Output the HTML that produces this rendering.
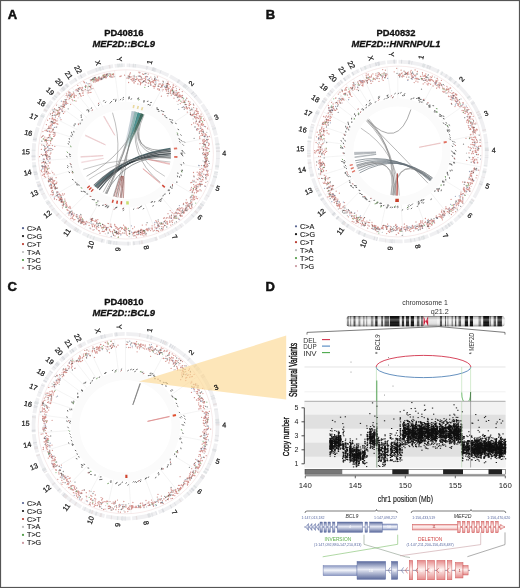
<!DOCTYPE html><html><head><meta charset="utf-8"><style>html,body{margin:0;padding:0;background:#fff;}svg{display:block;will-change:transform;}</style></head><body>
<svg width="520" height="588" viewBox="0 0 520 588" font-family='"Liberation Sans", sans-serif'>
<rect x="0" y="0" width="520" height="588" fill="#fff"/>
<defs><filter id="soft" x="0" y="0" width="1" height="1" color-interpolation-filters="sRGB"><feGaussianBlur stdDeviation="0.55"/></filter></defs>
<g filter="url(#soft)">
<text x="7.8" y="18.8" font-size="13" font-weight="bold" fill="#111" stroke="#111" stroke-width="0.5">A</text>
<text x="265.8" y="18.8" font-size="13" font-weight="bold" fill="#111" stroke="#111" stroke-width="0.5">B</text>
<text x="7.6" y="291" font-size="13" font-weight="bold" fill="#111" stroke="#111" stroke-width="0.5">C</text>
<text x="265.6" y="290.8" font-size="13" font-weight="bold" fill="#111" stroke="#111" stroke-width="0.5">D</text>
<text x="123.8" y="36.1" font-size="9.4" font-weight="bold" text-anchor="middle" fill="#111" stroke="#111" stroke-width="0.3">PD40816</text>
<text x="123.8" y="47.2" font-size="9.4" font-weight="bold" font-style="italic" text-anchor="middle" fill="#111" stroke="#111" stroke-width="0.3">MEF2D::BCL9</text>
<text x="396" y="36.2" font-size="9.4" font-weight="bold" text-anchor="middle" fill="#111" stroke="#111" stroke-width="0.3">PD40832</text>
<text x="396" y="47.3" font-size="9.4" font-weight="bold" font-style="italic" text-anchor="middle" fill="#111" stroke="#111" stroke-width="0.3">MEF2D::HNRNPUL1</text>
<text x="123.8" y="304.5" font-size="9.4" font-weight="bold" text-anchor="middle" fill="#111" stroke="#111" stroke-width="0.3">PD40810</text>
<text x="123.8" y="315.6" font-size="9.4" font-weight="bold" font-style="italic" text-anchor="middle" fill="#111" stroke="#111" stroke-width="0.3">MEF2D::BCL9</text>
<g><path d="M125.8 101.7A54.6 52.8 0 1 1 125.8 207.2A54.6 52.8 0 1 1 125.8 101.7Z M125.8 109.9A46.1 44.6 0 1 0 125.8 199A46.1 44.6 0 1 0 125.8 109.9Z" fill="#fbfbfb" fill-rule="evenodd"/>
<line x1="125.8" y1="101.7" x2="125.8" y2="69.8" stroke="#ededed" stroke-width="0.6"/>
<line x1="151.4" y1="107.9" x2="166.9" y2="79.8" stroke="#ededed" stroke-width="0.6"/>
<line x1="170.7" y1="124.5" x2="197.9" y2="106.5" stroke="#ededed" stroke-width="0.6"/>
<line x1="179.2" y1="143.7" x2="211.5" y2="137.2" stroke="#ededed" stroke-width="0.6"/>
<line x1="179.5" y1="163.9" x2="211.9" y2="169.7" stroke="#ededed" stroke-width="0.6"/>
<line x1="172.4" y1="181.9" x2="200.5" y2="198.5" stroke="#ededed" stroke-width="0.6"/>
<line x1="160.1" y1="195.5" x2="180.8" y2="220.2" stroke="#ededed" stroke-width="0.6"/>
<line x1="145" y1="203.9" x2="156.6" y2="233.7" stroke="#ededed" stroke-width="0.6"/>
<line x1="129.2" y1="207.1" x2="131.3" y2="238.9" stroke="#ededed" stroke-width="0.6"/>
<line x1="113.8" y1="205.9" x2="106.6" y2="237" stroke="#ededed" stroke-width="0.6"/>
<line x1="99.8" y1="200.9" x2="84.2" y2="228.9" stroke="#ededed" stroke-width="0.6"/>
<line x1="87.8" y1="192.4" x2="64.9" y2="215.3" stroke="#ededed" stroke-width="0.6"/>
<line x1="78.7" y1="181.2" x2="50.3" y2="197.4" stroke="#ededed" stroke-width="0.6"/>
<line x1="73.5" y1="169.9" x2="42" y2="179.2" stroke="#ededed" stroke-width="0.6"/>
<line x1="71.3" y1="158.5" x2="38.4" y2="160.9" stroke="#ededed" stroke-width="0.6"/>
<line x1="71.6" y1="147.5" x2="39" y2="143.2" stroke="#ededed" stroke-width="0.6"/>
<line x1="73.9" y1="138" x2="42.6" y2="128" stroke="#ededed" stroke-width="0.6"/>
<line x1="77.5" y1="129.8" x2="48.3" y2="114.9" stroke="#ededed" stroke-width="0.6"/>
<line x1="82.2" y1="122.6" x2="56" y2="103.3" stroke="#ededed" stroke-width="0.6"/>
<line x1="86.8" y1="117.5" x2="63.3" y2="95.2" stroke="#ededed" stroke-width="0.6"/>
<line x1="92.3" y1="112.7" x2="72.1" y2="87.6" stroke="#ededed" stroke-width="0.6"/>
<line x1="97.1" y1="109.5" x2="79.8" y2="82.4" stroke="#ededed" stroke-width="0.6"/>
<line x1="102.6" y1="106.7" x2="88.6" y2="77.8" stroke="#ededed" stroke-width="0.6"/>
<line x1="118.7" y1="102.1" x2="114.5" y2="70.5" stroke="#ededed" stroke-width="0.6"/>
<ellipse cx="125.8" cy="154.4" rx="87.6" ry="84.6" fill="none" stroke="#f2dede" stroke-width="0.6"/>
<path d="M126.6 63.5A94.2 91 0 0 1 169.3 73.8L167.6 77A90.4 87.4 0 0 0 126.5 67.1Z" fill="#f0f0f2"/>
<path d="M146.5 65.7A94.2 91 0 0 1 147.9 66L147 69.5A90.4 87.4 0 0 0 145.7 69.2Z" fill="#e6e0e1"/>
<path d="M146.5 65.7A94.2 91 0 0 1 148.3 66.1L147.4 69.6A90.4 87.4 0 0 0 145.7 69.2Z" fill="#e4e5e8"/>
<path d="M134.8 63.9A94.2 91 0 0 1 136.1 64L135.7 67.6A90.4 87.4 0 0 0 134.4 67.5Z" fill="#dfe3e4"/>
<path d="M160.9 70A94.2 91 0 0 1 161.5 70.3L160.1 73.7A90.4 87.4 0 0 0 159.5 73.4Z" fill="#dadce0"/>
<path d="M132.9 63.7A94.2 91 0 0 1 134.2 63.8L133.9 67.4A90.4 87.4 0 0 0 132.6 67.3Z" fill="#dfe0e3"/>
<path d="M152.7 67.2A94.2 91 0 0 1 153.8 67.6L152.6 71A90.4 87.4 0 0 0 151.6 70.7Z" fill="#e6e0e1"/>
<path d="M155.1 68A94.2 91 0 0 1 156.6 68.5L155.3 71.9A90.4 87.4 0 0 0 154 71.5Z" fill="#e4e5e8"/>
<path d="M153.8 67.6A94.2 91 0 0 1 155.6 68.1L154.4 71.6A90.4 87.4 0 0 0 152.7 71.1Z" fill="#dfe0e3"/>
<path d="M129.2 63.5A94.2 91 0 0 1 130 63.5L129.9 67.2A90.4 87.4 0 0 0 129.1 67.1Z" fill="#e4e5e8"/>
<path d="M152.8 67.3A94.2 91 0 0 1 154.5 67.8L153.4 71.3A90.4 87.4 0 0 0 151.8 70.8Z" fill="#dadce0"/>
<path d="M170.8 74.5A94.2 91 0 0 1 202.8 102.2L199.7 104.3A90.4 87.4 0 0 0 169 77.7Z" fill="#f0f0f2"/>
<path d="M186.5 84.9A94.2 91 0 0 1 187.9 86.1L185.4 88.8A90.4 87.4 0 0 0 184.1 87.7Z" fill="#dfe3e4"/>
<path d="M179.4 79.7A94.2 91 0 0 1 180.2 80.2L178 83.2A90.4 87.4 0 0 0 177.2 82.6Z" fill="#dfe0e3"/>
<path d="M193.5 91.3A94.2 91 0 0 1 194.4 92.2L191.6 94.6A90.4 87.4 0 0 0 190.8 93.8Z" fill="#dadce0"/>
<path d="M185.4 84A94.2 91 0 0 1 186.4 84.9L184 87.7A90.4 87.4 0 0 0 183 86.8Z" fill="#dfe0e3"/>
<path d="M194.9 92.7A94.2 91 0 0 1 195.6 93.4L192.8 95.8A90.4 87.4 0 0 0 192.1 95.1Z" fill="#e4e5e8"/>
<path d="M188.9 86.9A94.2 91 0 0 1 189.3 87.3L186.7 90A90.4 87.4 0 0 0 186.3 89.6Z" fill="#dfe3e4"/>
<path d="M196.6 94.5A94.2 91 0 0 1 197.3 95.3L194.5 97.7A90.4 87.4 0 0 0 193.7 96.9Z" fill="#dadce0"/>
<path d="M184.7 83.5A94.2 91 0 0 1 186.3 84.8L183.9 87.5A90.4 87.4 0 0 0 182.3 86.3Z" fill="#dfe0e3"/>
<path d="M178.7 79.2A94.2 91 0 0 1 180.3 80.3L178.1 83.3A90.4 87.4 0 0 0 176.5 82.2Z" fill="#dfe0e3"/>
<path d="M203.8 103.5A94.2 91 0 0 1 217.8 135.1L214.1 135.9A90.4 87.4 0 0 0 200.6 105.5Z" fill="#f0f0f2"/>
<path d="M211.9 117.7A94.2 91 0 0 1 212.7 119.6L209.2 121A90.4 87.4 0 0 0 208.4 119.2Z" fill="#e6e0e1"/>
<path d="M211.1 116.1A94.2 91 0 0 1 211.7 117.4L208.3 118.9A90.4 87.4 0 0 0 207.7 117.7Z" fill="#e4e5e8"/>
<path d="M215.7 127.7A94.2 91 0 0 1 216 128.6L212.4 129.6A90.4 87.4 0 0 0 212.1 128.8Z" fill="#dfe0e3"/>
<path d="M209.4 112.8A94.2 91 0 0 1 209.7 113.2L206.3 114.9A90.4 87.4 0 0 0 206.1 114.4Z" fill="#e6e0e1"/>
<path d="M215.5 127A94.2 91 0 0 1 215.7 127.7L212.1 128.7A90.4 87.4 0 0 0 211.9 128.1Z" fill="#e4e5e8"/>
<path d="M215 125.4A94.2 91 0 0 1 215.1 125.8L211.5 127A90.4 87.4 0 0 0 211.4 126.5Z" fill="#e6e0e1"/>
<path d="M215.9 128.3A94.2 91 0 0 1 216.2 129L212.5 130.1A90.4 87.4 0 0 0 212.3 129.4Z" fill="#dfe3e4"/>
<path d="M207.3 109A94.2 91 0 0 1 208 110.1L204.7 111.9A90.4 87.4 0 0 0 204.1 110.8Z" fill="#e4e5e8"/>
<path d="M218.1 136.7A94.2 91 0 0 1 218.5 170L214.8 169.4A90.4 87.4 0 0 0 214.4 137.4Z" fill="#f0f0f2"/>
<path d="M219.8 150.6A94.2 91 0 0 1 219.9 151.7L216.1 151.8A90.4 87.4 0 0 0 216.1 150.8Z" fill="#e6e0e1"/>
<path d="M219.8 150.7A94.2 91 0 0 1 219.9 151.5L216.1 151.6A90.4 87.4 0 0 0 216.1 150.8Z" fill="#dadce0"/>
<path d="M219.2 165.5A94.2 91 0 0 1 218.9 167.5L215.2 167A90.4 87.4 0 0 0 215.5 165.1Z" fill="#dfe3e4"/>
<path d="M219.6 146.8A94.2 91 0 0 1 219.7 148.7L216 148.9A90.4 87.4 0 0 0 215.8 147.1Z" fill="#e4e5e8"/>
<path d="M219.1 142.9A94.2 91 0 0 1 219.4 144.9L215.6 145.3A90.4 87.4 0 0 0 215.4 143.4Z" fill="#dfe3e4"/>
<path d="M219.8 158.1A94.2 91 0 0 1 219.8 158.7L216 158.5A90.4 87.4 0 0 0 216.1 157.9Z" fill="#e4e5e8"/>
<path d="M219.2 143.8A94.2 91 0 0 1 219.4 144.6L215.6 145A90.4 87.4 0 0 0 215.5 144.2Z" fill="#dfe3e4"/>
<path d="M219.6 147.6A94.2 91 0 0 1 219.7 148.6L215.9 148.8A90.4 87.4 0 0 0 215.9 147.9Z" fill="#dfe0e3"/>
<path d="M218.2 171.6A94.2 91 0 0 1 206.6 201.1L203.4 199.2A90.4 87.4 0 0 0 214.5 170.9Z" fill="#f0f0f2"/>
<path d="M217.7 173.9A94.2 91 0 0 1 217.5 174.7L213.9 173.9A90.4 87.4 0 0 0 214 173.1Z" fill="#e4e5e8"/>
<path d="M218.1 172.1A94.2 91 0 0 1 217.9 173.1L214.2 172.4A90.4 87.4 0 0 0 214.4 171.4Z" fill="#dfe3e4"/>
<path d="M214.3 185.4A94.2 91 0 0 1 213.5 187.3L210 186A90.4 87.4 0 0 0 210.7 184.2Z" fill="#e6e0e1"/>
<path d="M209.3 196.4A94.2 91 0 0 1 208.9 197.1L205.6 195.3A90.4 87.4 0 0 0 205.9 194.8Z" fill="#e6e0e1"/>
<path d="M216.9 177.3A94.2 91 0 0 1 216.7 177.9L213.1 177A90.4 87.4 0 0 0 213.3 176.3Z" fill="#e4e5e8"/>
<path d="M209.5 196A94.2 91 0 0 1 209.1 196.8L205.7 195.1A90.4 87.4 0 0 0 206.1 194.4Z" fill="#e4e5e8"/>
<path d="M217.1 176.5A94.2 91 0 0 1 216.7 177.9L213.1 177A90.4 87.4 0 0 0 213.4 175.6Z" fill="#dfe3e4"/>
<path d="M205.7 202.4A94.2 91 0 0 1 185.6 224.7L183.2 221.9A90.4 87.4 0 0 0 202.5 200.5Z" fill="#f0f0f2"/>
<path d="M202.4 207.3A94.2 91 0 0 1 201.2 208.9L198.2 206.7A90.4 87.4 0 0 0 199.3 205.2Z" fill="#e6e0e1"/>
<path d="M194.5 216.6A94.2 91 0 0 1 193.7 217.5L191 214.9A90.4 87.4 0 0 0 191.7 214.1Z" fill="#dfe0e3"/>
<path d="M203.9 205.2A94.2 91 0 0 1 203.2 206.2L200.1 204.2A90.4 87.4 0 0 0 200.8 203.1Z" fill="#dadce0"/>
<path d="M201.6 208.3A94.2 91 0 0 1 200.7 209.6L197.7 207.4A90.4 87.4 0 0 0 198.6 206.2Z" fill="#dadce0"/>
<path d="M198.2 212.6A94.2 91 0 0 1 196.9 214L194.1 211.6A90.4 87.4 0 0 0 195.3 210.2Z" fill="#e6e0e1"/>
<path d="M200.6 209.6A94.2 91 0 0 1 200.2 210.2L197.2 208A90.4 87.4 0 0 0 197.6 207.4Z" fill="#dfe0e3"/>
<path d="M203.6 205.6A94.2 91 0 0 1 202.9 206.6L199.8 204.5A90.4 87.4 0 0 0 200.5 203.5Z" fill="#dfe3e4"/>
<path d="M184.3 225.7A94.2 91 0 0 1 159.7 239.3L158.3 235.9A90.4 87.4 0 0 0 182 222.8Z" fill="#f0f0f2"/>
<path d="M169.7 234.9A94.2 91 0 0 1 168.8 235.4L167.1 232.1A90.4 87.4 0 0 0 167.9 231.7Z" fill="#e4e5e8"/>
<path d="M166.2 236.6A94.2 91 0 0 1 165.7 236.9L164.1 233.6A90.4 87.4 0 0 0 164.6 233.3Z" fill="#e6e0e1"/>
<path d="M173.9 232.7A94.2 91 0 0 1 173.4 233L171.5 229.8A90.4 87.4 0 0 0 171.9 229.5Z" fill="#e4e5e8"/>
<path d="M177.8 230.3A94.2 91 0 0 1 176.7 231L174.6 227.9A90.4 87.4 0 0 0 175.7 227.2Z" fill="#e4e5e8"/>
<path d="M182.2 227.2A94.2 91 0 0 1 181.7 227.7L179.4 224.7A90.4 87.4 0 0 0 180 224.3Z" fill="#e6e0e1"/>
<path d="M158.1 239.9A94.2 91 0 0 1 132.6 245.2L132.3 241.6A90.4 87.4 0 0 0 156.8 236.5Z" fill="#f0f0f2"/>
<path d="M140.6 244.3A94.2 91 0 0 1 139.2 244.5L138.6 240.9A90.4 87.4 0 0 0 140 240.7Z" fill="#e4e5e8"/>
<path d="M143.2 243.9A94.2 91 0 0 1 141.2 244.2L140.6 240.6A90.4 87.4 0 0 0 142.5 240.3Z" fill="#e6e0e1"/>
<path d="M134.9 245A94.2 91 0 0 1 133.3 245.2L133 241.5A90.4 87.4 0 0 0 134.5 241.4Z" fill="#dfe0e3"/>
<path d="M157.6 240.1A94.2 91 0 0 1 156.1 240.6L154.9 237.1A90.4 87.4 0 0 0 156.3 236.7Z" fill="#e6e0e1"/>
<path d="M156.4 240.5A94.2 91 0 0 1 155.5 240.8L154.3 237.3A90.4 87.4 0 0 0 155.2 237Z" fill="#e4e5e8"/>
<path d="M130.9 245.3A94.2 91 0 0 1 105.9 243.4L106.7 239.8A90.4 87.4 0 0 0 130.7 241.7Z" fill="#f0f0f2"/>
<path d="M117.2 245.1A94.2 91 0 0 1 115.5 244.9L115.9 241.3A90.4 87.4 0 0 0 117.5 241.4Z" fill="#e4e5e8"/>
<path d="M111 244.3A94.2 91 0 0 1 109.1 244L109.7 240.4A90.4 87.4 0 0 0 111.6 240.7Z" fill="#dadce0"/>
<path d="M128.8 245.4A94.2 91 0 0 1 127.5 245.4L127.4 241.8A90.4 87.4 0 0 0 128.7 241.8Z" fill="#dfe0e3"/>
<path d="M109.1 244A94.2 91 0 0 1 107.9 243.8L108.6 240.2A90.4 87.4 0 0 0 109.8 240.4Z" fill="#dfe0e3"/>
<path d="M109.3 244A94.2 91 0 0 1 107.9 243.8L108.6 240.2A90.4 87.4 0 0 0 109.9 240.5Z" fill="#dfe3e4"/>
<path d="M114.3 244.8A94.2 91 0 0 1 113.2 244.6L113.7 241A90.4 87.4 0 0 0 114.7 241.2Z" fill="#dfe0e3"/>
<path d="M104.3 243.1A94.2 91 0 0 1 81.8 234.9L83.5 231.7A90.4 87.4 0 0 0 105.2 239.5Z" fill="#f0f0f2"/>
<path d="M90.3 238.8A94.2 91 0 0 1 89.7 238.5L91.2 235.2A90.4 87.4 0 0 0 91.7 235.4Z" fill="#dfe0e3"/>
<path d="M87.7 237.7A94.2 91 0 0 1 86.6 237.2L88.2 233.9A90.4 87.4 0 0 0 89.2 234.3Z" fill="#dfe3e4"/>
<path d="M93.7 240A94.2 91 0 0 1 92.5 239.6L93.9 236.2A90.4 87.4 0 0 0 95 236.6Z" fill="#dfe3e4"/>
<path d="M102.3 242.6A94.2 91 0 0 1 100.7 242.2L101.7 238.7A90.4 87.4 0 0 0 103.3 239.1Z" fill="#dfe0e3"/>
<path d="M80.3 234.2A94.2 91 0 0 1 60.9 220.5L63.5 217.8A90.4 87.4 0 0 0 82.1 231Z" fill="#f0f0f2"/>
<path d="M73.9 230.4A94.2 91 0 0 1 73.4 230.1L75.5 227.1A90.4 87.4 0 0 0 76 227.4Z" fill="#dfe0e3"/>
<path d="M75.5 231.4A94.2 91 0 0 1 74.2 230.6L76.2 227.5A90.4 87.4 0 0 0 77.6 228.4Z" fill="#e6e0e1"/>
<path d="M64.9 223.9A94.2 91 0 0 1 63.7 222.9L66.2 220.1A90.4 87.4 0 0 0 67.3 221.1Z" fill="#e6e0e1"/>
<path d="M75 231.1A94.2 91 0 0 1 74.6 230.8L76.6 227.8A90.4 87.4 0 0 0 77.1 228Z" fill="#dadce0"/>
<path d="M77.3 232.5A94.2 91 0 0 1 76 231.7L78 228.6A90.4 87.4 0 0 0 79.3 229.4Z" fill="#dfe3e4"/>
<path d="M59.8 219.4A94.2 91 0 0 1 45 201.3L48.3 199.4A90.4 87.4 0 0 0 62.4 216.8Z" fill="#f0f0f2"/>
<path d="M56.9 216.6A94.2 91 0 0 1 55.6 215.2L58.4 212.7A90.4 87.4 0 0 0 59.7 214.1Z" fill="#e6e0e1"/>
<path d="M51.8 210.8A94.2 91 0 0 1 51.3 210.1L54.3 207.9A90.4 87.4 0 0 0 54.8 208.6Z" fill="#e6e0e1"/>
<path d="M49.4 207.7A94.2 91 0 0 1 49 207.1L52 205A90.4 87.4 0 0 0 52.5 205.6Z" fill="#e6e0e1"/>
<path d="M47.6 205.1A94.2 91 0 0 1 46.6 203.7L49.8 201.8A90.4 87.4 0 0 0 50.7 203.1Z" fill="#e4e5e8"/>
<path d="M46.5 203.7A94.2 91 0 0 1 45.9 202.7L49.1 200.8A90.4 87.4 0 0 0 49.7 201.7Z" fill="#dfe3e4"/>
<path d="M44.2 199.9A94.2 91 0 0 1 36 181.8L39.6 180.7A90.4 87.4 0 0 0 47.5 198.1Z" fill="#f0f0f2"/>
<path d="M36.5 183.3A94.2 91 0 0 1 36.2 182.5L39.8 181.4A90.4 87.4 0 0 0 40 182.2Z" fill="#e4e5e8"/>
<path d="M39.6 191.2A94.2 91 0 0 1 38.9 189.5L42.3 188.1A90.4 87.4 0 0 0 43 189.7Z" fill="#dfe0e3"/>
<path d="M37.9 187.2A94.2 91 0 0 1 37.2 185.4L40.7 184.1A90.4 87.4 0 0 0 41.4 185.9Z" fill="#dadce0"/>
<path d="M37.1 185.2A94.2 91 0 0 1 36.9 184.6L40.5 183.3A90.4 87.4 0 0 0 40.7 183.9Z" fill="#e6e0e1"/>
<path d="M41.5 195.1A94.2 91 0 0 1 41.2 194.4L44.5 192.8A90.4 87.4 0 0 0 44.9 193.5Z" fill="#e6e0e1"/>
<path d="M35.5 180.3A94.2 91 0 0 1 31.9 162.2L35.7 161.9A90.4 87.4 0 0 0 39.1 179.3Z" fill="#f0f0f2"/>
<path d="M33.7 173.4A94.2 91 0 0 1 33.4 172.2L37.1 171.5A90.4 87.4 0 0 0 37.4 172.7Z" fill="#dadce0"/>
<path d="M32.6 167.4A94.2 91 0 0 1 32.3 165.6L36 165.1A90.4 87.4 0 0 0 36.3 166.9Z" fill="#dfe3e4"/>
<path d="M33.4 172.2A94.2 91 0 0 1 33.3 171.6L37 170.9A90.4 87.4 0 0 0 37.1 171.5Z" fill="#dfe0e3"/>
<path d="M34.1 175.3A94.2 91 0 0 1 33.8 173.9L37.5 173.1A90.4 87.4 0 0 0 37.8 174.5Z" fill="#dadce0"/>
<path d="M31.8 160.6A94.2 91 0 0 1 32.3 143.1L36.1 143.6A90.4 87.4 0 0 0 35.6 160.3Z" fill="#f0f0f2"/>
<path d="M31.7 150.6A94.2 91 0 0 1 31.7 149.7L35.5 149.8A90.4 87.4 0 0 0 35.4 150.8Z" fill="#dfe3e4"/>
<path d="M31.8 160.3A94.2 91 0 0 1 31.7 159.6L35.5 159.4A90.4 87.4 0 0 0 35.5 160Z" fill="#e6e0e1"/>
<path d="M31.6 157.3A94.2 91 0 0 1 31.6 155.6L35.4 155.5A90.4 87.4 0 0 0 35.4 157.2Z" fill="#dadce0"/>
<path d="M31.6 156.4A94.2 91 0 0 1 31.6 155.7L35.4 155.7A90.4 87.4 0 0 0 35.4 156.4Z" fill="#dfe0e3"/>
<path d="M32.5 141.6A94.2 91 0 0 1 36.1 126.7L39.7 127.9A90.4 87.4 0 0 0 36.3 142.1Z" fill="#f0f0f2"/>
<path d="M32.8 140A94.2 91 0 0 1 33 138.7L36.7 139.3A90.4 87.4 0 0 0 36.5 140.5Z" fill="#dadce0"/>
<path d="M33 138.6A94.2 91 0 0 1 33.3 137.4L37 138.1A90.4 87.4 0 0 0 36.7 139.2Z" fill="#e4e5e8"/>
<path d="M36.6 125.3A94.2 91 0 0 1 42.1 112.7L45.5 114.3A90.4 87.4 0 0 0 40.1 126.4Z" fill="#f0f0f2"/>
<path d="M40.3 116.2A94.2 91 0 0 1 41.1 114.7L44.5 116.3A90.4 87.4 0 0 0 43.8 117.7Z" fill="#dfe3e4"/>
<path d="M40.3 116.2A94.2 91 0 0 1 40.7 115.5L44.1 117A90.4 87.4 0 0 0 43.8 117.7Z" fill="#dadce0"/>
<path d="M40.7 115.4A94.2 91 0 0 1 41.3 114.2L44.7 115.8A90.4 87.4 0 0 0 44.1 116.9Z" fill="#dfe3e4"/>
<path d="M42.9 111.3A94.2 91 0 0 1 50.2 100.1L53.3 102.3A90.4 87.4 0 0 0 46.2 113Z" fill="#f0f0f2"/>
<path d="M46.3 105.6A94.2 91 0 0 1 47.5 103.8L50.6 105.9A90.4 87.4 0 0 0 49.5 107.5Z" fill="#e4e5e8"/>
<path d="M45.6 106.8A94.2 91 0 0 1 46.5 105.3L49.7 107.3A90.4 87.4 0 0 0 48.8 108.7Z" fill="#e4e5e8"/>
<path d="M43.4 110.3A94.2 91 0 0 1 44.4 108.6L47.7 110.4A90.4 87.4 0 0 0 46.7 112Z" fill="#e6e0e1"/>
<path d="M51.2 98.9A94.2 91 0 0 1 58 91.3L60.7 93.8A90.4 87.4 0 0 0 54.2 101.1Z" fill="#f0f0f2"/>
<path d="M52 97.8A94.2 91 0 0 1 52.8 96.9L55.7 99.2A90.4 87.4 0 0 0 55 100.1Z" fill="#dfe0e3"/>
<path d="M53.7 95.9A94.2 91 0 0 1 54.6 94.9L57.4 97.2A90.4 87.4 0 0 0 56.6 98.2Z" fill="#dfe3e4"/>
<path d="M56.6 92.7A94.2 91 0 0 1 58 91.3L60.7 93.8A90.4 87.4 0 0 0 59.3 95.2Z" fill="#e6e0e1"/>
<path d="M59.1 90.1A94.2 91 0 0 1 67.4 83L69.8 85.9A90.4 87.4 0 0 0 61.8 92.7Z" fill="#f0f0f2"/>
<path d="M61.8 87.7A94.2 91 0 0 1 63.3 86.3L65.8 89.1A90.4 87.4 0 0 0 64.3 90.4Z" fill="#dfe0e3"/>
<path d="M65 84.9A94.2 91 0 0 1 66.5 83.8L68.8 86.6A90.4 87.4 0 0 0 67.5 87.7Z" fill="#dfe0e3"/>
<path d="M60.8 88.5A94.2 91 0 0 1 62.3 87.2L64.8 89.9A90.4 87.4 0 0 0 63.4 91.2Z" fill="#dfe0e3"/>
<path d="M68.7 82.1A94.2 91 0 0 1 75.7 77.4L77.7 80.5A90.4 87.4 0 0 0 71 85Z" fill="#f0f0f2"/>
<path d="M74.2 78.3A94.2 91 0 0 1 75 77.8L77.1 80.9A90.4 87.4 0 0 0 76.2 81.4Z" fill="#dfe0e3"/>
<path d="M77 76.6A94.2 91 0 0 1 85 72.4L86.7 75.7A90.4 87.4 0 0 0 79 79.7Z" fill="#f0f0f2"/>
<path d="M79.8 75A94.2 91 0 0 1 80.3 74.7L82.1 77.9A90.4 87.4 0 0 0 81.6 78.2Z" fill="#e6e0e1"/>
<path d="M79.7 75.1A94.2 91 0 0 1 80.8 74.5L82.6 77.7A90.4 87.4 0 0 0 81.6 78.2Z" fill="#dadce0"/>
<path d="M86.5 71.7A94.2 91 0 0 1 112.8 64.3L113.3 67.9A90.4 87.4 0 0 0 88.1 75Z" fill="#f0f0f2"/>
<path d="M99 67.2A94.2 91 0 0 1 99.6 67L100.6 70.5A90.4 87.4 0 0 0 100.1 70.7Z" fill="#dfe0e3"/>
<path d="M97.5 67.6A94.2 91 0 0 1 98 67.5L99.1 71A90.4 87.4 0 0 0 98.6 71.1Z" fill="#dfe3e4"/>
<path d="M95.1 68.4A94.2 91 0 0 1 96.7 67.9L97.9 71.3A90.4 87.4 0 0 0 96.3 71.9Z" fill="#e4e5e8"/>
<path d="M98.6 67.3A94.2 91 0 0 1 100.7 66.7L101.7 70.3A90.4 87.4 0 0 0 99.7 70.8Z" fill="#dfe3e4"/>
<path d="M108.5 65A94.2 91 0 0 1 110.1 64.7L110.7 68.3A90.4 87.4 0 0 0 109.2 68.6Z" fill="#e6e0e1"/>
<path d="M101.5 66.5A94.2 91 0 0 1 103 66.1L104 69.7A90.4 87.4 0 0 0 102.4 70Z" fill="#e4e5e8"/>
<path d="M114.4 64.1A94.2 91 0 0 1 124.9 63.5L125 67.1A90.4 87.4 0 0 0 114.9 67.7Z" fill="#f0f0f2"/>
<path d="M119 63.7A94.2 91 0 0 1 120.4 63.6L120.7 67.2A90.4 87.4 0 0 0 119.3 67.3Z" fill="#dfe3e4"/>
<path d="M121.1 63.6A94.2 91 0 0 1 122.5 63.5L122.6 67.1A90.4 87.4 0 0 0 121.3 67.2Z" fill="#dfe3e4"/>
<path d="M117.1 63.8A94.2 91 0 0 1 118.7 63.7L119 67.3A90.4 87.4 0 0 0 117.5 67.5Z" fill="#dfe3e4"/>
<text x="149.6" y="62.1" transform="rotate(-76 149.6 62.1)" text-anchor="middle" dy="2.55" font-size="7.2" fill="#222" stroke="#222" stroke-width="0.25">1</text>
<text x="191.3" y="83.4" transform="rotate(-48.2 191.3 83.4)" text-anchor="middle" dy="2.55" font-size="7.2" fill="#222" stroke="#222" stroke-width="0.25">2</text>
<text x="216.3" y="117" transform="rotate(-23.2 216.3 117)" text-anchor="middle" dy="2.55" font-size="7.2" fill="#222" stroke="#222" stroke-width="0.25">3</text>
<text x="224.2" y="153.3" transform="rotate(-0.7 224.2 153.3)" text-anchor="middle" dy="2.55" font-size="7.2" fill="#222" stroke="#222" stroke-width="0.25">4</text>
<text x="217.8" y="188.3" transform="rotate(20.8 217.8 188.3)" text-anchor="middle" dy="2.55" font-size="7.2" fill="#222" stroke="#222" stroke-width="0.25">5</text>
<text x="199.9" y="217.1" transform="rotate(41.2 199.9 217.1)" text-anchor="middle" dy="2.55" font-size="7.2" fill="#222" stroke="#222" stroke-width="0.25">6</text>
<text x="174.7" y="237.1" transform="rotate(60.2 174.7 237.1)" text-anchor="middle" dy="2.55" font-size="7.2" fill="#222" stroke="#222" stroke-width="0.25">7</text>
<text x="146.4" y="247.5" transform="rotate(77.9 146.4 247.5)" text-anchor="middle" dy="2.55" font-size="7.2" fill="#222" stroke="#222" stroke-width="0.25">8</text>
<text x="118" y="249.4" transform="rotate(-85.5 118 249.4)" text-anchor="middle" dy="2.55" font-size="7.2" fill="#222" stroke="#222" stroke-width="0.25">9</text>
<text x="90.7" y="244.9" transform="rotate(-69.5 90.7 244.9)" text-anchor="middle" dy="2.55" font-size="7.2" fill="#222" stroke="#222" stroke-width="0.25">10</text>
<text x="66.8" y="232.4" transform="rotate(-53.8 66.8 232.4)" text-anchor="middle" dy="2.55" font-size="7.2" fill="#222" stroke="#222" stroke-width="0.25">11</text>
<text x="47.3" y="214.2" transform="rotate(-38.3 47.3 214.2)" text-anchor="middle" dy="2.55" font-size="7.2" fill="#222" stroke="#222" stroke-width="0.25">12</text>
<text x="34.3" y="193.3" transform="rotate(-23.7 34.3 193.3)" text-anchor="middle" dy="2.55" font-size="7.2" fill="#222" stroke="#222" stroke-width="0.25">13</text>
<text x="27.6" y="172.4" transform="rotate(-10.7 27.6 172.4)" text-anchor="middle" dy="2.55" font-size="7.2" fill="#222" stroke="#222" stroke-width="0.25">14</text>
<text x="25.9" y="151.7" transform="rotate(1.6 25.9 151.7)" text-anchor="middle" dy="2.55" font-size="7.2" fill="#222" stroke="#222" stroke-width="0.25">15</text>
<text x="28.4" y="132.9" transform="rotate(12.9 28.4 132.9)" text-anchor="middle" dy="2.55" font-size="7.2" fill="#222" stroke="#222" stroke-width="0.25">16</text>
<text x="33.8" y="116.7" transform="rotate(23 33.8 116.7)" text-anchor="middle" dy="2.55" font-size="7.2" fill="#222" stroke="#222" stroke-width="0.25">17</text>
<text x="41.5" y="102.6" transform="rotate(32.5 41.5 102.6)" text-anchor="middle" dy="2.55" font-size="7.2" fill="#222" stroke="#222" stroke-width="0.25">18</text>
<text x="50.1" y="91.3" transform="rotate(40.8 50.1 91.3)" text-anchor="middle" dy="2.55" font-size="7.2" fill="#222" stroke="#222" stroke-width="0.25">19</text>
<text x="59.3" y="82.3" transform="rotate(48.3 59.3 82.3)" text-anchor="middle" dy="2.55" font-size="7.2" fill="#222" stroke="#222" stroke-width="0.25">20</text>
<text x="68.8" y="75.1" transform="rotate(55.3 68.8 75.1)" text-anchor="middle" dy="2.55" font-size="7.2" fill="#222" stroke="#222" stroke-width="0.25">21</text>
<text x="78.2" y="69.5" transform="rotate(61.6 78.2 69.5)" text-anchor="middle" dy="2.55" font-size="7.2" fill="#222" stroke="#222" stroke-width="0.25">22</text>
<text x="98.1" y="62.8" transform="rotate(73.7 98.1 62.8)" text-anchor="middle" dy="2.55" font-size="7.2" fill="#222" stroke="#222" stroke-width="0.25">X</text>
<text x="119.4" y="59.2" transform="rotate(86.3 119.4 59.2)" text-anchor="middle" dy="2.55" font-size="7.2" fill="#222" stroke="#222" stroke-width="0.25">Y</text>
<path d="M160.7 87.4h0M144.9 80.7h0M159.5 89.7h0M145.5 76.7h0M148.2 74.1h0M143.6 81.4h0M155.3 85.8h0M149.4 80.6h0M153.6 86.3h0M150.9 84.2h0M154.5 79.3h0M135.4 81.3h0M141.7 79.7h0M148.2 83.6h0M154.4 80.5h0M158.9 84.2h0M130.4 72.9h0M154 86.5h0M159.2 90.2h0M151.7 81.9h0M130.5 77.1h0M163.1 84.5h0M128.6 82.5h0M144.1 78.4h0M133.2 78.1h0M132.4 80.9h0M158.2 86.1h0M140.4 84.7h0M157.4 77h0M140.6 83.8h0M139.7 75.9h0M150.3 83.5h0M140.3 82.2h0M152.5 81.4h0M153.6 82.5h0M128.3 78.6h0M159.8 83.9h0M128.2 75.8h0M145.6 77.1h0M158.9 88.9h0M137 79h0M137 78.5h0M162.9 81.1h0M144 80.6h0M155 86.5h0M149.6 80.8h0M131.2 76.8h0M150.8 77.1h0M160.2 84h0M142.3 79h0M145.2 85h0M146.2 82.6h0M134 81.9h0M154.1 88.1h0M143.5 74.4h0M129.7 74.2h0M151.8 81.6h0M150.5 82.6h0M153 82.6h0M153.7 80.7h0M142 82.7h0M139.3 72.8h0M139.5 81.3h0M147.5 76.7h0M133.2 76.1h0M145.2 81.6h0M161.6 85.4h0M154.9 84h0M154.8 79h0M154.6 80.5h0M134.1 83h0M139 79.3h0M140.8 83.6h0M162.6 85.4h0M133.9 80h0M139 72.2h0M156.1 80.1h0M157.5 89h0M148.7 79.8h0M155.1 80.6h0M141.2 76.8h0M136.5 79.5h0M153 81.2h0M136.4 76.8h0M149.9 81.6h0M158 80.2h0M148.3 80.3h0M134.2 78.6h0M132.3 78.8h0M140.3 76.5h0M162.3 84.1h0M126.9 78.1h0M134 80.1h0M140.3 79.7h0M151.9 79.1h0M138.6 79.9h0M131.6 79.8h0M140.6 83.2h0M129.9 76.8h0M129.2 76.4h0M145.6 79.4h0M137.9 84h0M142.5 73.9h0M148.4 82.8h0M150.3 81.9h0M145.8 78.1h0M153.2 86.2h0M133.7 79.3h0M138.4 80.7h0M161.9 86.9h0M130.9 79.3h0M173.2 85h0M168 81.9h0M176 93.6h0M178.1 96.1h0M179.6 99.8h0M174.3 92.9h0M186.7 98.1h0M189 105.2h0M178.6 100.6h0M189 107.4h0M171.3 95.2h0M166.5 90.9h0M184.4 101.4h0M177.6 94h0M168.2 88.3h0M173.5 92h0M187.5 108.2h0M167.7 83.6h0M173.6 85.2h0M182.3 91.6h0M186.6 107.7h0M183.6 102.2h0M174 91.8h0M168.4 91.7h0M180.3 103.6h0M173.7 87.3h0M177 95.8h0M167 87.7h0M174.8 95.3h0M183.2 100.1h0M179.7 97.1h0M185.2 104.7h0M172 90.1h0M181.8 97.7h0M180.2 95.3h0M175.8 86.7h0M182.5 95.5h0M170.2 86.8h0M180.5 96.6h0M167.6 86.9h0M187.3 112.1h0M172.5 89.6h0M175.6 94.8h0M170.2 92.2h0M189.5 108.3h0M193.6 107.6h0M190.6 104.4h0M171.9 89h0M172.6 87.2h0M170.5 90.2h0M184.3 101.3h0M187.1 108.9h0M165.6 89.6h0M168.3 83.3h0M165.2 87.4h0M176.9 95h0M184.2 102.1h0M177.5 93.2h0M173.9 94.2h0M167.8 95.8h0M179 92.7h0M179.9 95.6h0M178 92.5h0M169.2 84.6h0M163.1 89.7h0M167.9 84.5h0M179.2 94.9h0M166.4 84h0M182 102.3h0M188.6 101.5h0M179.5 89.5h0M170.4 86.7h0M186.8 98.4h0M171.7 90.7h0M184.3 107.5h0M181.5 96h0M173.3 93.7h0M168 87.8h0M185.9 108.1h0M170.4 93.3h0M176.4 90.3h0M174 98.2h0M189.4 103.7h0M172.7 88.9h0M176.8 94.8h0M193.8 105.2h0M191.1 109.8h0M179.2 95.6h0M186.6 104.6h0M188.4 101.3h0M184.8 101h0M166.8 89.5h0M178.8 96.4h0M169 88.4h0M170.5 91.7h0M167.1 85.9h0M161.4 96.2h0M189.5 105.4h0M190 102.1h0M167.1 93.4h0M197.3 111.5h0M202.8 129.3h0M195.9 116.7h0M198.7 129.1h0M200.2 116.2h0M198.4 125.9h0M192.6 114.5h0M202.6 122.8h0M202.2 124.1h0M198.4 113.6h0M197.5 113.1h0M197 128.9h0M193.4 114.3h0M195.8 123h0M200.3 126.8h0M199.2 122.4h0M203.6 118.9h0M201.1 114.1h0M196.8 115.1h0M194.6 112.1h0M201 124.9h0M201.6 133.6h0M193.7 123h0M199.8 138.5h0M205.3 133.9h0M196.8 108.6h0M197.6 128.7h0M192.1 115.5h0M198.4 111.8h0M201.3 130.7h0M191.6 124.6h0M201.9 129.5h0M195.8 118.7h0M204.4 120.4h0M201.5 130.9h0M196.2 118.8h0M192.9 115.2h0M201.5 120.5h0M190.9 114.9h0M190.4 113h0M198.1 118.6h0M190.4 114.5h0M207.3 137h0M194.9 114.4h0M196 117.5h0M201 135.6h0M200.1 117.1h0M196.7 111.4h0M202 131.8h0M199.9 122.2h0M198.8 125h0M203.2 134.1h0M196.6 113.9h0M195.3 110.7h0M205.2 135.2h0M205.5 126.7h0M202.5 135.4h0M200.2 131.1h0M200.5 118.8h0M196.7 110h0M200.1 120.4h0M196.5 121h0M202.9 125.5h0M201.4 123.7h0M197.3 117.4h0M202.5 134.1h0M209.3 136.4h0M198.6 118.4h0M203.1 131h0M199.6 136.9h0M206.3 134.9h0M199.4 131.8h0M198.6 118.4h0M192.7 114.7h0M201.4 125.1h0M197.8 123.8h0M197 130.2h0M196.1 114.5h0M200.7 118.5h0M200.1 120h0M197.3 124.3h0M201.8 129.4h0M199.2 116h0M207.5 128.1h0M203.5 124.3h0M194.6 117.6h0M201.9 116.3h0M201.6 124.8h0M205.1 154.5h0M205.3 147.6h0M203.1 140.2h0M206.9 147.5h0M207 147.3h0M207.4 164.4h0M203.2 154.7h0M206 158.1h0M207.9 153.6h0M208.5 145.5h0M207.3 140.9h0M204.6 141.1h0M205.2 161.6h0M204.3 154.3h0M205 144.9h0M205.1 153.1h0M205.8 167.1h0M207.4 166.7h0M206.5 156.7h0M205.4 158.9h0M204.8 167h0M208.6 148.6h0M206.1 155.9h0M206.1 158.5h0M208.6 143.1h0M205.7 161.6h0M207.2 158.5h0M204.8 141.5h0M205.9 167.6h0M203.4 150.2h0M204.9 162.5h0M203.1 141.4h0M209.1 144.7h0M207.6 160.1h0M205.1 149.9h0M209.2 144h0M207.1 147.9h0M207.3 155.4h0M205 166.2h0M206.3 161h0M204.2 166.8h0M208.3 139.3h0M205.9 140.6h0M204.8 153.5h0M202.1 148.2h0M206 149.8h0M207.3 148.2h0M204.3 154.6h0M205.3 147.5h0M203.9 143.9h0M203.6 142.3h0M206.8 165.8h0M204.1 139.4h0M208.1 152.4h0M207.2 153h0M204.5 141.8h0M205.3 162.9h0M205 153.2h0M208.9 148.8h0M206.1 162.1h0M204.6 165.4h0M207.3 166.1h0M205.8 167.3h0M205.5 144.5h0M200 143.6h0M206 164.1h0M201.6 165.6h0M205.2 159h0M203.7 148.9h0M205 163.8h0M206.3 160.5h0M199.6 149h0M208 154.3h0M205.9 154.3h0M203.3 152.3h0M206.3 152.8h0M205.1 147h0M202.4 143.3h0M204.5 157.7h0M205 140.6h0M202.6 140.2h0M196.5 190.6h0M203.4 177.6h0M197.3 191.4h0M205.8 182.3h0M198 179.7h0M194.7 187.3h0M201.1 190.8h0M196 187.1h0M190.8 182.7h0M193.5 172.5h0M199.7 175h0M203 179.9h0M198.1 175h0M197.9 184.5h0M200.1 175.9h0M196 182.2h0M195.7 189.5h0M206.4 170.1h0M207.9 174h0M197.2 172.2h0M199.5 173.8h0M200.3 174.2h0M200.8 172.3h0M198.7 191h0M193.6 189.7h0M206.8 176.1h0M197.2 190.7h0M200.1 184.7h0M198.2 186.8h0M196.5 185.2h0M202.3 184.4h0M201.9 175.3h0M199.4 184.2h0M196.8 187.8h0M195.2 185.3h0M201.7 181.5h0M196.7 188.8h0M204.1 169.8h0M193.6 184.6h0M192.9 180.3h0M203.4 169.2h0M191.7 182.4h0M194.2 186.9h0M206.4 174.3h0M197.6 179.4h0M201.1 184.5h0M205.6 175.3h0M194.6 192.8h0M207.1 171.2h0M198.7 173.2h0M190.2 190.4h0M200 169.4h0M195.7 189.4h0M192.5 192h0M196.6 192.7h0M200.1 181.6h0M198.8 177.8h0M200.4 184.6h0M200 189.7h0M208 175.2h0M198.9 184.8h0M191.5 187.3h0M208.2 170.8h0M207.5 172.1h0M191.1 189.7h0M203.8 174.2h0M206.9 174.3h0M199.5 172h0M203.2 169.9h0M206.1 179h0M202.3 179.5h0M193 190.5h0M195 186.8h0M202.5 171.7h0M204.8 185.9h0M194.3 192.8h0M199.4 183.4h0M200.6 175.8h0M208.2 175.3h0M193.8 176h0M193.3 188.9h0M201.8 168.6h0M193.4 197h0M190.3 208.4h0M186.3 199.8h0M177.4 213.7h0M190.2 197.8h0M180.7 208.4h0M189 203.6h0M194.2 196.4h0M183.6 204.4h0M176.9 210h0M186.9 210.8h0M185.4 208.4h0M180 210h0M183.5 203.4h0M191.7 206.5h0M175.6 212.9h0M185 210.8h0M183.8 212.8h0M187.7 206.2h0M182.2 216h0M189.2 206.2h0M180.7 216.3h0M197.5 198.7h0M179.7 213.7h0M181.5 215.8h0M183.4 212.1h0M182.6 209.1h0M192.8 199.8h0M175.9 212.1h0M187.3 202.3h0M181.9 207.7h0M178.5 213.2h0M185.3 209.5h0M191.8 201.9h0M191.1 208.7h0M188.3 204.8h0M181.1 211.4h0M194.6 199.5h0M193.2 195.4h0M191.3 204.9h0M179.7 210.2h0M179.2 208h0M193.3 199.8h0M178.9 210h0M196.2 198.2h0M187.3 205.3h0M183.8 213.4h0M194.3 197.7h0M185.9 202.4h0M187.3 205.2h0M191.2 199.6h0M196.1 196.7h0M179.6 210.7h0M183.6 212.2h0M180.5 215h0M186.3 203.5h0M184.1 210.1h0M187.8 209.2h0M178 209.5h0M190.9 203h0M181.2 212.9h0M184.3 212.2h0M193.2 198.6h0M183.5 203.6h0M192.1 207.6h0M190.4 203.6h0M186.5 207.4h0M190.8 202.3h0M187.2 206.1h0M191.2 202.8h0M189.5 207.6h0M186.2 207.5h0M164.2 217.7h0M172.3 212.8h0M165.2 220.5h0M176.2 218.1h0M156.8 227.8h0M171.7 221h0M167.3 223.3h0M157.8 230.7h0M169.7 216.8h0M164.7 225.5h0M156.6 221.9h0M156 228.2h0M159.6 223.1h0M162.4 224h0M158.4 225.5h0M167.3 222h0M160.7 224.1h0M171.2 217.4h0M174.1 213.3h0M163.5 227h0M161.8 226.7h0M169.7 220.9h0M166.8 221.9h0M163.3 223.9h0M166.3 218.2h0M155 227.1h0M161.4 223.6h0M169.9 221.2h0M169.1 218h0M174.6 216.3h0M171.4 215.8h0M154.6 224.8h0M156.6 230.5h0M172.8 220.1h0M173.9 217.9h0M167.1 224h0M161.7 223.6h0M158.3 221.6h0M164.7 221.5h0M162.3 229.9h0M176.1 215.7h0M170.2 210.6h0M164.5 225.4h0M171.4 218.3h0M163.8 218.4h0M160.8 230.1h0M158.6 231.4h0M169.8 222.4h0M158 227.1h0M167.1 217.7h0M175.1 218.2h0M167 221.3h0M170.8 225.1h0M168 213.7h0M172.4 222.4h0M155.9 220.7h0M163.2 229.1h0M178.6 218.9h0M167.7 224h0M157.9 223.9h0M158.9 226.4h0M173.9 215.1h0M133.3 232.5h0M153.2 231.1h0M140.9 229.5h0M141.4 232.3h0M142.3 225.1h0M141.3 229.8h0M135.1 231.4h0M132.9 233.1h0M145.1 231.8h0M134.9 235.4h0M147.6 229.8h0M146 229.7h0M146.9 230.1h0M140.9 234.8h0M137.5 234.6h0M133.4 235.8h0M132.7 228.7h0M146.5 229.6h0M134.7 232.4h0M152.1 225.8h0M142.8 233.2h0M138.7 231.2h0M146.9 228.7h0M136.4 232.6h0M147.9 230.8h0M150.4 230.6h0M139.9 231.1h0M147.2 229.1h0M143.9 235.8h0M140.4 232.5h0M137.3 231.1h0M141.2 230.3h0M138.7 234.6h0M142.6 231.4h0M134.2 232.8h0M154.3 230.3h0M143.6 230.5h0M144.6 233.1h0M142.1 233.4h0M146.5 229.7h0M134.6 232.6h0M147.4 229.8h0M144 230.3h0M148.3 228.8h0M148.2 230.1h0M146 234.9h0M142.4 234.8h0M146.2 224.8h0M134.5 226.9h0M152.4 228.2h0M138.7 230.5h0M143.8 233.5h0M142.9 230.7h0M141 232.2h0M143.9 231.5h0M152.2 229.7h0M142 232.2h0M140.6 234.4h0M151.2 228.1h0M149.6 229.1h0M136.4 237.1h0M136.8 232h0M133.5 233.7h0M141.8 229.4h0M143.8 233.6h0M137.5 231.5h0M144.7 232.2h0M136.8 234.5h0M119.7 233.5h0M116.7 231.3h0M110.6 231.7h0M114.7 225h0M119 230.9h0M126.1 228.6h0M118.3 229.1h0M114.7 224.3h0M124.9 230.2h0M118.6 229.1h0M125 229.3h0M123.6 225.2h0M110.8 224.2h0M116.1 232.5h0M119.3 228.3h0M109.6 229.3h0M126.4 234h0M112.5 232.1h0M127.2 235.3h0M114.6 232.1h0M115 235.9h0M125.7 227.1h0M124.7 227h0M122.6 232.8h0M121.8 227.7h0M126.8 229.6h0M122.9 233.1h0M111.4 226.7h0M117.7 229.3h0M116.6 233.9h0M121 233.8h0M116.4 227.1h0M121.5 228.9h0M109.7 230.7h0M118.6 232.4h0M115.5 232.7h0M126.3 232.1h0M129.6 231.5h0M115.3 226.4h0M123.8 229.6h0M118.5 236.9h0M112.4 231.4h0M117.1 233.2h0M116 228.3h0M113.3 234.6h0M113.7 229.8h0M118.3 234.2h0M116.2 226.9h0M116 232.6h0M125.7 228h0M124.9 233.1h0M110.3 226.6h0M114.2 230.2h0M117.4 227.8h0M125.9 231.2h0M129.4 233.6h0M110.8 226h0M120.4 231.1h0M129.3 233.4h0M126.4 228.2h0M122.5 228.3h0M129.4 234.1h0M93.1 220.6h0M94.8 221.1h0M89.1 225.4h0M92.4 226.7h0M91.2 218.6h0M97.8 219.7h0M92.3 219.8h0M108.5 223.6h0M95.9 219.9h0M94.6 225.5h0M92.6 226.6h0M107.9 223.3h0M101.8 227.7h0M106.3 230.3h0M96.8 226.8h0M101.6 227.9h0M99.7 222.8h0M103.8 227.6h0M101 226.1h0M106.1 227.5h0M91.4 220.5h0M100 233.2h0M92.3 225.2h0M93.1 230h0M96.5 220.6h0M96.8 222.1h0M106.5 229.8h0M105.5 229.3h0M98.6 230.6h0M96.1 220.7h0M95.9 224.9h0M106.3 228.9h0M107 227.6h0M103.6 227h0M98.6 227.2h0M94.7 226.8h0M91.9 224.6h0M102.6 224.5h0M103.9 225.2h0M104 231.4h0M108 227.4h0M103 227.5h0M99.5 230.9h0M103.3 231.6h0M96.9 229.1h0M92.3 218.9h0M96.2 228h0M96.7 222.3h0M89.1 222.7h0M94.4 226h0M102.2 231.4h0M92 220.4h0M91.1 219.2h0M95.2 221.4h0M104.9 225.9h0M104.5 231.1h0M93.7 224.1h0M92 218.6h0M82.6 222.2h0M86.3 221.5h0M73 216.4h0M79.9 220.8h0M76.5 214.7h0M73.7 219.8h0M79.7 217.4h0M83.9 222.6h0M85.3 223h0M84.3 221.8h0M80.6 219.7h0M73.4 215.5h0M83.9 224.3h0M80.7 221.2h0M80.9 222.9h0M71.6 214.5h0M71.7 214.3h0M81 215.9h0M71.4 213.6h0M82.4 223h0M70.9 218.5h0M83.1 220h0M82.1 220.9h0M72.8 218.6h0M83.2 221.8h0M82.1 219.1h0M79.1 219.3h0M68.9 214.9h0M72.2 217.7h0M72.6 214h0M69.9 212.1h0M78.6 221.2h0M69.6 213.2h0M83.4 222.2h0M79.3 216h0M81.1 222.9h0M80.8 219.6h0M74.9 219.6h0M74 215h0M76.8 217.1h0M85.2 224.1h0M76 216.1h0M83.9 224.7h0M72.6 212.2h0M78.3 221.4h0M80.6 219.4h0M87.2 222.1h0M81.3 217.5h0M79.6 220.4h0M73.8 215.3h0M69.9 211.8h0M69.9 211.4h0M80.3 218.2h0M81.8 221.9h0M69.3 212.3h0M73.7 215.1h0M85.7 223.4h0M80 220.2h0M62.5 193.8h0M60.3 197.8h0M59.5 194.5h0M54.4 199h0M61 195.4h0M69.9 206.4h0M56.6 199.6h0M60.3 198.4h0M60.4 199.8h0M61.2 198.5h0M58.4 197h0M62.6 201.3h0M70.1 208.2h0M61.1 198.2h0M67.3 210.1h0M63.1 195.1h0M64.4 193.9h0M65.6 203.8h0M70 207.4h0M59.9 199.8h0M58.8 197.3h0M59.3 193.8h0M55.9 196.1h0M59.9 199.9h0M59.1 200.6h0M63.2 205.5h0M63.3 201.9h0M61.7 202.4h0M62.3 205.1h0M59.2 200.6h0M58.9 194.1h0M61.3 197.9h0M70.6 208.1h0M64.8 199.1h0M66.3 202.9h0M65.9 205.8h0M61.8 200.4h0M60.2 195h0M67.1 209.4h0M61.5 199.7h0M61.2 202h0M62.3 199.2h0M54.5 198.7h0M68.3 207.3h0M61.8 202.2h0M65.4 201.1h0M66.6 204.7h0M57.6 194.7h0M63.6 203.2h0M60.6 199.2h0M68.1 210.3h0M66.2 205.8h0M66 202.9h0M62.5 202.2h0M59.3 199h0M62.5 207.8h0M67.3 206.1h0M48.8 180.5h0M52.2 188.1h0M48.4 181h0M54.1 181.2h0M57.3 191.9h0M52.4 182.8h0M48.7 178.3h0M51.3 185.8h0M56.8 182.2h0M52.6 194.9h0M53.8 180.8h0M51.6 191.2h0M53.9 183.7h0M52.2 177.9h0M56.1 177.7h0M51.3 179.2h0M54.5 184.6h0M51 194.7h0M55.8 188.5h0M50 185.8h0M54.7 187.1h0M51.5 187.1h0M54.7 188.2h0M56.8 191.8h0M55.2 186.9h0M51.6 185.2h0M53.6 183.9h0M52.9 183.5h0M51.2 181.8h0M50 181.2h0M53.4 194.2h0M48.4 180.6h0M49.4 185.8h0M54.7 180.6h0M52.2 192.4h0M49.1 181.6h0M55.8 183.4h0M50.3 177.8h0M53.1 182.4h0M52.9 181.2h0M53.8 186.3h0M52.3 187.9h0M53.3 194h0M52.6 190.4h0M57.5 187.8h0M56.5 183.6h0M51 187.7h0M52.7 179.9h0M51.1 188.5h0M45.5 165.7h0M45.1 166h0M49.1 168.1h0M41.2 170.5h0M46 171.2h0M41.8 162.8h0M42.8 167.5h0M44.9 169.7h0M46.9 171.1h0M43.3 162.2h0M49.3 162.9h0M45.2 162h0M48 173.8h0M44.4 162.2h0M44.5 174.2h0M46.8 168.2h0M42.9 162.3h0M46.9 171.5h0M47.6 169.6h0M49.9 173.3h0M46.9 167.7h0M44.2 171.4h0M44.4 176.6h0M47.3 169.6h0M46.9 163.8h0M43.1 166.6h0M44.6 168.9h0M48.4 172.8h0M54.1 174.1h0M52.7 172.7h0M50 162.9h0M45.2 168h0M44.8 170.3h0M45.1 172.9h0M44.5 163.9h0M48.2 165.7h0M45.4 166.3h0M41.6 171.3h0M44.3 174.8h0M48.2 176.1h0M44.2 166.8h0M48.1 172.2h0M46.3 166.9h0M42.4 175.2h0M45.6 177.1h0M43.7 174.2h0M47.1 173.9h0M44.4 159.3h0M47.7 159.3h0M39.6 156.7h0M46.1 151.4h0M50 157h0M50.9 152.9h0M45.2 154.3h0M49.7 145.3h0M50.2 148.5h0M46.4 151.3h0M47.8 155.7h0M45.5 152.4h0M48.1 157h0M48.7 150.5h0M46.7 158.5h0M46.9 152.1h0M46.3 148.1h0M44.8 154.6h0M43.9 159.1h0M43.2 154.9h0M46.4 154.8h0M47.5 155h0M44.9 147.9h0M49.8 159.1h0M54.8 146.4h0M41.4 149.4h0M50.2 154.1h0M52.7 149.5h0M52.4 145.6h0M46.8 145h0M45.7 154.3h0M46.6 157.2h0M41.8 144.9h0M45.3 148.4h0M46.8 157.2h0M46.2 155.7h0M46.2 153.6h0M48.7 145.3h0M48.6 150.1h0M41.4 154.4h0M55 135h0M44.8 137.1h0M55.1 133h0M46.4 141.5h0M45.2 139.9h0M50.6 143.2h0M46.6 130.2h0M46.4 139.7h0M49.3 134.8h0M48.9 140.3h0M46.3 142.1h0M49.5 131.4h0M49.9 136.2h0M42.5 136.3h0M50.5 140.8h0M47.3 143.3h0M54.4 136.2h0M47.9 131.1h0M43.2 135.6h0M51.7 139.7h0M53.6 136.4h0M42.9 131.6h0M53.2 134.3h0M41.5 137.2h0M49.4 131.2h0M44.8 140.9h0M50.6 141.3h0M45.3 139.3h0M50 134.5h0M46.4 139.6h0M47.2 143.3h0M48.4 137.3h0M52.6 138.7h0M51.8 131.9h0M43.9 139h0M45.1 130.5h0M50.2 132.2h0M49.4 135.6h0M52 131.9h0M53.6 132.3h0M47.2 138h0M46.6 130.8h0M52.3 118h0M53.1 128.8h0M54.8 123.6h0M50.5 125.6h0M56.9 123.7h0M50.9 128.5h0M51.1 125.6h0M48.7 127.7h0M47.6 120.2h0M54.6 119.3h0M51.1 124.1h0M55.9 120.9h0M54.6 122.7h0M55.5 119.9h0M51.9 118.9h0M57.1 120.8h0M49.6 128h0M52.2 123.9h0M47.8 128.6h0M51.7 121.5h0M52.5 130.1h0M46.4 124.6h0M52 124.3h0M53 130.3h0M49.1 126.1h0M53.5 123.4h0M57.8 124.2h0M49.7 118.7h0M53 118.8h0M53.3 119.6h0M55.3 122.6h0M54.1 122.5h0M51 126.9h0M48.9 126.5h0M53.8 120.2h0M52.3 118h0M56.2 109.8h0M59.8 112.5h0M57.7 113.7h0M61 119.7h0M58.9 113.4h0M52.4 113.5h0M63.5 113.4h0M58.2 112.4h0M56.8 110.3h0M56.5 114.6h0M60.2 108.5h0M61.6 110.1h0M52.2 115.7h0M57.6 114.5h0M59.5 107.6h0M59.3 109.4h0M53.1 112.2h0M59.2 115.1h0M64.8 111.8h0M54.5 108.7h0M62.2 108.8h0M56.5 105.1h0M58 111.4h0M58.9 110.4h0M55.9 114.1h0M55 112.2h0M55.5 117.1h0M50.4 114.1h0M58.8 116.5h0M59 113.6h0M63.1 106.5h0M65 103.6h0M65.8 101.5h0M65.4 103.7h0M63.3 102.1h0M70.6 104.3h0M66.5 103.2h0M64.5 107.2h0M65.2 101.9h0M63.4 106.6h0M62.9 104.2h0M67.8 103.3h0M62.3 106.5h0M63.7 106.1h0M62.9 106.6h0M63.3 104.6h0M63.3 101.3h0M66.2 102.2h0M66.6 99.6h0M64.4 105.6h0M62.6 106.4h0M63.3 104h0M66.2 95.4h0M71.1 95.2h0M72.1 99.3h0M71.2 97h0M68.5 94.9h0M72.4 94.4h0M74.1 96.4h0M70.8 96.2h0M68.3 95.6h0M73.7 93h0M69 92.9h0M67.4 96.9h0M76.2 95.7h0M74.8 95.2h0M66.7 93.8h0M71.9 95.4h0M74.3 96.2h0M69.2 97.8h0M74.5 97.5h0M73.9 94h0M76 101.1h0M68.8 92h0M72.9 100.7h0M71.9 93.9h0M70.1 93h0M69.8 98.6h0M70.3 96.3h0M77.9 89.9h0M82.5 88h0M77.2 91h0M80.4 94.1h0M79.6 93.5h0M80.9 96h0M82.4 87.8h0M76.2 89.5h0M83.1 93h0M80.4 88h0M82.1 87.5h0M81.1 96.3h0M82.1 87.9h0M80.7 95.6h0M83.2 95.4h0M83.7 90.8h0M82.4 93.1h0M77.8 85.3h0M79.3 87.6h0M82.1 90.8h0M78.3 88.9h0M81.4 89.4h0M86.2 86.1h0M85.7 85.5h0M91 92.3h0M83.8 81.7h0M88.1 93h0M85.5 89.6h0M85.7 85.9h0M89.8 83.7h0M89.9 92.6h0M84.4 82.7h0M89.9 90h0M88.2 92h0M91.1 85.2h0M92.9 88.6h0M90.9 87h0M90.6 87.2h0M90.1 86.4h0M90.4 87.5h0M87.9 87.1h0M99.2 79.8h0M100.8 79.7h0M91.5 79.8h0M113.5 73.8h0M110.4 75.6h0M98.7 77.5h0M105 77.5h0M95.5 77.4h0M100.2 78.1h0M93 79.5h0M97.6 79.6h0M106.3 74.1h0M103.6 77.1h0M99 79.7h0M105.2 77.8h0M101.5 79.4h0M96.2 80.6h0M96.9 79.7h0M112.6 74.5h0M107.2 74.9h0M96.4 78.9h0M96.1 78.6h0M91 80.7h0M112.5 77.1h0M105.3 76.5h0M96.5 81.2h0M98.4 80.7h0M106 75.1h0M109.6 76.5h0M95.4 78.8h0M101.7 78h0M104.2 75.6h0M93.7 79.6h0M103.9 76.7h0M98.5 79h0M97.7 80.2h0M93.5 82h0M95.1 82h0M111.2 76h0M99.3 78.5h0M113.2 76.8h0M107.2 74.6h0M98.1 80.8h0M103.3 75h0M113.6 74.9h0M104.2 77.2h0M104.7 74.4h0M91.2 80.5h0M95.5 80h0M110 74.4h0M103.3 75.8h0M102.2 76.9h0M97 81h0M110 76.5h0M97 80h0M110.7 74.2h0M94.9 81.8h0M106.4 77.7h0M110 74.6h0M107.6 73.9h0M113.6 74h0M93.8 80.1h0M106.7 76.1h0M121.1 76h0M120 76.5h0M124.6 75.2h0" stroke="#b5473f" stroke-width="1.3" stroke-linecap="round" stroke-opacity="0.6" fill="none"/>
<path d="M133.8 80.3h0M147.8 79.7h0M149.4 78.5h0M139.7 76.3h0M156.1 79.3h0M155.8 82h0M146.6 76.5h0M178.7 109.3h0M164.6 86.3h0M183.5 106.7h0M196.7 129.5h0M204.4 126.3h0M207.7 136.3h0M204.7 136.8h0M207.1 139.7h0M198.7 165.5h0M205.3 186.3h0M207.1 170.3h0M205.4 174.6h0M191.5 196.8h0M179.4 205.6h0M190 203.8h0M156.7 228.6h0M157.9 226h0M154.9 222.5h0M179.3 219.6h0M171.1 218.4h0M148.9 228.1h0M131.7 232.2h0M131.4 225.8h0M111.2 236.5h0M115.7 232h0M111.6 227.3h0M120.8 234.9h0M91.1 223.2h0M106.3 227.6h0M77.2 214.8h0M71.3 214.8h0M81 220h0M72 213.3h0M71.9 214.2h0M86 224.1h0M68.3 213.2h0M58 194.6h0M57.6 196.1h0M61.9 200.2h0M54.3 197.1h0M50.2 184.7h0M57.9 192.1h0M42.9 168.7h0M42.8 166.4h0M48.3 161.2h0M44.9 166.2h0M50 158.5h0M45.5 151.9h0M47.7 147.2h0M49 148.6h0M47.5 150.5h0M51.4 148.6h0M46.8 158.9h0M43.3 159.2h0M51.7 138.7h0M47.6 131.3h0M52.5 125.2h0M54.4 127.4h0M60.1 117.8h0M60.8 109.3h0M66.2 104.4h0M61.4 101.2h0M70.2 94.3h0M69.6 95.1h0M77.1 90.6h0M86.3 82.9h0M107.3 76.2h0M101.1 79.3h0M106.9 74.3h0" stroke="#5b6a93" stroke-width="1.3" stroke-linecap="round" stroke-opacity="0.6" fill="none"/>
<path d="M159.3 86.4h0M141 79h0M145.7 80.6h0M145.7 81.6h0M133.3 80.2h0M158.9 81.1h0M140.3 72.6h0M151.6 85.3h0M140.1 75.8h0M180.4 95.2h0M181.6 101.3h0M165.4 88.4h0M162.5 90.9h0M168 89.5h0M177 101.4h0M173 93.5h0M175.1 90.6h0M207.9 129.2h0M205.5 136.1h0M199.3 117.8h0M205.3 135.8h0M197.4 117.7h0M201.5 128h0M204.6 133.3h0M197.7 124.3h0M192.9 110.8h0M198.8 121.6h0M191.5 115.6h0M206.8 159.3h0M206.8 163.5h0M203.8 144.1h0M206.9 148.6h0M206 151.1h0M202.3 146.7h0M191 188.6h0M201.2 177.2h0M201 181h0M196.5 178.9h0M201.6 171.1h0M193.5 188.6h0M196.8 191.1h0M194.4 180.5h0M191.5 195.6h0M183.7 208.3h0M187.4 203.9h0M192.5 197.4h0M186.3 208.3h0M177.9 212.5h0M159.6 225.3h0M173.5 218.1h0M171.4 212.1h0M154.6 224.1h0M137.9 234.4h0M141.3 233.7h0M137.2 234.4h0M118.5 229.7h0M90.9 228.9h0M105.5 226.2h0M105.3 233.8h0M97.2 222.2h0M90.8 219.4h0M70.8 216h0M59 194.6h0M63.2 203.3h0M60.8 201.8h0M58.2 197.5h0M69 208.1h0M52.2 179.2h0M50.8 178.8h0M57.9 192h0M51.8 171.1h0M42.2 172.6h0M50.1 161.9h0M43.7 174.9h0M46.6 151.3h0M46.7 152.6h0M54.8 134.7h0M53.2 121.9h0M52.4 121.4h0M50.3 122.4h0M56.9 126.9h0M62.8 111.4h0M62.7 110.4h0M57.4 112.1h0M57.5 118.6h0M65.8 103h0M66.1 101.9h0M63.8 104.6h0M78.1 97.8h0M68.8 99.3h0M73.4 97.3h0M75.6 90.4h0M87 90.6h0M85.3 89.3h0" stroke="#d9a0a8" stroke-width="1.3" stroke-linecap="round" stroke-opacity="0.6" fill="none"/>
<path d="M134.3 75.4h0M154.7 76.3h0M144.6 80.6h0M156.2 83.8h0M162.9 83.6h0M146 82.3h0M173.8 92h0M191.8 108.2h0M177.3 97.2h0M178 104.4h0M165.6 87.4h0M179 99.3h0M176.5 88.6h0M172.2 93.7h0M168.9 93.3h0M176.2 95.1h0M173.2 94.3h0M193.1 119h0M191.7 114.8h0M195 127.2h0M206.7 132.4h0M207.3 155.4h0M199.6 165.7h0M208.4 154.1h0M206.6 166.4h0M208.2 165.7h0M204.2 161.7h0M203 160.8h0M201.3 174.1h0M201.9 173.2h0M193.4 188.8h0M207.3 181.3h0M192.6 181.8h0M189.4 203.8h0M188.2 206.2h0M186.9 207.7h0M185.7 208.5h0M183.3 204.7h0M192 199.1h0M181.9 213.7h0M183.4 211.9h0M163.1 223h0M174.6 223h0M175 215.6h0M161.5 223.9h0M169.6 216h0M159.4 228.7h0M177.7 218.2h0M158.6 224.7h0M172.6 224.3h0M162.7 228.2h0M159.6 226.5h0M145.2 234.4h0M144.9 232.5h0M135 236h0M132.5 234.7h0M124.2 233.1h0M129.1 236.7h0M106.8 228.3h0M92.7 223.8h0M104.6 227.3h0M94.3 229.6h0M102.6 229.8h0M82.3 221.3h0M74.3 213.4h0M71.9 210.7h0M78.1 217.9h0M82.8 220.3h0M69.8 213h0M66.2 207h0M60.8 200.9h0M63.4 204.2h0M57 195.5h0M60.7 196.7h0M59.9 196.5h0M63.1 206.2h0M50.8 183.3h0M51.1 178.5h0M53 186.8h0M41.8 169.4h0M48.2 166.1h0M48.9 168.4h0M45.8 155.7h0M44.3 149.4h0M49.2 150.2h0M42.6 136.3h0M50.2 137.7h0M52.9 121.3h0M50.6 113.7h0M66 102.8h0M62 106.2h0M73.3 91.8h0M69.7 92.2h0M67.9 95.4h0M73.9 95.8h0M87.7 88.9h0M85.5 87.6h0M96 80.9h0M114.6 76.7h0M108.9 73.4h0M99.8 78.8h0M109.9 73.4h0M103.1 78.6h0M107.3 73.9h0M94.2 77.7h0M103.4 78h0" stroke="#9a9a9a" stroke-width="1.3" stroke-linecap="round" stroke-opacity="0.6" fill="none"/>
<path d="M161.8 86.3h0M158.3 86.2h0M163.4 81.9h0M129.3 77.8h0M128.1 77.1h0M142.8 82.1h0M155.1 77.9h0M150.5 85.1h0M129.3 76.1h0M141.5 77.8h0M148.4 86.4h0M155.2 84.6h0M134.7 76.8h0M145.9 73.5h0M143.6 81.4h0M138.3 76.1h0M144.8 73.8h0M154.6 79h0M135.4 79.6h0M173.4 92.6h0M176.1 95.2h0M184.9 102.5h0M193.4 104.1h0M173 91.8h0M190.2 110.2h0M182.2 107.4h0M185.3 104.3h0M167.3 83.5h0M185.8 99.9h0M166.3 85.6h0M191.9 109.4h0M166.4 86.6h0M186.3 106.7h0M176.1 92.2h0M168.2 93.6h0M168.4 89.9h0M177.9 97.5h0M166.3 87.5h0M172.7 90.3h0M182.7 97.5h0M166.3 85.7h0M184.3 109.2h0M167.6 85.8h0M194.1 113.2h0M199.7 121.6h0M194.1 138.3h0M190.5 114.4h0M199.4 133.2h0M194.3 116.5h0M200.3 128.3h0M195 126.8h0M203.5 132.6h0M196.1 121.3h0M203.9 136.1h0M203.1 131.5h0M204.8 136.3h0M208.7 161.3h0M203.4 149.8h0M203.7 165.7h0M202.7 153.3h0M206.2 160.9h0M204.7 144.6h0M204.4 165.1h0M206.1 161.6h0M204 165.6h0M203.8 144h0M206.9 139.4h0M209.2 163.4h0M205 161.9h0M206.8 150.2h0M205.5 145.8h0M205.1 156.9h0M206.9 142.5h0M205.3 155h0M205.9 160h0M200.5 179.1h0M196.9 186.6h0M199.6 178.6h0M194 181.7h0M200.8 183.9h0M205.8 177.9h0M196.2 188.7h0M205.8 177.4h0M200.3 185.9h0M202.5 176.6h0M192.1 192.1h0M197 186.5h0M194.1 176.8h0M182.3 210.4h0M190.8 197h0M176.4 212.9h0M186.9 210.3h0M190.7 200.9h0M186.1 209.1h0M191.8 205.1h0M192.2 204.1h0M185.9 205.8h0M185.7 210.3h0M183 212h0M182.3 212.3h0M180 215.5h0M177.7 208.6h0M189 206h0M165.7 223h0M166.8 227h0M161.5 228.6h0M174.2 216.9h0M157.9 225.1h0M161.2 222.7h0M165 225.6h0M158.2 219.9h0M157.1 222.8h0M175.9 216.5h0M164.1 221.7h0M171.5 215.1h0M176.4 221.8h0M144.6 230.7h0M134.9 232.4h0M147.1 222.7h0M140.4 232.4h0M138.5 231.5h0M140.7 230.4h0M146.1 233.5h0M143.3 230.7h0M138.1 232.1h0M138.9 233.7h0M138.4 232.8h0M129.8 230.8h0M128.7 230.6h0M116.6 231.6h0M129.6 233.3h0M124.9 230.6h0M112.8 233.2h0M114.8 230.3h0M108.2 233h0M120.3 227.3h0M118 233.5h0M116.1 232.5h0M113.7 235.3h0M117.1 233.2h0M91.3 219.3h0M106.6 228.9h0M96.8 223.4h0M92.7 218.3h0M97.2 226.6h0M98.1 223.9h0M99.1 223.4h0M91.1 221.5h0M98.3 225.4h0M100.4 225.6h0M102.7 224.4h0M90.1 228.1h0M78 218.6h0M81.2 222.1h0M70.3 212.2h0M80.8 214.5h0M79 220.5h0M78.6 221.9h0M77 216.6h0M71.2 211.6h0M81 223.6h0M83 221.3h0M56.9 195.3h0M61.5 197.2h0M66.1 207.1h0M63.8 204.5h0M61.5 201.4h0M60.9 199.5h0M53.3 192.2h0M51.9 179.2h0M49.1 179.6h0M54.8 184.5h0M56.8 188.4h0M48.5 181.8h0M55.2 188.9h0M51.1 187.9h0M54.4 185.4h0M55.7 187.5h0M51.1 184.7h0M50.1 179.2h0M56.9 192.8h0M50.3 180.2h0M46 163.1h0M42.7 165.9h0M46.4 172h0M43.4 161.4h0M41.8 166h0M45.5 162.5h0M45 167.2h0M42.7 155.6h0M46.5 156h0M49.2 156.4h0M44.8 146.5h0M45.3 155h0M50.9 150.6h0M45 149.3h0M43.8 145.3h0M47.8 146.7h0M44.6 150.3h0M41.8 141.2h0M48.9 137.7h0M47.1 140.4h0M54.3 132.8h0M45.9 140.3h0M56.2 127.2h0M51.1 121.3h0M51.9 122h0M52.8 122.4h0M48.9 128.4h0M53.2 129.4h0M52.8 122.7h0M58.9 107.5h0M54.5 115.1h0M55.8 115.6h0M53 109.9h0M59.7 113.8h0M62.2 111.5h0M53.7 111.7h0M52.8 115.4h0M55 109.8h0M64.2 101.8h0M64.7 104.9h0M61 106.1h0M65.8 100.1h0M63.3 106.9h0M68.2 108.8h0M65.1 99.7h0M69.9 95.9h0M78.3 88.6h0M79.2 93.8h0M79.4 89.1h0M78.5 91.2h0M82.1 90.2h0M85.2 86.6h0M88.1 90.3h0M89.7 86.4h0M88.1 83.8h0M91.2 88.8h0M102.2 78.9h0M92.4 79.4h0M94 78.2h0M91 79.7h0M94.9 77.5h0M92.9 78.4h0M94.5 79.9h0M103.8 77.1h0M104.8 77h0M99.1 77h0M106.4 74.8h0M94.3 77.7h0M101.1 78.5h0M111.1 77.2h0" stroke="#3a3a3a" stroke-width="1.3" stroke-linecap="round" stroke-opacity="0.6" fill="none"/>
<path d="M149.6 80.9h0M144.8 87.4h0M172.7 90.7h0M184.1 102.6h0M180.6 101.1h0M183.6 98.6h0M201.4 117.9h0M202.5 121.7h0M203.5 146.1h0M209.5 151.3h0M207.1 157.8h0M193.4 188.3h0M195.7 203.1h0M192.1 195.2h0M175 217.8h0M161.2 223.7h0M176.5 218.1h0M144.2 231h0M129.8 233.8h0M114.8 232.2h0M118.1 237.4h0M128.3 228.5h0M124.8 228.3h0M100.5 223.7h0M103.1 227.9h0M82.5 218.9h0M64 202.8h0M64.4 201.1h0M66 207.4h0M47.8 168.7h0M50.8 140.3h0M45.2 140.4h0M43.3 138.9h0M51.3 138.2h0M58 113.9h0M57.5 110.4h0M74.6 100.6h0M71.1 97h0M88.3 86.1h0M85.6 87.3h0M112.1 74.2h0M103.1 75.4h0M108.5 75.2h0M93.2 79.5h0M92.8 80.9h0M97.2 78.2h0M105.2 75.9h0" stroke="#4f9a45" stroke-width="1.3" stroke-linecap="round" stroke-opacity="0.6" fill="none"/>
<path d="M128.2 97.5L129.6 96.6M147.6 104.7L149.2 104.4M128.2 99L129.7 98.2M143.2 102.1L144.8 101.7M143.1 101.1L144.7 100.6M150.2 102.6L151.9 102.4M149.2 105.3L150.9 105M137.6 98.4L139.1 97.8M128.6 98.3L130 97.5M137.2 99.1L138.7 98.5M146.9 101.5L148.5 101.1M130.6 99.4L132.1 98.6M157.9 111.2L159.6 111.3M171.4 122.6L173 123.2M160.8 110.7L162.4 110.8M156.2 108L157.9 108M165.6 117.4L167.3 117.8M171.5 119.8L173.1 120.3M164.1 115.7L165.8 116M162.6 111.5L164.2 111.6M157.3 109.5L159 109.5M170.5 121.7L172.1 122.2M169.2 119.2L170.8 119.7M156.7 109.3L158.4 109.4M175.1 123.1L176.6 123.7M179.3 138.9L180.5 140M179.2 141.3L180.4 142.4M177.6 129.1L179.1 129.9M183.8 141.4L185 142.6M181.1 140.4L182.4 141.4M178.5 138.6L179.8 139.6M180.3 134.5L181.6 135.5M176.9 134.4L178.3 135.3M181.7 150.4L182.7 151.6M181 153.4L181.9 154.8M182.6 144.4L183.8 145.6M180.8 152.8L181.8 154.2M183.3 162.2L184 163.7M183.9 152.3L184.9 153.6M182.2 150.2L183.3 151.5M181.8 152.3L182.7 153.6M182.2 154.9L183.1 156.3M181.3 153.8L182.3 155.2M181.3 170.4L181.8 172M180.9 164L181.5 165.5M176.8 181.4L176.9 183M177.7 172.5L178.1 174M182.1 169.5L182.6 171M179.4 176.2L179.7 177.8M177.4 175.6L177.7 177.2M180.9 174.5L181.3 176.1M163.4 194.8L162.9 196.4M172.5 185L172.4 186.6M165.1 193.4L164.7 195M168.4 189.5L168.2 191.1M172 187.4L171.9 189M170.5 186.3L170.4 187.9M169.7 192.5L169.4 194.1M169.3 189.5L169.2 191.1M152.7 201.1L151.9 202.5M160.6 198.9L160 200.4M151.8 201.4L151 202.9M162 197.9L161.5 199.5M159.5 199.9L158.9 201.5M161.1 200.4L160.5 202M153.5 205.1L152.7 206.6M155 201L154.3 202.5M144.1 208L143 209.3M134.2 208.6L133 209.7M141.6 205.6L140.5 206.9M140.3 206.8L139.1 208M141.4 206.1L140.4 207.3M139.5 207.5L138.4 208.7M124.2 209.8L122.8 210.7M124.1 208L122.7 208.9M117.4 207.2L115.9 207.9M117 207.1L115.5 207.7M116.8 207.4L115.2 208.1M109.2 206.1L107.5 206.5M106.6 206.4L104.9 206.8M103.8 205.1L102.1 205.4M99.9 205.6L98.3 205.8M108.4 207.4L106.8 207.8M107.5 205.3L105.9 205.7M88.1 194.1L86.4 193.9M98.6 201L97 201.1M95 199.8L93.3 199.8M97.4 204.8L95.8 204.9M93.5 199.6L91.8 199.5M78 184.3L76.5 183.6M77.7 185.2L76.2 184.6M85.9 192.3L84.3 191.9M84.8 191.6L83.1 191.2M82.5 191.6L80.8 191.2M79.6 185.3L78.1 184.7M73.2 172L71.9 171.1M73.5 180.1L72 179.2M70 172.9L68.6 171.9M76.3 182.6L74.8 181.9M68.2 168L67 166.9M71.2 164.8L70 163.6M72.1 167.4L70.8 166.3M68.6 166.5L67.4 165.3M70.6 157L69.6 155.7M67.4 157.3L66.4 155.9M70.6 155.1L69.6 153.7M70 155L69.1 153.7M68.7 144.6L68 143.1M69.5 142.6L68.9 141.1M69.6 139.6L69.1 138.1M71.4 137L70.9 135.4M74 132.5L73.7 130.9M71.8 133.4L71.5 131.8M72.6 135.4L72.2 133.8M74.2 126.3L74 124.7M80.2 124.3L80.2 122.7M75.1 124.8L75.1 123.2M81.2 118L81.4 116.4M81 116.1L81.3 114.5M82 120.8L82.1 119.1M86.9 110.7L87.4 109.1M88.6 112.3L89 110.7M88.3 111.1L88.8 109.5M91.1 108.9L91.6 107.4M98.3 105.9L99.1 104.5M115 101.8L116.3 100.6M115 100.5L116.2 99.4M103.4 101.4L104.4 100M115.1 101.1L116.4 99.9M109.8 103.4L110.9 102.1M110.9 102.2L112 101M113.2 100.1L114.4 98.9M105 103L106 101.6M119.9 100.1L121.2 99M122.5 100L123.9 99M122.7 98L124 97.1" stroke="#606060" stroke-width="0.9" fill="none"/>
<path d="M138 100.1L139.6 99.5M176.8 132.8L178.2 133.7M181.5 170.8L182 172.4M97.3 202.7L95.6 202.8M82.3 188.2L80.7 187.7M73.5 172.7L72.1 171.7M67.8 152.9L66.9 151.6M71.1 147.1L70.4 145.6" stroke="#6a9a5a" stroke-width="0.9" fill="none"/>
<path d="M162 114.2L163.7 114.4M172.5 184L172.5 185.6M138.2 207.4L137.1 208.6M115.2 208.8L113.6 209.4M123.7 208.1L122.2 209M106.3 204.4L104.7 204.7M91.3 196.5L89.6 196.3M73 173.3L71.6 172.3M71.4 164.6L70.2 163.5M78.4 125.1L78.4 123.4M92 110.9L92.6 109.4M98.2 104.1L99 102.7" stroke="#b07070" stroke-width="0.9" fill="none"/>
<path d="M177 147.4A51.8 50.1 0 0 1 177.3 149.3L174 149.6A48.5 46.9 0 0 0 173.8 147.8Z" fill="#e07060"/>
<path d="M177.5 156.1A51.8 50.1 0 0 1 177.4 158L174.1 157.8A48.5 46.9 0 0 0 174.2 156Z" fill="#e07060"/>
<path d="M91.6 192.1A51.8 50.1 0 0 1 90.6 191.2L92.8 188.8A48.5 46.9 0 0 0 93.8 189.7Z" fill="#d24a3a"/>
<path d="M89.6 190.3A51.8 50.1 0 0 1 88.6 189.3L91 187.1A48.5 46.9 0 0 0 91.9 188Z" fill="#d24a3a"/>
<path d="M87.8 188.5A51.8 50.1 0 0 1 86.8 187.4L89.3 185.3A48.5 46.9 0 0 0 90.2 186.3Z" fill="#d24a3a"/>
<path d="M122 204.4A51.8 50.1 0 0 1 120.4 204.2L120.8 201.1A48.5 46.9 0 0 0 122.3 201.2Z" fill="#d24a3a"/>
<path d="M117.6 203.9A51.8 50.1 0 0 1 116 203.6L116.6 200.5A48.5 46.9 0 0 0 118.1 200.7Z" fill="#d24a3a"/>
<path d="M113.1 203A51.8 50.1 0 0 1 111.6 202.6L112.5 199.5A48.5 46.9 0 0 0 113.9 199.9Z" fill="#d24a3a"/>
<path d="M128.9 204.4A51.8 50.1 0 0 1 126.2 204.5L126.2 201.3A48.5 46.9 0 0 0 128.7 201.2Z" fill="#c8dc70"/>
<path d="M133 104.9A51.8 50.1 0 0 1 134.7 105.1L134.1 108.3A48.5 46.9 0 0 0 132.6 108.1Z" fill="#e9d9a0"/>
<path d="M137.5 105.7A51.8 50.1 0 0 1 139.1 106.1L138.2 109.2A48.5 46.9 0 0 0 136.7 108.8Z" fill="#e9d9a0"/>
<path d="M141.8 106.9A51.8 50.1 0 0 1 143.4 107.4L142.3 110.4A48.5 46.9 0 0 0 140.8 109.9Z" fill="#e9d9a0"/>
<path d="M165.4 186.7A51.8 50.1 0 0 1 164.3 187.9L161.8 185.7A48.5 46.9 0 0 0 162.8 184.6Z" fill="#d24a3a"/>
<path d="M99.2 189.8Q125.8 154.4 170.8 151.4" fill="none" stroke="#3a4448" stroke-width="1.2" stroke-opacity="0.85"/>
<path d="M97.3 188.4Q125.8 154.4 170.9 153.7" fill="none" stroke="#2a3438" stroke-width="1.4" stroke-opacity="0.85"/>
<path d="M96.1 187.4Q125.8 154.4 170.9 156" fill="none" stroke="#343e42" stroke-width="1.2" stroke-opacity="0.85"/>
<path d="M94.9 186.4Q125.8 154.4 170.5 148.4" fill="none" stroke="#2b4f55" stroke-width="1.5" stroke-opacity="0.85"/>
<path d="M93.8 185.3Q125.8 154.4 170.7 149.9" fill="none" stroke="#464e52" stroke-width="1.1" stroke-opacity="0.8"/>
<path d="M105.9 193.7Q125.8 154.4 170.8 157.5" fill="none" stroke="#606668" stroke-width="0.8" stroke-opacity="0.8"/>
<path d="M138.2 112.5Q125.8 154.4 160.4 182.5" fill="none" stroke="#808080" stroke-width="0.6" stroke-opacity="0.9"/>
<path d="M135.1 111.7Q125.8 154.4 103.2 192.3" fill="none" stroke="#7a7a7a" stroke-width="0.6" stroke-opacity="0.9"/>
<path d="M136.7 112.1Q125.8 154.4 105.2 193.4" fill="none" stroke="#6a6a6a" stroke-width="0.6" stroke-opacity="0.9"/>
<path d="M142.7 114Q125.8 154.4 170.7 149.9" fill="none" stroke="#6a6a6a" stroke-width="0.6" stroke-opacity="0.9"/>
<path d="M144.1 114.5Q125.8 154.4 170.9 152.9" fill="none" stroke="#7a7a7a" stroke-width="0.6" stroke-opacity="0.9"/>
<path d="M141.2 113.4Q125.8 154.4 170.8 158.3" fill="none" stroke="#777" stroke-width="0.6" stroke-opacity="0.9"/>
<path d="M135.9 111.9Q125.8 154.4 121 197.9" fill="none" stroke="#666" stroke-width="0.6" stroke-opacity="0.9"/>
<path d="M138.2 112.5Q125.8 154.4 116.4 197.2" fill="none" stroke="#6a6a6a" stroke-width="0.6" stroke-opacity="0.9"/>
<path d="M140.5 113.1Q125.8 154.4 113.3 196.4" fill="none" stroke="#777" stroke-width="0.6" stroke-opacity="0.9"/>
<path d="M134.4 111.6Q125.8 154.4 106.7 194" fill="none" stroke="#777" stroke-width="0.6" stroke-opacity="0.9"/>
<path d="M141.9 113.7Q125.8 154.4 86.6 176.3" fill="none" stroke="#777" stroke-width="0.6" stroke-opacity="0.9"/>
<path d="M112.5 112.7Q125.8 154.4 106.7 194" fill="none" stroke="#888" stroke-width="0.6" stroke-opacity="0.9"/>
<path d="M170.8 158.3Q125.8 154.4 88.7 179.5" fill="none" stroke="#888" stroke-width="0.6" stroke-opacity="0.8"/>
<path d="M170.3 162Q125.8 154.4 83.3 169.4" fill="none" stroke="#8a8a8a" stroke-width="0.6" stroke-opacity="0.8"/>
<path d="M139.7 112.9Q125.8 154.4 164.9 176.3" fill="none" stroke="#888" stroke-width="0.6" stroke-opacity="0.8"/>
<path d="M123.4 198.1Q125.8 154.4 117.9 197.5" fill="none" stroke="#8a3b36" stroke-width="0.6" stroke-opacity="0.9"/>
<path d="M121.8 198Q125.8 154.4 115.6 197" fill="none" stroke="#9a4a44" stroke-width="0.6" stroke-opacity="0.9"/>
<path d="M120.2 197.8Q125.8 154.4 114.1 196.6" fill="none" stroke="#7a3531" stroke-width="0.6" stroke-opacity="0.9"/>
<path d="M103.6 116.4Q125.8 154.4 104.1 116.1" fill="none" stroke="#e6bcc0" stroke-width="0.8" stroke-opacity="0.75"/>
<path d="M85 135.6Q125.8 154.4 85.3 135" fill="none" stroke="#e6bcc0" stroke-width="0.8" stroke-opacity="0.75"/>
<path d="M80.6 157.2Q125.8 154.4 80.6 156.6" fill="none" stroke="#e6bcc0" stroke-width="0.8" stroke-opacity="0.75"/>
<path d="M81.4 162.7Q125.8 154.4 81.3 162.1" fill="none" stroke="#eac6c9" stroke-width="0.7" stroke-opacity="0.7"/>
<path d="M169.9 163.6Q125.8 154.4 169.8 164.4" fill="none" stroke="#d88080" stroke-width="0.6" stroke-opacity="0.8"/>
<path d="M160.2 182.7Q125.8 154.4 159.8 183.2" fill="none" stroke="#d88080" stroke-width="0.6" stroke-opacity="0.8"/></g>
<defs><linearGradient id="tealFade" gradientUnits="userSpaceOnUse" x1="138" y1="108" x2="126" y2="150"><stop offset="0" stop-color="#fff" stop-opacity="1"/><stop offset="0.5" stop-color="#fff" stop-opacity="0.8"/><stop offset="1" stop-color="#fff" stop-opacity="0"/></linearGradient><mask id="tealMask"><rect x="0" y="0" width="260" height="280" fill="url(#tealFade)"/></mask></defs>
<g mask="url(#tealMask)">
<path d="M131.6 111.1A45.2 43.7 0 0 1 134.8 111.6Q125.8 154.4 101.8 191.5A45.2 43.7 0 0 1 101.6 191.4Q125.8 154.4 131.6 111.1Z" fill="#b5c3cc" fill-opacity="0.95"/>
<path d="M134.8 111.6A45.2 43.7 0 0 1 137.8 112.4Q125.8 154.4 103.5 192.5A45.2 43.7 0 0 1 103.3 192.4Q125.8 154.4 134.8 111.6Z" fill="#86b6b4" fill-opacity="0.95"/>
<path d="M137.8 112.4A45.2 43.7 0 0 1 140.8 113.3Q125.8 154.4 105.2 193.4A45.2 43.7 0 0 1 105 193.3Q125.8 154.4 137.8 112.4Z" fill="#3a8a88" fill-opacity="0.95"/>
<path d="M140.8 113.3A45.2 43.7 0 0 1 143.8 114.4Q125.8 154.4 107 194.2A45.2 43.7 0 0 1 106.8 194.1Q125.8 154.4 140.8 113.3Z" fill="#2f5f50" fill-opacity="0.95"/>
</g>
<g><path d="M397.8 98.3A52.7 53.2 0 1 1 397.8 204.7A52.7 53.2 0 1 1 397.8 98.3Z M397.8 106.5A44.5 45 0 1 0 397.8 196.5A44.5 45 0 1 0 397.8 106.5Z" fill="#fbfbfb" fill-rule="evenodd"/>
<line x1="397.8" y1="98.3" x2="397.8" y2="66.1" stroke="#ededed" stroke-width="0.6"/>
<line x1="422.5" y1="104.5" x2="437.5" y2="76.2" stroke="#ededed" stroke-width="0.6"/>
<line x1="441.1" y1="121.3" x2="467.3" y2="103.1" stroke="#ededed" stroke-width="0.6"/>
<line x1="449.3" y1="140.7" x2="480.4" y2="134.1" stroke="#ededed" stroke-width="0.6"/>
<line x1="449.6" y1="161.1" x2="480.8" y2="166.9" stroke="#ededed" stroke-width="0.6"/>
<line x1="442.7" y1="179.2" x2="469.9" y2="195.9" stroke="#ededed" stroke-width="0.6"/>
<line x1="430.9" y1="192.9" x2="450.9" y2="217.9" stroke="#ededed" stroke-width="0.6"/>
<line x1="416.3" y1="201.3" x2="427.5" y2="231.4" stroke="#ededed" stroke-width="0.6"/>
<line x1="401.1" y1="204.6" x2="403.1" y2="236.7" stroke="#ededed" stroke-width="0.6"/>
<line x1="386.2" y1="203.4" x2="379.2" y2="234.8" stroke="#ededed" stroke-width="0.6"/>
<line x1="372.7" y1="198.4" x2="357.6" y2="226.6" stroke="#ededed" stroke-width="0.6"/>
<line x1="361.2" y1="189.8" x2="339.1" y2="212.9" stroke="#ededed" stroke-width="0.6"/>
<line x1="352.4" y1="178.5" x2="325" y2="194.8" stroke="#ededed" stroke-width="0.6"/>
<line x1="347.4" y1="167.1" x2="317" y2="176.5" stroke="#ededed" stroke-width="0.6"/>
<line x1="345.2" y1="155.6" x2="313.6" y2="158" stroke="#ededed" stroke-width="0.6"/>
<line x1="345.6" y1="144.4" x2="314.1" y2="140.2" stroke="#ededed" stroke-width="0.6"/>
<line x1="347.7" y1="134.9" x2="317.5" y2="124.8" stroke="#ededed" stroke-width="0.6"/>
<line x1="351.2" y1="126.6" x2="323.1" y2="111.7" stroke="#ededed" stroke-width="0.6"/>
<line x1="355.8" y1="119.3" x2="330.5" y2="99.9" stroke="#ededed" stroke-width="0.6"/>
<line x1="360.2" y1="114.2" x2="337.5" y2="91.7" stroke="#ededed" stroke-width="0.6"/>
<line x1="365.5" y1="109.4" x2="346" y2="84" stroke="#ededed" stroke-width="0.6"/>
<line x1="370.1" y1="106.2" x2="353.4" y2="78.8" stroke="#ededed" stroke-width="0.6"/>
<line x1="375.4" y1="103.3" x2="361.9" y2="74.2" stroke="#ededed" stroke-width="0.6"/>
<line x1="391" y1="98.7" x2="386.9" y2="66.8" stroke="#ededed" stroke-width="0.6"/>
<ellipse cx="397.8" cy="151.5" rx="84.4" ry="85.4" fill="none" stroke="#f2dede" stroke-width="0.6"/>
<path d="M398.5 59.7A90.8 91.8 0 0 1 439.8 70.1L438.1 73.4A87.2 88.1 0 0 0 398.5 63.4Z" fill="#f0f0f2"/>
<path d="M438.2 69.3A90.8 91.8 0 0 1 438.8 69.6L437.1 72.9A87.2 88.1 0 0 0 436.5 72.6Z" fill="#dfe0e3"/>
<path d="M424.4 63.8A90.8 91.8 0 0 1 425.6 64.1L424.4 67.6A87.2 88.1 0 0 0 423.4 67.3Z" fill="#dfe0e3"/>
<path d="M429.6 65.5A90.8 91.8 0 0 1 431.3 66.2L430 69.6A87.2 88.1 0 0 0 428.3 69Z" fill="#dfe0e3"/>
<path d="M408.5 60.3A90.8 91.8 0 0 1 410.4 60.6L409.9 64.2A87.2 88.1 0 0 0 408 64Z" fill="#dadce0"/>
<path d="M438.8 69.6A90.8 91.8 0 0 1 439.5 70L437.8 73.2A87.2 88.1 0 0 0 437.2 72.9Z" fill="#dfe3e4"/>
<path d="M427.4 64.7A90.8 91.8 0 0 1 429.2 65.4L427.9 68.8A87.2 88.1 0 0 0 426.2 68.2Z" fill="#dfe0e3"/>
<path d="M423 63.3A90.8 91.8 0 0 1 423.4 63.5L422.4 67A87.2 88.1 0 0 0 421.9 66.8Z" fill="#dadce0"/>
<path d="M411.8 60.8A90.8 91.8 0 0 1 412.6 60.9L412 64.6A87.2 88.1 0 0 0 411.2 64.4Z" fill="#dfe0e3"/>
<path d="M423.2 63.4A90.8 91.8 0 0 1 425.1 64L424 67.5A87.2 88.1 0 0 0 422.2 66.9Z" fill="#dfe3e4"/>
<path d="M401.2 59.8A90.8 91.8 0 0 1 402.2 59.8L402 63.5A87.2 88.1 0 0 0 401 63.4Z" fill="#dadce0"/>
<path d="M441.2 70.9A90.8 91.8 0 0 1 472.1 98.8L469.1 100.9A87.2 88.1 0 0 0 439.4 74.1Z" fill="#f0f0f2"/>
<path d="M450.3 76.6A90.8 91.8 0 0 1 451.9 77.8L449.8 80.8A87.2 88.1 0 0 0 448.2 79.6Z" fill="#dadce0"/>
<path d="M469.6 95.4A90.8 91.8 0 0 1 470.7 96.9L467.8 99.1A87.2 88.1 0 0 0 466.7 97.6Z" fill="#dfe3e4"/>
<path d="M446.3 73.9A90.8 91.8 0 0 1 447.8 74.9L445.8 78A87.2 88.1 0 0 0 444.3 77Z" fill="#e4e5e8"/>
<path d="M456.1 81.1A90.8 91.8 0 0 1 456.8 81.8L454.5 84.6A87.2 88.1 0 0 0 453.7 83.9Z" fill="#dfe0e3"/>
<path d="M455.7 80.8A90.8 91.8 0 0 1 456.3 81.4L454 84.2A87.2 88.1 0 0 0 453.3 83.6Z" fill="#dadce0"/>
<path d="M458.8 83.5A90.8 91.8 0 0 1 459.6 84.3L457.1 87A87.2 88.1 0 0 0 456.3 86.2Z" fill="#e4e5e8"/>
<path d="M452 77.9A90.8 91.8 0 0 1 452.8 78.5L450.6 81.4A87.2 88.1 0 0 0 449.8 80.8Z" fill="#dfe3e4"/>
<path d="M442.1 71.4A90.8 91.8 0 0 1 443.3 72.1L441.5 75.3A87.2 88.1 0 0 0 440.3 74.6Z" fill="#dfe3e4"/>
<path d="M459.5 84.2A90.8 91.8 0 0 1 460.4 85L457.9 87.7A87.2 88.1 0 0 0 457.1 86.9Z" fill="#dfe3e4"/>
<path d="M473 100.1A90.8 91.8 0 0 1 486.5 132L482.9 132.8A87.2 88.1 0 0 0 470 102.2Z" fill="#f0f0f2"/>
<path d="M480.2 113.1A90.8 91.8 0 0 1 480.5 113.7L477.2 115.2A87.2 88.1 0 0 0 476.9 114.6Z" fill="#e6e0e1"/>
<path d="M479.2 110.8A90.8 91.8 0 0 1 479.7 111.9L476.4 113.5A87.2 88.1 0 0 0 475.9 112.5Z" fill="#e6e0e1"/>
<path d="M474.1 101.8A90.8 91.8 0 0 1 475.1 103.3L472 105.3A87.2 88.1 0 0 0 471 103.8Z" fill="#e4e5e8"/>
<path d="M481.4 115.8A90.8 91.8 0 0 1 481.8 116.8L478.5 118.2A87.2 88.1 0 0 0 478.1 117.2Z" fill="#dfe0e3"/>
<path d="M480.7 114.1A90.8 91.8 0 0 1 481 114.8L477.7 116.3A87.2 88.1 0 0 0 477.4 115.6Z" fill="#dfe0e3"/>
<path d="M481.9 116.9A90.8 91.8 0 0 1 482.2 117.9L478.9 119.2A87.2 88.1 0 0 0 478.5 118.3Z" fill="#dadce0"/>
<path d="M485.8 128.9A90.8 91.8 0 0 1 486.1 130.4L482.6 131.2A87.2 88.1 0 0 0 482.2 129.8Z" fill="#e6e0e1"/>
<path d="M473.7 101.2A90.8 91.8 0 0 1 474.4 102.3L471.3 104.3A87.2 88.1 0 0 0 470.7 103.2Z" fill="#e4e5e8"/>
<path d="M486.8 133.6A90.8 91.8 0 0 1 487.2 167.2L483.6 166.6A87.2 88.1 0 0 0 483.2 134.3Z" fill="#f0f0f2"/>
<path d="M488.5 155.6A90.8 91.8 0 0 1 488.4 156.3L484.8 156.1A87.2 88.1 0 0 0 484.8 155.5Z" fill="#e4e5e8"/>
<path d="M488.5 147.4A90.8 91.8 0 0 1 488.5 149.2L484.9 149.3A87.2 88.1 0 0 0 484.8 147.5Z" fill="#dfe3e4"/>
<path d="M488.5 149A90.8 91.8 0 0 1 488.5 150.9L484.9 150.9A87.2 88.1 0 0 0 484.9 149.1Z" fill="#e6e0e1"/>
<path d="M488.4 157.4A90.8 91.8 0 0 1 488.3 158.1L484.7 157.8A87.2 88.1 0 0 0 484.7 157.2Z" fill="#dadce0"/>
<path d="M488.5 149.5A90.8 91.8 0 0 1 488.5 151.1L484.9 151.1A87.2 88.1 0 0 0 484.9 149.5Z" fill="#dadce0"/>
<path d="M487.5 165.7A90.8 91.8 0 0 1 487.4 166.3L483.8 165.7A87.2 88.1 0 0 0 483.9 165.1Z" fill="#dfe3e4"/>
<path d="M488.1 142.2A90.8 91.8 0 0 1 488.2 142.9L484.5 143.3A87.2 88.1 0 0 0 484.5 142.6Z" fill="#e4e5e8"/>
<path d="M486.9 168.8A90.8 91.8 0 0 1 475.7 198.5L472.6 196.7A87.2 88.1 0 0 0 483.4 168.1Z" fill="#f0f0f2"/>
<path d="M482.6 184.2A90.8 91.8 0 0 1 482.1 185.6L478.7 184.2A87.2 88.1 0 0 0 479.2 182.9Z" fill="#dadce0"/>
<path d="M486.3 171.8A90.8 91.8 0 0 1 486 173.3L482.4 172.4A87.2 88.1 0 0 0 482.8 171Z" fill="#dfe3e4"/>
<path d="M483.3 182.2A90.8 91.8 0 0 1 483 183.1L479.6 181.8A87.2 88.1 0 0 0 479.9 181Z" fill="#dfe0e3"/>
<path d="M486.4 171.2A90.8 91.8 0 0 1 486.3 172L482.7 171.1A87.2 88.1 0 0 0 482.9 170.4Z" fill="#dfe0e3"/>
<path d="M482.8 183.8A90.8 91.8 0 0 1 482.6 184.3L479.2 183A87.2 88.1 0 0 0 479.4 182.5Z" fill="#dfe0e3"/>
<path d="M484.9 177.4A90.8 91.8 0 0 1 484.7 178L481.2 176.9A87.2 88.1 0 0 0 481.4 176.4Z" fill="#e6e0e1"/>
<path d="M474.9 199.9A90.8 91.8 0 0 1 455.5 222.4L453.2 219.5A87.2 88.1 0 0 0 471.8 198Z" fill="#f0f0f2"/>
<path d="M463.7 214.6A90.8 91.8 0 0 1 463 215.4L460.4 212.8A87.2 88.1 0 0 0 461.1 212Z" fill="#dfe0e3"/>
<path d="M461.3 217A90.8 91.8 0 0 1 459.9 218.4L457.4 215.7A87.2 88.1 0 0 0 458.8 214.4Z" fill="#e4e5e8"/>
<path d="M474.3 200.9A90.8 91.8 0 0 1 473.7 201.8L470.7 199.8A87.2 88.1 0 0 0 471.2 198.9Z" fill="#dfe3e4"/>
<path d="M474.4 200.8A90.8 91.8 0 0 1 473.9 201.4L470.9 199.4A87.2 88.1 0 0 0 471.3 198.8Z" fill="#e6e0e1"/>
<path d="M463.4 214.9A90.8 91.8 0 0 1 463 215.3L460.4 212.8A87.2 88.1 0 0 0 460.8 212.4Z" fill="#e6e0e1"/>
<path d="M466.8 211.1A90.8 91.8 0 0 1 466.2 211.8L463.5 209.4A87.2 88.1 0 0 0 464 208.7Z" fill="#e4e5e8"/>
<path d="M473.1 202.7A90.8 91.8 0 0 1 472 204.4L469 202.2A87.2 88.1 0 0 0 470.1 200.7Z" fill="#dfe3e4"/>
<path d="M454.2 223.4A90.8 91.8 0 0 1 430.4 237.1L429.1 233.7A87.2 88.1 0 0 0 452 220.5Z" fill="#f0f0f2"/>
<path d="M450.8 226A90.8 91.8 0 0 1 449.2 227.1L447.2 224.1A87.2 88.1 0 0 0 448.7 223Z" fill="#dadce0"/>
<path d="M453 224.3A90.8 91.8 0 0 1 452 225.1L449.8 222.2A87.2 88.1 0 0 0 450.8 221.4Z" fill="#dfe3e4"/>
<path d="M448 227.9A90.8 91.8 0 0 1 446.5 229L444.5 225.9A87.2 88.1 0 0 0 446 224.9Z" fill="#dfe0e3"/>
<path d="M448.1 227.9A90.8 91.8 0 0 1 446.7 228.8L444.7 225.7A87.2 88.1 0 0 0 446.1 224.8Z" fill="#e4e5e8"/>
<path d="M439.7 232.9A90.8 91.8 0 0 1 437.9 233.9L436.3 230.6A87.2 88.1 0 0 0 438 229.7Z" fill="#e4e5e8"/>
<path d="M444.2 230.4A90.8 91.8 0 0 1 443.2 231L441.4 227.8A87.2 88.1 0 0 0 442.4 227.2Z" fill="#dadce0"/>
<path d="M429 237.7A90.8 91.8 0 0 1 404.3 243.1L404.1 239.4A87.2 88.1 0 0 0 427.7 234.3Z" fill="#f0f0f2"/>
<path d="M420.7 240.3A90.8 91.8 0 0 1 418.9 240.8L418.1 237.2A87.2 88.1 0 0 0 419.8 236.8Z" fill="#dfe0e3"/>
<path d="M411.8 242.2A90.8 91.8 0 0 1 410.4 242.4L409.8 238.8A87.2 88.1 0 0 0 411.2 238.6Z" fill="#dfe0e3"/>
<path d="M424.8 239.1A90.8 91.8 0 0 1 423.1 239.7L422.1 236.1A87.2 88.1 0 0 0 423.7 235.6Z" fill="#dfe3e4"/>
<path d="M415.5 241.5A90.8 91.8 0 0 1 414.5 241.7L413.8 238.1A87.2 88.1 0 0 0 414.8 237.9Z" fill="#dfe3e4"/>
<path d="M422.6 239.8A90.8 91.8 0 0 1 421.8 240L420.8 236.5A87.2 88.1 0 0 0 421.6 236.3Z" fill="#dfe3e4"/>
<path d="M425.1 239A90.8 91.8 0 0 1 423.4 239.6L422.4 236A87.2 88.1 0 0 0 424.1 235.5Z" fill="#dfe3e4"/>
<path d="M402.7 243.2A90.8 91.8 0 0 1 378.6 241.2L379.4 237.6A87.2 88.1 0 0 0 402.5 239.5Z" fill="#f0f0f2"/>
<path d="M390.7 243A90.8 91.8 0 0 1 389.5 242.9L389.8 239.3A87.2 88.1 0 0 0 391 239.4Z" fill="#e4e5e8"/>
<path d="M392.9 243.2A90.8 91.8 0 0 1 391 243L391.3 239.4A87.2 88.1 0 0 0 393.1 239.5Z" fill="#dfe0e3"/>
<path d="M393.4 243.2A90.8 91.8 0 0 1 391.8 243.1L392.1 239.4A87.2 88.1 0 0 0 393.5 239.5Z" fill="#e4e5e8"/>
<path d="M385.6 242.5A90.8 91.8 0 0 1 385 242.4L385.5 238.8A87.2 88.1 0 0 0 386.1 238.8Z" fill="#e6e0e1"/>
<path d="M394.5 243.2A90.8 91.8 0 0 1 394 243.2L394.1 239.6A87.2 88.1 0 0 0 394.7 239.6Z" fill="#dfe3e4"/>
<path d="M377.1 240.9A90.8 91.8 0 0 1 355.3 232.7L357 229.4A87.2 88.1 0 0 0 377.9 237.3Z" fill="#f0f0f2"/>
<path d="M364.7 237A90.8 91.8 0 0 1 363 236.3L364.4 232.9A87.2 88.1 0 0 0 366 233.6Z" fill="#dfe3e4"/>
<path d="M377.1 240.9A90.8 91.8 0 0 1 376.1 240.7L377 237.1A87.2 88.1 0 0 0 377.9 237.3Z" fill="#dfe0e3"/>
<path d="M374.5 240.2A90.8 91.8 0 0 1 373.3 239.9L374.3 236.4A87.2 88.1 0 0 0 375.4 236.7Z" fill="#dfe0e3"/>
<path d="M359.4 234.7A90.8 91.8 0 0 1 357.7 233.9L359.3 230.6A87.2 88.1 0 0 0 360.9 231.4Z" fill="#dfe0e3"/>
<path d="M353.9 231.9A90.8 91.8 0 0 1 335.3 218.1L337.8 215.4A87.2 88.1 0 0 0 355.7 228.7Z" fill="#f0f0f2"/>
<path d="M342.8 224.6A90.8 91.8 0 0 1 341.3 223.4L343.6 220.5A87.2 88.1 0 0 0 345 221.7Z" fill="#dadce0"/>
<path d="M344.1 225.5A90.8 91.8 0 0 1 342.5 224.3L344.7 221.4A87.2 88.1 0 0 0 346.2 222.6Z" fill="#e6e0e1"/>
<path d="M342.8 224.6A90.8 91.8 0 0 1 341.7 223.7L344 220.9A87.2 88.1 0 0 0 345 221.6Z" fill="#dfe3e4"/>
<path d="M347.3 227.9A90.8 91.8 0 0 1 345.7 226.7L347.8 223.7A87.2 88.1 0 0 0 349.4 224.8Z" fill="#dfe0e3"/>
<path d="M336.9 219.7A90.8 91.8 0 0 1 335.6 218.5L338.1 215.8A87.2 88.1 0 0 0 339.4 216.9Z" fill="#dadce0"/>
<path d="M334.1 217A90.8 91.8 0 0 1 319.9 198.8L323 196.9A87.2 88.1 0 0 0 336.7 214.4Z" fill="#f0f0f2"/>
<path d="M324 205A90.8 91.8 0 0 1 323.7 204.6L326.7 202.5A87.2 88.1 0 0 0 326.9 202.9Z" fill="#e4e5e8"/>
<path d="M333.2 216A90.8 91.8 0 0 1 331.8 214.6L334.5 212.1A87.2 88.1 0 0 0 335.8 213.5Z" fill="#dadce0"/>
<path d="M321.3 201A90.8 91.8 0 0 1 320.2 199.3L323.3 197.4A87.2 88.1 0 0 0 324.3 199Z" fill="#dfe0e3"/>
<path d="M332.4 215.3A90.8 91.8 0 0 1 331.6 214.4L334.3 211.9A87.2 88.1 0 0 0 335.1 212.7Z" fill="#dadce0"/>
<path d="M320.9 200.4A90.8 91.8 0 0 1 320.5 199.8L323.6 197.8A87.2 88.1 0 0 0 324 198.4Z" fill="#dadce0"/>
<path d="M319.1 197.4A90.8 91.8 0 0 1 311.2 179.1L314.6 178A87.2 88.1 0 0 0 322.3 195.6Z" fill="#f0f0f2"/>
<path d="M315.3 190A90.8 91.8 0 0 1 314.9 189.1L318.2 187.6A87.2 88.1 0 0 0 318.6 188.5Z" fill="#e6e0e1"/>
<path d="M316.3 192A90.8 91.8 0 0 1 315.7 190.8L319 189.2A87.2 88.1 0 0 0 319.5 190.4Z" fill="#dfe3e4"/>
<path d="M318.7 196.7A90.8 91.8 0 0 1 317.8 194.9L321 193.2A87.2 88.1 0 0 0 321.9 194.9Z" fill="#dfe3e4"/>
<path d="M314.3 187.7A90.8 91.8 0 0 1 314.1 187.1L317.4 185.7A87.2 88.1 0 0 0 317.6 186.2Z" fill="#e4e5e8"/>
<path d="M310.7 177.6A90.8 91.8 0 0 1 307.3 159.3L310.9 159A87.2 88.1 0 0 0 314.2 176.5Z" fill="#f0f0f2"/>
<path d="M307.8 163.9A90.8 91.8 0 0 1 307.6 162.5L311.2 162.1A87.2 88.1 0 0 0 311.4 163.4Z" fill="#e6e0e1"/>
<path d="M310.4 176.7A90.8 91.8 0 0 1 309.9 174.7L313.4 173.8A87.2 88.1 0 0 0 313.9 175.7Z" fill="#e4e5e8"/>
<path d="M310.1 175.5A90.8 91.8 0 0 1 309.8 174.3L313.3 173.4A87.2 88.1 0 0 0 313.6 174.6Z" fill="#e4e5e8"/>
<path d="M308.5 168.4A90.8 91.8 0 0 1 308.4 167.9L312 167.2A87.2 88.1 0 0 0 312.1 167.8Z" fill="#dadce0"/>
<path d="M307.2 157.7A90.8 91.8 0 0 1 307.7 140.1L311.3 140.6A87.2 88.1 0 0 0 310.8 157.4Z" fill="#f0f0f2"/>
<path d="M307 154.1A90.8 91.8 0 0 1 307 153.4L310.6 153.3A87.2 88.1 0 0 0 310.6 154Z" fill="#dfe3e4"/>
<path d="M307.4 141.9A90.8 91.8 0 0 1 307.6 140.8L311.2 141.2A87.2 88.1 0 0 0 311.1 142.3Z" fill="#dfe3e4"/>
<path d="M307.1 156.8A90.8 91.8 0 0 1 307 155.3L310.7 155.1A87.2 88.1 0 0 0 310.7 156.6Z" fill="#e6e0e1"/>
<path d="M307 151.3A90.8 91.8 0 0 1 307 150.4L310.6 150.4A87.2 88.1 0 0 0 310.6 151.3Z" fill="#dfe0e3"/>
<path d="M307.9 138.5A90.8 91.8 0 0 1 311.3 123.6L314.7 124.7A87.2 88.1 0 0 0 311.5 139.1Z" fill="#f0f0f2"/>
<path d="M311 124.5A90.8 91.8 0 0 1 311.2 123.9L314.6 125A87.2 88.1 0 0 0 314.4 125.6Z" fill="#e6e0e1"/>
<path d="M310.2 127.2A90.8 91.8 0 0 1 310.4 126.6L313.8 127.6A87.2 88.1 0 0 0 313.7 128.2Z" fill="#dfe3e4"/>
<path d="M309.2 131.4A90.8 91.8 0 0 1 309.5 129.9L313 130.8A87.2 88.1 0 0 0 312.7 132.2Z" fill="#e4e5e8"/>
<path d="M307.9 138.2A90.8 91.8 0 0 1 308.2 136.3L311.8 136.9A87.2 88.1 0 0 0 311.5 138.8Z" fill="#dfe3e4"/>
<path d="M311.7 122.1A90.8 91.8 0 0 1 317.1 109.3L320.3 111A87.2 88.1 0 0 0 315.2 123.2Z" fill="#f0f0f2"/>
<path d="M315.8 112A90.8 91.8 0 0 1 316.4 110.8L319.6 112.4A87.2 88.1 0 0 0 319.1 113.5Z" fill="#dfe3e4"/>
<path d="M315.2 113.2A90.8 91.8 0 0 1 316.1 111.4L319.3 113A87.2 88.1 0 0 0 318.5 114.7Z" fill="#dadce0"/>
<path d="M315.5 112.6A90.8 91.8 0 0 1 316 111.5L319.3 113.1A87.2 88.1 0 0 0 318.8 114.1Z" fill="#e4e5e8"/>
<path d="M317.8 107.9A90.8 91.8 0 0 1 324.9 96.7L327.8 98.9A87.2 88.1 0 0 0 321 109.7Z" fill="#f0f0f2"/>
<path d="M323.2 99.1A90.8 91.8 0 0 1 324.1 97.8L327 100A87.2 88.1 0 0 0 326.2 101.2Z" fill="#e6e0e1"/>
<path d="M321.6 101.5A90.8 91.8 0 0 1 322.6 100L325.6 102.1A87.2 88.1 0 0 0 324.6 103.5Z" fill="#dadce0"/>
<path d="M323.2 99.1A90.8 91.8 0 0 1 323.7 98.4L326.6 100.5A87.2 88.1 0 0 0 326.2 101.2Z" fill="#e4e5e8"/>
<path d="M325.9 95.4A90.8 91.8 0 0 1 332.4 87.7L335 90.3A87.2 88.1 0 0 0 328.7 97.7Z" fill="#f0f0f2"/>
<path d="M327.3 93.6A90.8 91.8 0 0 1 328.1 92.6L330.9 95A87.2 88.1 0 0 0 330.1 95.9Z" fill="#dadce0"/>
<path d="M329.5 90.9A90.8 91.8 0 0 1 330.5 89.9L333.2 92.3A87.2 88.1 0 0 0 332.2 93.4Z" fill="#e4e5e8"/>
<path d="M329.8 90.6A90.8 91.8 0 0 1 330.3 90L333 92.5A87.2 88.1 0 0 0 332.5 93.1Z" fill="#e6e0e1"/>
<path d="M333.5 86.6A90.8 91.8 0 0 1 341.5 79.4L343.8 82.3A87.2 88.1 0 0 0 336.1 89.2Z" fill="#f0f0f2"/>
<path d="M339.8 80.8A90.8 91.8 0 0 1 340.6 80.1L342.9 83A87.2 88.1 0 0 0 342.1 83.6Z" fill="#dfe0e3"/>
<path d="M338 82.3A90.8 91.8 0 0 1 338.7 81.8L341 84.6A87.2 88.1 0 0 0 340.4 85.1Z" fill="#e6e0e1"/>
<path d="M336.4 83.8A90.8 91.8 0 0 1 337.9 82.5L340.3 85.2A87.2 88.1 0 0 0 338.9 86.5Z" fill="#e4e5e8"/>
<path d="M342.7 78.5A90.8 91.8 0 0 1 349.4 73.8L351.4 76.9A87.2 88.1 0 0 0 344.9 81.4Z" fill="#f0f0f2"/>
<path d="M343 78.2A90.8 91.8 0 0 1 344.2 77.4L346.3 80.3A87.2 88.1 0 0 0 345.2 81.2Z" fill="#dadce0"/>
<path d="M347.1 75.3A90.8 91.8 0 0 1 347.6 75L349.6 78A87.2 88.1 0 0 0 349.1 78.4Z" fill="#dfe3e4"/>
<path d="M350.8 72.9A90.8 91.8 0 0 1 358.5 68.7L360 72A87.2 88.1 0 0 0 352.7 76.1Z" fill="#f0f0f2"/>
<path d="M356.2 69.9A90.8 91.8 0 0 1 357 69.5L358.6 72.8A87.2 88.1 0 0 0 357.9 73.1Z" fill="#e4e5e8"/>
<path d="M351.5 72.5A90.8 91.8 0 0 1 352.6 71.8L354.4 75A87.2 88.1 0 0 0 353.4 75.6Z" fill="#dadce0"/>
<path d="M359.9 68.1A90.8 91.8 0 0 1 385.3 60.6L385.8 64.2A87.2 88.1 0 0 0 361.4 71.4Z" fill="#f0f0f2"/>
<path d="M360.2 67.9A90.8 91.8 0 0 1 360.9 67.6L362.3 71A87.2 88.1 0 0 0 361.7 71.3Z" fill="#dadce0"/>
<path d="M363.7 66.4A90.8 91.8 0 0 1 365.6 65.7L366.9 69.1A87.2 88.1 0 0 0 365.1 69.8Z" fill="#dfe3e4"/>
<path d="M374.8 62.7A90.8 91.8 0 0 1 376.4 62.3L377.2 65.8A87.2 88.1 0 0 0 375.7 66.2Z" fill="#dadce0"/>
<path d="M369 64.4A90.8 91.8 0 0 1 370.2 64L371.3 67.5A87.2 88.1 0 0 0 370.2 67.9Z" fill="#e4e5e8"/>
<path d="M377.8 61.9A90.8 91.8 0 0 1 379.4 61.6L380.1 65.2A87.2 88.1 0 0 0 378.6 65.5Z" fill="#dadce0"/>
<path d="M377.1 62.1A90.8 91.8 0 0 1 378.4 61.8L379.2 65.4A87.2 88.1 0 0 0 377.9 65.7Z" fill="#dadce0"/>
<path d="M386.8 60.4A90.8 91.8 0 0 1 397 59.7L397 63.4A87.2 88.1 0 0 0 387.3 64Z" fill="#f0f0f2"/>
<path d="M393.9 59.8A90.8 91.8 0 0 1 395.3 59.7L395.4 63.4A87.2 88.1 0 0 0 394 63.5Z" fill="#e4e5e8"/>
<path d="M393.3 59.8A90.8 91.8 0 0 1 394.7 59.8L394.9 63.4A87.2 88.1 0 0 0 393.5 63.5Z" fill="#dadce0"/>
<text x="421" y="57.3" transform="rotate(-76 421 57.3)" text-anchor="middle" dy="2.55" font-size="7.2" fill="#222" stroke="#222" stroke-width="0.25">1</text>
<text x="461.7" y="79.1" transform="rotate(-48.2 461.7 79.1)" text-anchor="middle" dy="2.55" font-size="7.2" fill="#222" stroke="#222" stroke-width="0.25">2</text>
<text x="486" y="113.3" transform="rotate(-23.2 486 113.3)" text-anchor="middle" dy="2.55" font-size="7.2" fill="#222" stroke="#222" stroke-width="0.25">3</text>
<text x="493.7" y="150.3" transform="rotate(-0.7 493.7 150.3)" text-anchor="middle" dy="2.55" font-size="7.2" fill="#222" stroke="#222" stroke-width="0.25">4</text>
<text x="487.5" y="186" transform="rotate(20.8 487.5 186)" text-anchor="middle" dy="2.55" font-size="7.2" fill="#222" stroke="#222" stroke-width="0.25">5</text>
<text x="470" y="215.4" transform="rotate(41.2 470 215.4)" text-anchor="middle" dy="2.55" font-size="7.2" fill="#222" stroke="#222" stroke-width="0.25">6</text>
<text x="445.5" y="235.7" transform="rotate(60.2 445.5 235.7)" text-anchor="middle" dy="2.55" font-size="7.2" fill="#222" stroke="#222" stroke-width="0.25">7</text>
<text x="417.9" y="246.4" transform="rotate(77.9 417.9 246.4)" text-anchor="middle" dy="2.55" font-size="7.2" fill="#222" stroke="#222" stroke-width="0.25">8</text>
<text x="390.2" y="248.3" transform="rotate(-85.5 390.2 248.3)" text-anchor="middle" dy="2.55" font-size="7.2" fill="#222" stroke="#222" stroke-width="0.25">9</text>
<text x="363.6" y="243.7" transform="rotate(-69.5 363.6 243.7)" text-anchor="middle" dy="2.55" font-size="7.2" fill="#222" stroke="#222" stroke-width="0.25">10</text>
<text x="340.3" y="231" transform="rotate(-53.8 340.3 231)" text-anchor="middle" dy="2.55" font-size="7.2" fill="#222" stroke="#222" stroke-width="0.25">11</text>
<text x="321.3" y="212.5" transform="rotate(-38.3 321.3 212.5)" text-anchor="middle" dy="2.55" font-size="7.2" fill="#222" stroke="#222" stroke-width="0.25">12</text>
<text x="308.6" y="191.2" transform="rotate(-23.7 308.6 191.2)" text-anchor="middle" dy="2.55" font-size="7.2" fill="#222" stroke="#222" stroke-width="0.25">13</text>
<text x="302" y="169.8" transform="rotate(-10.7 302 169.8)" text-anchor="middle" dy="2.55" font-size="7.2" fill="#222" stroke="#222" stroke-width="0.25">14</text>
<text x="300.4" y="148.7" transform="rotate(1.6 300.4 148.7)" text-anchor="middle" dy="2.55" font-size="7.2" fill="#222" stroke="#222" stroke-width="0.25">15</text>
<text x="302.8" y="129.5" transform="rotate(12.9 302.8 129.5)" text-anchor="middle" dy="2.55" font-size="7.2" fill="#222" stroke="#222" stroke-width="0.25">16</text>
<text x="308.1" y="113" transform="rotate(23 308.1 113)" text-anchor="middle" dy="2.55" font-size="7.2" fill="#222" stroke="#222" stroke-width="0.25">17</text>
<text x="315.6" y="98.6" transform="rotate(32.5 315.6 98.6)" text-anchor="middle" dy="2.55" font-size="7.2" fill="#222" stroke="#222" stroke-width="0.25">18</text>
<text x="324" y="87.1" transform="rotate(40.8 324 87.1)" text-anchor="middle" dy="2.55" font-size="7.2" fill="#222" stroke="#222" stroke-width="0.25">19</text>
<text x="333" y="77.9" transform="rotate(48.3 333 77.9)" text-anchor="middle" dy="2.55" font-size="7.2" fill="#222" stroke="#222" stroke-width="0.25">20</text>
<text x="342.3" y="70.6" transform="rotate(55.3 342.3 70.6)" text-anchor="middle" dy="2.55" font-size="7.2" fill="#222" stroke="#222" stroke-width="0.25">21</text>
<text x="351.4" y="64.9" transform="rotate(61.6 351.4 64.9)" text-anchor="middle" dy="2.55" font-size="7.2" fill="#222" stroke="#222" stroke-width="0.25">22</text>
<text x="370.8" y="58.1" transform="rotate(73.7 370.8 58.1)" text-anchor="middle" dy="2.55" font-size="7.2" fill="#222" stroke="#222" stroke-width="0.25">X</text>
<text x="391.5" y="54.4" transform="rotate(86.3 391.5 54.4)" text-anchor="middle" dy="2.55" font-size="7.2" fill="#222" stroke="#222" stroke-width="0.25">Y</text>
<path d="M417.3 78.3h0M412.7 77.3h0M422.5 79.6h0M430.6 84.3h0M420.8 76.4h0M408.9 74.1h0M422.5 74.1h0M427.1 81.5h0M422.5 72.7h0M425.4 75.9h0M405.4 72.5h0M431.6 77.4h0M428.8 83.6h0M430.2 79.2h0M428.8 80.1h0M411.1 74.6h0M404.1 71.3h0M427.9 84.9h0M408 72.3h0M406.6 77.1h0M401.1 70.2h0M430.6 80.7h0M432.8 80.4h0M400.2 75h0M426 80h0M416.5 78.4h0M400 74h0M417 79.6h0M402.9 75.1h0M422.8 78.6h0M426.6 79.8h0M413.8 74.3h0M429.5 79.8h0M430.3 76.9h0M407 73.8h0M401.6 73.5h0M417.3 71.3h0M430.7 84.1h0M426.1 77h0M411.9 77.9h0M405.2 72.3h0M415.9 81.2h0M424.5 78.6h0M424.9 82.6h0M416.3 78.3h0M433.4 81.3h0M425.2 75.3h0M408 79.6h0M411.5 73.3h0M412.7 76h0M423 76h0M431.7 79.5h0M425.7 76.7h0M415.7 75.2h0M402.2 77h0M417.9 81.9h0M403.9 76.2h0M411.1 70.3h0M424.1 76.3h0M400.1 74.1h0M413.4 77.1h0M428.7 83.3h0M415.1 78.7h0M420.5 76.5h0M422.5 79.2h0M427.1 83.9h0M399.9 76.1h0M411.2 73.7h0M428.8 83.5h0M402.8 75.8h0M431.1 79.7h0M417.4 71.7h0M418.4 78.9h0M411.7 76.1h0M407.4 73.3h0M425.4 80.4h0M402.1 72.8h0M423.2 83.9h0M398.7 75.4h0M429.6 80.7h0M399.1 75.3h0M424.8 75.4h0M415.1 69.9h0M407.4 72.7h0M432.3 76.1h0M414.2 82.6h0M408 73.9h0M410.6 72h0M405.3 74.2h0M414.6 75.7h0M425.8 73.9h0M407.3 74.7h0M444.2 89.7h0M453 92.9h0M448.9 96.5h0M456.6 95h0M450.1 92.6h0M455.1 100.6h0M446.4 89.5h0M454.5 95.8h0M435.6 81.2h0M456.7 98h0M444.1 88.5h0M447 89.5h0M436.6 80.6h0M455.7 101.4h0M451.3 97.6h0M452 93.4h0M436.8 81.7h0M451.9 97.9h0M458 100.5h0M462.7 102.8h0M457 99.7h0M450.4 99.3h0M458.6 104.2h0M436.6 88.2h0M459.3 101.8h0M442.9 91.5h0M433.1 86h0M448.8 89.9h0M439.3 86.1h0M452.1 97.9h0M442.7 88.1h0M438.9 85.1h0M447.8 92.8h0M443.9 92.2h0M446.8 90h0M439.6 87.8h0M456.7 98h0M454.9 98.9h0M453.5 95.6h0M436.6 82.1h0M439.1 82.9h0M449.9 88.2h0M457.7 103.4h0M436.1 82.3h0M441.2 85.5h0M435.3 84.1h0M448.7 91.6h0M442.7 87.8h0M435.3 84.7h0M446.7 89h0M448.5 88.9h0M433.1 85.8h0M461 106.3h0M452.7 95.1h0M463.4 103h0M435.3 82.7h0M451.4 103.5h0M456.4 102h0M455 106.6h0M458.2 105.4h0M448.1 89.7h0M450.6 88h0M435.2 83.2h0M437.2 78.5h0M440.3 83.2h0M455.6 97.2h0M453.4 97h0M453.7 92.6h0M456.9 94.8h0M462 105.5h0M449 89.8h0M457.5 101h0M455.2 94h0M459.2 106.6h0M437.8 80.1h0M440.8 84.1h0M454.5 95.6h0M448.5 96.2h0M445 91.7h0M457.1 99.2h0M455.8 94h0M451.7 99.8h0M441.4 80.3h0M456 94.8h0M438.9 84.5h0M457.8 104.9h0M459.8 102.8h0M437.8 84.8h0M451.7 96.2h0M438.1 86.9h0M446.9 86.3h0M472.4 127.6h0M471.8 125.2h0M477.3 129.9h0M470.7 123.4h0M463.5 110.7h0M465.1 111.5h0M463.2 107.3h0M475.8 123.2h0M472.7 131.9h0M468.8 121.2h0M475.4 133h0M474.1 123.6h0M473.6 121.8h0M466.9 109.8h0M471.2 122.9h0M474 131.8h0M470.4 134.8h0M468.7 120.1h0M462.1 110.5h0M463.2 112.6h0M473.2 134h0M472.6 131.6h0M475.8 131h0M466.9 120.6h0M476.7 129.1h0M472.8 119.2h0M469.6 117.3h0M471.6 114.2h0M468 114.7h0M472.4 124.1h0M472.9 127h0M470.7 112.6h0M466.1 110.1h0M468.6 121.9h0M466.1 111.8h0M469.7 116.3h0M470.6 122.6h0M467.2 107.6h0M469.8 112.8h0M473.5 122h0M469.2 118.6h0M466.7 122.1h0M469.6 117.8h0M473.3 128.5h0M474 130.2h0M469.1 116.6h0M469.1 118h0M470.9 119h0M468.3 125.6h0M474.1 124h0M468.6 127.1h0M474.6 130h0M474.1 127.8h0M470.5 128.7h0M470.6 116.4h0M464.6 108.8h0M472.8 132.1h0M470.9 134.4h0M469.1 127.7h0M474.4 132.2h0M465 113.4h0M469.8 129.4h0M467.3 120.4h0M473.3 127.1h0M468.6 113.9h0M473.2 116.3h0M470.8 123.3h0M465 107.6h0M468.8 109.4h0M472 127h0M470.7 129.4h0M467.5 119.7h0M475.4 130.9h0M467.4 112.5h0M476.2 129.6h0M468.2 123.1h0M464.7 107.1h0M473.6 129.8h0M472.7 144.5h0M475.8 151.7h0M477.9 154.7h0M472.4 139.5h0M473 151.1h0M476.6 152.4h0M475.2 136.9h0M476 159.2h0M475.8 152.1h0M471.7 153.7h0M475.2 150.4h0M472.8 157.5h0M472.9 158.2h0M477.4 142.1h0M478.7 149h0M480.6 145.6h0M470.1 147.5h0M476.1 151.8h0M476.8 142.6h0M468.4 146.9h0M475.4 142.1h0M471.7 139.2h0M473.5 157.7h0M473.6 161.8h0M473.6 137.3h0M469 152.9h0M479.1 146.1h0M478 150.4h0M474 160.8h0M476 150.1h0M480 142.4h0M472.3 159.6h0M471 144.5h0M473.7 162.5h0M466.7 160.4h0M474.2 142.2h0M477.4 162.2h0M475.1 151.9h0M472.5 142.4h0M477.7 150h0M474.7 160.2h0M473.2 161.5h0M474.8 144.7h0M477.4 162.9h0M475.4 137.9h0M478.4 154.5h0M476.9 159.9h0M473.8 145h0M474.7 163.1h0M472.4 152h0M471.9 137.3h0M474.1 160.9h0M472.6 151.4h0M476.9 140.3h0M475.6 152.3h0M474.8 137h0M473.5 139.9h0M478.6 146.6h0M471.3 148.5h0M473.3 153.5h0M473.7 148.2h0M477.8 162.7h0M474.3 159.5h0M470 137.5h0M475.7 148.3h0M476.5 139.4h0M474.2 139.9h0M466 138.3h0M480.7 146.4h0M468.8 190.1h0M471.6 175.6h0M466.3 188.3h0M473.3 172.3h0M464 190.3h0M472.3 178.3h0M468.9 189.1h0M471.1 171.7h0M466.1 185.3h0M467.4 189.4h0M465.1 191.1h0M472.4 179.6h0M473.1 180.1h0M462.8 182h0M474 168.4h0M471.5 173.5h0M470.7 183.2h0M468.9 179h0M471.4 176.5h0M468.7 182.8h0M478.7 170.2h0M470.6 175.8h0M469.3 179h0M476.9 175.4h0M463.9 187.3h0M471.1 180.2h0M470.8 183h0M472.2 180.9h0M467.2 189.7h0M469.8 188.7h0M465.2 182.2h0M464.2 189.7h0M470.8 173.3h0M468.2 189.2h0M464.2 188h0M472.2 183.1h0M473.5 181.2h0M464.5 191.6h0M475.8 169.6h0M469.4 187.4h0M463.4 188.9h0M470.6 179h0M464.6 190.9h0M470.1 182.8h0M469.8 191.2h0M476.1 177.8h0M468.5 184.1h0M464.8 190.2h0M469.1 185.6h0M466.1 192.1h0M473 173h0M471.7 173.7h0M474.1 168.4h0M474.5 167.8h0M473.5 170.9h0M472 183.2h0M470.6 184.6h0M472.3 183.6h0M474.2 168.9h0M474.2 169.4h0M467.5 182.5h0M470.7 174.9h0M469.2 185.3h0M463.6 189.6h0M470.6 176h0M470.2 174.9h0M472.1 171.1h0M461.9 201.1h0M447.7 211.7h0M460.7 196.6h0M445.5 208.8h0M453 208.1h0M458.6 203.8h0M455.2 208h0M459 201.8h0M462.1 202.4h0M464.6 195.1h0M460.9 200.8h0M453.5 207.3h0M447.8 209.2h0M460.6 194.8h0M462.7 197.1h0M463.3 193.7h0M457.8 202.8h0M453.6 207.3h0M460.2 199.5h0M458.6 203.3h0M460 199.7h0M453.3 208.1h0M451.4 214.5h0M460 201.5h0M455.9 203.2h0M448.9 212.5h0M448.4 209.1h0M457 208.1h0M456.2 204.2h0M459.3 200h0M460.8 193.8h0M462.8 201.1h0M453.1 209.9h0M462.6 203.1h0M451.2 211.2h0M449.4 208h0M445.9 206.9h0M451.7 209.1h0M459 200.7h0M453.3 204.7h0M458.9 203.1h0M450.9 209.5h0M449.2 210.9h0M447.3 211.6h0M457.8 204.2h0M455.7 211.7h0M456.3 205.7h0M461.6 194.3h0M449.5 211.3h0M461 192.1h0M458.1 203.8h0M462.8 193.7h0M453.8 205.8h0M458.3 199.9h0M462.8 197.7h0M452.7 210.2h0M446.5 208.7h0M451.1 199.4h0M460.5 200.3h0M453 212.6h0M439.4 216.7h0M443 215.8h0M432.9 220.7h0M430.6 220.7h0M445.1 213.3h0M428.4 225.6h0M439.2 214.2h0M428.9 221.2h0M428 226.7h0M444.2 212.5h0M431.9 220h0M443.7 210.8h0M440.9 217.4h0M442.4 219.8h0M425 222.4h0M431.7 225h0M441.5 212.2h0M444.3 212h0M431.7 221.9h0M441.9 218.4h0M430 223.4h0M441.3 216.1h0M441.8 216h0M432.8 221.7h0M431.2 224.5h0M442.1 217.3h0M436 217.3h0M427 223.3h0M439.3 216.4h0M427.3 223h0M429.1 228.4h0M430.5 223.3h0M444.5 215h0M440.6 214.9h0M428.9 224.6h0M427.7 223.2h0M437.5 217.3h0M427.1 224.4h0M441.9 210.1h0M434.1 222h0M425.4 218.5h0M425.5 222h0M443.4 213.9h0M429.4 223.8h0M434.6 222.9h0M434 220.5h0M436.3 216h0M442.8 214.2h0M432 221.8h0M427.4 226h0M428.3 219.3h0M441.6 211.6h0M440.6 216.8h0M432.2 224.8h0M432.7 221.2h0M428.9 224.5h0M420.4 226.8h0M413 228.3h0M419.2 224.4h0M420.3 226.4h0M422.4 222.8h0M422 225.6h0M404.5 224.1h0M404 227.5h0M416.5 228.7h0M405.6 230.9h0M406.8 225.7h0M415.3 228.4h0M419.3 223.6h0M420.7 220.9h0M409.7 229.8h0M422.3 221h0M409.2 230.7h0M420.7 226.7h0M410.8 229h0M407.1 227.1h0M420.8 222.1h0M413.8 230.8h0M420.3 229.1h0M412.7 226.9h0M412 228.3h0M404.4 229.4h0M413.3 227.2h0M416 222h0M404.3 224.1h0M406.1 228.1h0M407.5 229.9h0M422.4 227.6h0M412.6 225.5h0M420.9 222.8h0M404.8 226.9h0M417.3 228.6h0M419 226h0M410.8 231.6h0M416.6 226.4h0M407.1 227.9h0M418.8 227.2h0M421.3 225.9h0M414 226.9h0M423.5 224h0M408.1 228.3h0M419.3 224.7h0M422.2 228.2h0M420.9 225.7h0M386.7 226.9h0M390.2 229.9h0M392.9 229.5h0M387.6 224.1h0M395.9 224.4h0M401.5 229.7h0M401.5 229.8h0M386.3 226.4h0M395.5 225.4h0M382.7 226h0M390.8 226.5h0M382.4 228.6h0M399.7 230.7h0M399.8 229.7h0M383.3 225.6h0M396.3 227.8h0M400.6 230.7h0M382.1 227.9h0M385.7 226.8h0M390.4 231.2h0M385.7 225.6h0M389.6 232.4h0M382.2 227.4h0M386.8 228.8h0M383.3 227.9h0M399.6 230.4h0M396.3 234.7h0M396.5 226.2h0M390.4 228.4h0M386.7 233.6h0M396.7 229.4h0M388.9 231h0M386.9 227.4h0M398.6 233.3h0M386.4 227.7h0M381.6 228.5h0M398.2 232.8h0M387 229h0M388.3 231.6h0M396.5 226.5h0M397.2 228.6h0M398.1 227.9h0M381.8 227.7h0M401.3 228.6h0M395.8 230.6h0M383.6 225.4h0M399.2 228h0M394.6 230h0M401.7 226.9h0M399.7 231h0M371.7 228.4h0M367 222.1h0M362.4 223.5h0M367.9 225.1h0M374.6 226.9h0M378 229.4h0M365.3 225.3h0M375.3 230.1h0M362.9 221h0M375.6 228.9h0M363.8 224.7h0M361.5 220.9h0M379.6 229h0M377.1 228.4h0M369.3 226.1h0M363.4 218.6h0M369.6 222.6h0M374.2 225.8h0M362.8 220.3h0M372 224.5h0M373.3 226.2h0M379.6 229.7h0M377.9 226.8h0M375.9 226h0M372 222.3h0M360.4 223.3h0M367.7 228.1h0M368.4 222.5h0M363.7 224.4h0M364.6 217.6h0M374.3 226h0M378.4 227.6h0M379.6 229.2h0M363.4 219.8h0M364.9 225.3h0M372.3 225.5h0M377 231.7h0M374.7 229h0M377.3 227.4h0M362 224.5h0M365.5 223.9h0M375 227h0M364.8 221.9h0M374.8 225.5h0M372.4 226.2h0M351.8 213.1h0M357.9 222.5h0M350 213h0M360.5 217.7h0M358.5 222.4h0M354.9 218.4h0M350 213.3h0M356.8 217.4h0M351.8 215.3h0M358.2 220.6h0M357.6 221h0M354.2 218.1h0M345.7 210.7h0M352.5 218.5h0M352.2 221.5h0M356.4 220.4h0M356.8 219h0M353.9 222h0M354.3 217.7h0M349.9 211.9h0M358.1 218.8h0M360.5 217.4h0M356.7 221.8h0M353.1 215.9h0M348.4 216.8h0M359.8 219.4h0M357.8 217.6h0M356.2 218.7h0M361.4 217.7h0M354.1 217h0M356.3 215.1h0M348.7 210.4h0M350.3 212.8h0M354.3 213.3h0M356 223.3h0M343.6 210.4h0M338.9 206h0M339.8 205.1h0M336.2 201.4h0M336.7 205.2h0M329.4 196.2h0M335.9 198.2h0M331.8 197.3h0M327.9 197h0M330.2 192.7h0M338.1 205.2h0M335.6 197.4h0M336.6 203.6h0M337.4 200.7h0M339.6 206.7h0M337.4 206h0M334.3 202.5h0M340.4 203.8h0M332.6 196.4h0M343.1 206.7h0M339.8 204.2h0M332.9 195.3h0M341 208.5h0M329.2 193.6h0M329.9 193.9h0M339.6 208.1h0M335 196.8h0M333.7 196.5h0M332.4 197.8h0M333.1 194.2h0M343 207.6h0M336 199.6h0M344.7 205.8h0M334.8 195.6h0M339.4 193.2h0M337.8 199.2h0M334.7 199.9h0M339.9 205.5h0M329.9 196.6h0M336.7 202.1h0M338.7 205h0M338.3 204.6h0M331.1 195h0M344.5 202.6h0M336.2 191.2h0M334 197.7h0M329.9 195.6h0M332.3 193.6h0M334.6 198.9h0M333.9 200h0M328 188.2h0M327.9 178.9h0M325.1 178.2h0M329.4 187.2h0M331.3 190h0M330.5 186h0M329.3 182.5h0M324.7 182.9h0M331.4 188.8h0M327.1 188.6h0M326.8 184.8h0M332.2 186.7h0M325.2 183.3h0M329.5 187.2h0M332.8 189.2h0M327.9 191.3h0M325 181.8h0M333.5 185.7h0M327.6 182.5h0M329.1 186.4h0M322.8 178.6h0M322.7 178.6h0M329.9 190.7h0M332.2 188.5h0M331.9 186.1h0M326.5 183.6h0M325.9 176.2h0M325.5 177.3h0M325.5 180h0M323.8 183.4h0M327.7 183.2h0M328.4 183.6h0M324.3 175.3h0M319.1 178.4h0M332.4 186.3h0M328.2 177.9h0M325.6 178.8h0M320.3 166.2h0M319.9 162.5h0M322 165h0M320.9 171.8h0M324.7 165.7h0M319.8 167.3h0M322.3 164.7h0M321.1 162.6h0M322.5 164.6h0M318.9 163.5h0M322.7 162h0M320.1 161.9h0M319 162.9h0M323.6 170.5h0M318.9 160.9h0M320.6 168.6h0M320.7 174h0M320.1 164.4h0M320.6 164.8h0M320.3 174.1h0M316.5 165.1h0M322.4 169.2h0M324.5 163.9h0M321.2 165.1h0M323.2 163h0M320.4 163.3h0M324.3 164.7h0M322.8 171.8h0M320.4 160h0M323.4 167.6h0M326.3 170.7h0M322.6 169h0M323.6 171.1h0M319.7 160.2h0M321.2 171.9h0M320.4 173.9h0M321.3 163.5h0M320.6 170.2h0M315.1 153h0M320.4 156.5h0M320.9 149.8h0M323 143.4h0M325.4 152.4h0M326.4 148.8h0M316.9 150.5h0M322.6 143.9h0M321.1 149.3h0M319.3 152.3h0M322.6 152.8h0M318.5 150.3h0M318.6 156.3h0M324.4 154.3h0M320.3 151.8h0M319.6 153.4h0M322.4 152.9h0M320.3 150.1h0M324.9 150.7h0M325 149.1h0M320.8 146.8h0M317.5 150h0M326.6 151.4h0M321.1 144.6h0M316.1 142.5h0M317 150.2h0M320 147.9h0M319.9 146.7h0M320.8 146.6h0M316.1 151.7h0M314.7 152.6h0M324 153.6h0M320.3 146.9h0M318.3 147h0M318.6 144.8h0M318.9 149.3h0M323.4 151.5h0M314.7 150.7h0M319.7 131h0M320 132.7h0M321.6 131.5h0M319.1 134.7h0M321.4 136.3h0M323.9 128.6h0M328.9 134h0M323.9 132.8h0M320 130.3h0M320.8 136.3h0M323.6 129.1h0M321.9 129h0M327.2 132.9h0M323.5 134.6h0M320.3 139.2h0M324.5 138.8h0M320.3 136.4h0M321.4 138.9h0M324.1 135.5h0M323.5 130.6h0M323.7 131.2h0M322.4 139.8h0M318.6 139.6h0M319.7 138.1h0M326.9 130.5h0M320.8 135h0M318.4 134.8h0M322 127.1h0M317.2 132.2h0M324.7 130.6h0M324.8 130.9h0M321.6 128h0M320.6 129.9h0M316.5 136.8h0M326.2 119.1h0M330 120.7h0M325.3 123.7h0M327.6 122.9h0M325.4 117.2h0M328 120.9h0M325.2 124.5h0M322.2 124.1h0M328.3 116.3h0M326.7 120.4h0M323.5 124.4h0M324.8 121.1h0M328.6 119.7h0M326.4 115.9h0M322.8 124.6h0M327.8 117.2h0M330.7 116.5h0M330.7 116.8h0M328.7 116.1h0M331.1 117.3h0M323.7 116.5h0M326.2 121.9h0M328.8 116.2h0M326.8 125.1h0M323 122.3h0M323.9 122.4h0M327.5 119.6h0M325.4 122.5h0M330.4 120.4h0M323.4 124.1h0M330.1 118.4h0M328.6 120.5h0M331.6 102.3h0M330.8 112.7h0M332.8 110.6h0M328 113.1h0M329.2 110.5h0M333.4 106.5h0M334.9 110.4h0M332.2 114.6h0M336.9 109.4h0M331.3 112.4h0M328.9 108.5h0M334.6 109.8h0M328.5 113h0M333.1 104h0M328.9 107.4h0M331.2 109.7h0M335.6 110.4h0M333 109.8h0M332.9 107.4h0M330.5 111h0M328.4 105.3h0M333.3 108.4h0M337.3 102.8h0M343.4 99.2h0M340.2 102.9h0M335.5 98.2h0M335.9 97.9h0M338 100.8h0M338.3 94.1h0M335.7 102.8h0M342.7 98.4h0M337.6 103.3h0M342.5 99.3h0M344 100.1h0M341.8 98.3h0M339.9 102.3h0M341.7 100.6h0M339.6 100.9h0M345.3 89.9h0M345.9 90h0M346.5 89.9h0M340 92.2h0M344.6 90.1h0M346.7 87.5h0M349.8 92.4h0M345.8 93.1h0M351.8 96.4h0M343.6 94.1h0M349.3 91.6h0M350.5 95h0M342.3 91.5h0M344.6 93.4h0M345.5 93.6h0M342.5 91h0M349 97.6h0M350.3 94h0M343.6 94h0M345.6 93.6h0M348.3 91.9h0M345.5 88.2h0M349.7 90.8h0M347.2 94.8h0M350.5 87.6h0M353.8 85.4h0M354.7 89h0M352.3 87.5h0M353.2 84.8h0M351.2 88.4h0M357.8 87.7h0M353.2 82.5h0M352.9 90.2h0M354 86.9h0M351.9 88.6h0M352.9 85h0M354.1 85.6h0M352.4 87.1h0M357 89.6h0M361.9 82.2h0M362.9 84.7h0M362.3 80.6h0M359.4 80.7h0M362.7 80.6h0M359.9 84.6h0M364 80.9h0M364.6 81.9h0M361 83h0M362 82.6h0M363.1 83.1h0M361.9 85.3h0M357.9 81.8h0M360.5 81.8h0M363.1 82.5h0M361 81.2h0M358.4 83.7h0M362.9 83.1h0M360.5 81.2h0M362.9 85.9h0M363.4 81.1h0M367.5 82.9h0M366.4 77.5h0M366.2 75.6h0M368.1 75h0M382.2 78.9h0M372.7 81.2h0M377.2 76.3h0M366.2 73.8h0M377.5 76h0M365.8 80.2h0M384.2 73h0M369.8 79.7h0M378.3 74.4h0M379.3 78.6h0M375.9 75.3h0M368.6 77.9h0M383.1 76h0M374.3 78.7h0M385.6 76.5h0M385.4 70.2h0M379.4 73.6h0M371.1 83.4h0M382.1 73.8h0M378.8 72.7h0M387 74.2h0M373.4 78.1h0M366.9 81.7h0M380.3 74.9h0M375.4 79.6h0M368.2 74.1h0M367.1 78.3h0M378.2 76.2h0M377.2 76.1h0M366.4 77.1h0M385.3 77.7h0M370.6 81.2h0M382.5 77.4h0M367.6 80.5h0M373.9 79.2h0M369.5 76.6h0M370.6 77.1h0M371.5 75.2h0M375.9 73.8h0M382.7 69.6h0M383.2 80.4h0M379 81.4h0M386.2 75.5h0M371.4 76.6h0M385.2 74.6h0M380.3 74.9h0M368.4 79.3h0M377.2 78.1h0M372.9 73.9h0M396.7 68.3h0M394.2 71.8h0" stroke="#b5473f" stroke-width="1.3" stroke-linecap="round" stroke-opacity="0.6" fill="none"/>
<path d="M423.8 80.4h0M399.1 74.1h0M426.6 76.8h0M428.4 74.8h0M421.5 89.2h0M411.3 78.6h0M419.1 79.4h0M412.2 73.2h0M421.6 78.9h0M399.6 76.9h0M412.6 72.1h0M416.9 73.9h0M421.8 78.5h0M406.6 73.5h0M408.9 77.1h0M426 77.7h0M404.8 74.3h0M428.6 79.1h0M405.7 73.9h0M427.8 77.5h0M453.4 95.7h0M439.5 85.1h0M455.8 97.8h0M459.4 99.6h0M446.1 93.1h0M451.7 104.2h0M436.9 85.3h0M443.4 84.6h0M453.2 98.4h0M441.7 84.9h0M467.2 116.4h0M473.4 130.1h0M470.9 121.8h0M473.8 127.4h0M473.9 132h0M471.2 113.1h0M472.2 123h0M467.8 110h0M467 111.2h0M474.2 127.4h0M473.5 120.6h0M464.7 117.7h0M474.3 142.2h0M477.8 147.9h0M469.5 138.6h0M478.8 148.6h0M480.1 140h0M470.3 150.2h0M479.2 135.2h0M474.7 145.8h0M469.6 157.7h0M463.5 144.2h0M476.5 154.5h0M478.2 147.9h0M471.2 162.2h0M476 168.9h0M476.6 168.4h0M469.8 191.1h0M474.8 168.9h0M464.2 184.3h0M472.3 179.5h0M464.6 182.2h0M473.5 172.6h0M469.4 177.2h0M471.9 171.1h0M460.1 197.8h0M449.3 210.2h0M460.7 206.3h0M462.8 199h0M456.5 201.1h0M449.5 213.3h0M457.3 209.8h0M452.4 208.2h0M455.8 202h0M437 218.1h0M428.5 221.9h0M436.6 217.6h0M434 218.7h0M428.1 222.4h0M427.4 222.5h0M428.3 226.5h0M429.2 220.6h0M427.6 226.2h0M431.2 219.2h0M437.5 218.4h0M444 215h0M444.1 211.4h0M442.4 214.8h0M418.3 230h0M422.8 225.9h0M410.8 227.4h0M421.3 225.5h0M420.1 229.1h0M422.1 226.4h0M417.3 226.4h0M415.1 225.9h0M419.3 225.9h0M406 229.7h0M392.9 228.5h0M393.4 230.6h0M401.9 231.2h0M387.4 226.4h0M384 225.5h0M390.7 229.6h0M391.9 231.6h0M386.6 229.2h0M391.7 229.7h0M393.9 226.6h0M395.9 227.8h0M402.2 235.3h0M400.7 229.1h0M363.2 225.3h0M376.5 228.5h0M376 229.9h0M378.1 231.3h0M372.8 228.2h0M372.5 225.8h0M378.1 228.7h0M365.8 223.1h0M365.3 223.5h0M364.8 225.3h0M362.4 222.8h0M375.3 227.6h0M364.4 217.6h0M359.7 217.1h0M348.4 209.7h0M357.1 221.5h0M342.5 212h0M344.3 210.5h0M351.7 216.5h0M343 210.4h0M351.4 212.3h0M343.9 213.1h0M344.9 207.9h0M356.4 217.1h0M345.1 212.9h0M347.8 211.8h0M351.4 212.1h0M339.3 202h0M329 194.1h0M331.8 196.4h0M337.1 203.4h0M334.7 199h0M330.2 198.7h0M333.4 194.1h0M325.4 179.9h0M332.9 185.4h0M325.1 177.9h0M321.6 178.4h0M328.7 190.9h0M327.1 188.1h0M330.5 182h0M329.7 177.6h0M331.4 189.2h0M328.2 187.3h0M323.3 163.4h0M321.5 171.5h0M321.1 163.3h0M324.2 157.9h0M324.4 167.3h0M321 166h0M316.7 161.9h0M320.3 151.7h0M320.7 147.7h0M319.2 142.8h0M321.8 153.4h0M321.9 154.7h0M326.7 142.5h0M323.6 131h0M318.6 137.9h0M322.2 135.3h0M321.1 137h0M328.3 122.6h0M326.4 119.3h0M328.3 125h0M322.8 123.4h0M326.3 121.8h0M326.5 126.9h0M329.8 110.8h0M337.5 106.2h0M332.4 110.4h0M332.1 107h0M331.2 107.5h0M336.6 108.3h0M338.2 112.3h0M330.8 110.7h0M330 112h0M338.2 104.8h0M336.5 102.4h0M340.8 103.1h0M340.9 99.5h0M342.1 90.2h0M345 94.4h0M349.6 93.9h0M353.9 83.1h0M352 89.1h0M358.5 90.5h0M352.6 88h0M355.1 84.7h0M359.1 85.4h0M384.7 77.7h0M385.3 75.5h0M366.8 80.7h0M380.1 74.6h0M376.1 78.1h0M367.5 82.8h0M385.9 73.6h0M397 73.4h0" stroke="#3a3a3a" stroke-width="1.3" stroke-linecap="round" stroke-opacity="0.6" fill="none"/>
<path d="M404 70.8h0M434.7 77.1h0M401.6 76.4h0M417.5 73.8h0M417.1 74.3h0M428.1 80.3h0M427.8 75.5h0M452.9 99.9h0M450.7 95.8h0M436 82.8h0M441.8 84.7h0M461 99h0M451.6 90.7h0M436.6 81.8h0M471.7 126.8h0M475.7 124.3h0M472 124.4h0M477.9 157.6h0M477.6 149.4h0M472.9 147.2h0M477.4 141.1h0M480.7 155.6h0M466.5 153.2h0M468.9 157.1h0M467.9 186.9h0M466.4 186.4h0M476.2 169.9h0M466.6 186.9h0M466 190.8h0M453.8 209.2h0M464.3 195h0M458.5 200.9h0M463.2 203.2h0M449.5 211.8h0M443.2 217.4h0M428.1 222.7h0M429.2 222.7h0M427.7 221.4h0M409.1 228h0M424.3 225.6h0M415.4 229h0M411.4 228.1h0M407 227.7h0M417.1 225h0M420.1 226.9h0M407.2 226.5h0M391.4 227.5h0M397.5 229.3h0M397.6 229.9h0M382.3 232.3h0M383.3 229.3h0M369.8 220.2h0M374.4 228h0M378.4 229.4h0M374.6 227.4h0M364.2 226.3h0M376.6 228.2h0M357.2 219.7h0M360.6 218.1h0M347 212.7h0M346.6 213.1h0M358.1 217.7h0M342.5 211h0M347.4 215.7h0M346.7 209.5h0M346.4 212h0M343.5 206.1h0M338.4 209h0M336 201.3h0M333 189.1h0M325.9 178.5h0M321.7 164.7h0M322 165.5h0M318.9 173.9h0M319 151.8h0M321.7 145.7h0M323.9 142.6h0M322.3 150.2h0M317.6 143.6h0M319.6 129.9h0M324.6 140.8h0M331.9 112.7h0M331 106.7h0M330.1 114.6h0M334.2 108.9h0M339.7 99.1h0M339.9 98.4h0M342.6 99.1h0M340.3 99.6h0M341.4 89.8h0M353.6 84h0M355.4 87.1h0M352.2 87.3h0M357.9 82.5h0M377.7 78.5h0M377.3 72.9h0" stroke="#9a9a9a" stroke-width="1.3" stroke-linecap="round" stroke-opacity="0.6" fill="none"/>
<path d="M425.2 80.1h0M413.1 77.5h0M415.6 76.8h0M412.2 79.2h0M407.8 80.4h0M413.2 73.8h0M460.8 105.7h0M462.9 104.4h0M452.7 97.9h0M452.5 97.3h0M456.9 101.4h0M455.4 105h0M435 82.8h0M436.1 83.6h0M453.3 95.4h0M456.2 103.3h0M466.3 106.1h0M470 117.5h0M470.2 125.5h0M474.5 162.7h0M480.5 159.1h0M475 143.3h0M476.8 146.8h0M473.8 180.4h0M476.9 170.1h0M469.5 171.5h0M467.3 187.5h0M466.7 191.4h0M462.1 194.8h0M458.6 205.6h0M459.3 195.9h0M454.4 204.4h0M449 208.9h0M450.7 204.3h0M455.4 196.3h0M454.3 207.4h0M436.7 218.2h0M433.7 221.7h0M427.7 220.4h0M444.1 215.8h0M422.6 228.4h0M405.5 229.7h0M409.1 226.7h0M411.9 226.1h0M408 227.8h0M415.7 227.4h0M388.8 226h0M397.3 226.3h0M396 230.3h0M401.6 228.7h0M373.2 229.4h0M379.8 229.2h0M349.9 215.1h0M360.5 215.8h0M354.8 212.9h0M349.3 210.6h0M334.3 195.5h0M330.4 194.4h0M332.3 194.4h0M337.5 201.4h0M334.8 195.3h0M333.6 199.8h0M338 201.1h0M343.4 202.1h0M331.8 201.7h0M324.5 188.3h0M329.8 187.7h0M327.7 184.3h0M318.8 169.3h0M318.4 168.8h0M318.5 138.5h0M330.4 122.8h0M328.8 107.8h0M335.6 106.5h0M332.1 110.7h0M332 109.5h0M329 110.1h0M339.1 98.3h0M348.6 99.7h0M345.4 93.8h0M357.6 87.1h0M361.8 81h0M362.8 81.8h0M360.1 80.3h0M387.6 78.3h0M381.8 75.7h0M371 80.6h0M368 77.4h0M382.1 76.5h0" stroke="#5b6a93" stroke-width="1.3" stroke-linecap="round" stroke-opacity="0.6" fill="none"/>
<path d="M411.4 75.7h0M408.6 71.8h0M422.1 79.9h0M428.6 83.7h0M428.8 79.8h0M450.1 96.7h0M444.4 85.6h0M460.1 107.1h0M447.4 87.9h0M442.4 86.3h0M439.2 87.5h0M434.8 82.7h0M465.2 108.1h0M467.5 117.5h0M465.2 113.6h0M467.6 112.3h0M468.6 109.6h0M478 150.6h0M476.1 146.4h0M473.5 162.6h0M474.7 156.3h0M471 159.6h0M475.9 137.7h0M470.3 175.8h0M474.8 170.8h0M471.8 176.7h0M471.2 186.4h0M466.7 189.2h0M455.7 200.7h0M458.3 205.6h0M450.4 209.4h0M459.5 201.5h0M462.9 200.2h0M430 226.4h0M442.5 213h0M438.5 216.6h0M445.2 215.1h0M420.1 229.8h0M421.3 224.8h0M420.5 223.5h0M403.5 228.2h0M390.5 230.3h0M361.3 225.9h0M361.4 224.8h0M366.8 221h0M368.6 225.8h0M347.3 212.7h0M357.5 210.9h0M347.1 210.9h0M338.7 203.5h0M327.9 182.1h0M323 182.5h0M329.1 190.3h0M330 183.7h0M322.9 178.3h0M320.8 172.5h0M321.3 164.2h0M319.8 166h0M321.2 169.4h0M324.4 154.9h0M318.1 153.1h0M322.5 148.9h0M318.3 149.7h0M322.5 134.4h0M320.7 133.9h0M320.3 140.2h0M329.1 117.2h0M339.3 102.7h0M338.7 98.8h0M342.3 102.9h0M338.2 104.6h0M340.9 96.1h0M347.5 95.5h0M354.2 84.8h0M366.9 78.4h0M379.1 74.9h0M381.4 76.1h0M384.1 72.6h0M386.8 75h0M376.9 78.4h0M377.8 76.7h0M371.5 77h0M383 76.2h0" stroke="#d9a0a8" stroke-width="1.3" stroke-linecap="round" stroke-opacity="0.6" fill="none"/>
<path d="M421.2 78.7h0M443.1 89h0M460.2 104h0M445.9 90.2h0M463.4 112.3h0M469.7 121h0M464.7 110h0M469.7 138.1h0M468 185.6h0M468.4 184h0M466.9 185.7h0M450.9 210.9h0M452.1 205.4h0M465.4 195.3h0M432.4 223.2h0M424.4 225.2h0M400.8 231.3h0M378.7 233.1h0M358.5 217.5h0M354.7 215.7h0M359.6 219.9h0M357.5 219.1h0M353.5 219h0M330 194.7h0M324.7 179.1h0M328.3 183.4h0M328.6 190.3h0M321.3 170.3h0M323.3 167.3h0M326.2 148.1h0M320.2 133.2h0M323.4 138.8h0M321.3 136.9h0M325.8 122.3h0M324.7 123.1h0M331.7 106h0M333.7 98.8h0M345.1 95.1h0M348.8 89.1h0M358.2 84.7h0M369.3 77.8h0M366.9 77.9h0M383.8 74h0M380.9 75.2h0M373.1 79.2h0" stroke="#4f9a45" stroke-width="1.3" stroke-linecap="round" stroke-opacity="0.6" fill="none"/>
<path d="M402 95.9L403.4 95.1M421 102.2L422.7 102M403.8 94.3L405.3 93.6M410.5 99.2L412.1 98.7M403.5 95.8L405 95.1M418.2 98.5L419.8 98.2M416.1 98.6L417.7 98.2M397.7 93.9L399.1 93M420 99.6L421.6 99.4M417.8 98.2L419.4 97.8M418.2 100.3L419.9 100M418 97.7L419.6 97.4M412.7 98.4L414.3 97.9M400.1 93.3L401.6 92.4M418.9 102.1L420.6 101.8M422.9 100.5L424.6 100.4M418.6 98.7L420.2 98.4M432.5 105.6L434.1 105.8M426.2 104.1L427.8 104.1M438.9 115.9L440.4 116.4M442.7 115.9L444.3 116.5M428.1 105.8L429.8 105.8M428.9 105.1L430.6 105.2M440.6 115.3L442.2 115.9M435.6 111.8L437.2 112.2M440.1 116.1L441.6 116.7M433.8 111.8L435.5 112.1M428.5 107L430.2 107M442.9 118.3L444.5 119M429 106.8L430.7 106.9M434 110.6L435.6 110.9M439.2 114.2L440.8 114.6M449.4 138.7L450.6 139.9M446.7 130.1L448.1 131M448.4 130.5L449.7 131.5M449.6 136.9L450.9 138.1M448.9 129.5L450.2 130.5M447.2 131.2L448.6 132.1M448.7 124.6L450.1 125.5M447.4 129.3L448.8 130.2M442.8 122.8L444.3 123.6M447.1 126.4L448.6 127.3M448.9 134.2L450.2 135.3M445.6 122.5L447.1 123.3M444.9 124.3L446.4 125.1M452.1 140.8L453.3 142.1M454.1 158L454.8 159.5M454.1 152.6L455 154.1M453.1 143.4L454.2 144.7M451.5 150.7L452.4 152.1M454.3 153.2L455.1 154.7M452 145.7L453.1 147M454 152.5L454.9 154M454 141.4L455.1 142.6M452 155.3L452.8 156.8M452.8 152.4L453.6 153.8M455.2 149.9L456.2 151.3M445.7 178.8L445.8 180.5M447.7 173.9L448 175.6M449.6 163.2L450.1 164.8M453.5 162L454.1 163.6M454 161.8L454.6 163.3M447.1 172.4L447.4 174.1M451.8 169.5L452.2 171.1M451.5 164L452 165.6M447.3 171.8L447.6 173.4M450 169.9L450.4 171.5M449.4 177.2L449.6 178.8M450.7 163.3L451.3 164.9M443 180.7L442.9 182.4M438.3 188.3L438 190M438.5 190.3L438.2 192M442.7 180.6L442.7 182.3M443.9 184L443.8 185.7M437.1 188L436.8 189.6M435.1 190.2L434.7 191.9M443.9 181.1L443.9 182.8M441.4 189.5L441.1 191.2M439.4 187.9L439.2 189.6M421.6 199.5L420.7 200.9M423.9 202.3L423.1 203.7M419.4 201.8L418.4 203.2M421.8 199.8L421 201.3M431.4 198.5L430.8 200.1M422.3 201.7L421.5 203.1M423.4 199L422.6 200.5M424.2 199.1L423.4 200.6M418.9 200.8L417.9 202.2M419.3 202.7L418.4 204.1M419.4 203.4L418.5 204.8M409 206.4L407.8 207.6M417.9 205.7L416.9 207M403.1 209.4L401.8 210.5M408.6 208.7L407.4 209.9M412.1 207.8L410.9 209.1M408.2 207.1L406.9 208.2M412.8 203.6L411.7 204.9M409.2 204.5L408 205.7M411.3 204.9L410.1 206.1M388.5 204.7L387 205.3M387.8 206.7L386.3 207.4M387.8 207.6L386.3 208.2M398.1 205.9L396.7 206.8M398.7 206.9L397.3 207.9M393.1 207L391.7 207.8M389.2 205.6L387.6 206.2M395.6 206.9L394.1 207.7M391.3 206.9L389.8 207.6M375.1 200.2L373.5 200.4M378.3 202.5L376.7 202.8M382 205.4L380.4 205.9M382 203.2L380.4 203.7M377.7 203L376.1 203.3M381 203L379.4 203.4M384.4 205.3L382.9 205.8M367.6 199.7L365.9 199.7M362.6 194.6L361 194.3M360.9 193.6L359.3 193.3M366.3 198.3L364.7 198.2M366.8 198.8L365.1 198.8M366 197.8L364.3 197.8M363.9 197L362.2 196.8M370.2 201.3L368.6 201.4M350.4 181.2L348.9 180.5M355.6 185.9L354 185.4M353.9 187.9L352.3 187.4M357.1 187.7L355.5 187.2M351.7 186.2L350.2 185.6M352.1 186.1L350.6 185.5M360.2 190.5L358.6 190.2M356.8 186L355.3 185.5M350.7 182.9L349.1 182.2M346.3 173L345 172M347.5 175.5L346.1 174.6M347 169L345.7 167.9M350.8 176.9L349.4 176.1M345.9 173.8L344.5 172.9M348.8 176.8L347.4 175.9M343.5 162.5L342.4 161.3M345.1 163L343.9 161.7M345 167.5L343.7 166.4M344.4 163.8L343.3 162.6M342.3 162.1L341.1 160.9M346.2 166.2L344.9 165M345.3 161.4L344.1 160.1M342.6 148.4L341.8 146.9M344.6 153.7L343.7 152.3M341.2 148.6L340.4 147.1M343 148.8L342.2 147.3M343.6 139.4L343 137.8M343.8 144.1L343.1 142.6M345.4 141.5L344.8 139.9M345.3 135.9L344.8 134.3M341.6 141.6L340.9 140.1M346 132.5L345.6 130.9M349.8 127.6L349.6 125.9M348.8 130.5L348.6 128.8M346.9 129.4L346.7 127.7M345.8 127.5L345.6 125.8M351.6 119.5L351.6 117.8M348.6 125L348.5 123.3M351.8 123L351.8 121.3M348.1 123.4L348 121.7M355.5 116.5L355.7 114.8M354.4 114.9L354.6 113.3M358.6 115.2L358.9 113.5M363.2 110.6L363.7 109M361.9 109.9L362.4 108.2M366 105.6L366.7 104M368.7 106.2L369.4 104.7M365.9 108.3L366.5 106.8M369.6 103.8L370.4 102.3M369.2 101.3L370 99.8M370.6 104.7L371.4 103.2M387.1 97.2L388.3 96.1M378.4 97.2L379.4 95.9M378.3 98.9L379.3 97.5M384 99.6L385.1 98.4M378.5 98.2L379.6 96.8M386.7 95.9L387.9 94.7M386.9 96.2L388.1 95M386.6 98.8L387.8 97.6M388 97.9L389.2 96.8M375.1 102.7L376 101.3M392.4 97.7L393.7 96.7M394.4 94.1L395.7 93.1" stroke="#606060" stroke-width="0.9" fill="none"/>
<path d="M435.9 108.5L437.5 108.8M436 111.7L437.7 112.1M446.8 125.2L448.3 126M445.3 176L445.5 177.7M441.2 184.4L441 186.1M408.2 206.8L407 207.9M395.7 205.9L394.2 206.7M381.9 206.5L380.2 207M376.3 203.6L374.6 203.9M378.2 201.9L376.5 202.3M343.1 160.2L342 158.9M341.3 146.8L340.6 145.3M354.2 119.7L354.4 118M358.2 114.4L358.5 112.7" stroke="#6a9a5a" stroke-width="0.9" fill="none"/>
<path d="M422.8 99.5L424.4 99.3M427.1 102.8L428.7 102.8M454.8 144.7L455.8 146M454.1 157.5L454.9 159M438.1 189.2L437.8 190.9M365.3 196.5L363.7 196.4M371.7 198.3L370 198.4M353.5 184.2L351.9 183.6M347.8 172.4L346.4 171.5M348.5 174.6L347.1 173.7M344.8 147.4L344 145.9M343.7 154.1L342.8 152.7M344.5 135.6L344 133.9M347.8 128.4L347.6 126.7M360.4 112.9L360.8 111.3M357.9 109.9L358.3 108.3M378.3 100.6L379.3 99.3M392 98.1L393.3 97M390.8 96.4L392.1 95.3" stroke="#b07070" stroke-width="0.9" fill="none"/>
<path d="M446.6 140.9A49.9 50.5 0 0 1 446.9 142.8L443.8 143.4A46.8 47.3 0 0 0 443.5 141.6Z" fill="#e07060"/>
<path d="M398.9 202A49.9 50.5 0 0 1 395.2 201.9L395.4 198.7A46.8 47.3 0 0 0 398.8 198.8Z" fill="#c8402a"/>
<path d="M352.4 172.7A49.9 50.5 0 0 1 351.8 171.4L354.8 170.1A46.8 47.3 0 0 0 355.3 171.3Z" fill="#e07060"/>
<path d="M351.1 169.4A49.9 50.5 0 0 1 350.6 168.1L353.6 167A46.8 47.3 0 0 0 354 168.3Z" fill="#e07060"/>
<path d="M349.9 166.1A49.9 50.5 0 0 1 349.6 164.7L352.6 163.9A46.8 47.3 0 0 0 353 165.2Z" fill="#e07060"/>
<path d="M410.9 109.5Q397.8 151.5 367.5 119.8" fill="none" stroke="#777" stroke-width="0.7" stroke-opacity="0.9"/>
<path d="M367.5 119.8Q397.8 151.5 395.5 195.5" fill="none" stroke="#6a6a6a" stroke-width="0.6" stroke-opacity="0.9"/>
<path d="M366.4 120.9Q397.8 151.5 393.2 195.3" fill="none" stroke="#777" stroke-width="0.6" stroke-opacity="0.9"/>
<path d="M368.6 118.8Q397.8 151.5 390.9 195" fill="none" stroke="#777" stroke-width="0.6" stroke-opacity="0.9"/>
<path d="M366.9 120.3Q397.8 151.5 428 183.2" fill="none" stroke="#777" stroke-width="0.6" stroke-opacity="0.9"/>
<path d="M360.8 128.1Q397.8 151.5 399.3 195.5" fill="none" stroke="#888" stroke-width="0.6" stroke-opacity="0.9"/>
<path d="M359.6 172.9Q397.8 151.5 432.6 178" fill="none" stroke="#5d6870" stroke-width="0.7" stroke-opacity="0.9"/>
<path d="M358.6 170.8Q397.8 151.5 431.6 179.2" fill="none" stroke="#66717a" stroke-width="0.7" stroke-opacity="0.9"/>
<path d="M357.6 168.7Q397.8 151.5 430.9 180.1" fill="none" stroke="#5d6870" stroke-width="0.7" stroke-opacity="0.9"/>
<path d="M356.8 166.6Q397.8 151.5 430.6 180.4" fill="none" stroke="#66717a" stroke-width="0.7" stroke-opacity="0.9"/>
<path d="M356.3 165.1Q397.8 151.5 431.9 178.9" fill="none" stroke="#5d6870" stroke-width="0.7" stroke-opacity="0.9"/>
<path d="M355.7 162.9Q397.8 151.5 431.1 179.8" fill="none" stroke="#6d7880" stroke-width="0.7" stroke-opacity="0.9"/>
<path d="M355.1 160.7Q397.8 151.5 430.1 181" fill="none" stroke="#5d6870" stroke-width="0.7" stroke-opacity="0.9"/>
<path d="M357.3 168Q397.8 151.5 394 195.4" fill="none" stroke="#777" stroke-width="0.6" stroke-opacity="0.9"/>
<path d="M356.5 165.8Q397.8 151.5 391.7 195.1" fill="none" stroke="#888" stroke-width="0.6" stroke-opacity="0.9"/>
<path d="M394 195.4Q397.8 151.5 431.1 179.8" fill="none" stroke="#777" stroke-width="0.6" stroke-opacity="0.9"/>
<path d="M392.4 195.2Q397.8 151.5 432.6 178" fill="none" stroke="#888" stroke-width="0.6" stroke-opacity="0.9"/>
<path d="M354.6 157.6Q397.8 151.5 354.5 156.9" fill="none" stroke="#9aa0a6" stroke-width="0.8" stroke-opacity="0.8"/>
<path d="M354.3 154.6Q397.8 151.5 354.2 153.7" fill="none" stroke="#9aa0a6" stroke-width="0.8" stroke-opacity="0.8"/>
<path d="M354.2 153Q397.8 151.5 354.2 152.4" fill="none" stroke="#a0a6ac" stroke-width="0.8" stroke-opacity="0.8"/>
<path d="M397.1 195.6Q397.8 151.5 396.9 195.6" fill="none" stroke="#a83228" stroke-width="0.8" stroke-opacity="0.9"/>
<path d="M440.5 142.9Q397.8 151.5 440.6 143.3" fill="none" stroke="#e4b0b0" stroke-width="0.6" stroke-opacity="0.9"/></g>
<g><path d="M125.5 371.6A54.5 54.6 0 1 1 125.5 480.8A54.5 54.6 0 1 1 125.5 371.6Z M125.5 380A46 46.2 0 1 0 125.5 472.4A46 46.2 0 1 0 125.5 380Z" fill="#fbfbfb" fill-rule="evenodd"/>
<line x1="125.5" y1="371.6" x2="125.5" y2="338.6" stroke="#ededed" stroke-width="0.6"/>
<line x1="151.1" y1="378" x2="166.6" y2="348.9" stroke="#ededed" stroke-width="0.6"/>
<line x1="170.4" y1="395.2" x2="197.4" y2="376.5" stroke="#ededed" stroke-width="0.6"/>
<line x1="178.8" y1="415.1" x2="211" y2="408.4" stroke="#ededed" stroke-width="0.6"/>
<line x1="179.1" y1="436" x2="211.4" y2="442" stroke="#ededed" stroke-width="0.6"/>
<line x1="172" y1="454.6" x2="200.1" y2="471.8" stroke="#ededed" stroke-width="0.6"/>
<line x1="159.8" y1="468.7" x2="180.4" y2="494.3" stroke="#ededed" stroke-width="0.6"/>
<line x1="144.7" y1="477.3" x2="156.2" y2="508.2" stroke="#ededed" stroke-width="0.6"/>
<line x1="129" y1="480.7" x2="131.1" y2="513.6" stroke="#ededed" stroke-width="0.6"/>
<line x1="113.6" y1="479.5" x2="106.4" y2="511.7" stroke="#ededed" stroke-width="0.6"/>
<line x1="99.6" y1="474.3" x2="84" y2="503.3" stroke="#ededed" stroke-width="0.6"/>
<line x1="87.7" y1="465.5" x2="64.8" y2="489.2" stroke="#ededed" stroke-width="0.6"/>
<line x1="78.6" y1="453.9" x2="50.3" y2="470.7" stroke="#ededed" stroke-width="0.6"/>
<line x1="73.4" y1="442.2" x2="42" y2="451.8" stroke="#ededed" stroke-width="0.6"/>
<line x1="71.2" y1="430.4" x2="38.4" y2="432.9" stroke="#ededed" stroke-width="0.6"/>
<line x1="71.5" y1="419" x2="38.9" y2="414.6" stroke="#ededed" stroke-width="0.6"/>
<line x1="73.8" y1="409.1" x2="42.5" y2="398.8" stroke="#ededed" stroke-width="0.6"/>
<line x1="77.3" y1="400.7" x2="48.3" y2="385.3" stroke="#ededed" stroke-width="0.6"/>
<line x1="82.1" y1="393.2" x2="55.9" y2="373.3" stroke="#ededed" stroke-width="0.6"/>
<line x1="86.6" y1="387.9" x2="63.2" y2="364.8" stroke="#ededed" stroke-width="0.6"/>
<line x1="92.1" y1="383" x2="72" y2="357" stroke="#ededed" stroke-width="0.6"/>
<line x1="96.9" y1="379.7" x2="79.7" y2="351.6" stroke="#ededed" stroke-width="0.6"/>
<line x1="102.4" y1="376.7" x2="88.4" y2="346.9" stroke="#ededed" stroke-width="0.6"/>
<line x1="118.5" y1="372" x2="114.3" y2="339.3" stroke="#ededed" stroke-width="0.6"/>
<ellipse cx="125.5" cy="426.2" rx="87.3" ry="87.6" fill="none" stroke="#f2dede" stroke-width="0.6"/>
<path d="M126.3 332A93.9 94.2 0 0 1 168.9 342.7L167.2 346A90.1 90.4 0 0 0 126.3 335.8Z" fill="#f0f0f2"/>
<path d="M151.3 335.6A93.9 94.2 0 0 1 152.7 336.1L151.6 339.7A90.1 90.4 0 0 0 150.2 339.2Z" fill="#dadce0"/>
<path d="M147.4 334.6A93.9 94.2 0 0 1 149.2 335.1L148.3 338.7A90.1 90.4 0 0 0 146.5 338.3Z" fill="#dfe3e4"/>
<path d="M165.3 340.9A93.9 94.2 0 0 1 166 341.2L164.4 344.6A90.1 90.4 0 0 0 163.7 344.3Z" fill="#dfe3e4"/>
<path d="M166.7 341.6A93.9 94.2 0 0 1 167.6 342L165.9 345.4A90.1 90.4 0 0 0 165.1 344.9Z" fill="#dfe3e4"/>
<path d="M147.4 334.6A93.9 94.2 0 0 1 148.4 334.8L147.5 338.5A90.1 90.4 0 0 0 146.6 338.3Z" fill="#dfe0e3"/>
<path d="M139.6 333.1A93.9 94.2 0 0 1 140.6 333.2L140 336.9A90.1 90.4 0 0 0 139.1 336.8Z" fill="#e6e0e1"/>
<path d="M164.9 340.7A93.9 94.2 0 0 1 166.5 341.4L164.8 344.8A90.1 90.4 0 0 0 163.3 344.1Z" fill="#e6e0e1"/>
<path d="M161.5 339.2A93.9 94.2 0 0 1 162.4 339.6L160.9 343A90.1 90.4 0 0 0 160.1 342.7Z" fill="#dadce0"/>
<path d="M150.6 335.4A93.9 94.2 0 0 1 152.2 335.9L151.1 339.5A90.1 90.4 0 0 0 149.6 339.1Z" fill="#dfe0e3"/>
<path d="M163.5 340.1A93.9 94.2 0 0 1 164.5 340.5L162.9 343.9A90.1 90.4 0 0 0 162 343.5Z" fill="#dadce0"/>
<path d="M170.4 343.5A93.9 94.2 0 0 1 202.4 372.1L199.3 374.3A90.1 90.4 0 0 0 168.6 346.8Z" fill="#f0f0f2"/>
<path d="M172.9 344.9A93.9 94.2 0 0 1 173.8 345.4L171.9 348.7A90.1 90.4 0 0 0 171 348.1Z" fill="#dadce0"/>
<path d="M196.2 364.2A93.9 94.2 0 0 1 197.1 365.2L194.2 367.7A90.1 90.4 0 0 0 193.4 366.7Z" fill="#dadce0"/>
<path d="M170.6 343.6A93.9 94.2 0 0 1 171.8 344.3L170 347.5A90.1 90.4 0 0 0 168.8 346.9Z" fill="#dadce0"/>
<path d="M189.8 357.5A93.9 94.2 0 0 1 190.6 358.3L188 361A90.1 90.4 0 0 0 187.2 360.3Z" fill="#dfe0e3"/>
<path d="M199.3 367.9A93.9 94.2 0 0 1 199.9 368.8L196.9 371.1A90.1 90.4 0 0 0 196.3 370.2Z" fill="#dfe3e4"/>
<path d="M198.5 367A93.9 94.2 0 0 1 198.9 367.4L196 369.8A90.1 90.4 0 0 0 195.6 369.3Z" fill="#dfe0e3"/>
<path d="M174.9 346.1A93.9 94.2 0 0 1 175.7 346.6L173.7 349.8A90.1 90.4 0 0 0 172.9 349.3Z" fill="#dfe0e3"/>
<path d="M185.1 353.4A93.9 94.2 0 0 1 185.9 354.1L183.5 357A90.1 90.4 0 0 0 182.7 356.3Z" fill="#e4e5e8"/>
<path d="M203.3 373.5A93.9 94.2 0 0 1 217.3 406.2L213.6 407A90.1 90.4 0 0 0 200.2 375.6Z" fill="#f0f0f2"/>
<path d="M214.1 395.1A93.9 94.2 0 0 1 214.5 396.1L210.9 397.3A90.1 90.4 0 0 0 210.6 396.3Z" fill="#dfe3e4"/>
<path d="M211.5 388.3A93.9 94.2 0 0 1 211.9 389.3L208.4 390.8A90.1 90.4 0 0 0 208 389.8Z" fill="#dfe3e4"/>
<path d="M211.2 387.7A93.9 94.2 0 0 1 211.9 389.4L208.5 390.9A90.1 90.4 0 0 0 207.8 389.2Z" fill="#e6e0e1"/>
<path d="M204.7 375.6A93.9 94.2 0 0 1 205.4 376.6L202.2 378.6A90.1 90.4 0 0 0 201.5 377.6Z" fill="#e6e0e1"/>
<path d="M215 397.8A93.9 94.2 0 0 1 215.4 398.9L211.8 399.9A90.1 90.4 0 0 0 211.5 398.9Z" fill="#e4e5e8"/>
<path d="M203.6 373.9A93.9 94.2 0 0 1 204.4 375.1L201.2 377.1A90.1 90.4 0 0 0 200.5 376Z" fill="#e6e0e1"/>
<path d="M214.7 396.6A93.9 94.2 0 0 1 215.2 398.5L211.6 399.6A90.1 90.4 0 0 0 211.1 397.8Z" fill="#e4e5e8"/>
<path d="M216.5 403A93.9 94.2 0 0 1 216.9 404.7L213.3 405.5A90.1 90.4 0 0 0 212.9 404Z" fill="#e6e0e1"/>
<path d="M217.6 407.8A93.9 94.2 0 0 1 218 442.3L214.3 441.7A90.1 90.4 0 0 0 213.9 408.6Z" fill="#f0f0f2"/>
<path d="M217.8 409A93.9 94.2 0 0 1 217.9 409.6L214.2 410.3A90.1 90.4 0 0 0 214.1 409.7Z" fill="#dfe3e4"/>
<path d="M218.4 439.9A93.9 94.2 0 0 1 218.3 440.9L214.5 440.3A90.1 90.4 0 0 0 214.7 439.4Z" fill="#dadce0"/>
<path d="M219.3 422.3A93.9 94.2 0 0 1 219.4 423.7L215.6 423.8A90.1 90.4 0 0 0 215.6 422.5Z" fill="#dadce0"/>
<path d="M219.4 424.1A93.9 94.2 0 0 1 219.4 425.6L215.6 425.6A90.1 90.4 0 0 0 215.6 424.2Z" fill="#e6e0e1"/>
<path d="M219.3 421.2A93.9 94.2 0 0 1 219.3 422.9L215.6 423A90.1 90.4 0 0 0 215.5 421.4Z" fill="#dadce0"/>
<path d="M218.9 435.5A93.9 94.2 0 0 1 218.8 436.6L215.1 436.1A90.1 90.4 0 0 0 215.2 435.2Z" fill="#dfe0e3"/>
<path d="M219.1 418.8A93.9 94.2 0 0 1 219.2 420.9L215.5 421.1A90.1 90.4 0 0 0 215.4 419.1Z" fill="#dfe3e4"/>
<path d="M217.7 444A93.9 94.2 0 0 1 206.1 474.5L202.9 472.5A90.1 90.4 0 0 0 214 443.2Z" fill="#f0f0f2"/>
<path d="M216.5 449.5A93.9 94.2 0 0 1 216.1 451.1L212.4 450.1A90.1 90.4 0 0 0 212.8 448.5Z" fill="#dadce0"/>
<path d="M208.8 469.6A93.9 94.2 0 0 1 208.3 470.7L205 468.9A90.1 90.4 0 0 0 205.5 467.9Z" fill="#dadce0"/>
<path d="M207.4 472.3A93.9 94.2 0 0 1 206.4 474L203.2 472.1A90.1 90.4 0 0 0 204.1 470.5Z" fill="#dfe3e4"/>
<path d="M211.3 464.5A93.9 94.2 0 0 1 211.1 465L207.7 463.4A90.1 90.4 0 0 0 207.9 462.9Z" fill="#dfe0e3"/>
<path d="M216 451.2A93.9 94.2 0 0 1 215.9 451.9L212.2 450.8A90.1 90.4 0 0 0 212.4 450.2Z" fill="#dadce0"/>
<path d="M208.6 470.1A93.9 94.2 0 0 1 208.3 470.7L205 468.9A90.1 90.4 0 0 0 205.2 468.4Z" fill="#dfe0e3"/>
<path d="M216.3 450.3A93.9 94.2 0 0 1 216.1 451.1L212.4 450.1A90.1 90.4 0 0 0 212.6 449.3Z" fill="#dfe3e4"/>
<path d="M205.3 475.9A93.9 94.2 0 0 1 185.2 498.9L182.8 496A90.1 90.4 0 0 0 202.1 473.9Z" fill="#f0f0f2"/>
<path d="M204.1 477.7A93.9 94.2 0 0 1 203 479.4L199.9 477.3A90.1 90.4 0 0 0 201 475.7Z" fill="#dfe0e3"/>
<path d="M194.7 489.9A93.9 94.2 0 0 1 193.2 491.5L190.5 488.8A90.1 90.4 0 0 0 191.9 487.4Z" fill="#dadce0"/>
<path d="M205.2 476.1A93.9 94.2 0 0 1 204.1 477.8L200.9 475.7A90.1 90.4 0 0 0 202 474.1Z" fill="#e6e0e1"/>
<path d="M204.9 476.5A93.9 94.2 0 0 1 204.6 477L201.4 475A90.1 90.4 0 0 0 201.7 474.5Z" fill="#e4e5e8"/>
<path d="M197 487.2A93.9 94.2 0 0 1 195.9 488.6L193.1 486.1A90.1 90.4 0 0 0 194.2 484.8Z" fill="#dfe3e4"/>
<path d="M190.2 494.4A93.9 94.2 0 0 1 188.9 495.7L186.4 492.9A90.1 90.4 0 0 0 187.6 491.7Z" fill="#e4e5e8"/>
<path d="M192.5 492.2A93.9 94.2 0 0 1 191.8 492.9L189.1 490.2A90.1 90.4 0 0 0 189.8 489.5Z" fill="#dfe0e3"/>
<path d="M183.9 499.9A93.9 94.2 0 0 1 159.3 514.1L158 510.6A90.1 90.4 0 0 0 181.6 497Z" fill="#f0f0f2"/>
<path d="M164.6 511.9A93.9 94.2 0 0 1 163 512.6L161.5 509.1A90.1 90.4 0 0 0 163 508.4Z" fill="#dadce0"/>
<path d="M163.6 512.3A93.9 94.2 0 0 1 163.2 512.5L161.7 509A90.1 90.4 0 0 0 162.1 508.8Z" fill="#dfe0e3"/>
<path d="M172.2 507.9A93.9 94.2 0 0 1 171.4 508.4L169.5 505.1A90.1 90.4 0 0 0 170.3 504.6Z" fill="#dadce0"/>
<path d="M176.4 505.4A93.9 94.2 0 0 1 175.8 505.8L173.8 502.6A90.1 90.4 0 0 0 174.3 502.2Z" fill="#dadce0"/>
<path d="M181.7 501.6A93.9 94.2 0 0 1 180.8 502.3L178.6 499.3A90.1 90.4 0 0 0 179.5 498.6Z" fill="#e6e0e1"/>
<path d="M157.8 514.7A93.9 94.2 0 0 1 132.3 520.2L132 516.4A90.1 90.4 0 0 0 156.5 511.1Z" fill="#f0f0f2"/>
<path d="M151 516.9A93.9 94.2 0 0 1 149.2 517.4L148.2 513.7A90.1 90.4 0 0 0 150 513.2Z" fill="#dfe3e4"/>
<path d="M152.7 516.4A93.9 94.2 0 0 1 152.1 516.6L151 512.9A90.1 90.4 0 0 0 151.6 512.7Z" fill="#dfe0e3"/>
<path d="M153.5 516.1A93.9 94.2 0 0 1 152.2 516.5L151.1 512.9A90.1 90.4 0 0 0 152.4 512.5Z" fill="#e4e5e8"/>
<path d="M137.5 519.6A93.9 94.2 0 0 1 136.1 519.8L135.7 516.1A90.1 90.4 0 0 0 137 515.9Z" fill="#e6e0e1"/>
<path d="M149.7 517.2A93.9 94.2 0 0 1 148.1 517.6L147.1 514A90.1 90.4 0 0 0 148.7 513.6Z" fill="#dfe0e3"/>
<path d="M157.2 514.9A93.9 94.2 0 0 1 156.6 515.1L155.4 511.5A90.1 90.4 0 0 0 155.9 511.3Z" fill="#dadce0"/>
<path d="M130.7 520.3A93.9 94.2 0 0 1 105.7 518.3L106.5 514.6A90.1 90.4 0 0 0 130.4 516.5Z" fill="#f0f0f2"/>
<path d="M126 520.4A93.9 94.2 0 0 1 124.3 520.4L124.3 516.6A90.1 90.4 0 0 0 126 516.6Z" fill="#e4e5e8"/>
<path d="M123 520.4A93.9 94.2 0 0 1 121.1 520.3L121.3 516.5A90.1 90.4 0 0 0 123.1 516.6Z" fill="#dfe0e3"/>
<path d="M118.2 520.1A93.9 94.2 0 0 1 116.8 520L117.1 516.2A90.1 90.4 0 0 0 118.5 516.4Z" fill="#dfe3e4"/>
<path d="M123.6 520.4A93.9 94.2 0 0 1 121.9 520.3L122 516.6A90.1 90.4 0 0 0 123.7 516.6Z" fill="#e4e5e8"/>
<path d="M111.6 519.4A93.9 94.2 0 0 1 110.6 519.2L111.2 515.5A90.1 90.4 0 0 0 112.1 515.6Z" fill="#e6e0e1"/>
<path d="M104.1 517.9A93.9 94.2 0 0 1 81.6 509.5L83.4 506.2A90.1 90.4 0 0 0 105 514.3Z" fill="#f0f0f2"/>
<path d="M101.4 517.2A93.9 94.2 0 0 1 99.4 516.7L100.4 513.1A90.1 90.4 0 0 0 102.3 513.6Z" fill="#e6e0e1"/>
<path d="M96.4 515.8A93.9 94.2 0 0 1 94.7 515.2L95.9 511.6A90.1 90.4 0 0 0 97.6 512.2Z" fill="#dfe0e3"/>
<path d="M84.8 511.1A93.9 94.2 0 0 1 83.4 510.4L85.1 507A90.1 90.4 0 0 0 86.4 507.7Z" fill="#e4e5e8"/>
<path d="M92.2 514.3A93.9 94.2 0 0 1 90.6 513.6L92 510.1A90.1 90.4 0 0 0 93.6 510.8Z" fill="#e6e0e1"/>
<path d="M90 513.4A93.9 94.2 0 0 1 88.4 512.7L89.9 509.3A90.1 90.4 0 0 0 91.4 509.9Z" fill="#dfe3e4"/>
<path d="M80.2 508.7A93.9 94.2 0 0 1 60.9 494.5L63.5 491.8A90.1 90.4 0 0 0 82 505.4Z" fill="#f0f0f2"/>
<path d="M70.1 502.3A93.9 94.2 0 0 1 68.7 501.2L71 498.2A90.1 90.4 0 0 0 72.3 499.2Z" fill="#e6e0e1"/>
<path d="M63.4 496.9A93.9 94.2 0 0 1 62.2 495.7L64.7 493A90.1 90.4 0 0 0 65.9 494Z" fill="#dadce0"/>
<path d="M65.7 498.8A93.9 94.2 0 0 1 64.2 497.6L66.7 494.7A90.1 90.4 0 0 0 68.1 495.9Z" fill="#e6e0e1"/>
<path d="M75.3 505.8A93.9 94.2 0 0 1 74 505L76.1 501.8A90.1 90.4 0 0 0 77.3 502.6Z" fill="#e6e0e1"/>
<path d="M64.4 497.7A93.9 94.2 0 0 1 63.5 496.9L66 494.1A90.1 90.4 0 0 0 66.9 494.9Z" fill="#e6e0e1"/>
<path d="M59.7 493.4A93.9 94.2 0 0 1 45 474.7L48.2 472.8A90.1 90.4 0 0 0 62.3 490.7Z" fill="#f0f0f2"/>
<path d="M52.6 485.6A93.9 94.2 0 0 1 52 484.9L55 482.5A90.1 90.4 0 0 0 55.6 483.2Z" fill="#dfe0e3"/>
<path d="M58 491.6A93.9 94.2 0 0 1 57.4 491.1L60.1 488.5A90.1 90.4 0 0 0 60.7 489Z" fill="#dadce0"/>
<path d="M52.1 485A93.9 94.2 0 0 1 51.6 484.3L54.6 482A90.1 90.4 0 0 0 55 482.6Z" fill="#e6e0e1"/>
<path d="M57.5 491.2A93.9 94.2 0 0 1 56.9 490.5L59.6 487.9A90.1 90.4 0 0 0 60.2 488.6Z" fill="#e4e5e8"/>
<path d="M44.2 473.3A93.9 94.2 0 0 1 35.9 454.5L39.5 453.4A90.1 90.4 0 0 0 47.4 471.4Z" fill="#f0f0f2"/>
<path d="M42.7 470.7A93.9 94.2 0 0 1 41.8 468.9L45.1 467.2A90.1 90.4 0 0 0 46 468.9Z" fill="#dfe3e4"/>
<path d="M43.3 471.7A93.9 94.2 0 0 1 42.3 470L45.7 468.2A90.1 90.4 0 0 0 46.5 469.8Z" fill="#dfe0e3"/>
<path d="M36.6 456.5A93.9 94.2 0 0 1 36.2 455.2L39.7 454A90.1 90.4 0 0 0 40.1 455.3Z" fill="#e6e0e1"/>
<path d="M44.1 473.2A93.9 94.2 0 0 1 43.8 472.7L47.1 470.8A90.1 90.4 0 0 0 47.4 471.3Z" fill="#e6e0e1"/>
<path d="M35.5 453A93.9 94.2 0 0 1 31.9 434.2L35.7 433.9A90.1 90.4 0 0 0 39.1 451.9Z" fill="#f0f0f2"/>
<path d="M33.3 443.8A93.9 94.2 0 0 1 33 442.5L36.7 441.8A90.1 90.4 0 0 0 36.9 443.1Z" fill="#dadce0"/>
<path d="M34.6 449.6A93.9 94.2 0 0 1 34.1 447.6L37.7 446.7A90.1 90.4 0 0 0 38.2 448.7Z" fill="#e6e0e1"/>
<path d="M34.1 447.7A93.9 94.2 0 0 1 33.8 446.5L37.5 445.7A90.1 90.4 0 0 0 37.7 446.9Z" fill="#e4e5e8"/>
<path d="M33.5 445.3A93.9 94.2 0 0 1 33.4 444.8L37.1 444A90.1 90.4 0 0 0 37.2 444.5Z" fill="#e4e5e8"/>
<path d="M31.8 432.5A93.9 94.2 0 0 1 32.3 414.5L36.1 415A90.1 90.4 0 0 0 35.6 432.3Z" fill="#f0f0f2"/>
<path d="M32 417A93.9 94.2 0 0 1 32.1 416.1L35.9 416.5A90.1 90.4 0 0 0 35.8 417.4Z" fill="#dfe0e3"/>
<path d="M32 418A93.9 94.2 0 0 1 32 417.2L35.8 417.6A90.1 90.4 0 0 0 35.7 418.3Z" fill="#e6e0e1"/>
<path d="M31.8 431.8A93.9 94.2 0 0 1 31.7 429.8L35.4 429.6A90.1 90.4 0 0 0 35.5 431.6Z" fill="#dadce0"/>
<path d="M32.5 412.9A93.9 94.2 0 0 1 36.1 397.5L39.6 398.7A90.1 90.4 0 0 0 36.3 413.4Z" fill="#f0f0f2"/>
<path d="M34.3 403.6A93.9 94.2 0 0 1 34.8 401.7L38.5 402.7A90.1 90.4 0 0 0 38 404.5Z" fill="#dadce0"/>
<path d="M33.5 407.4A93.9 94.2 0 0 1 33.6 406.8L37.3 407.5A90.1 90.4 0 0 0 37.2 408.2Z" fill="#dfe0e3"/>
<path d="M33.7 406.2A93.9 94.2 0 0 1 33.9 405.3L37.6 406.2A90.1 90.4 0 0 0 37.4 407Z" fill="#dadce0"/>
<path d="M34.4 403.2A93.9 94.2 0 0 1 35 401.1L38.6 402.1A90.1 90.4 0 0 0 38.1 404.1Z" fill="#dfe3e4"/>
<path d="M36.6 396A93.9 94.2 0 0 1 42.1 382.9L45.4 384.7A90.1 90.4 0 0 0 40.1 397.2Z" fill="#f0f0f2"/>
<path d="M41 385.2A93.9 94.2 0 0 1 41.4 384.4L44.7 386A90.1 90.4 0 0 0 44.3 386.8Z" fill="#dfe0e3"/>
<path d="M38 392.1A93.9 94.2 0 0 1 38.2 391.5L41.7 392.9A90.1 90.4 0 0 0 41.5 393.5Z" fill="#dfe3e4"/>
<path d="M42.8 381.5A93.9 94.2 0 0 1 50.2 369.9L53.2 372.2A90.1 90.4 0 0 0 46.1 383.3Z" fill="#f0f0f2"/>
<path d="M49.4 371A93.9 94.2 0 0 1 49.7 370.6L52.7 372.8A90.1 90.4 0 0 0 52.4 373.3Z" fill="#dadce0"/>
<path d="M43.2 380.8A93.9 94.2 0 0 1 43.8 379.7L47.1 381.6A90.1 90.4 0 0 0 46.5 382.6Z" fill="#dadce0"/>
<path d="M45 377.7A93.9 94.2 0 0 1 45.4 377.1L48.6 379.1A90.1 90.4 0 0 0 48.2 379.6Z" fill="#dfe3e4"/>
<path d="M51.2 368.6A93.9 94.2 0 0 1 57.9 360.8L60.6 363.4A90.1 90.4 0 0 0 54.1 371Z" fill="#f0f0f2"/>
<path d="M55.6 363.3A93.9 94.2 0 0 1 56.8 362L59.5 364.6A90.1 90.4 0 0 0 58.4 365.8Z" fill="#dadce0"/>
<path d="M52.7 366.7A93.9 94.2 0 0 1 53.1 366.2L56 368.6A90.1 90.4 0 0 0 55.6 369Z" fill="#dfe0e3"/>
<path d="M54.7 364.4A93.9 94.2 0 0 1 55.5 363.4L58.3 365.9A90.1 90.4 0 0 0 57.5 366.8Z" fill="#dfe0e3"/>
<path d="M59.1 359.6A93.9 94.2 0 0 1 67.3 352.3L69.7 355.2A90.1 90.4 0 0 0 61.7 362.3Z" fill="#f0f0f2"/>
<path d="M61.1 357.6A93.9 94.2 0 0 1 62.7 356.2L65.2 359A90.1 90.4 0 0 0 63.7 360.4Z" fill="#dfe0e3"/>
<path d="M61.7 357.1A93.9 94.2 0 0 1 62.8 356.1L65.3 358.9A90.1 90.4 0 0 0 64.2 359.9Z" fill="#e4e5e8"/>
<path d="M62.2 356.6A93.9 94.2 0 0 1 62.7 356.2L65.2 359A90.1 90.4 0 0 0 64.7 359.4Z" fill="#dadce0"/>
<path d="M68.6 351.3A93.9 94.2 0 0 1 75.5 346.4L77.5 349.6A90.1 90.4 0 0 0 70.9 354.3Z" fill="#f0f0f2"/>
<path d="M69.5 350.6A93.9 94.2 0 0 1 70.1 350.1L72.3 353.2A90.1 90.4 0 0 0 71.7 353.6Z" fill="#dadce0"/>
<path d="M71 349.5A93.9 94.2 0 0 1 72.4 348.5L74.5 351.6A90.1 90.4 0 0 0 73.2 352.6Z" fill="#dadce0"/>
<path d="M76.9 345.6A93.9 94.2 0 0 1 84.9 341.3L86.5 344.7A90.1 90.4 0 0 0 78.9 348.8Z" fill="#f0f0f2"/>
<path d="M79.5 344.1A93.9 94.2 0 0 1 80.7 343.4L82.5 346.7A90.1 90.4 0 0 0 81.3 347.4Z" fill="#dadce0"/>
<path d="M78.2 344.9A93.9 94.2 0 0 1 79.9 343.8L81.8 347.1A90.1 90.4 0 0 0 80 348.1Z" fill="#e6e0e1"/>
<path d="M86.4 340.6A93.9 94.2 0 0 1 112.6 332.9L113.1 336.6A90.1 90.4 0 0 0 87.9 344Z" fill="#f0f0f2"/>
<path d="M100.1 335.5A93.9 94.2 0 0 1 101.5 335.1L102.5 338.8A90.1 90.4 0 0 0 101.1 339.1Z" fill="#dadce0"/>
<path d="M91 338.6A93.9 94.2 0 0 1 91.7 338.3L93 341.8A90.1 90.4 0 0 0 92.4 342.1Z" fill="#e6e0e1"/>
<path d="M103.4 334.7A93.9 94.2 0 0 1 104.5 334.4L105.3 338.1A90.1 90.4 0 0 0 104.2 338.3Z" fill="#e4e5e8"/>
<path d="M101.6 335.1A93.9 94.2 0 0 1 102.8 334.8L103.7 338.4A90.1 90.4 0 0 0 102.6 338.7Z" fill="#e4e5e8"/>
<path d="M103.9 334.5A93.9 94.2 0 0 1 105.2 334.2L106 337.9A90.1 90.4 0 0 0 104.8 338.2Z" fill="#dfe0e3"/>
<path d="M114.2 332.7A93.9 94.2 0 0 1 124.7 332L124.7 335.8A90.1 90.4 0 0 0 114.7 336.4Z" fill="#f0f0f2"/>
<path d="M114.3 332.7A93.9 94.2 0 0 1 115.9 332.5L116.2 336.2A90.1 90.4 0 0 0 114.8 336.4Z" fill="#e4e5e8"/>
<path d="M115.9 332.5A93.9 94.2 0 0 1 117.3 332.4L117.6 336.1A90.1 90.4 0 0 0 116.3 336.2Z" fill="#dadce0"/>
<text x="149.4" y="330.2" transform="rotate(-76 149.4 330.2)" text-anchor="middle" dy="2.55" font-size="7.2" fill="#222" stroke="#222" stroke-width="0.25">1</text>
<text x="191.2" y="352.3" transform="rotate(-48.2 191.2 352.3)" text-anchor="middle" dy="2.55" font-size="7.2" fill="#222" stroke="#222" stroke-width="0.25">2</text>
<text x="216.2" y="387.3" transform="rotate(-23.2 216.2 387.3)" text-anchor="middle" dy="2.55" font-size="7.2" fill="#222" stroke="#222" stroke-width="0.25">3</text>
<text x="224.2" y="425" transform="rotate(-0.7 224.2 425)" text-anchor="middle" dy="2.55" font-size="7.2" fill="#222" stroke="#222" stroke-width="0.25">4</text>
<text x="217.7" y="461.4" transform="rotate(20.8 217.7 461.4)" text-anchor="middle" dy="2.55" font-size="7.2" fill="#222" stroke="#222" stroke-width="0.25">5</text>
<text x="199.8" y="491.4" transform="rotate(41.2 199.8 491.4)" text-anchor="middle" dy="2.55" font-size="7.2" fill="#222" stroke="#222" stroke-width="0.25">6</text>
<text x="174.5" y="512.1" transform="rotate(60.2 174.5 512.1)" text-anchor="middle" dy="2.55" font-size="7.2" fill="#222" stroke="#222" stroke-width="0.25">7</text>
<text x="146.2" y="523" transform="rotate(77.9 146.2 523)" text-anchor="middle" dy="2.55" font-size="7.2" fill="#222" stroke="#222" stroke-width="0.25">8</text>
<text x="117.7" y="524.9" transform="rotate(-85.5 117.7 524.9)" text-anchor="middle" dy="2.55" font-size="7.2" fill="#222" stroke="#222" stroke-width="0.25">9</text>
<text x="90.4" y="520.2" transform="rotate(-69.5 90.4 520.2)" text-anchor="middle" dy="2.55" font-size="7.2" fill="#222" stroke="#222" stroke-width="0.25">10</text>
<text x="66.4" y="507.2" transform="rotate(-53.8 66.4 507.2)" text-anchor="middle" dy="2.55" font-size="7.2" fill="#222" stroke="#222" stroke-width="0.25">11</text>
<text x="46.9" y="488.4" transform="rotate(-38.3 46.9 488.4)" text-anchor="middle" dy="2.55" font-size="7.2" fill="#222" stroke="#222" stroke-width="0.25">12</text>
<text x="33.9" y="466.6" transform="rotate(-23.7 33.9 466.6)" text-anchor="middle" dy="2.55" font-size="7.2" fill="#222" stroke="#222" stroke-width="0.25">13</text>
<text x="27.2" y="444.8" transform="rotate(-10.7 27.2 444.8)" text-anchor="middle" dy="2.55" font-size="7.2" fill="#222" stroke="#222" stroke-width="0.25">14</text>
<text x="25.5" y="423.3" transform="rotate(1.6 25.5 423.3)" text-anchor="middle" dy="2.55" font-size="7.2" fill="#222" stroke="#222" stroke-width="0.25">15</text>
<text x="28" y="403.8" transform="rotate(12.9 28 403.8)" text-anchor="middle" dy="2.55" font-size="7.2" fill="#222" stroke="#222" stroke-width="0.25">16</text>
<text x="33.4" y="386.9" transform="rotate(23 33.4 386.9)" text-anchor="middle" dy="2.55" font-size="7.2" fill="#222" stroke="#222" stroke-width="0.25">17</text>
<text x="41.1" y="372.3" transform="rotate(32.5 41.1 372.3)" text-anchor="middle" dy="2.55" font-size="7.2" fill="#222" stroke="#222" stroke-width="0.25">18</text>
<text x="49.8" y="360.6" transform="rotate(40.8 49.8 360.6)" text-anchor="middle" dy="2.55" font-size="7.2" fill="#222" stroke="#222" stroke-width="0.25">19</text>
<text x="59" y="351.2" transform="rotate(48.3 59 351.2)" text-anchor="middle" dy="2.55" font-size="7.2" fill="#222" stroke="#222" stroke-width="0.25">20</text>
<text x="68.5" y="343.7" transform="rotate(55.3 68.5 343.7)" text-anchor="middle" dy="2.55" font-size="7.2" fill="#222" stroke="#222" stroke-width="0.25">21</text>
<text x="77.9" y="337.9" transform="rotate(61.6 77.9 337.9)" text-anchor="middle" dy="2.55" font-size="7.2" fill="#222" stroke="#222" stroke-width="0.25">22</text>
<text x="97.8" y="330.9" transform="rotate(73.7 97.8 330.9)" text-anchor="middle" dy="2.55" font-size="7.2" fill="#222" stroke="#222" stroke-width="0.25">X</text>
<text x="119.1" y="327.1" transform="rotate(86.3 119.1 327.1)" text-anchor="middle" dy="2.55" font-size="7.2" fill="#222" stroke="#222" stroke-width="0.25">Y</text>
<path d="M161.2 352.7h0M146.7 348.9h0M159.5 352.3h0M149.8 350.1h0M134.5 343.3h0M135.9 343.3h0M140 345.4h0M139.7 345.3h0M152.7 350.5h0M149.1 349.4h0M140.4 344.5h0M146.6 349.1h0M141.3 346.4h0M157.4 354.4h0M141 344.2h0M134.3 343.3h0M135 343.3h0M151.9 346.4h0M151 347.3h0M157.2 346.1h0M127.3 344.3h0M153.4 350.1h0M163.9 351.4h0M159.5 353.5h0M128.6 347.5h0M142.3 345h0M145.1 346.8h0M140.4 346h0M139.8 347.2h0M160.2 350.8h0M136.4 344.7h0M162.9 348.6h0M152.8 348h0M156.7 346.6h0M161 352.7h0M140.9 343.8h0M148.5 348.7h0M140.4 344.4h0M135.7 344.4h0M161 350.4h0M156.9 346h0M140.6 344.5h0M137.4 348h0M150.6 356.3h0M149.8 350.1h0M161.3 348h0M150 351.3h0M143.7 345h0M161 350.3h0M155.5 348.9h0M164.4 350.3h0M143.5 348.1h0M138 346.7h0M137.1 351.8h0M139.1 344.8h0M155.1 353.6h0M158.7 352h0M136.6 341.7h0M130.2 347.5h0M139.5 348.8h0M149.5 344.8h0M150.4 348.8h0M145.5 345.1h0M126.4 344.5h0M144.7 348.9h0M160.2 353.2h0M133 342.9h0M151.6 350h0M180.7 379.7h0M173.4 357.9h0M165.8 361.4h0M163.3 358.4h0M177.7 370h0M182.6 365.7h0M185.7 378h0M190.5 372.2h0M167.2 350.9h0M183.2 371.4h0M179.9 363.4h0M181.1 367.4h0M180.7 367.5h0M174.6 365.3h0M166 356.2h0M172.5 360.3h0M177.4 368.5h0M172.1 360.4h0M174 363.6h0M168.9 362.9h0M173.8 355.4h0M194.1 374.3h0M173.8 363.3h0M172.2 357.9h0M169.4 357.7h0M163.2 358.5h0M183 371.3h0M184.7 365.8h0M182.8 371h0M181.8 375h0M169.7 360.8h0M185.8 380.5h0M188.7 374.8h0M187.5 375.4h0M182.4 361.6h0M191.1 376.8h0M171.1 368.4h0M163.9 358.4h0M185.7 374.7h0M175.5 360.3h0M169.2 353.2h0M166.3 351.2h0M171.5 357.2h0M171.1 359.8h0M182.6 367.6h0M172.8 361.5h0M175.6 356.1h0M176.7 366.5h0M173.2 364.1h0M183.4 368.5h0M172.2 353.9h0M184.3 369.3h0M179 358.7h0M167.2 360.2h0M186.7 377.5h0M169.4 359.8h0M175.2 362h0M181 360.4h0M182.1 377.1h0M181.9 372.9h0M183.3 373.9h0M182.3 370.4h0M189.4 369h0M170.6 358.3h0M182.7 370.7h0M190.4 374.6h0M168.9 353.9h0M176.2 360.7h0M192.3 376.5h0M177.3 367.9h0M175.6 362.7h0M184 372.8h0M189.6 377.2h0M185.7 371.7h0M188.6 370.3h0M177.3 361.1h0M169.6 352.3h0M174.2 362.8h0M195.4 384.9h0M197.7 392.9h0M203.1 402.5h0M197.5 391.4h0M196.5 400h0M200 399.9h0M197.9 389.5h0M202.8 400.6h0M203.2 399.4h0M200.3 406.9h0M194.4 397.7h0M198.6 404.8h0M191.5 392.4h0M198.5 398.3h0M194.5 397.6h0M200 406.2h0M203.4 407.4h0M203.8 405.8h0M204.2 408.7h0M198.1 398.6h0M200.5 401.1h0M200.4 393.3h0M195.7 384.1h0M194.3 386.8h0M194.2 387.3h0M193.8 384.4h0M195.2 384.3h0M192.6 387.1h0M198 387.5h0M204.6 402h0M200.9 408.7h0M191.7 381.9h0M200.5 398.3h0M198.7 402.9h0M199.4 399.4h0M190.9 383.1h0M202.4 398.5h0M199.9 406.7h0M193.1 387.5h0M202.7 388.3h0M200.2 405.4h0M196.2 391.7h0M196.8 393.6h0M199.1 390.6h0M199.1 390.1h0M201.2 398.1h0M200.1 406.3h0M198.2 400.2h0M191.8 382.1h0M204 403h0M194.2 389.5h0M199.1 408.7h0M198.4 395.3h0M199 397.9h0M201.4 406.1h0M195.9 385.3h0M204.5 401.9h0M202.9 393.6h0M204.3 432.9h0M203.1 411.6h0M203.3 423h0M206 411.7h0M208.1 415.2h0M204.2 425.6h0M205.3 420.4h0M205.8 431.1h0M206.7 429.9h0M201.6 417.3h0M206.7 422.2h0M204.3 429.7h0M204 423.7h0M205.2 420.3h0M206.9 419.7h0M207.5 436.5h0M200.3 436.5h0M205.5 420.9h0M208.3 434.1h0M206.4 437.7h0M206.5 412.9h0M202.8 431.9h0M207.3 412.5h0M203.8 418.1h0M201.3 436h0M206.7 439.5h0M205.4 417.4h0M204.4 438.1h0M207 434.6h0M206.5 414.5h0M204 434h0M205.4 415.9h0M205.6 417.2h0M205.7 426.3h0M205.8 412.1h0M202.3 411.1h0M209.3 411.4h0M207.7 422.1h0M208.6 427.8h0M203.4 420.5h0M210.7 429.1h0M206.8 423.8h0M204.7 438.6h0M206.1 433h0M207.7 420.8h0M206.4 418.2h0M205 418.3h0M206.1 415.6h0M204.5 418.4h0M203.6 418.1h0M207.3 428.8h0M204.8 413h0M204.3 423.7h0M207.8 418.3h0M204.5 416.9h0M205.3 439.5h0M208.5 428.5h0M206.2 429.1h0M204.8 429.4h0M206.6 422.1h0M204.2 432.2h0M208.4 417.3h0M198.7 456.3h0M204.9 451.1h0M202.8 451.9h0M202.2 444.2h0M200.4 460.1h0M199.4 467h0M198.6 464.3h0M194 464.3h0M199.9 461.3h0M198.3 468.7h0M206.1 442.8h0M198.3 461h0M205 442.7h0M198.8 461.2h0M196.2 467.2h0M203.4 442.9h0M194.4 465.5h0M204.6 448.3h0M201.2 450.3h0M196.4 467.7h0M202.3 460.7h0M199.4 463.8h0M195.7 459.3h0M195.5 468h0M201 463.8h0M203.1 450.4h0M199.2 465h0M199.2 454.6h0M202 460.4h0M204.3 457.5h0M205.2 444.3h0M205.5 441.8h0M201 448.5h0M203.9 443.1h0M199.7 461.9h0M205.9 449.2h0M195.4 462.6h0M202.7 447.2h0M202.6 451.8h0M206.2 455.7h0M197.6 468h0M200.2 465.7h0M201.8 450.7h0M200.7 451.5h0M204.4 449.8h0M198.7 467.3h0M198.1 460.6h0M204.5 442.5h0M205.2 443.1h0M205.4 445.9h0M197.8 467h0M200.5 455.9h0M200.3 454.6h0M201 458.4h0M200.2 451.5h0M205.1 451.8h0M192.9 475.5h0M180.6 488.9h0M179.2 489h0M181.6 488.1h0M195.9 471h0M179.9 489.5h0M178.6 490.5h0M187.6 482.8h0M188.5 481.3h0M180.2 489.7h0M189 477.5h0M187.3 478h0M191.3 477.4h0M190 479.4h0M192.2 476h0M185.1 481.3h0M184.3 481.1h0M191.7 468.7h0M179.8 485.4h0M183.6 484.4h0M182.9 486.8h0M186.6 481.1h0M187.8 484.1h0M194.9 475.6h0M190.3 474.7h0M189.4 477.4h0M193.5 473.6h0M192.6 472.5h0M187.7 481.2h0M189 477.7h0M189.9 473.7h0M189.4 475.9h0M181.5 484.8h0M190.6 472.2h0M177.6 488.5h0M188.6 482.4h0M179.2 488.9h0M184.7 483.7h0M197.8 472.2h0M190.1 480.1h0M190.6 477.9h0M188.1 478.6h0M194.9 475.8h0M191.3 476.7h0M187.5 485h0M195.3 472.2h0M180 488.5h0M180.1 476.7h0M183.9 483.9h0M182.4 485.7h0M180.5 487.5h0M178.5 485.4h0M186.9 481.4h0M192.5 474.6h0M194 475.1h0M160.2 500h0M163.2 503.5h0M161.4 496.1h0M171.5 490.2h0M161.2 503h0M172.8 495.3h0M160.3 499.2h0M174.8 495.7h0M169.5 494.7h0M176.8 493.3h0M171 498.7h0M170.5 492.3h0M176.6 492.2h0M168.8 495.4h0M168.4 498.3h0M169.2 494.1h0M173.2 491.7h0M177.9 493.6h0M163.9 498.8h0M159.7 499.2h0M168.5 496.3h0M168.7 492.6h0M165.9 497.3h0M166.9 496.4h0M175 493.2h0M173.4 495.2h0M157.3 497.1h0M171 488.9h0M154.7 502h0M172.9 492.3h0M175.5 491.6h0M176.5 491.4h0M172.5 498.4h0M155.4 502.4h0M158 500.5h0M168.3 499.7h0M170 495.3h0M162.4 500.6h0M175.6 489.6h0M168.5 495.6h0M172.9 490.5h0M175.6 490.3h0M160.6 503h0M158.4 502.1h0M158 494.4h0M165.9 500.7h0M142.9 504.8h0M144.2 505.2h0M136.3 506.7h0M148.9 501.8h0M142.6 503.1h0M138.6 507.1h0M139.9 507.5h0M132.3 505.6h0M132.9 502.5h0M145.3 504.4h0M135.2 507.5h0M137 507.6h0M153.1 505h0M131.6 509h0M145.7 504.6h0M140.3 506.1h0M149.2 505.3h0M132.4 507.8h0M148.2 505.6h0M131.7 506.7h0M144.4 505.5h0M133.1 506.2h0M132.5 506.5h0M149.5 504.3h0M152.3 504.2h0M140.3 503.6h0M152.7 502.1h0M139.7 506.7h0M148.7 503h0M147.2 503.1h0M143.9 505.6h0M138.5 507.1h0M153.6 503.2h0M131.5 507.9h0M151.4 502.6h0M136 507h0M142.9 505.7h0M140.8 503.1h0M131.3 505.7h0M140.9 507.2h0M132.9 507.5h0M153.5 506.3h0M151.6 500.1h0M140.7 507.5h0M146 500.5h0M144 507.1h0M152.4 503.5h0M136 506.2h0M132.3 507.5h0M129.9 509.6h0M112 509.9h0M120.4 512.2h0M125.4 506.8h0M113.2 502.1h0M128.1 509.5h0M128.7 507.4h0M116.6 507.7h0M119.3 504.5h0M129.2 508.9h0M110 501.6h0M123.8 501.5h0M127.8 511.6h0M114.6 506.8h0M126.1 506.9h0M118.3 511.8h0M122.6 506.4h0M110.3 506.7h0M109.2 505.8h0M125 512h0M129.9 506.4h0M109.3 506.4h0M108.5 508.5h0M129.8 505.8h0M127.5 508.4h0M112 503.3h0M109.7 508.4h0M122.8 508.5h0M113.7 503.7h0M112.3 507.9h0M115.4 502.1h0M120.5 505.2h0M119 505.3h0M115.9 509.7h0M117.5 500.1h0M114.8 503h0M122.8 506.4h0M115.4 501.2h0M123.8 504.8h0M108.4 506.3h0M118.7 509.6h0M119 507h0M129 507.9h0M102.1 499.7h0M100.8 502.6h0M99.1 501.4h0M95.5 503.2h0M86.9 500.7h0M95.8 499.1h0M94.7 498.5h0M90.7 499.4h0M91.3 498.9h0M102.6 498.3h0M90.5 504.9h0M92.4 503.1h0M101.5 500.1h0M94.2 506.5h0M102.7 502.5h0M100 502.6h0M106.1 501.9h0M107.8 501.6h0M95.5 505.3h0M99.5 505h0M89.3 504.4h0M95.3 495h0M90.2 502.6h0M98.8 501.6h0M94.5 504.8h0M94 491.6h0M97.5 505.3h0M105 509.1h0M101.1 497.6h0M104.8 501.6h0M107 501h0M103.1 502h0M97.9 502.5h0M98.3 503.8h0M92.8 503.9h0M90.9 495.5h0M95.2 501h0M91.9 496.3h0M99.9 507.1h0M103.5 509.5h0M101.2 504.5h0M90.9 498.7h0M92.1 500.6h0M91.4 498.8h0M97.1 505.5h0M86.2 496.1h0M72 489.7h0M79 493.2h0M76.2 493.5h0M79.3 495.4h0M77.5 491.9h0M72.1 485.5h0M73.4 492.7h0M75.9 491.7h0M82 493.2h0M76.8 496.2h0M74.4 487.4h0M72.6 489.9h0M86.6 496.8h0M81 493.3h0M73.3 485.7h0M77.6 492.1h0M77.6 497.7h0M71.1 486.4h0M75.4 489.6h0M82.1 498.8h0M81.4 493.2h0M81.1 500h0M76.7 488.1h0M69.8 487.5h0M74.6 488.7h0M78.2 494.2h0M84.2 490.2h0M82.2 490.3h0M79 495.2h0M68.5 487.7h0M70.4 489h0M89.4 490.9h0M73.6 490h0M76.4 495.1h0M78.1 491h0M74.8 486.2h0M78.6 492.8h0M78.9 491.9h0M86.2 496.1h0M86.3 492.7h0M81.1 492.3h0M63 482.4h0M63.3 476.1h0M66.4 479.8h0M67.2 479.1h0M69.1 482.9h0M62 484.3h0M59.4 466.1h0M58.9 473.9h0M55.5 469.8h0M68 481.4h0M67.7 483.4h0M70.1 478h0M65.9 478h0M61.9 480.3h0M68.4 484.2h0M67.1 484.3h0M61 473.4h0M69.1 478.5h0M69 482.9h0M59.1 473.9h0M67.1 479.8h0M57.8 479.3h0M56.4 470.2h0M61.8 480.3h0M67.9 476.4h0M65.4 477.4h0M65.1 478.1h0M70.4 481.2h0M61.8 475.2h0M60 469.7h0M66.9 480.9h0M61.7 474.1h0M58.8 472.2h0M61.5 465.1h0M60.4 477.2h0M64.4 476.8h0M64.9 475.8h0M56.2 469.9h0M55.5 459.9h0M49.5 450.9h0M47.5 451.8h0M54.7 459h0M54.2 460.1h0M54.2 460.9h0M50 452.2h0M52.8 464.2h0M51.8 463.2h0M57.4 465.2h0M51.4 454.5h0M52.7 458.4h0M53 460.2h0M53.1 456.4h0M48.3 458.1h0M55.3 464.3h0M54 464.3h0M51.3 457.2h0M53.9 464.3h0M52.5 456.7h0M50 455.3h0M54.7 463.8h0M54 463.5h0M54.1 465.6h0M53 465.1h0M51.9 460.9h0M51.7 457.3h0M51.4 456.2h0M49.7 450.4h0M53.1 466.7h0M55.4 466.3h0M48.8 452.7h0M52.4 450.3h0M54 467.5h0M49.5 456.5h0M55.3 457.4h0M46.5 438.1h0M41.2 434.2h0M46.4 433.5h0M45 441.9h0M47.2 449.3h0M42.9 433.8h0M50 445.7h0M47.1 440.5h0M52 445.1h0M47 439.5h0M45.7 440.2h0M43.3 447.5h0M48.8 436.3h0M46.9 442.4h0M46.3 447.7h0M47.3 444.7h0M44.5 437.6h0M46 441.3h0M47.5 438.5h0M46.8 445.1h0M43.1 449.6h0M46.1 440.7h0M45.9 445.8h0M47.9 439.4h0M47.1 446.3h0M43.5 449.1h0M48.4 439h0M44.1 438.2h0M45.8 443.4h0M46.7 448.2h0M45.7 433.2h0M47.8 446.7h0M46.3 447.6h0M44.1 441.8h0M47 435.5h0M45.1 420.8h0M44.3 419h0M44.1 428.5h0M44.4 416.9h0M42.6 416.5h0M44.5 428.6h0M43.9 421.7h0M44.1 427.3h0M52.1 420.3h0M43.7 421.4h0M43.4 416.8h0M44.5 421.8h0M45.1 416.8h0M42.9 416.3h0M42.8 429h0M43.1 420.3h0M46 420.6h0M45.4 425.3h0M46.5 422.5h0M43.6 418.4h0M45.2 418.1h0M44.1 423.6h0M45.2 430.4h0M42.6 418.5h0M47.4 420.9h0M44.5 417.6h0M46.4 428.3h0M45.8 427.8h0M45.7 416.5h0M43.5 429.9h0M45.8 417.4h0M45.3 427.7h0M49.2 403.1h0M47.6 402.4h0M42.4 404.2h0M42.4 407.9h0M48.6 401.8h0M46.8 406.1h0M48.7 410.1h0M47 412h0M44.8 400.4h0M47.9 407.6h0M46.8 412.1h0M46.6 407.2h0M45.3 410.3h0M44.1 411.7h0M45.5 412.1h0M50.6 403.5h0M44.4 408.3h0M42.2 411.5h0M44.6 414.1h0M43.3 401.2h0M43 402.1h0M50.8 402.3h0M44.4 409.3h0M42.3 410.1h0M43.2 409h0M42.1 405.4h0M42.7 403h0M51.3 400.7h0M52.5 391.8h0M51.7 398.8h0M50 394.4h0M54.5 391.5h0M49.8 395.9h0M47.8 397.3h0M51.5 394.1h0M48.1 399.3h0M53.2 393h0M47.5 393.2h0M45.8 397h0M51.7 397h0M51 394.9h0M48.8 387.4h0M49 395.7h0M44.3 398.1h0M52.1 390.9h0M53.2 394.9h0M49.7 395.6h0M52 391.5h0M46.1 393.2h0M51.1 400.2h0M50.8 394.6h0M49 393.2h0M50 391.6h0M48 395.4h0M54.6 387.1h0M52.2 386.3h0M58.9 382.1h0M56.1 384.7h0M57.7 383.3h0M54.8 382.3h0M55.3 383.8h0M58 379.3h0M57.1 382.1h0M58 379h0M58.1 380h0M59.3 381.9h0M54.1 386.3h0M57 376h0M57 382.8h0M54.3 386.1h0M59.6 379.9h0M59.2 379.5h0M56.3 381.1h0M65.2 369.4h0M65.3 368.9h0M62.4 376.7h0M64.8 371.5h0M63.1 369.9h0M66.7 372.3h0M59.6 374.6h0M66.1 370h0M63.4 373h0M65.8 369.1h0M63.3 372.1h0M64.9 369.3h0M63.8 375.8h0M61.9 374.6h0M63.6 375.5h0M67.2 370.4h0M64.2 372h0M65.9 372.5h0M64.9 372.1h0M65.9 369.1h0M72.4 361.8h0M74.6 368.3h0M71.8 365h0M71.2 364.3h0M74.1 361.8h0M72.3 359.1h0M69.1 363h0M72.7 363.3h0M68.8 368.7h0M69.4 366.8h0M71.8 366.8h0M71.6 363.3h0M71.5 367.9h0M69 363.1h0M71.7 361.6h0M67.9 365.4h0M79 358.7h0M76.2 361h0M80.3 358.7h0M80.6 361.5h0M80.1 357.7h0M81 361.5h0M77.3 360.9h0M80.1 357.2h0M82.5 360.5h0M78.5 361.7h0M79.1 361.3h0M82.4 357.7h0M80.4 356.8h0M79.6 356h0M82.2 358h0M78.5 358.1h0M83.9 356.1h0M89.8 355.3h0M88.9 353.9h0M86.9 349.9h0M83.5 356.4h0M84.8 350.4h0M83.4 354.1h0M88.8 351.1h0M90.3 355.3h0M86.4 353.2h0M86.4 357.2h0M85.3 353.7h0M83.6 355.8h0M85.8 355h0M100.5 344.5h0M98.1 348.4h0M94.6 350.4h0M99.9 350.7h0M107.2 346.6h0M112.5 346.1h0M109.5 352.7h0M92.3 351h0M107.2 346.5h0M110.5 346h0M99.2 347.7h0M96.9 351.5h0M102.9 348.2h0M108.9 349.1h0M111.8 345h0M99.7 350.3h0M93 347h0M105.3 342.5h0M98.1 347.5h0M94.9 351.7h0M112.8 343.3h0M98.5 350.1h0M107.2 342h0M108.1 346.8h0M111.5 348h0M95.7 353.1h0M97.1 349.4h0M103.6 345.4h0M98.1 348.2h0M96.9 346.8h0M92.6 350.3h0M95.9 352.5h0M96.7 349.5h0M111.4 341.2h0M108 344h0M97.8 347.2h0M99.1 348.9h0M106.9 349.3h0M96.4 347.5h0M114.3 346.5h0M93 348.3h0M94.5 357.4h0M99.9 347.6h0M92.3 351.8h0M99.5 346.3h0M112.5 347.3h0M97.2 353h0M96.2 347.7h0M101.2 348h0M116.5 346.9h0M118 345.2h0" stroke="#b5473f" stroke-width="1.3" stroke-linecap="round" stroke-opacity="0.6" fill="none"/>
<path d="M154.1 350h0M149.8 347.8h0M155 349.1h0M135.5 345.9h0M156.8 350.2h0M159.7 350.1h0M131.4 343h0M153.4 351.9h0M159.5 354h0M155.2 348.9h0M127.9 342.2h0M158.3 350.9h0M162 352.7h0M160.8 349.5h0M186.1 365.9h0M176.4 363.3h0M169 355h0M180.6 360.7h0M167.7 355.5h0M165.9 358.4h0M182.5 376.4h0M176.7 358h0M174.1 366.3h0M190.4 371.3h0M183.8 374.5h0M178.2 362.7h0M167.3 359h0M175.6 364.2h0M207.3 406.9h0M201.6 392h0M201.7 397.9h0M200.2 392.7h0M204 401.6h0M205.7 406.4h0M199.7 396.9h0M198.3 385.8h0M207.2 426h0M208.2 413.4h0M204.5 433.6h0M203.5 437.9h0M205.5 422.7h0M207.2 421.8h0M208 419.4h0M203.9 435.3h0M205.1 438h0M206.8 444.7h0M198 461.3h0M203.4 457.2h0M194.4 463.5h0M201.3 448.3h0M205 448.3h0M205.1 446.6h0M206.5 442.2h0M198.9 461.4h0M193.2 471.2h0M191.5 478.2h0M193.1 472.4h0M187 479h0M183.3 485.1h0M183.8 482.7h0M189.4 467.3h0M189.5 478.2h0M169.9 494.1h0M170.5 495.2h0M158 499.2h0M157 501.3h0M161.4 498.8h0M167.4 499.4h0M174.1 490.1h0M168.5 495.5h0M165.7 497.6h0M171.6 492h0M171.9 494.8h0M162.4 502.1h0M161.2 502.4h0M171.1 487.4h0M164.8 496.4h0M138.3 505.3h0M150.2 505.1h0M149.7 505.1h0M125.9 505h0M123 507h0M121.1 509.6h0M111.1 510.1h0M116.3 505.9h0M121.7 509.2h0M124.3 506.7h0M110.7 507.2h0M113.5 509h0M101.8 508.3h0M101.8 503.3h0M93 493.5h0M99.7 506.3h0M93 500.2h0M80.1 497.2h0M71.9 488.8h0M76.7 490.8h0M71 485.8h0M84.2 489.8h0M75 482.1h0M80.3 496.7h0M81 493.6h0M59.2 470.5h0M61.9 474.5h0M64 479.2h0M60.4 470.4h0M62 474.7h0M63.3 471.5h0M61.6 473.4h0M59.1 466.6h0M65.1 482.7h0M63.5 474.9h0M62 477.9h0M61.9 475.2h0M48.9 454.5h0M49.2 453.5h0M48.9 451.9h0M56.5 465.9h0M56.6 462h0M50.1 453.3h0M53.8 466.4h0M47.1 441h0M50.7 436h0M45.3 436.6h0M48 442.4h0M45.2 444.5h0M44.6 438.4h0M48.9 445.2h0M42.7 419.8h0M45.7 427.8h0M46 414.8h0M42.6 403.6h0M43.9 405.2h0M43.6 403.5h0M40.8 412h0M47.4 408.2h0M42.9 402.6h0M46.1 405.5h0M48.4 397.9h0M51.1 395.6h0M51.4 396.8h0M51 398.9h0M53.5 384.8h0M55.2 376.6h0M56.9 375.4h0M60 380.1h0M54.6 384.5h0M63.3 374.7h0M63.5 368.9h0M65.9 370.7h0M72.2 363.2h0M72.2 363.4h0M70.9 360.4h0M72.4 370h0M79.6 360h0M76.6 360.9h0M77.9 360.1h0M90.2 355.8h0M87.8 353.9h0M86.2 354.1h0M86.6 358h0M94.4 348.7h0M107.3 350.9h0M113.7 345.3h0M113.5 343.8h0M111.4 348.2h0M110.1 346.2h0" stroke="#3a3a3a" stroke-width="1.3" stroke-linecap="round" stroke-opacity="0.6" fill="none"/>
<path d="M152.5 350.9h0M162.5 354.1h0M138.3 343.9h0M160.7 352.6h0M184 371.8h0M206.8 402.2h0M191.6 386.3h0M199.8 396.1h0M207.6 420.1h0M200.5 463h0M203.1 441.5h0M204.1 445.4h0M196 466.4h0M179.1 490.8h0M194.9 473.1h0M167.7 496.1h0M155.8 504.7h0M140.1 505.7h0M152.1 504.1h0M92.9 502.2h0M89.2 497.4h0M107.2 503.7h0M76.5 491.4h0M71.3 488.2h0M56 472.6h0M48.6 453.4h0M55.6 462.1h0M48.6 440.7h0M43.9 430.9h0M46.4 421.3h0M55.1 390.3h0M72.9 360.7h0M85.6 355h0M102.2 348.6h0M108.3 343.9h0M107.9 342.8h0M102.2 346.4h0M110.7 341.3h0" stroke="#4f9a45" stroke-width="1.3" stroke-linecap="round" stroke-opacity="0.6" fill="none"/>
<path d="M139.9 347.3h0M130.6 344h0M142.2 347.7h0M126.4 347.3h0M126.9 341.7h0M150.2 346.1h0M148.2 347.9h0M148.6 347.7h0M156.6 352.9h0M182.2 366.8h0M169.5 359h0M178.4 360.4h0M175.1 369.6h0M180.2 370.4h0M198.9 395.6h0M200.3 395.9h0M193.4 384.5h0M199 389.8h0M202.8 401.8h0M197.2 386.6h0M197 387.7h0M199.9 396.1h0M197.6 394h0M195.7 383.7h0M197.3 385.5h0M204.9 423.6h0M201.7 435.9h0M204.2 413.2h0M204.8 435.9h0M201.7 457.5h0M204.2 453.3h0M192.3 475.5h0M190.9 477.6h0M178.6 489h0M195.4 470.3h0M162.6 503.3h0M169.8 496.8h0M167.9 496.6h0M146.6 506.9h0M138.7 507.6h0M151.8 503.8h0M144 507.7h0M109.7 508.1h0M124 510.8h0M114.2 502.7h0M116.4 505.9h0M115.3 503.4h0M128.7 503.6h0M122.9 507.3h0M89.8 503.7h0M101 502.9h0M100.7 506.6h0M91.1 491.5h0M76.3 487.9h0M78.4 496.9h0M60.6 473.4h0M59.5 469.9h0M61 483.1h0M63.9 476.6h0M55 465.9h0M54.4 456.2h0M49.5 451.4h0M45.1 438.8h0M42.9 427.3h0M44.1 425.9h0M44 420.9h0M51.3 430.7h0M44.6 406.4h0M45.1 404.7h0M47.7 406.4h0M45.5 394.7h0M46.6 395.1h0M56.4 396.9h0M52.1 383.8h0M56.9 380.4h0M59.3 384.4h0M53.5 382.1h0M59.2 377.1h0M60.4 375.4h0M69.9 361.7h0M75.4 368.1h0M68.9 368.4h0M77.1 360.6h0M86.9 350h0M86.8 355.4h0M99.7 350.7h0M107.1 347h0M93.1 348.9h0" stroke="#9a9a9a" stroke-width="1.3" stroke-linecap="round" stroke-opacity="0.6" fill="none"/>
<path d="M130.5 344.9h0M150.8 347.3h0M132.3 346.2h0M159.3 354.4h0M151.4 344.3h0M160.9 352.4h0M129.7 341.2h0M134.6 344.2h0M186.8 374h0M173 360.5h0M182.9 368.7h0M185.4 369.4h0M173.6 362.8h0M194.2 391.1h0M201.7 401.1h0M193.7 388.5h0M200.8 401h0M191.7 388.2h0M205 435.1h0M205.6 417.2h0M207.6 429.4h0M208.5 439.9h0M206.3 434.6h0M205.5 414.2h0M208.4 426.2h0M198.6 462.8h0M201.3 449.3h0M203.3 448.7h0M197 460h0M195.9 468.1h0M195.5 465.1h0M204.3 446.8h0M185.3 479.7h0M162.2 502.3h0M155.9 502h0M156.4 505.4h0M138.7 506.4h0M153.6 505.2h0M145.3 504.7h0M119.6 506.2h0M122.1 504.6h0M87.2 501.6h0M74.2 495.3h0M79.5 499h0M61.1 467.5h0M62 476.7h0M66.1 477.2h0M68.2 481.8h0M52.2 463.8h0M52.7 455.8h0M51.5 457.8h0M45.5 438.5h0M50.2 443.2h0M49.9 446.9h0M45.1 424h0M45.7 426.4h0M44.1 429.5h0M57.5 396.2h0M54.6 386.4h0M56.3 380.2h0M60.3 378.7h0M67.2 370.3h0M69.5 363h0M87.3 355.9h0M102.3 349.5h0" stroke="#5b6a93" stroke-width="1.3" stroke-linecap="round" stroke-opacity="0.6" fill="none"/>
<path d="M144.8 345.9h0M143.2 345.4h0M136.4 346.9h0M154.5 349.4h0M138.3 344.5h0M132.4 347.7h0M148.4 350.1h0M156.6 350.1h0M181.2 366h0M178.9 365h0M182.8 370.9h0M174 370h0M180 359.6h0M203.5 405.7h0M196.9 384.1h0M198.8 409.5h0M206.3 419.1h0M203.9 430.5h0M199.3 451.2h0M200.6 461.3h0M178.9 489.8h0M185.2 480.4h0M193.7 470.4h0M192.1 472h0M185.9 483.9h0M181.4 485.2h0M173.4 494.6h0M164 498.9h0M149.2 505.1h0M134.2 507.1h0M133.9 507.2h0M133.9 507.5h0M114.1 504.3h0M110.2 508.8h0M99.2 503.9h0M105.6 505.6h0M80.5 493.3h0M74.8 493h0M79.5 491.9h0M74.5 487.9h0M43.1 429.8h0M43.8 431.3h0M49.4 407.6h0M44.2 409h0M59.8 379h0M57.4 375.5h0M61.9 372.7h0M68.2 366.7h0M69.6 366.9h0M72.5 366.4h0M79.8 358.8h0M100 349.9h0M107.1 343.7h0M105.9 348.3h0M105.3 346.5h0M101.4 344.6h0" stroke="#d9a0a8" stroke-width="1.3" stroke-linecap="round" stroke-opacity="0.6" fill="none"/>
<path d="M149.7 373.4L151.4 373.1M141.6 372.5L143.3 372.1M130.2 369.9L131.7 369.1M136.1 369.8L137.7 369.1M134.3 371.8L135.8 371.1M147.9 375.7L149.5 375.5M149.6 375.4L151.3 375.2M127.3 371L128.8 370.1M132.6 370L134.1 369.2M151.5 373.9L153.2 373.7M154.1 378.7L155.8 378.7M153 375.4L154.7 375.2M165.3 382.5L166.9 382.8M165.1 385.9L166.8 386.2M166.3 383.3L168 383.6M162.9 382.3L164.5 382.5M171.5 389.7L173.1 390.3M159.3 380.8L161 380.9M153.7 376.7L155.4 376.6M170.1 390.7L171.7 391.2M161.5 384.5L163.1 384.7M178.8 411.9L180 413.1M176.9 405.7L178.3 406.6M172 396.6L173.5 397.3M174.4 398.1L175.9 398.9M175.8 403L177.2 403.9M171.3 395.8L172.9 396.4M175.2 398.4L176.7 399.2M175.2 398.9L176.7 399.7M179.7 417L180.8 418.3M181 416.2L182.2 417.4M182.5 432.5L183.3 434M183 424.3L184 425.7M183.7 415.4L184.8 416.7M181.8 424.2L182.8 425.5M184.5 418.3L185.6 419.6M184.1 421.9L185.1 423.2M174.6 453.4L174.7 455M180.5 437.6L181.2 439.1M179.6 438.2L180.2 439.8M181.5 441.7L182 443.3M176.4 455.5L176.5 457.2M177.4 450L177.6 451.7M180.7 447.6L181.1 449.2M168.2 464.1L168 465.7M170.9 463.4L170.7 465.1M162.1 468.2L161.7 469.8M161.8 467.7L161.3 469.3M170.3 458.6L170.2 460.3M167.5 466L167.2 467.7M148.8 476.5L147.9 478M146.4 477.4L145.4 478.7M146.4 477.8L145.4 479.2M159.2 473.7L158.6 475.3M158.6 472.2L158 473.8M146.2 477.9L145.2 479.3M156.1 476.8L155.4 478.3M135.8 481.3L134.5 482.4M141 479.3L139.9 480.5M137.1 481.8L135.9 483M138.9 480.4L137.7 481.7M134 481.2L132.8 482.4M141.1 480.8L140 482.1M121.1 483.8L119.6 484.6M117.6 482.3L116.1 483M116.7 483.2L115.2 483.8M123 481.8L121.6 482.7M119.6 484.7L118.1 485.5M128.8 484.4L127.5 485.4M126.9 482.5L125.5 483.5M111.5 480.7L109.9 481.3M111.8 481.9L110.2 482.4M102.4 479.3L100.7 479.6M101.5 476.8L99.8 477M100.9 479.4L99.2 479.7M91.8 474.6L90.2 474.5M89.2 468.2L87.5 467.9M90 472.5L88.3 472.4M95.9 475L94.2 475.1M85.1 464.5L83.5 464.1M82.6 467.3L81 466.9M82.5 464.9L80.9 464.4M83.3 465.6L81.6 465.2M77.4 459L75.8 458.4M79.6 457.2L78.1 456.5M78 454.4L76.5 453.7M76.3 451L74.9 450.1M73.3 444.9L71.9 443.8M73 445.7L71.6 444.7M73.7 444.7L72.4 443.7M72.2 441.2L70.9 440.1M69.3 443.6L68 442.5M71.6 437.7L70.4 436.5M70.5 434.6L69.4 433.4M67.4 422.1L66.6 420.6M68.6 428.2L67.6 426.8M70.7 421.9L69.9 420.4M70.2 423.5L69.4 422M67.4 417.9L66.7 416.3M70.2 410.3L69.7 408.7M71.9 410.2L71.4 408.6M67.9 411.6L67.4 410M74 402.4L73.7 400.7M72.1 403.1L71.8 401.4M73.3 404.2L73 402.5M77.7 398.1L77.6 396.4M78.1 397.7L78.1 396M77.7 394.4L77.7 392.7M82.4 391.7L82.6 390M81.6 391L81.7 389.3M90.3 383.9L90.8 382.3M85.4 383.4L85.8 381.7M83.9 384L84.3 382.4M92 381.5L92.5 379.9M93.5 378.7L94.2 377.2M98.9 378L99.7 376.5M114.4 372.2L115.6 371M104.5 373.9L105.4 372.5M112 371L113.1 369.8M115.3 370.8L116.5 369.6M105.3 373.6L106.3 372.2M104.7 373.7L105.7 372.4M120.8 369.7L122.1 368.7" stroke="#606060" stroke-width="0.9" fill="none"/>
<path d="M139.9 371.9L141.5 371.4M174.8 398.6L176.3 399.4M181.2 429.2L182 430.7M176.2 451L176.4 452.7M108.9 483.2L107.3 483.7M91.5 471.4L89.8 471.3M69.8 431.7L68.7 430.4M73.4 403.5L73.1 401.9M96.5 379.2L97.3 377.7M115.4 372L116.6 370.9" stroke="#6a9a5a" stroke-width="0.9" fill="none"/>
<path d="M142.8 373.8L144.4 373.4M157.2 379.2L158.9 379.2M177.6 451.5L177.8 453.2M170.5 461.5L170.4 463.1M163.3 468.1L162.9 469.7M139.5 480.3L138.4 481.5M89.3 473L87.6 472.8M69 421.6L68.2 420.1M120.5 371.3L121.8 370.3" stroke="#b07070" stroke-width="0.9" fill="none"/>
<path d="M175.7 414A51.6 51.8 0 0 1 176.2 416.1L172.9 416.8A48.4 48.5 0 0 0 172.5 414.8Z" fill="#e0502f"/>
<path d="M127.5 478A51.6 51.8 0 0 1 125.3 478L125.3 474.7A48.4 48.5 0 0 0 127.4 474.7Z" fill="#d0452f"/>
<path d="M140 383.4Q125.5 426.2 140.4 383.5" fill="none" stroke="#777" stroke-width="0.8" stroke-opacity="0.9"/>
<path d="M169.5 416.3Q125.5 426.2 169.6 416.7" fill="none" stroke="#d88080" stroke-width="0.7" stroke-opacity="0.9"/></g>
<circle cx="23" cy="228.2" r="1.1" fill="#55618f"/>
<text x="27" y="230.7" font-size="7.2" fill="#222" stroke="#222" stroke-width="0.15">C&gt;A</text>
<circle cx="23" cy="236.1" r="1.1" fill="#111"/>
<text x="27" y="238.6" font-size="7.2" fill="#222" stroke="#222" stroke-width="0.15">C&gt;G</text>
<circle cx="23" cy="244.1" r="1.1" fill="#b83a2e"/>
<text x="27" y="246.6" font-size="7.2" fill="#222" stroke="#222" stroke-width="0.15">C&gt;T</text>
<circle cx="23" cy="252" r="1.1" fill="#bbbbbb"/>
<text x="27" y="254.5" font-size="7.2" fill="#222" stroke="#222" stroke-width="0.15">T&gt;A</text>
<circle cx="23" cy="260" r="1.1" fill="#4f9a45"/>
<text x="27" y="262.5" font-size="7.2" fill="#222" stroke="#222" stroke-width="0.15">T&gt;C</text>
<circle cx="23" cy="267.9" r="1.1" fill="#c9969e"/>
<text x="27" y="270.4" font-size="7.2" fill="#222" stroke="#222" stroke-width="0.15">T&gt;G</text>
<circle cx="296" cy="226.3" r="1.1" fill="#55618f"/>
<text x="300" y="228.8" font-size="7.2" fill="#222" stroke="#222" stroke-width="0.15">C&gt;A</text>
<circle cx="296" cy="234.2" r="1.1" fill="#111"/>
<text x="300" y="236.8" font-size="7.2" fill="#222" stroke="#222" stroke-width="0.15">C&gt;G</text>
<circle cx="296" cy="242.2" r="1.1" fill="#b83a2e"/>
<text x="300" y="244.7" font-size="7.2" fill="#222" stroke="#222" stroke-width="0.15">C&gt;T</text>
<circle cx="296" cy="250.2" r="1.1" fill="#bbbbbb"/>
<text x="300" y="252.7" font-size="7.2" fill="#222" stroke="#222" stroke-width="0.15">T&gt;A</text>
<circle cx="296" cy="258.1" r="1.1" fill="#4f9a45"/>
<text x="300" y="260.6" font-size="7.2" fill="#222" stroke="#222" stroke-width="0.15">T&gt;C</text>
<circle cx="296" cy="266.1" r="1.1" fill="#c9969e"/>
<text x="300" y="268.6" font-size="7.2" fill="#222" stroke="#222" stroke-width="0.15">T&gt;G</text>
<circle cx="23" cy="503" r="1.1" fill="#55618f"/>
<text x="27" y="505.5" font-size="7.2" fill="#222" stroke="#222" stroke-width="0.15">C&gt;A</text>
<circle cx="23" cy="511" r="1.1" fill="#111"/>
<text x="27" y="513.5" font-size="7.2" fill="#222" stroke="#222" stroke-width="0.15">C&gt;G</text>
<circle cx="23" cy="519" r="1.1" fill="#b83a2e"/>
<text x="27" y="521.5" font-size="7.2" fill="#222" stroke="#222" stroke-width="0.15">C&gt;T</text>
<circle cx="23" cy="526.9" r="1.1" fill="#bbbbbb"/>
<text x="27" y="529.4" font-size="7.2" fill="#222" stroke="#222" stroke-width="0.15">T&gt;A</text>
<circle cx="23" cy="534.9" r="1.1" fill="#4f9a45"/>
<text x="27" y="537.4" font-size="7.2" fill="#222" stroke="#222" stroke-width="0.15">T&gt;C</text>
<circle cx="23" cy="542.9" r="1.1" fill="#c9969e"/>
<text x="27" y="545.4" font-size="7.2" fill="#222" stroke="#222" stroke-width="0.15">T&gt;G</text>
<path d="M139 381.6L286.2 335.6L286.2 399.6Z" fill="#fcd994" fill-opacity="0.65"/>
<text x="216.2" y="387.3" transform="rotate(-23.2 216.2 387.3)" text-anchor="middle" dy="2.55" font-size="7.2" fill="#222" stroke="#222" stroke-width="0.25">3</text>
<defs><clipPath id="ideo"><rect x="345.5" y="316" width="160" height="10.6" rx="4" ry="5"/></clipPath>
<linearGradient id="ideoShade" x1="0" y1="0" x2="0" y2="1"><stop offset="0" stop-color="#000" stop-opacity="0.55"/><stop offset="0.12" stop-color="#000" stop-opacity="0.15"/><stop offset="0.35" stop-color="#fff" stop-opacity="0.3"/><stop offset="0.6" stop-color="#fff" stop-opacity="0"/><stop offset="0.88" stop-color="#000" stop-opacity="0.2"/><stop offset="1" stop-color="#000" stop-opacity="0.6"/></linearGradient>
<linearGradient id="gBlue" x1="0" y1="0" x2="0" y2="1"><stop offset="0" stop-color="#5b6a9c"/><stop offset="0.45" stop-color="#e6e9f4"/><stop offset="1" stop-color="#5b6a9c"/></linearGradient>
<linearGradient id="gRed" x1="0" y1="0" x2="0" y2="1"><stop offset="0" stop-color="#e58a8a"/><stop offset="0.45" stop-color="#fdf0ee"/><stop offset="1" stop-color="#e58a8a"/></linearGradient>
<linearGradient id="gBlueL" x1="0" y1="0" x2="0" y2="1"><stop offset="0" stop-color="#8d9ac4"/><stop offset="0.45" stop-color="#f4f6fb"/><stop offset="1" stop-color="#8d9ac4"/></linearGradient>
<linearGradient id="gRedL" x1="0" y1="0" x2="0" y2="1"><stop offset="0" stop-color="#eaa0a0"/><stop offset="0.45" stop-color="#fff6f5"/><stop offset="1" stop-color="#eaa0a0"/></linearGradient>
</defs>
<g clip-path="url(#ideo)">
<rect x="345.5" y="316" width="1.5" height="10.6" fill="#f0f0f0"/>
<rect x="347" y="316" width="2" height="10.6" fill="#8c8c8c"/>
<rect x="348.9" y="316" width="1.2" height="10.6" fill="#f0f0f0"/>
<rect x="350.1" y="316" width="1.4" height="10.6" fill="#8c8c8c"/>
<rect x="351.4" y="316" width="2.2" height="10.6" fill="#f0f0f0"/>
<rect x="353.5" y="316" width="2.2" height="10.6" fill="#585858"/>
<rect x="355.7" y="316" width="2.7" height="10.6" fill="#f0f0f0"/>
<rect x="358.4" y="316" width="2.3" height="10.6" fill="#8c8c8c"/>
<rect x="360.6" y="316" width="2.6" height="10.6" fill="#f0f0f0"/>
<rect x="363.2" y="316" width="1.5" height="10.6" fill="#8c8c8c"/>
<rect x="364.7" y="316" width="1.6" height="10.6" fill="#f0f0f0"/>
<rect x="366.2" y="316" width="1.3" height="10.6" fill="#8c8c8c"/>
<rect x="367.5" y="316" width="3.5" height="10.6" fill="#f0f0f0"/>
<rect x="370.9" y="316" width="2.7" height="10.6" fill="#8c8c8c"/>
<rect x="373.6" y="316" width="1.7" height="10.6" fill="#f0f0f0"/>
<rect x="375.2" y="316" width="2.6" height="10.6" fill="#2a2a2a"/>
<rect x="377.7" y="316" width="3.5" height="10.6" fill="#f0f0f0"/>
<rect x="381.2" y="316" width="1.9" height="10.6" fill="#585858"/>
<rect x="383.1" y="316" width="1.5" height="10.6" fill="#f0f0f0"/>
<rect x="384.5" y="316" width="5" height="10.6" fill="#585858"/>
<rect x="389.5" y="316" width="0.6" height="10.6" fill="#f0f0f0"/>
<rect x="390" y="316" width="9.7" height="10.6" fill="#151515"/>
<rect x="399.7" y="316" width="2.3" height="10.6" fill="#f0f0f0"/>
<rect x="401.9" y="316" width="2.4" height="10.6" fill="#2a2a2a"/>
<rect x="404.2" y="316" width="1.8" height="10.6" fill="#f0f0f0"/>
<rect x="406" y="316" width="3.3" height="10.6" fill="#2a2a2a"/>
<rect x="409.2" y="316" width="1.7" height="10.6" fill="#f0f0f0"/>
<rect x="410.8" y="316" width="3.2" height="10.6" fill="#151515"/>
<rect x="414" y="316" width="2.9" height="10.6" fill="#f0f0f0"/>
<rect x="416.9" y="316" width="2.8" height="10.6" fill="#585858"/>
<rect x="419.6" y="316" width="1.5" height="10.6" fill="#f0f0f0"/>
<rect x="421.1" y="316" width="1.8" height="10.6" fill="#585858"/>
<rect x="422.9" y="316" width="0.6" height="10.6" fill="#f0f0f0"/>
<rect x="428.2" y="316" width="8.8" height="10.6" fill="#e4e4e4"/>
<rect x="437" y="316" width="2.9" height="10.6" fill="#f0f0f0"/>
<rect x="439.9" y="316" width="2.2" height="10.6" fill="#585858"/>
<rect x="442" y="316" width="3.1" height="10.6" fill="#f0f0f0"/>
<rect x="445" y="316" width="1" height="10.6" fill="#585858"/>
<rect x="446" y="316" width="1.7" height="10.6" fill="#f0f0f0"/>
<rect x="447.6" y="316" width="0.9" height="10.6" fill="#585858"/>
<rect x="448.5" y="316" width="3.3" height="10.6" fill="#f0f0f0"/>
<rect x="451.7" y="316" width="1.1" height="10.6" fill="#585858"/>
<rect x="452.8" y="316" width="2.4" height="10.6" fill="#f0f0f0"/>
<rect x="455.2" y="316" width="1.3" height="10.6" fill="#2a2a2a"/>
<rect x="456.5" y="316" width="2" height="10.6" fill="#f0f0f0"/>
<rect x="458.5" y="316" width="2.8" height="10.6" fill="#585858"/>
<rect x="461.2" y="316" width="3.6" height="10.6" fill="#f0f0f0"/>
<rect x="464.8" y="316" width="3.3" height="10.6" fill="#151515"/>
<rect x="468" y="316" width="2" height="10.6" fill="#f0f0f0"/>
<rect x="469.9" y="316" width="3.2" height="10.6" fill="#151515"/>
<rect x="473.1" y="316" width="5.5" height="10.6" fill="#f0f0f0"/>
<rect x="478.5" y="316" width="2.8" height="10.6" fill="#8c8c8c"/>
<rect x="481.3" y="316" width="2" height="10.6" fill="#f0f0f0"/>
<rect x="483.2" y="316" width="6.2" height="10.6" fill="#151515"/>
<rect x="489.4" y="316" width="0.4" height="10.6" fill="#f0f0f0"/>
<rect x="489.7" y="316" width="1.6" height="10.6" fill="#8c8c8c"/>
<rect x="491.2" y="316" width="2.4" height="10.6" fill="#f0f0f0"/>
<rect x="493.6" y="316" width="2.6" height="10.6" fill="#585858"/>
<rect x="496.2" y="316" width="1.3" height="10.6" fill="#f0f0f0"/>
<rect x="497.4" y="316" width="4.6" height="10.6" fill="#2a2a2a"/>
<rect x="501.9" y="316" width="3.6" height="10.6" fill="#f0f0f0"/>
<rect x="423.5" y="316" width="4.8" height="10.6" fill="#fff"/>
<path d="M423.5 316L425.7 321.3L423.5 326.6ZM428.2 316L425.7 321.3L428.2 326.6Z" fill="#c8102e"/>
<rect x="345.5" y="316" width="160" height="10.6" fill="url(#ideoShade)"/>
</g>
<text x="402.2" y="304.5" font-size="6.9" fill="#333">chromosome 1</text>
<text x="430.8" y="314.3" font-size="7.2" fill="#333">q21.2</text>
<path d="M307 334.6V332.4L439 326.6L505 332.4V334.6" fill="none" stroke="#444" stroke-width="0.7"/>
<text x="303.3" y="342.6" font-size="7.2" fill="#333" textLength="13.3" lengthAdjust="spacingAndGlyphs">DEL</text>
<line x1="322" y1="339.6" x2="330" y2="339.6" stroke="#d2334c" stroke-width="1.1"/>
<text x="303.3" y="349.1" font-size="7.2" fill="#333" textLength="13.3" lengthAdjust="spacingAndGlyphs">DUP</text>
<line x1="322" y1="346.1" x2="330" y2="346.1" stroke="#4f86c0" stroke-width="1.1"/>
<text x="303.3" y="355.6" font-size="7.2" fill="#333" textLength="13.3" lengthAdjust="spacingAndGlyphs">INV</text>
<line x1="322" y1="352.6" x2="330" y2="352.6" stroke="#4aa84a" stroke-width="1.1"/>
<text transform="translate(297 397) rotate(-90)" font-size="10" fill="#111" stroke="#111" stroke-width="0.4" textLength="54" lengthAdjust="spacingAndGlyphs">Structural Variants</text>
<text transform="translate(289 456.2) rotate(-90)" font-size="9.5" fill="#111" stroke="#111" stroke-width="0.35" textLength="39" lengthAdjust="spacingAndGlyphs">Copy number</text>
<line x1="304.5" y1="367" x2="505.5" y2="367" stroke="#d8d8d8" stroke-width="0.7"/>
<line x1="304.5" y1="391.8" x2="505.5" y2="391.8" stroke="#ebebeb" stroke-width="0.7"/>
<text transform="translate(380 354.5) rotate(-90)" font-size="6.3" font-style="italic" fill="#333" textLength="20" lengthAdjust="spacingAndGlyphs">* BCL9</text>
<text transform="translate(473.6 354.5) rotate(-90)" font-size="6.3" font-style="italic" fill="#333" textLength="21.5" lengthAdjust="spacingAndGlyphs">* MEF2D</text>
<path d="M376.1 367A47.4 11.6 0 0 1 470.9 367" fill="none" stroke="#d2334c" stroke-width="0.9"/>
<path d="M376.1 367A47.4 10.6 0 0 0 470.9 367" fill="none" stroke="#5585b8" stroke-width="0.9"/>
<path d="M376.4 367V401" fill="none" stroke="#9fd39a" stroke-width="0.5"/>
<path d="M376.8 380.5V401" fill="none" stroke="#4a9a4a" stroke-width="0.9"/>
<path d="M461.7 367V392.5Q461.7 402.5 466 402.5Q470.6 402.5 470.6 392.5V367" fill="none" stroke="#a8d8a0" stroke-width="0.5"/>
<path d="M461.7 392.5Q461.7 402.5 466 402.5Q470.6 402.5 470.6 392.5" fill="none" stroke="#6ab86a" stroke-width="0.8"/>
<path d="M470.6 392V401" fill="none" stroke="#4a7a4a" stroke-width="0.9"/>
<circle cx="388.5" cy="357.5" r="0.5" fill="#777"/>
<circle cx="388.5" cy="365" r="0.5" fill="#777"/>
<circle cx="393" cy="386" r="0.5" fill="#777"/>
<circle cx="384.5" cy="395" r="0.5" fill="#777"/>
<circle cx="351" cy="362" r="0.5" fill="#777"/>
<circle cx="351" cy="372" r="0.5" fill="#777"/>
<rect x="304.5" y="401.3" width="201" height="66.2" fill="#f0f0f0"/>
<rect x="304.5" y="401.3" width="201" height="13.5" fill="#f2f2f2"/>
<rect x="304.5" y="414.8" width="201" height="14" fill="#e0e0e0"/>
<rect x="304.5" y="428.8" width="201" height="14" fill="#f2f2f2"/>
<rect x="304.5" y="442.8" width="201" height="14" fill="#e0e0e0"/>
<rect x="304.5" y="456.8" width="201" height="10.7" fill="#f2f2f2"/>
<line x1="304.5" y1="401.3" x2="505.5" y2="401.3" stroke="#9a9a9a" stroke-width="0.8"/>
<path d="M304.3 407.8V463.8" stroke="#222" stroke-width="0.8"/>
<line x1="301.5" y1="463.8" x2="304.3" y2="463.8" stroke="#222" stroke-width="0.8"/>
<text x="298.5" y="463.8" font-size="7" text-anchor="end" fill="#222" dy="2.5">1</text>
<line x1="301.5" y1="449.8" x2="304.3" y2="449.8" stroke="#222" stroke-width="0.8"/>
<text x="298.5" y="449.8" font-size="7" text-anchor="end" fill="#222" dy="2.5">2</text>
<line x1="301.5" y1="435.8" x2="304.3" y2="435.8" stroke="#222" stroke-width="0.8"/>
<text x="298.5" y="435.8" font-size="7" text-anchor="end" fill="#222" dy="2.5">3</text>
<line x1="301.5" y1="421.8" x2="304.3" y2="421.8" stroke="#222" stroke-width="0.8"/>
<text x="298.5" y="421.8" font-size="7" text-anchor="end" fill="#222" dy="2.5">4</text>
<line x1="301.5" y1="407.8" x2="304.3" y2="407.8" stroke="#222" stroke-width="0.8"/>
<text x="298.5" y="407.8" font-size="7" text-anchor="end" fill="#222" dy="2.5">5</text>
<path d="M334.5 452.7h.3M331.8 438.1h.3M330.3 440.3h.3M333.5 436.8h.3M331.8 444h.3M330.4 430.6h.3M330.5 445.7h.3M330.6 446.9h.3M334.8 439.8h.3M330.4 442.5h.3M330.1 448.2h.3M334.6 443.7h.3M332.4 420.4h.3M335.3 443.2h.3M331.8 444.1h.3M335 436.4h.3M334.7 440.4h.3M333.6 439.1h.3M335.4 441.5h.3M331.3 451.2h.3M334.6 445.4h.3M330.3 442.9h.3M334.9 442.9h.3M331.6 442.2h.3M334.6 442.8h.3M335.1 443h.3M330.1 456.1h.3M333.5 441h.3M334.8 439h.3M335.1 445h.3M333.1 443.7h.3M329.7 434h.3M331.5 444.2h.3M330.3 453.9h.3M333.3 451.7h.3M333 438.4h.3M331.8 451.7h.3M334.7 430.6h.3M330.1 449h.3M331.8 448.5h.3M333.4 448.2h.3M334.6 456.6h.3M331.6 444.7h.3M334.5 443.1h.3M333.5 436.7h.3M331.5 440.9h.3M331.8 445.3h.3M331.7 447h.3M332 442.8h.3M330.4 441h.3M330.5 443h.3M331.6 446.1h.3M330 442h.3M330.3 448.3h.3M332 440.7h.3M332.2 446.5h.3M333.1 447.9h.3M331.2 449h.3M331.5 452.8h.3M331.7 446h.3M334.7 440.5h.3M330.5 445h.3M334.7 446.4h.3M331.6 442h.3M331.7 438.8h.3M331.6 442.8h.3M335.2 443.7h.3M334.9 447.8h.3M330.4 444.5h.3M331.6 449.5h.3M330.2 448.3h.3M331.7 438.4h.3M331.8 450.7h.3M329.7 441.2h.3M332.2 443.4h.3M331.7 450.9h.3M334.7 441h.3M330.1 435.4h.3M334.8 449.1h.3M333.4 445.6h.3M331.5 444.1h.3M331.8 445.9h.3M334.9 421.8h.3M335.2 444.3h.3M334.9 437.3h.3M333.4 441.1h.3M330 447.4h.3M331.9 443.6h.3M330.5 441.9h.3M335 440.3h.3M331.2 443.4h.3M330.2 446.9h.3M332 447.5h.3M330 445.4h.3M331.9 441.5h.3M333.4 437.2h.3M330.2 446.1h.3M331.8 434.2h.3M331.8 445.3h.3M330.6 434.4h.3M330.7 435.4h.3M335.1 438.9h.3M330 438.3h.3M332.1 437.2h.3M332.8 440.3h.3M331.4 447.8h.3M330.4 443.5h.3M334.4 434.5h.3M334.7 447.7h.3M330.3 441.8h.3M331.9 446.1h.3M330.3 440.8h.3M332.3 442h.3M334.7 451h.3M335.1 439.3h.3M331.8 447.1h.3M330.2 442.2h.3M334.7 441h.3M330.2 451.9h.3M329.9 454.5h.3M331.8 444.3h.3M333.2 443.4h.3M334.6 444.7h.3M330.4 447.6h.3M330.2 442.6h.3M330.2 439.2h.3M330.9 441.1h.3M331.5 440.7h.3M332 440.4h.3M331.9 431h.3M331.6 446.3h.3M333.4 446.4h.3M334.9 441.8h.3M330.3 453.2h.3M330.4 442.4h.3M331.6 445.9h.3M331.9 443.2h.3M332 441.2h.3M332.8 447.8h.3M333 446.6h.3M332.2 446.4h.3M330.3 448.6h.3M330.3 440.9h.3M330.6 441h.3M330.3 443.4h.3M335.2 446.3h.3M331.6 428.7h.3M334.8 446.4h.3M330.1 449.4h.3M333.4 441.3h.3M331.5 442.1h.3M334.2 446.8h.3M330.3 448.9h.3M335.2 442.9h.3M334.7 442.1h.3M330 446h.3M330.1 441.2h.3M335.1 449.7h.3M330.4 449.2h.3M330.5 439.7h.3M330.3 448.3h.3M334.5 450.3h.3M329.9 444.7h.3M331.7 443.2h.3M331.4 443.1h.3M335.1 454.4h.3M331.3 446.2h.3M331.6 449.6h.3M330.4 441.8h.3M333.2 448.3h.3M330.2 446.1h.3M332.3 447h.3M334.8 450.9h.3M331.9 446.4h.3M331.8 444h.3M329.9 452.8h.3M331.7 442.7h.3M331.7 448.8h.3M330.1 440.6h.3M335 438.2h.3M330.5 441.8h.3M334.8 449.2h.3M331.9 446.5h.3M331.9 444.9h.3M329.9 446.8h.3M329.9 448.2h.3M333.5 442.1h.3M334.6 435.5h.3M334.9 436.7h.3M331.9 442.3h.3M330.4 438.7h.3M333.2 453.2h.3M333.8 449.8h.3M334.9 442.8h.3M330 440.3h.3M333.5 441.7h.3M332 439.8h.3M331.1 443.8h.3M330.2 452h.3M330 443.6h.3M334.7 441.5h.3M331.9 450.4h.3M331.9 449h.3M331.8 437h.3M330.4 441h.3M331.3 436.7h.3M331.8 444.7h.3M332 443.8h.3M331.7 444.4h.3M334.6 442.2h.3M330.6 446.3h.3M329.9 438.9h.3M332.1 448.3h.3M330.6 442.9h.3M335.1 453.9h.3M334.9 454.5h.3M332.7 438h.3M330 442.4h.3M330.1 446.4h.3M332 442h.3M334.9 443.3h.3M334.7 445.7h.3M334.9 444.7h.3M331.7 436h.3M333.4 439.4h.3M331.9 442.9h.3M331.6 440.1h.3M334.9 437.9h.3M331.8 446.8h.3M332.2 443.8h.3M338.5 440.7h.3M338.2 449.3h.3M338.3 451h.3M340.3 439h.3M336.3 439.2h.3M338.7 443h.3M340.5 438.4h.3M338.6 436.9h.3M336.6 439.4h.3M338.4 434.1h.3M336.8 446.6h.3M338.5 438.1h.3M338.6 443h.3M336.7 453.2h.3M339.9 441.1h.3M338.8 436.9h.3M338.6 431.3h.3M336.6 443.1h.3M338.2 448.5h.3M336.4 447.7h.3M340.4 417.2h.3M338.7 444.1h.3M336.6 431.3h.3M336.6 440h.3M338.4 443.5h.3M338.4 445.6h.3M340.5 438.8h.3M338.7 444.5h.3M338.6 449.2h.3M336.7 437.5h.3M338.2 445.8h.3M336.7 445.2h.3M338.7 446h.3M340.1 437.4h.3M336.5 439.4h.3M336.6 445.6h.3M336.6 438.9h.3M340.6 444.4h.3M338.5 440.4h.3M338.7 438.2h.3M340.3 441h.3M336.6 441.8h.3M338.3 440.1h.3M340.2 440.1h.3M340.1 437.4h.3M338.6 446.2h.3M336.9 443.2h.3M340.1 443.6h.3M340.4 436.7h.3M338.6 439.3h.3M339.2 432.7h.3M336.9 439h.3M340.6 435.8h.3M338.5 437.5h.3M338.8 436.4h.3M338.3 445.1h.3M340.3 437.7h.3M336.4 439.3h.3M336.4 447.2h.3M336.9 442.7h.3M338.1 437.6h.3M338.4 446.3h.3M338.5 443.8h.3M336.8 448.4h.3M336.4 442.5h.3M337.2 442.7h.3M340.2 444.8h.3M336.7 440.8h.3M338.5 446.4h.3M338.5 445.4h.3M340 439.2h.3M336.7 443.4h.3M336.7 443.4h.3M338.6 445.9h.3M336.8 448.3h.3M340.1 445.8h.3M339 440.3h.3M336.9 439.9h.3M338.6 433.8h.3M338.4 445.5h.3M340.7 445.4h.3M338.2 432.4h.3M340.2 449.2h.3M340.8 448.2h.3M338.3 446.6h.3M338.3 440.4h.3M336.5 447.9h.3M338.6 444.8h.3M338.4 439.6h.3M336.8 437.8h.3M336.1 444.7h.3M338.6 442.2h.3M337 439.4h.3M338.6 445.7h.3M338.3 442h.3M338.6 444.1h.3M340.7 439.2h.3M338.4 442.4h.3M338.3 433.9h.3M338.4 443.3h.3M336.3 448.6h.3M336.4 441.8h.3M336.6 436.9h.3M338.5 437.9h.3M338.7 442.9h.3M338.6 442h.3M336.6 445.7h.3M340.2 435.8h.3M340.6 440.3h.3M338.6 445.9h.3M338.7 445.9h.3M338.3 444.2h.3M336.2 438.2h.3M338.2 444.8h.3M338.5 442.6h.3M340.5 442.3h.3M338.4 435.4h.3M338.6 438.2h.3M338.8 447.8h.3M340.5 437.1h.3M338.9 435.8h.3M340.9 444.9h.3M340.5 441.4h.3M338.3 440.5h.3M338.7 443.2h.3M338.2 439.2h.3M338.9 439.7h.3M336.3 441.4h.3M340.4 444.9h.3M338.8 433.1h.3M338.4 436.3h.3M337.1 441.9h.3M338.6 441h.3M340.3 438.5h.3M337.1 441.6h.3M340.4 444.6h.3M338.6 440.4h.3M338.7 441.2h.3M340.3 448.2h.3M338.2 437.7h.3M336.7 436.8h.3M336.7 437.4h.3M338.7 447.3h.3M338.3 439.1h.3M340.4 444.8h.3M336.5 440.2h.3M336.8 435.4h.3M338.5 444.2h.3M336.3 445h.3M338.7 445.7h.3M336.8 437.1h.3M336.7 445.3h.3M338.6 444.4h.3M338.4 444.4h.3M338.2 445h.3M338.3 442.4h.3M340.7 440.8h.3M336.7 438.9h.3M340.6 439.5h.3M338.7 441h.3M340.2 440.2h.3M338.7 436.4h.3M338.1 443.1h.3M338.8 440h.3M338.4 445.1h.3M338.2 449.8h.3M338.4 444.3h.3M338.9 438.8h.3M338.1 442.4h.3M338.7 443.1h.3M340.2 435.5h.3M336.7 447.4h.3M340.5 443.2h.3M338.3 451.5h.3M340.6 439.7h.3M340.4 445.2h.3M338.3 446.6h.3M338.8 442.3h.3M338.4 441.9h.3M338.4 441.4h.3M342.5 458.5h.3M343.3 444.6h.3M342.8 446.8h.3M343.6 452.4h.3M343.2 456.2h.3M343.4 445.5h.3M342.3 444.9h.3M343.1 432.8h.3M343.4 449.5h.3M343.3 462.1h.3M342.6 441.7h.3M343.8 431.4h.3M343.6 445.8h.3M343.2 432.4h.3M343.4 455.5h.3M342.7 423.6h.3M343.2 460h.3M343.4 448.3h.3M343.8 449.1h.3M342.5 441.5h.3M343.3 449.5h.3M343.2 452.8h.3M343.1 461.4h.3M342.2 443.2h.3M342.7 447h.3M342.2 444.3h.3M343.4 453.8h.3M342.9 448.1h.3M343.1 434.1h.3M343.4 452.8h.3M343.7 456.1h.3M343.3 445.9h.3M343.3 445.4h.3M343.1 457.1h.3M342.7 452.2h.3M343.4 460.4h.3M343.2 447.6h.3M343.3 445.5h.3M343.2 446.5h.3M343.6 435.8h.3M342.5 448.4h.3M343.3 443.6h.3M343 448.9h.3M343 444.7h.3M343 457h.3M342.5 429.2h.3M343.4 429.9h.3M343 445.3h.3M343.5 427.1h.3M343.3 454.8h.3M349.4 455h.3M345.5 447.2h.3M351.9 459.5h.3M349.5 448.9h.3M350.4 453.2h.3M350.5 459h.3M350.6 449.9h.3M347.9 444.4h.3M350.4 450h.3M346.6 459.4h.3M344.9 457.2h.3M352.3 442.9h.3M350.5 448.1h.3M350.8 456h.3M350.3 456h.3M350.5 450.9h.3M347.4 459.4h.3M350.4 447.3h.3M350.1 438.9h.3M352.4 454.4h.3M350.7 453.9h.3M350.7 452.2h.3M345.2 453.9h.3M345.5 439.1h.3M350.4 448.5h.3M352.5 440.6h.3M350.5 442.9h.3M350.6 444.4h.3M350.6 448.9h.3M345.5 451.9h.3M350 448.7h.3M347.3 455.3h.3M350.3 457.4h.3M345.7 444.5h.3M345.6 456.6h.3M350.4 450h.3M350.3 451.1h.3M352.1 451h.3M352.4 448.6h.3M347.2 450.5h.3M350.6 448.1h.3M349.8 453.8h.3M346.7 449.7h.3M352 443.8h.3M350.6 446.4h.3M346.7 449h.3M350.5 447.7h.3M345.2 451.1h.3M346.8 456.3h.3M352.5 453.6h.3M349.9 456h.3M346.8 457.3h.3M350.5 451.3h.3M349.5 442.3h.3M352.7 454.4h.3M351 451.9h.3M350 454.5h.3M346.6 457.5h.3M352.9 452.2h.3M345 443h.3M346.9 449.4h.3M345.3 455.6h.3M350.8 444.1h.3M352.2 460.9h.3M349.6 448.1h.3M349.8 459.4h.3M346.4 456.5h.3M346.6 447.6h.3M352.1 454.7h.3M350.7 447.2h.3M350.9 460.8h.3M347.3 454.5h.3M350.4 451.8h.3M352.2 455.8h.3M350.3 453.4h.3M349.4 460.1h.3M350.2 455.1h.3M346.9 453.4h.3M346.5 451.6h.3M345.4 452.3h.3M350.4 449.2h.3M352.4 443.4h.3M351.9 458.7h.3M344.9 448.8h.3M345.8 452.6h.3M350.2 449h.3M349.9 450.5h.3M350.7 453.2h.3M350.3 449.2h.3M350.6 460.7h.3M349.5 448.1h.3M350.2 454.3h.3M350.6 456.6h.3M352.6 448.5h.3M349.3 455.2h.3M352.3 441.9h.3M345.4 458.8h.3M351.9 451.5h.3M347.3 453.8h.3M350.9 453.7h.3M350.3 455.5h.3M347.6 457.3h.3M346.9 447.5h.3M352.6 452.1h.3M352.4 455.3h.3M349.8 449.1h.3M345.5 445.9h.3M352.7 453.9h.3M350.3 442.3h.3M350.5 460.6h.3M347.7 447.5h.3M345.2 447.2h.3M352.3 448.8h.3M350.2 449.5h.3M347.5 451h.3M350.7 449.7h.3M350.5 461.2h.3M352.3 449h.3M350.4 446.7h.3M346.1 446h.3M352.9 464.2h.3M345.1 450.6h.3M350.7 457.4h.3M352.4 449.1h.3M350.5 458.8h.3M347.8 455h.3M350.9 452.2h.3M349.5 457.6h.3M352.6 458.3h.3M350.6 445.7h.3M345.5 453.2h.3M352.2 451.2h.3M350.5 457h.3M345 460.1h.3M350.5 452.1h.3M349.8 450.9h.3M350.2 455.2h.3M350.3 449.4h.3M352.6 443.5h.3M347.5 456.1h.3M350.4 452.9h.3M352.3 456.6h.3M345.1 453.4h.3M347 449.3h.3M345.2 416.8h.3M345.5 455.5h.3M349.6 452h.3M345.2 443.5h.3M344.8 444.4h.3M345.3 440.7h.3M350.8 454.9h.3M349.6 446.2h.3M352.2 458.1h.3M350.7 444.1h.3M346.6 447.8h.3M347.8 453.5h.3M349.6 458.2h.3M350.5 443.5h.3M350.3 445.4h.3M349.7 451.9h.3M349.8 462.1h.3M350.7 452.7h.3M345.3 455.4h.3M345.4 454h.3M350.5 453.4h.3M350.2 454.2h.3M352.4 455.8h.3M350.1 450.6h.3M350.7 459.8h.3M347.5 459.8h.3M352 450.7h.3M351.9 450.4h.3M350.3 455.1h.3M350.6 452.6h.3M350 449h.3M346.8 459.2h.3M345 446.6h.3M349.8 446.8h.3M352 460.7h.3M349.3 452.3h.3M347.7 443.5h.3M346.8 443.4h.3M352 455.3h.3M344.7 460.7h.3M345.3 451h.3M349.9 450.4h.3M346.8 450.6h.3M347.3 449.9h.3M345.6 442.9h.3M350.3 440.7h.3M350.7 448.9h.3M350.5 446.4h.3M349.8 456.8h.3M345.2 457.6h.3M350.5 449.7h.3M350.7 450.2h.3M350.4 450.3h.3M350.8 456.1h.3M356.3 457h.3M354.7 464.2h.3M358 450.2h.3M360.2 447h.3M360.2 455.3h.3M356.5 451h.3M358.7 450.5h.3M356.3 448h.3M356.5 453.9h.3M356.7 449.3h.3M355.9 450.6h.3M362.5 456.5h.3M353.3 462.7h.3M362.5 461.5h.3M358.1 447h.3M356.6 456h.3M362.5 459.6h.3M356.2 450h.3M358.7 455h.3M354 459.7h.3M362.3 458.5h.3M356.5 457.2h.3M358.1 453.7h.3M362.3 451h.3M362.6 462.3h.3M357.9 458.1h.3M360.5 457.5h.3M356.1 447.9h.3M360.2 454.2h.3M354.6 454.8h.3M353.8 447.1h.3M358.9 463.3h.3M364 454.5h.3M358.8 453h.3M358.7 450.9h.3M358.3 452.9h.3M357.5 454.7h.3M357.7 459.8h.3M359 451.9h.3M356.4 458.1h.3M353.7 457.6h.3M354.2 460.1h.3M354.2 450.6h.3M353.2 447.1h.3M353.8 461.1h.3M358.9 463.4h.3M360.7 458.8h.3M357.1 457.1h.3M356.7 460.7h.3M354.4 456.9h.3M357.4 455.5h.3M364 445.7h.3M356.3 466.8h.3M360.4 458.6h.3M364.3 455.1h.3M357.4 451.8h.3M354.3 449.7h.3M357.1 454.4h.3M356.4 465h.3M356.3 461.6h.3M360.1 457.1h.3M360.4 454.2h.3M353.6 457.3h.3M356 454.7h.3M357.9 455.8h.3M356.3 455h.3M364.6 453.5h.3M356.4 456.8h.3M358.8 458.3h.3M358.8 449.9h.3M353.4 466.9h.3M357.5 447.8h.3M354.3 455.5h.3M356.6 457.7h.3M360.9 453.1h.3M356.2 455.1h.3M363.6 462h.3M363.1 463.4h.3M356.9 453.2h.3M357.7 457h.3M356.5 455.2h.3M358.7 465.1h.3M356 459.5h.3M354.4 450.4h.3M362.4 452h.3M363.4 457.3h.3M362.9 455.6h.3M358.9 455.5h.3M358.7 455h.3M356.5 446.8h.3M354.3 459.3h.3M364.3 456.3h.3M354.5 457.1h.3M358.5 463.3h.3M360.1 459.2h.3M353.6 449.3h.3M356.4 458.8h.3M360.4 458.1h.3M356.2 456.3h.3M356.4 462.6h.3M357.5 453.5h.3M356.8 457.7h.3M354.7 458.8h.3M357.3 461h.3M362.8 453.7h.3M356.4 460.6h.3M356.1 451.6h.3M358.8 455.5h.3M360.8 434.9h.3M358.8 453.7h.3M358.4 457h.3M358.8 454.2h.3M354.6 454.4h.3M356.3 459.8h.3M356.5 456.4h.3M360.4 456.8h.3M358.6 458h.3M364.8 456.6h.3M357.7 457.9h.3M360.5 453h.3M363 455.4h.3M357.7 453h.3M353.4 454.5h.3M356.4 453.3h.3M363.9 452.7h.3M364.5 463.9h.3M360.5 458.1h.3M356.5 456.9h.3M356.1 449.6h.3M356.7 449.3h.3M356.4 459.5h.3M354.8 457.6h.3M356.2 459.4h.3M356.3 463.8h.3M359.2 457.8h.3M356.6 460.4h.3M357.8 454.7h.3M362.5 452h.3M362.7 459.5h.3M356.4 456.3h.3M358.2 445.8h.3M358.9 453.2h.3M363 459.3h.3M354.8 455.4h.3M353.3 450.7h.3M356.3 454.8h.3M356.5 452.8h.3M360.2 454.3h.3M357.1 454.3h.3M356.4 455h.3M356.4 453.6h.3M357.5 455.1h.3M353.5 456.4h.3M356.2 452.8h.3M364.2 460.6h.3M358.9 453.1h.3M354.3 451.7h.3M353.3 451.4h.3M362.8 458.3h.3M356 458.1h.3M357.7 447.9h.3M360.4 454.9h.3M362.6 457.8h.3M356.2 458.4h.3M364.3 454.9h.3M356 457h.3M362.7 458h.3M354.2 455.8h.3M356.7 462.2h.3M354.7 449.5h.3M358.9 456.2h.3M355.8 452.3h.3M356.6 455h.3M356.5 456.8h.3M358.9 456h.3M358.9 454h.3M356.1 465.9h.3M356.9 455.6h.3M356.2 455.6h.3M358.5 454.6h.3M358.7 463.5h.3M356.9 458.1h.3M364.4 447.9h.3M360.2 452.6h.3M354.6 453.7h.3M358.2 465h.3M356.4 456.6h.3M362.9 453.1h.3M354.8 460.6h.3M360.7 449.1h.3M356.4 459.7h.3M359.2 454.2h.3M356 452.2h.3M356.4 448.2h.3M357.7 465.2h.3M358.9 461.2h.3M358.3 450.7h.3M354.5 454.8h.3M357.9 450.1h.3M359 462.7h.3M354.2 458.2h.3M356.1 455.8h.3M355.9 451.7h.3M363.3 462.9h.3M359.3 454.2h.3M356.2 456.6h.3M356.1 454.6h.3M363.9 452.7h.3M358.5 444h.3M364.5 454.5h.3M354.3 445.2h.3M356.4 439h.3M359.3 453.5h.3M357.8 445.9h.3M363.7 458.3h.3M358 457h.3M364.3 455.5h.3M360.4 452.4h.3M363.2 451.5h.3M364.5 450.4h.3M354.6 457.3h.3M363.9 454.9h.3M359.2 456h.3M353.8 459.8h.3M358.8 450.9h.3M353.1 454.1h.3M363.1 459h.3M360.3 423.4h.3M354.9 462.8h.3M357.9 454.7h.3M358.9 452.7h.3M360.3 454h.3M356.5 450.7h.3M357.5 454h.3M356.5 456.2h.3M356.1 454.2h.3M364.3 451.7h.3M353.4 459.2h.3M360.3 453.8h.3M363.6 452.7h.3M358.6 461.5h.3M358.8 458.5h.3M357.4 455.5h.3M356.4 456.9h.3M357.7 455.4h.3M360.5 451.7h.3M353.7 456h.3M353.6 451.1h.3M363.9 452.4h.3M362.9 452.7h.3M360.5 458.7h.3M364.5 451.2h.3M362.7 446.9h.3M356.4 449.7h.3M357.6 449.6h.3M358.8 449.9h.3M354.3 449.5h.3M363 454.6h.3M362.5 455.4h.3M356.3 454.7h.3M362.5 452.9h.3M364.6 457.1h.3M356.1 449h.3M360.4 452.9h.3M356.1 457.9h.3M353.7 464h.3M356.2 458.1h.3M360 459.3h.3M360.7 459.5h.3M359 454h.3M354.8 460.3h.3M362.7 458.3h.3M358.6 459.3h.3M356.7 463.9h.3M356.3 450.5h.3M359 453.6h.3M354.4 450.5h.3M356.5 458.6h.3M356.2 453.2h.3M358.1 456.9h.3M354.6 456.1h.3M364.8 450.9h.3M353.1 451.8h.3M358 457.8h.3M353.4 457.8h.3M356.6 454.6h.3M356.6 455.2h.3M356 459.8h.3M356.2 449.8h.3M356.6 450.7h.3M360.2 456h.3M364.4 460.7h.3M364.3 463.7h.3M362.6 445.6h.3M360.7 457h.3M354.5 457.2h.3M360.6 460.2h.3M357.3 454.8h.3M356.2 462.6h.3M356.1 460.1h.3M356.5 451.4h.3M360.2 456.6h.3M360.7 454h.3M363.1 458.3h.3M356.3 461.9h.3M356.3 451.3h.3M358.7 460.7h.3M355.9 460.1h.3M356.2 451.9h.3M358.7 453.4h.3M358 457.8h.3M353.5 455.9h.3M357.7 454.8h.3M357.9 451.9h.3M356.5 459h.3M360.5 455.2h.3M355.9 451.2h.3M356.4 461.7h.3M356.5 459.8h.3M362.2 456.9h.3M357.8 455.2h.3M356.2 452.1h.3M359.3 456.8h.3M356.4 455h.3M356.4 447.7h.3M352.9 454.1h.3M356.6 454.2h.3M358.7 452.4h.3M360.3 450.1h.3M356.6 454.9h.3M364 455.5h.3M355.9 457.7h.3M358 454.3h.3M356.1 455.1h.3M353.9 458.1h.3M364.2 460.4h.3M359.1 461.9h.3M362.8 448.1h.3M353.7 450h.3M355.1 454.1h.3M363.1 452.7h.3M356.2 449.1h.3M354.6 455.1h.3M359.8 460.3h.3M362.5 456.6h.3M359 450.7h.3M356 455h.3M356.8 443.8h.3M356.5 461.9h.3M356.3 454.7h.3M363.1 456.5h.3M352.8 458.7h.3M353.8 457.8h.3M353.6 460.3h.3M356.6 454.3h.3M354.6 453.9h.3M360.5 453.9h.3M356.2 456.8h.3M358 453.4h.3M356.5 466.5h.3M354.4 448h.3M356.3 463.2h.3M356.1 463.9h.3M353.7 461.6h.3M353.5 455.1h.3M358.2 450.7h.3M354.4 457.1h.3M356.3 457.3h.3M354.3 460.9h.3M355.1 454.2h.3M353.2 461.4h.3M364.3 451.5h.3M363.8 454.5h.3M356 454.2h.3M356.7 444.6h.3M354.8 455.6h.3M356 454.6h.3M356.3 446h.3M366.6 456h.3M366.6 462.7h.3M366.5 466.6h.3M364.8 448.2h.3M366.9 456h.3M365 454.7h.3M366.6 450.1h.3M364.8 453.7h.3M366.5 448.9h.3M366.2 449.4h.3M364.9 441.9h.3M365 446.6h.3M364.9 457.9h.3M366.9 456h.3M364.7 452.5h.3M365.2 463.2h.3M364.7 443.2h.3M366.5 457.3h.3M365 452.3h.3M364.8 449.9h.3M364.8 441.3h.3M364.6 453.5h.3M364.8 439.2h.3M365.3 443.8h.3M372.5 442.1h.3M370.4 440.4h.3M376.4 440h.3M373.9 432.3h.3M371.1 428.5h.3M376.5 430.5h.3M370.2 442.3h.3M372.8 434.1h.3M372.6 436.3h.3M376.2 429.9h.3M369.6 440.7h.3M374.1 440.8h.3M374.1 445.2h.3M367.7 432.2h.3M374.1 446.2h.3M372.6 442.1h.3M376.4 434.1h.3M376.6 434.1h.3M373.9 437.1h.3M370.4 439.3h.3M369.2 438.3h.3M370.6 441.3h.3M376.4 434.1h.3M372.4 447.9h.3M372.5 437h.3M369.5 434.3h.3M370.4 426.6h.3M370.8 433.9h.3M373.1 436h.3M372.6 441.9h.3M370.6 446h.3M372.6 425.2h.3M372.6 429.7h.3M374.1 441.2h.3M372.4 438.7h.3M374.2 437.3h.3M374.3 440.3h.3M376.6 444.9h.3M370.5 431.7h.3M374.2 431.1h.3M374.6 444.7h.3M376.7 434.1h.3M370.8 436.3h.3M373.6 434.1h.3M374.3 441.8h.3M372.2 430.8h.3M367.3 449.8h.3M376 432.8h.3M372.2 441.3h.3M374.1 437h.3M376.5 440.5h.3M374.4 429.8h.3M374.2 442.8h.3M374.5 443.6h.3M376.8 442.1h.3M369.9 432.2h.3M376.6 433.8h.3M376.6 445.8h.3M370.4 436.5h.3M373.7 440.4h.3M374.3 435.5h.3M372.9 440.4h.3M370.4 430.9h.3M370.6 439.8h.3M372.1 435.1h.3M369.5 442.2h.3M369.3 443.4h.3M367.2 436.1h.3M373.8 432.5h.3M370.6 439.2h.3M370.8 433.5h.3M376.6 438.7h.3M374.1 441.3h.3M376.7 439.7h.3M376.4 442.1h.3M373.9 447.3h.3M367.6 436.3h.3M373.9 432.9h.3M372 428.7h.3M367 445.2h.3M369.8 436h.3M372.7 442.7h.3M373.9 440.4h.3M370.3 448.2h.3M366.9 434.4h.3M370.5 439.1h.3M367.7 439.5h.3M370.7 434.9h.3M367 436.1h.3M373 434.1h.3M372.4 440.1h.3M372.2 437.2h.3M376.6 428.3h.3M376.5 436.3h.3M370.7 437h.3M376.7 438.7h.3M367.7 438.4h.3M370.2 438.5h.3M373.7 434.8h.3M374.3 435.4h.3M376.8 443.4h.3M369.6 437.7h.3M370.6 438h.3M370.7 429.7h.3M372.2 437.7h.3M374.5 443.8h.3M369.6 438.9h.3M372.7 444.7h.3M374.1 437.1h.3M372.7 442.8h.3M376.3 441.6h.3M367 428.4h.3M372.2 440.9h.3M370.2 438.9h.3M373.7 426.6h.3M370.6 437.2h.3M374.2 435.3h.3M369.6 432.2h.3M370.5 441.9h.3M376.3 443.6h.3M372.9 436.8h.3M374.6 436.1h.3M374.4 441.7h.3M367.1 439.6h.3M376.5 437h.3M377 417.5h.3M376.4 431.5h.3M370.6 439h.3M374.2 443.5h.3M369.5 436.5h.3M370.3 441.5h.3M370.9 431.8h.3M370.5 438.3h.3M370.4 434.5h.3M373.9 445.6h.3M376.3 434.5h.3M370.3 437.1h.3M376.8 406.2h.3M369.7 413.7h.3M367.5 440.2h.3M367.7 432.6h.3M374.4 433.4h.3M376.8 444h.3M372.4 436.8h.3M369.5 428.7h.3M367.7 451h.3M367.1 438.3h.3M374.1 437.7h.3M372.6 438.3h.3M373.9 442.9h.3M370.6 432.9h.3M376.6 436.9h.3M367.6 436.7h.3M372.4 442.2h.3M370.3 436.5h.3M372.9 440.7h.3M366.6 425.9h.3M367.6 438.6h.3M374.7 439.6h.3M376.1 442.9h.3M374 453.3h.3M374.5 434.1h.3M377 440.8h.3M373.9 444.3h.3M369.5 437.5h.3M371.9 443.5h.3M370.4 441.6h.3M370.3 441h.3M376.6 441.5h.3M374.2 435h.3M374.3 443.2h.3M372.5 436.9h.3M374.6 432.7h.3M376.5 442.3h.3M370.5 437.1h.3M374.2 439.4h.3M370.7 442.8h.3M374.1 444.3h.3M376.2 440.1h.3M376.8 440.5h.3M376.7 434.9h.3M374.2 444.3h.3M373.9 432.3h.3M372.3 438.8h.3M374.1 440.1h.3M374 449.5h.3M370.5 439.1h.3M367.2 443h.3M369.4 434.3h.3M374.1 437h.3M376.7 427h.3M369.4 438.7h.3M374.1 436.4h.3M370.7 438.7h.3M370.7 447.3h.3M370.3 434.3h.3M376.6 443.6h.3M377 438.4h.3M374.6 440.9h.3M372.7 438.9h.3M367.5 439.6h.3M374.3 435.3h.3M376.6 443.2h.3M376.2 445.4h.3M372.4 442h.3M372.8 437.2h.3M370.6 438.1h.3M374 431.1h.3M370.8 435h.3M372.7 436h.3M376.3 433.3h.3M371.2 431.8h.3M372.5 433.4h.3M370.8 437.8h.3M370.9 436.1h.3M376.9 439.1h.3M374.5 434.9h.3M373.8 442h.3M376.6 423.8h.3M367.4 435.9h.3M369.3 436.2h.3M370.5 437.7h.3M370.5 439.4h.3M372.4 446.4h.3M376.8 438.7h.3M367.2 445.5h.3M374.1 435.5h.3M374.4 436.9h.3M374.3 439.1h.3M370.1 447.7h.3M376.5 441.2h.3M373.9 447.3h.3M374.2 438.2h.3M372.6 436.4h.3M373 422.6h.3M370.9 443.5h.3M370.8 437h.3M373.9 438.3h.3M369.6 435.2h.3M370.2 439.5h.3M373 436.2h.3M367.2 447.3h.3M376.4 434.1h.3M367.3 442.7h.3M374.4 443.7h.3M370.7 436.8h.3M376.8 442.6h.3M370.7 429.8h.3M373.9 442.4h.3M376.1 430.1h.3M372.8 440.5h.3M372.4 443.8h.3M376.7 429h.3M374.6 443.1h.3M370.6 433h.3M372.5 448.6h.3M369.5 433.2h.3M367.5 434.8h.3M370.6 438.4h.3M370.6 441.3h.3M369.8 429.4h.3M373.6 434h.3M376.7 448.6h.3M376.7 431.9h.3M370.5 435.4h.3M376.4 435.5h.3M370.6 437h.3M376.4 443.8h.3M374.5 438.3h.3M376.4 442.4h.3M376.3 434.7h.3M376.4 444.8h.3M374.6 441.1h.3M367.4 439.2h.3M370.9 441.2h.3M372.7 440.9h.3M367.4 444.4h.3M376.5 436.3h.3M374.2 442.2h.3M376.4 440.2h.3M374 427h.3M372.3 436.8h.3M374.4 435.1h.3M372.1 440.9h.3M370.5 443.5h.3M374.7 416.1h.3M372.6 440.7h.3M370.1 432h.3M372.5 436.7h.3M370.6 434.5h.3M372 436.5h.3M372.1 435.1h.3M371 438.7h.3M369.6 431.2h.3M372.4 402.9h.3M376.2 431.7h.3M374 441.7h.3M369.7 432.2h.3M367.4 441h.3M372.7 442.9h.3M370.8 439.4h.3M370.9 440.6h.3M367.3 445.1h.3M370.7 444.1h.3M374.3 432.7h.3M376.5 435.3h.3M374.4 433.8h.3M372.2 438.5h.3M370.3 439h.3M370.3 445.1h.3M373 444.4h.3M372 440h.3M370.8 446.6h.3M374.3 433.9h.3M367.6 438.4h.3M372.2 440.5h.3M376.5 443.6h.3M376.7 436.8h.3M374.5 441.2h.3M377 439h.3M385.1 448.9h.3M384.3 461.5h.3M381.3 442.4h.3M379.4 453.8h.3M385 447.5h.3M384.7 444.3h.3M384.9 454.8h.3M378.6 454.2h.3M382.7 457.2h.3M378.5 456.9h.3M378.6 448.1h.3M379.4 458.3h.3M382.3 451.5h.3M379.2 442.9h.3M382.2 447.1h.3M378.3 461.4h.3M384.9 447.3h.3M382.7 451.4h.3M381.5 450.2h.3M382.6 448.2h.3M381 445.2h.3M384.8 452.7h.3M385.1 461h.3M384.6 451.4h.3M382.7 463h.3M381.1 439.3h.3M384.4 420.8h.3M379.3 445.6h.3M379.4 440.5h.3M381.1 461h.3M381.2 449.9h.3M379.5 449.6h.3M384.9 446.3h.3M385.1 447h.3M384.8 458.2h.3M382.6 444.3h.3M378.8 457.6h.3M384.6 447.9h.3M378.5 449.3h.3M384.7 452.3h.3M381.5 454.8h.3M385 447.8h.3M380.7 449.7h.3M383 454.4h.3M383.8 439h.3M384.9 457.7h.3M384.8 462.7h.3M379.3 444.9h.3M381.3 447.4h.3M385.3 452.3h.3M379.3 451.8h.3M378.8 444.9h.3M384.5 465.8h.3M378.7 440h.3M381.1 440.6h.3M385.1 441.2h.3M381.2 455.3h.3M379.3 460.6h.3M384.6 449.7h.3M384.9 453.4h.3M384.9 455.5h.3M385.1 449.6h.3M379.7 450.5h.3M385 435.8h.3M384.8 445.8h.3M384.7 443.6h.3M383.3 445.3h.3M378.6 442.1h.3M378.5 444.7h.3M379.3 447.1h.3M385 452.6h.3M381.5 443.9h.3M378.6 440.5h.3M384.6 457.3h.3M384.9 455.1h.3M378.2 440.3h.3M379.6 453.6h.3M382.4 439.7h.3M382.7 443.1h.3M379.4 459.2h.3M378.9 448.3h.3M385 438.8h.3M378.3 450.6h.3M385.5 449.1h.3M381 457h.3M379.3 446.5h.3M384.5 446.8h.3M378.6 445.1h.3M380.9 460.7h.3M379.6 466.5h.3M379.2 456h.3M382.6 448.2h.3M378.9 442.5h.3M378.6 465.6h.3M378.7 453.9h.3M381.3 457.8h.3M378.9 456.9h.3M378.8 446.5h.3M383.5 465.1h.3M383 453.5h.3M384.6 449h.3M385.5 452.5h.3M379.4 445.1h.3M385 446.1h.3M384.9 455.6h.3M382.4 457h.3M378.6 449.4h.3M384.9 434.8h.3M378.7 450.1h.3M380.9 454h.3M384.1 459.4h.3M378.2 438.6h.3M382.2 451.7h.3M385 461h.3M384.1 454.9h.3M379.4 457.1h.3M379.9 456h.3M381.1 449.9h.3M383.5 462.3h.3M385.4 457.3h.3M378.8 450.2h.3M385.2 460h.3M384 451h.3M379.1 449.2h.3M381.2 448.1h.3M379.5 452.8h.3M385.4 443.5h.3M378.4 441.1h.3M385.3 461h.3M385.1 464.6h.3M379.3 455.8h.3M384.1 460.8h.3M385 442h.3M384.9 449.1h.3M381.5 438.9h.3M384 460.2h.3M381.1 450.7h.3M382.4 455h.3M384.8 461.7h.3M385.2 456.2h.3M384.9 450.1h.3M385.5 448.9h.3M384.8 446.8h.3M379.1 456.1h.3M378.6 453.1h.3M379.5 450.4h.3M381.3 449.3h.3M385.2 447.6h.3M381.3 459h.3M381 460.2h.3M384.8 453h.3M381.3 454.9h.3M385 464.2h.3M385.3 442.1h.3M385 448.4h.3M384 458.1h.3M379.4 450.6h.3M383 458h.3M378.3 457.6h.3M378.6 444h.3M385.3 456.8h.3M384.8 451h.3M382.7 448.5h.3M383.8 458.9h.3M379 448.7h.3M384.8 456.5h.3M382.4 446h.3M378.6 451.3h.3M383.7 455.6h.3M383.8 449h.3M381 460.1h.3M381.4 448h.3M380.8 455.2h.3M380.9 450.4h.3M383.6 444h.3M382.7 466.5h.3M384.1 454.5h.3M378.8 452.1h.3M378.6 449.2h.3M382.7 464.5h.3M380.8 447.7h.3M384.8 454.3h.3M382.5 452.2h.3M382.9 459.1h.3M379.1 447.8h.3M385.1 448.7h.3M379.3 450.6h.3M380.7 461.3h.3M384.7 450.7h.3M379.3 452.2h.3M379.2 457.9h.3M381 453.5h.3M378.5 460h.3M378.8 457h.3M378.5 437.3h.3M385 453.7h.3M379.7 450.9h.3M378.7 447.1h.3M384.8 447.4h.3M381 444.4h.3M387 449h.3M386.6 452.4h.3M390.1 433.6h.3M388.1 449h.3M388.1 450.7h.3M387.2 451.1h.3M388.5 445.6h.3M390.4 455.3h.3M390.4 457.6h.3M390.1 435.4h.3M387.8 440.7h.3M387.9 445.1h.3M390.2 455.1h.3M390.4 450.8h.3M386.9 460.4h.3M390.3 438.5h.3M390.5 459.7h.3M390.8 437.7h.3M387.2 451h.3M387.8 451.4h.3M387.4 455h.3M387.1 444.9h.3M387.3 455.8h.3M387.3 445.1h.3M387.6 448h.3M387.1 442.2h.3M386.6 454.4h.3M390 460.7h.3M387 454.9h.3M387.3 448.8h.3M387.1 441.6h.3M387.7 452.7h.3M390.2 437.7h.3M387.1 443.5h.3M390.6 460.3h.3M390.5 449h.3M386.8 452.4h.3M387 445.2h.3M388.1 455.5h.3M387.7 446.5h.3M390.1 454.8h.3M387 449.1h.3M386.9 458.3h.3M390.3 437.2h.3M386.9 449.3h.3M391 449.5h.3M387.5 460.8h.3M387.2 459.9h.3M390.5 453.8h.3M390.4 457.5h.3M397.1 450h.3M396.4 449.2h.3M397.8 447h.3M395.9 456.1h.3M395.3 451.6h.3M393.9 446.5h.3M399.6 440.3h.3M396.1 439.6h.3M397.5 454.8h.3M396 438.4h.3M395.1 440.9h.3M397 445h.3M399.4 449.5h.3M395.1 447h.3M397.6 450.4h.3M397.3 444.1h.3M391.3 448.5h.3M396.3 458.9h.3M397.2 450.9h.3M393.8 446.2h.3M397.4 449.4h.3M396.1 449.2h.3M391.2 444.4h.3M396.4 445.3h.3M397.2 458.5h.3M397.6 456.3h.3M397.7 440.7h.3M395.9 447.9h.3M397.1 452.2h.3M391.5 448.1h.3M392.4 446.3h.3M396.5 452.4h.3M390.6 449.5h.3M391.2 444.3h.3M391.3 445.6h.3M399.8 455.2h.3M392.2 450h.3M391.2 453.8h.3M396.1 445.6h.3M397.5 445.7h.3M399.6 442.3h.3M392.3 452.1h.3M396 451.2h.3M399.6 447.6h.3M399.2 449.7h.3M391.9 460.7h.3M399.6 449.6h.3M397.7 447.8h.3M394 444.4h.3M396.1 438.4h.3M395.2 447.6h.3M391.6 456.4h.3M392.5 455h.3M399.3 452.5h.3M396.3 452.2h.3M394 453h.3M391.3 451h.3M391.5 447.9h.3M399.6 449.3h.3M392.3 450.6h.3M395.2 461.2h.3M397.5 442.6h.3M392.5 447.7h.3M395.9 444.6h.3M392.1 456h.3M397.5 445h.3M396 443.5h.3M391.2 450h.3M399.5 438.9h.3M397.8 461.5h.3M397.4 459.4h.3M397.3 458.6h.3M394.3 453.2h.3M395.1 452.5h.3M391.2 449.1h.3M391.5 428.5h.3M394.7 456.1h.3M396.9 448.7h.3M396.5 450h.3M392.4 445.4h.3M396.2 447.5h.3M396.1 446.9h.3M394 450.3h.3M391.5 446h.3M397.5 452h.3M397.1 461h.3M394.1 442.9h.3M396.2 445.2h.3M397.2 449.5h.3M397.2 446.8h.3M394 448.2h.3M397.3 430.5h.3M399.7 448.8h.3M391.1 443.4h.3M396.5 445.3h.3M396.8 445.7h.3M397.2 448.3h.3M397 451.7h.3M395 454.5h.3M394.6 453.1h.3M390.7 446.5h.3M397.3 440.1h.3M391.8 449.8h.3M397.7 445.7h.3M391.5 448.2h.3M394.8 448.4h.3M397.2 450.8h.3M391.5 434h.3M399.4 450.2h.3M397.5 459.1h.3M396.1 449.1h.3M391 447.8h.3M391.2 448.3h.3M392.6 442.4h.3M399.5 436.4h.3M393.7 461.6h.3M397.4 448.2h.3M392.5 452.1h.3M397.1 445h.3M395.7 449.4h.3M396.5 457.2h.3M399.1 446.3h.3M399.9 444.7h.3M399.5 448.7h.3M391 455.3h.3M396 447.5h.3M399.5 445.9h.3M393.9 448.9h.3M396.9 449.2h.3M400 448.5h.3M398.1 454.8h.3M399.8 451.5h.3M394.8 444.3h.3M397.2 441.9h.3M392.7 438.8h.3M392.5 452.3h.3M399.2 449.7h.3M399.5 453.4h.3M399.2 446.3h.3M397.4 451.5h.3M397.1 461.6h.3M395 442.9h.3M393.9 448.4h.3M391.1 448.6h.3M391.5 443.1h.3M391 456h.3M395.2 444.7h.3M395 447.7h.3M396 449.8h.3M391.3 452.7h.3M397.6 444h.3M397.6 446.5h.3M397.6 453.6h.3M391.4 442.3h.3M396.3 433h.3M396.3 457.3h.3M393.7 455.5h.3M391 449.4h.3M400 444.9h.3M399.8 445.2h.3M391.8 443.3h.3M397.3 452.1h.3M394.1 450.5h.3M399.1 449.3h.3M392 451.9h.3M395.9 449.8h.3M397.6 438.5h.3M394 442.1h.3M397.1 455.1h.3M395.1 448.3h.3M397.7 452h.3M394 452.9h.3M394.2 443.8h.3M391 452.3h.3M399.8 459.4h.3M399.3 445.4h.3M397.4 442.9h.3M391.6 452.5h.3M395.1 435.2h.3M396.2 445.1h.3M397.5 446.5h.3M391.1 451.6h.3M397.4 435.7h.3M396.4 450.3h.3M394.8 444.2h.3M392.3 459.9h.3M397.1 453.6h.3M397.2 439.6h.3M397.7 451h.3M392.1 456.5h.3M393.9 454.9h.3M397.8 439.7h.3M396.3 443.2h.3M400.1 449.4h.3M396.9 459.1h.3M391.1 453.3h.3M393.7 419h.3M391.4 439.1h.3M395.3 449.4h.3M391.2 460.2h.3M402.3 444.9h.3M400.4 454.7h.3M402 452.4h.3M400.7 457.4h.3M400.1 443.8h.3M399.8 457.6h.3M402 439.6h.3M400.4 438h.3M400.5 455h.3M400.6 433.3h.3M402.1 452.9h.3M400.1 411.8h.3M402.2 438.4h.3M400.4 452.9h.3M400.4 443.6h.3M400 419.8h.3M400.1 426.5h.3M400.3 434h.3M402 443.2h.3M400.4 421.9h.3M400.4 450.3h.3M400.1 431.1h.3M401.9 447.8h.3M400.5 444.5h.3M400.5 445.1h.3M400.4 446.2h.3M400.5 435.2h.3M402 450h.3M400.1 424.3h.3M400.5 440.9h.3M400.4 430.4h.3M402.1 438.8h.3M401.7 460h.3M400.2 438.8h.3M400.5 454.7h.3M400.4 434.9h.3M400 448.8h.3M400.1 461h.3M401.8 441.2h.3M400.3 458.4h.3M400.1 429.8h.3M400.2 417.8h.3M400.1 432.7h.3M400 425.4h.3M401.8 450.9h.3M400.5 431.1h.3M399.8 440h.3M401.7 444.6h.3M402.1 442.7h.3M401.9 449.7h.3M400.1 428.5h.3M401.5 455.6h.3M400.3 437.4h.3M400.5 428.6h.3M400.2 418.3h.3M401.9 434.8h.3M400.4 445.6h.3M427.3 430.2h.3M426.3 434h.3M409.7 430.1h.3M415.4 445.2h.3M420.2 443h.3M425 443.4h.3M415.7 424.4h.3M442.9 422.3h.3M460.9 429.5h.3M439.6 431.3h.3M416.7 433.9h.3M417.6 435h.3M451.6 433.4h.3M432.4 408.1h.3M440.4 432.9h.3M419.3 425.6h.3M435.8 432.5h.3M459.2 434.8h.3M435.4 432.5h.3M424.1 431.4h.3M453.3 431.9h.3M428.2 438h.3M441.7 438h.3M409.8 437.1h.3M414.2 428.2h.3M411.9 432.1h.3M459.9 420.8h.3M403.8 428.8h.3M419.2 428.2h.3M435.2 428.8h.3M411.7 402.6h.3M416.2 422.5h.3M427.8 431.9h.3M412.5 435.3h.3M404.5 432.6h.3M406.7 414h.3M412.3 441.7h.3M420.7 433.3h.3M449.9 431.3h.3M422.9 432.1h.3M410.8 438.9h.3M419.8 424.9h.3M408.1 434.5h.3M419.7 435.4h.3M438.1 430.8h.3M457.9 426.1h.3M415.9 429.1h.3M407.7 430h.3M461.1 430.3h.3M422.3 430.8h.3M407.4 438.6h.3M419.5 429.3h.3M448.2 431.6h.3M451.9 441.8h.3M427.8 436.4h.3M418.9 426.5h.3M417.4 441.7h.3M454.3 432.8h.3M408 438h.3M450.9 438.9h.3M412.3 443.7h.3M412.1 439.2h.3M438.7 431.6h.3M407 420.6h.3M458.3 430.9h.3M461.2 435.6h.3M422.9 422.6h.3M429.2 439.6h.3M417.8 437.9h.3M425.9 426.4h.3M439.8 424.1h.3M435.8 436.4h.3M441.5 436.2h.3M459.9 442.3h.3M424.7 431.5h.3M461.1 439.4h.3M425 433.8h.3M435.9 441.3h.3M407.5 431.7h.3M424 433.9h.3M454 435.3h.3M421.9 437.2h.3M432.4 439.3h.3M457.9 436.4h.3M449 427.9h.3M453.2 425.8h.3M415.3 428.4h.3M441.7 440.9h.3M416.4 421.9h.3M453.6 431.5h.3M444.4 431.2h.3M427.6 418.4h.3M423.9 427.2h.3M413.3 431.2h.3M412.7 428.5h.3M418.9 435.4h.3M412.4 431.9h.3M424.4 432h.3M410.5 429.2h.3M413.5 437.4h.3M432.3 430.2h.3M416.6 433.1h.3M420.9 436.5h.3M446.6 435h.3M417.7 430.6h.3M454.5 435.6h.3M432.2 438.1h.3M409.7 434.4h.3M414.2 435.6h.3M451.8 442.3h.3M414.3 430.2h.3M453.9 433.7h.3M431.8 428.3h.3M424.2 432h.3M448.5 435h.3M425.3 409.7h.3M436.5 433.6h.3M410.7 431.1h.3M420.5 437.4h.3M461.1 437h.3M411.9 434.4h.3M439.2 428.8h.3M426.2 437.8h.3M427.9 419.8h.3M457.6 444h.3M435.6 426.4h.3M443.6 431.4h.3M419.4 435.3h.3M453.8 425.1h.3M408.6 425.6h.3M433.3 435.7h.3M436.2 432.3h.3M458.1 434.7h.3M435.3 431.1h.3M408.8 436.6h.3M420.5 431.1h.3M419.4 430.9h.3M421.2 426.5h.3M441.4 430.7h.3M458.5 428.8h.3M428.2 428.2h.3M435.6 435.8h.3M414.6 440.5h.3M403 433.8h.3M405 432.9h.3M411.9 432h.3M413.1 440.1h.3M427.5 431.5h.3M439.1 437.5h.3M442.6 431.3h.3M456.1 417.3h.3M440.4 425.6h.3M412.3 431.7h.3M424.4 410.3h.3M439.6 424.5h.3M420.4 434.2h.3M420.9 435.6h.3M409 431.5h.3M449.8 428.8h.3M419.5 426h.3M403.5 437.9h.3M453.8 435.6h.3M435.8 435.8h.3M453.7 438.9h.3M413 441.2h.3M409.9 436.8h.3M442.7 439.3h.3M448.8 429.2h.3M430.4 429.7h.3M413.9 436.9h.3M458.8 428.8h.3M414.2 443.1h.3M450.4 440.5h.3M420.6 434.2h.3M456.2 430.8h.3M415.4 426.6h.3M449 435.8h.3M426.3 448.1h.3M413.3 430.9h.3M420.8 430.2h.3M456.2 435.5h.3M461.5 435.5h.3M415.2 437.9h.3M447 428.6h.3M461.5 434.9h.3M435.8 440.5h.3M427.2 436.6h.3M421.4 441h.3M419 425.4h.3M460.3 432.1h.3M446.2 436.4h.3M461.3 427.3h.3M435.7 430h.3M443.6 427.2h.3M422.3 437.4h.3M415.2 425.7h.3M440 429.5h.3M439.7 421.4h.3M428.7 441.7h.3M422.1 431.4h.3M420.6 429.3h.3M445.3 428.6h.3M416 440.4h.3M439.3 431.2h.3M435.8 438.2h.3M404.1 430.1h.3M435.4 432.3h.3M461.8 433.8h.3M431.8 430.5h.3M445.1 430.7h.3M424.5 436.6h.3M431.9 432.7h.3M444.4 437.6h.3M412 428.9h.3M442.5 431.9h.3M425.1 446.9h.3M446.5 431.3h.3M435.3 433.2h.3M444.9 436h.3M454.9 435.7h.3M444.2 441.5h.3M426.8 432.3h.3M449.2 442.8h.3M407.9 438.1h.3M429.5 436.7h.3M457.4 438.5h.3M436.9 431.1h.3M446.6 431.3h.3M428 426.3h.3M403.4 438.2h.3M443.5 432.2h.3M411.2 425.6h.3M453.7 423.5h.3M438.7 433h.3M405.2 430.1h.3M427 425.7h.3M452.2 432.4h.3M406.1 433.3h.3M439.7 436.2h.3M419.2 442h.3M447 431.8h.3M431.9 428.4h.3M444.5 428.4h.3M413 436.3h.3M454.8 438h.3M416.1 428.5h.3M435.1 436.4h.3M449.3 429.5h.3M458.5 439.1h.3M435.2 436.7h.3M416.3 433.6h.3M433.7 433.1h.3M426.1 432.6h.3M431.7 437.3h.3M413 425.9h.3M453.7 442.9h.3M448.2 427.5h.3M420.4 422.1h.3M443.9 418.7h.3M450.5 430.2h.3M421.8 432.6h.3M422.3 429.1h.3M442.1 431.5h.3M421.4 428.8h.3M445 433.8h.3M415.4 431.9h.3M424.1 435.6h.3M414.2 429.2h.3M422 434.1h.3M405.1 431.2h.3M427.8 434.1h.3M424.9 436.4h.3M423.8 434.9h.3M411.1 432.7h.3M454.8 434.9h.3M410.9 423.9h.3M444 433.1h.3M425.1 439.6h.3M435.7 438.3h.3M457 427.5h.3M428 426.8h.3M407.3 440.3h.3M461.3 428.4h.3M456 425.6h.3M416.2 438.2h.3M403.9 436.9h.3M434.8 437.3h.3M443.5 433.5h.3M459.4 439.5h.3M428.6 443.7h.3M414.4 427.4h.3M419.4 437.3h.3M434.1 438.2h.3M445.4 428h.3M460.8 431.4h.3M434.6 434.1h.3M426.1 438.5h.3M422 430.4h.3M453.8 425h.3M436.7 429.5h.3M411.2 435.5h.3M450.7 429.1h.3M427.5 433.9h.3M428.3 433.8h.3M437.4 430.3h.3M411.3 432.3h.3M440.9 432.2h.3M424.3 435h.3M429.3 433.1h.3M461.2 424.2h.3M420.7 440.7h.3M441.4 433.5h.3M427.8 432.4h.3M416.4 426.2h.3M413 435h.3M449.2 431h.3M418.4 441.4h.3M440.2 433.6h.3M412.1 428.8h.3M421.5 437.7h.3M449.3 432.9h.3M407.5 431.4h.3M435.6 428.8h.3M433.4 444.3h.3M413 431.5h.3M423.6 434.1h.3M427.7 439.8h.3M405.1 435.8h.3M405.4 432.7h.3M409.6 430.6h.3M439.5 426.8h.3M408.5 430.6h.3M454 440.5h.3M408.1 428.1h.3M447 427.4h.3M406.3 435.1h.3M434.8 429.4h.3M426.5 429.7h.3M419.1 432.4h.3M461.2 426.6h.3M433.5 434.7h.3M445.5 446.2h.3M441.6 429.6h.3M435.6 437.1h.3M449.8 426.1h.3M439.5 426.4h.3M457.6 428.8h.3M457.5 435.5h.3M402.8 438.2h.3M404.6 432.9h.3M427.8 419.6h.3M461.1 431.8h.3M407.5 431.2h.3M461.1 441h.3M457.3 427.3h.3M456.6 427.4h.3M431.7 434.6h.3M415.4 432.2h.3M439.8 432.1h.3M416.2 421.3h.3M457.9 420.3h.3M412.3 431.7h.3M456.9 435.9h.3M427.1 435.3h.3M456.1 424.4h.3M452.6 439.2h.3M420.6 429.6h.3M408.8 440.1h.3M421.7 425.2h.3M449.4 438.7h.3M420.2 434h.3M448.3 428.9h.3M430 430.8h.3M413.4 433.8h.3M421.9 441h.3M448.4 426.6h.3M440.7 431h.3M413.5 432.6h.3M445.9 436.2h.3M448.5 436.8h.3M449.4 429.5h.3M411.4 434.4h.3M421.7 435.2h.3M445.7 442.4h.3M456.2 434.5h.3M451.3 426.3h.3M434.4 439h.3M448.4 436.6h.3M425.2 437h.3M454.9 435.2h.3M419.7 434.2h.3M429 430.3h.3M409.8 431.7h.3M403.6 439.4h.3M403.8 428.7h.3M448.6 434h.3M450.4 440.7h.3M458.1 435.3h.3M449.5 429.8h.3M426.6 428.2h.3M407.5 431.5h.3M461.4 442h.3M417 438.5h.3M432.1 426.5h.3M419.2 434.3h.3M443.6 423.4h.3M413 442.7h.3M440.4 433.4h.3M421.7 431h.3M433.9 434.9h.3M449.7 437.1h.3M440.1 436.4h.3M419 438.2h.3M424.2 428.7h.3M423.1 427.3h.3M454.1 427.8h.3M411.9 436.1h.3M415.9 438.2h.3M418.7 421.9h.3M420.3 431.1h.3M433.4 428.1h.3M449.4 435.1h.3M413.6 431.6h.3M458.4 425.2h.3M413.3 430.1h.3M446.2 437h.3M410.7 439.6h.3M431.7 443.3h.3M426.1 426.4h.3M422.1 428.3h.3M420.7 430h.3M440 428.8h.3M414 433.3h.3M427.6 423.5h.3M430.9 428h.3M461.4 439.8h.3M412.3 436.6h.3M440.3 435.4h.3M416.9 431.8h.3M459.7 428.9h.3M404.4 429.6h.3M441.8 433.8h.3M407.5 429.8h.3M410.3 438.3h.3M454.2 441h.3M457.8 434.5h.3M434.6 430.1h.3M442.8 444.1h.3M443.4 436.4h.3M405 425h.3M443.6 431h.3M416.5 440.4h.3M450.9 435.5h.3M420.5 428.4h.3M456.2 432.4h.3M448.1 435.8h.3M415.5 434.8h.3M458.9 429.9h.3M424.1 425.9h.3M449 431.4h.3M449.5 433.4h.3M406.9 440.8h.3M410.1 436.1h.3M433.3 439.5h.3M456.5 429.5h.3M422.9 431.6h.3M459.8 431.8h.3M445 427.2h.3M454 426.7h.3M457.5 442.3h.3M439.5 441.1h.3M420.7 442.2h.3M452.1 439.5h.3M436.9 431.2h.3M411.9 421.8h.3M425.2 440.3h.3M443 445.4h.3M402.8 435.9h.3M418.1 436.8h.3M411.4 440.9h.3M407.4 428.2h.3M458.2 436.3h.3M433.8 429.7h.3M421.1 430h.3M419 428.3h.3M431.8 431.2h.3M435.6 419.1h.3M453.5 433.8h.3M443.3 436.3h.3M435.8 438.6h.3M414.9 437h.3M440.1 435.9h.3M445.8 420.8h.3M427.5 425.1h.3M427.3 435.6h.3M407.9 436h.3M435.5 437.8h.3M421.7 422.6h.3M421.6 435.4h.3M418.7 432.2h.3M458 429.1h.3M433.1 432h.3M408.8 434.9h.3M424 445.3h.3M420.3 438.2h.3M450.9 434.4h.3M454.2 433.2h.3M407 420.3h.3M458.9 429.8h.3M413.4 430.1h.3M459.4 442.2h.3M441.3 437.6h.3M420.5 429.2h.3M418.1 436.7h.3M431.7 432.2h.3M420.8 432.4h.3M450.7 426.6h.3M444.8 433.4h.3M425.8 431.6h.3M442.4 444.4h.3M454.2 430.1h.3M442.2 428.3h.3M428 431.4h.3M412.2 436.7h.3M453.4 440.8h.3M457.7 433h.3M428.6 435.4h.3M448.1 437.6h.3M450.9 426.8h.3M451 430.3h.3M435.8 437.7h.3M403.2 436.7h.3M443.1 429.8h.3M459.9 436.8h.3M421.7 431.9h.3M449.8 429.6h.3M453.9 436.7h.3M440.1 430h.3M440.3 448.3h.3M419.7 431.9h.3M442 429.6h.3M412.5 436.3h.3M429.3 425.6h.3M445.4 430.8h.3M448.3 428.9h.3M451.8 436h.3M427.9 427h.3M424.5 423.6h.3M409.8 442.7h.3M406.6 442.8h.3M433.3 435.8h.3M451.6 431.9h.3M408.9 442h.3M419.2 443h.3M449.9 433.7h.3M449.8 434.2h.3M453.6 432.4h.3M414.4 437h.3M436.2 440.5h.3M411.7 435.7h.3M457.8 429h.3M440.1 429.3h.3M402.6 424.8h.3M454.2 434.9h.3M421.7 432h.3M454.6 431.3h.3M428.2 438h.3M423 432.8h.3M449.6 435.8h.3M429.6 427.4h.3M420.6 433.9h.3M454 438h.3M420.7 438.8h.3M453.9 433.5h.3M407.3 438.4h.3M430.8 435.6h.3M435.1 439h.3M453.6 433.9h.3M459.9 433.9h.3M427.3 435.6h.3M407.9 424h.3M431.9 433.4h.3M458.8 435.6h.3M418.4 432.4h.3M415.5 444.4h.3M435.6 438.5h.3M433.5 436.2h.3M446.4 436h.3M436.1 424.1h.3M451.2 448.4h.3M429.7 430.4h.3M458 428.4h.3M450.4 422.7h.3M425.2 428.1h.3M414.4 432.2h.3M424.7 423.6h.3M433.6 428.8h.3M454.4 429.7h.3M449.5 435.5h.3M430.5 435.3h.3M458.1 436h.3M446.7 435.6h.3M435.3 421.6h.3M407.2 436.4h.3M412.9 427.3h.3M456.5 422.9h.3M412.3 425.2h.3M449.7 438.2h.3M403.6 436.2h.3M435.8 438.6h.3M439.4 424.5h.3M435.9 429.4h.3M417.9 425.6h.3M403 436.8h.3M407 434.2h.3M442.1 431.7h.3M449.9 436.3h.3M450.9 435.6h.3M456.5 433.9h.3M431.6 437.2h.3M423.1 437.9h.3M435.9 435.4h.3M418 417.6h.3M417.7 432.8h.3M440.3 429.9h.3M404.4 432.5h.3M453.9 426.8h.3M457.7 434.4h.3M415.6 433.9h.3M428 436.9h.3M419.6 437.7h.3M413.6 425.4h.3M458 438.6h.3M408.2 432.4h.3M449.7 431.3h.3M454.9 443.2h.3M427.2 433h.3M425.3 431.8h.3M435.7 442h.3M418.2 439.6h.3M413 430.2h.3M450.7 430.9h.3M407.8 442.3h.3M411.3 425.2h.3M433.5 431.9h.3M430.4 434.1h.3M434.5 427.2h.3M405.7 433.3h.3M428.2 439.4h.3M421.2 435.4h.3M456.2 429.2h.3M456.7 436.7h.3M417.3 431.2h.3M451.6 435.9h.3M408.6 429.5h.3M429.5 429.7h.3M456.2 431.9h.3M437.4 432.8h.3M432 429.4h.3M455.3 425.8h.3M427.4 443.2h.3M441.7 432.4h.3M403 425.3h.3M449.5 435.6h.3M408.5 429.6h.3M425.9 448.2h.3M443.3 430.8h.3M404.7 435.7h.3M427.5 442.5h.3M426.7 424.3h.3M454.6 431.4h.3M412.5 429.3h.3M449.8 437.7h.3M439.5 432.4h.3M431.9 436.1h.3M435.5 426h.3M449.6 435.5h.3M427.5 436.6h.3M446 438.7h.3M461.3 430h.3M454.6 433.5h.3M435.4 438h.3M434.6 429.2h.3M422.3 433.1h.3M410.4 432.1h.3M460.8 437.6h.3M415 425.9h.3M405.1 436.5h.3M431.4 429.6h.3M420.6 435.6h.3M429.5 433.4h.3M445.7 438.7h.3M443.1 433.8h.3M415.3 431.3h.3M432.1 435.5h.3M458.2 432.4h.3M454.8 432.5h.3M420.5 433.1h.3M454 443.7h.3M449.9 440.8h.3M461.1 430.2h.3M412.6 434.1h.3M408.7 433.2h.3M424.3 433h.3M403.3 434.9h.3M404.1 430.7h.3M445.2 425.4h.3M449.7 430.5h.3M428 424.3h.3M450.7 426.7h.3M404.8 434.1h.3M421 435.4h.3M430.9 426.3h.3M457.5 420.9h.3M426.1 444.6h.3M404.1 437.3h.3M440.4 429.9h.3M410.4 432.9h.3M458.7 434.4h.3M409.3 431.2h.3M449.8 430.1h.3M451.9 432h.3M442.2 437.9h.3M459 438.4h.3M409.3 421.6h.3M456.5 438.4h.3M456.1 438.6h.3M454.7 433.9h.3M443.8 428.2h.3M441.7 428.2h.3M409.7 431.2h.3M430.8 427.9h.3M440 431.5h.3M427.8 427.3h.3M418.6 440.1h.3M414.5 434.2h.3M429.4 433.1h.3M449.8 433.5h.3M442.8 434.9h.3M441.8 429.3h.3M422.1 434.3h.3M437.3 432.7h.3M436.5 423h.3M432.1 428.8h.3M412.6 438.6h.3M452.9 434.5h.3M459.9 430.2h.3M456.4 437.1h.3M456.2 427.7h.3M434.9 428.5h.3M448.5 428.6h.3M407.2 423.7h.3M415.7 436.5h.3M460.4 439.2h.3M408.4 431.6h.3M413.7 433.3h.3M413.8 437h.3M456.3 436.9h.3M420.5 428.1h.3M426.1 432.4h.3M455.7 432.9h.3M417.7 430.3h.3M454.7 427.6h.3M446.7 435.6h.3M452.1 432.5h.3M436.1 436.2h.3M460.9 430h.3M416.7 427.9h.3M453.8 425.9h.3M434.3 440.1h.3M435.2 437.4h.3M427.8 437.1h.3M454 433.1h.3M419.7 430.7h.3M407.5 421.4h.3M449.7 431.5h.3M451.1 435.5h.3M405 428h.3M454.9 431.5h.3M404.9 434.9h.3M407.7 429.1h.3M407.8 426.7h.3M402.9 435.2h.3M457.9 440.6h.3M427.8 433.9h.3M454.3 431.7h.3M435.6 433.4h.3M450 432.8h.3M419.1 443.6h.3M409.7 430.1h.3M433.5 414.2h.3M420.7 430.9h.3M426 431.6h.3M405.1 429h.3M403.8 441.2h.3M461.1 429.8h.3M448.2 436.9h.3M437.8 434.3h.3M417.6 434.6h.3M452 421.8h.3M417.3 433.9h.3M456.7 433.1h.3M441.5 433.5h.3M458.7 438.5h.3M413.7 439.5h.3M431.4 436.1h.3M461.3 424.5h.3M448.8 426.2h.3M458.3 437.4h.3M405 431.2h.3M423.7 424.8h.3M412.3 428h.3M419.2 438.8h.3M412.2 445.1h.3M434.5 433.5h.3M415.1 428.2h.3M457.9 435h.3M407.9 426.6h.3M425.9 427.2h.3M458.8 438.1h.3M421.2 432.3h.3M405.3 432.9h.3M442.2 432.5h.3M425 435.1h.3M419.3 435.2h.3M451.9 426.7h.3M426.6 436.1h.3M436.3 432.1h.3M426.7 428.4h.3M448 422.7h.3M422.3 434.7h.3M403.8 439.2h.3M428.1 436.7h.3M405.4 430.9h.3M444.1 431.3h.3M454.4 437.4h.3M435.3 433.4h.3M435.1 438.9h.3M404.6 427.7h.3M408.6 437.4h.3M417.6 438.8h.3M454.2 431.6h.3M403.7 422.4h.3M416.1 436.7h.3M453.8 429h.3M425.5 433h.3M433.4 431.6h.3M437.2 438.9h.3M412.3 433.6h.3M411.9 444.4h.3M443.8 431.7h.3M451.2 438h.3M435.7 432.7h.3M406.8 438.3h.3M449.2 436.3h.3M427.6 436.9h.3M452.5 437.8h.3M446.6 435.4h.3M433.8 429.8h.3M435.2 440.1h.3M442.4 432.6h.3M419.3 442.6h.3M413.6 431.1h.3M418.6 435.4h.3M427.4 426.2h.3M454.3 434.7h.3M416.8 433.9h.3M437.7 427.3h.3M435.7 429.5h.3M421.8 432.8h.3M403.7 444.7h.3M457.7 435.4h.3M403.8 410.3h.3M413.8 437h.3M422.1 437h.3M449.5 426.2h.3M456.3 428.4h.3M408.4 431.2h.3M450.7 431.4h.3M456 427.1h.3M404.9 428.3h.3M419 429.2h.3M418.8 438.5h.3M405 432.1h.3M429.2 434.8h.3M455 438h.3M415 437.5h.3M415.4 434h.3M415.6 411.2h.3M415.6 446.5h.3M441.3 425.2h.3M445.6 424.5h.3M428.3 425.7h.3M461 429.9h.3M418.5 437.6h.3M410.1 440h.3M428.6 435.3h.3M440.8 437.9h.3M403.6 430.6h.3M427.5 433.2h.3M443 435.4h.3M419.9 433.7h.3M461 429.3h.3M408.3 430.1h.3M427.6 434h.3M414.1 439.4h.3M408.5 437.6h.3M435.3 423.5h.3M449.7 436.8h.3M420.1 426h.3M460.8 441.5h.3M403.9 422.6h.3M403.7 428.3h.3M403.4 430.9h.3M456.1 431.1h.3M430.7 441.2h.3M446.2 434h.3M448.2 437.3h.3M402.5 430.5h.3M456.3 428.9h.3M434.4 424h.3M409.6 432.6h.3M435.5 426.3h.3M437 432h.3M415.4 427h.3M457.4 432.7h.3M453.8 440.8h.3M449.1 441.3h.3M450.4 442.2h.3M428.2 436.6h.3M429.3 435.9h.3M454.3 441.8h.3M458.2 426.7h.3M431.9 440.3h.3M427.9 430.5h.3M422.2 436.3h.3M403 423.6h.3M428.8 433.8h.3M441.8 433h.3M449.7 433.2h.3M422 434.6h.3M408.2 432.4h.3M433 446.8h.3M456.3 437.4h.3M412.3 443.9h.3M428.3 433.2h.3M435.2 430.5h.3M413.1 428.5h.3M428.4 438h.3M421.9 427.4h.3M436.4 431.5h.3M417.4 436.9h.3M403.4 428.7h.3M435.9 431.6h.3M451.2 438.6h.3M442.5 430.1h.3M429.5 432.8h.3M417.4 428.3h.3M450.5 438.4h.3M425.8 423.8h.3M404.6 435.5h.3M435.1 433h.3M442 427.5h.3M415.2 432.7h.3M448.6 435h.3M449.6 443.7h.3M432.2 434h.3M428.3 436.1h.3M416.2 440h.3M404.8 430.5h.3M452.3 432.8h.3M435.8 440.6h.3M425.1 436.7h.3M461.4 438.9h.3M441 435.8h.3M442.2 428.8h.3M451.6 446.6h.3M456.5 431.4h.3M409.4 429.6h.3M454.2 432.6h.3M419 436.1h.3M427.8 442.4h.3M413.1 430.3h.3M450.1 437.7h.3M407.7 428.3h.3M421.8 416.6h.3M449.6 434.6h.3M450.5 425.4h.3M422.5 436.2h.3M420.6 422.4h.3M427.3 431h.3M440.2 420h.3M426.1 432.7h.3M428.8 427.2h.3M431.8 427.2h.3M440.6 432.1h.3M456.2 438.8h.3M420.4 439.4h.3M405.4 442.9h.3M422 432h.3M428.1 431.4h.3M420.3 442.6h.3M416.4 446.9h.3M413.9 420.3h.3M427.1 429.7h.3M406.2 431.4h.3M419.7 431.6h.3M411.6 425h.3M452.7 428.2h.3M451 443.3h.3M403.6 423.9h.3M419 438.5h.3M437.2 428.6h.3M457.4 438.9h.3M418.6 432.1h.3M406.9 436h.3M403.5 425.6h.3M429.1 425.3h.3M411 433.9h.3M441.9 426.4h.3M449.4 427.1h.3M458.6 426.7h.3M435.6 426.2h.3M455.1 433.7h.3M421.9 436.2h.3M404.9 435.4h.3M412.9 435.2h.3M408.8 439h.3M445.6 429.4h.3M423.3 439.3h.3M418.2 434.1h.3M422.9 431.8h.3M405.1 433.2h.3M440.1 439.1h.3M417.9 429.7h.3M415.6 424.5h.3M433.5 430.4h.3M412.6 436.1h.3M408.8 425h.3M421.9 440.7h.3M412.1 433.8h.3M439.3 432.1h.3M432.1 441.4h.3M410.8 436.1h.3M446.6 424.1h.3M433.8 435.4h.3M406.5 427.1h.3M414 428.4h.3M459.7 427h.3M427.5 433.9h.3M456.3 431h.3M420.4 426.5h.3M453.9 436.6h.3M450.5 430h.3M409.6 432.8h.3M448.5 431.4h.3M447.3 441.8h.3M405.5 425.9h.3M458.7 422.1h.3M416.2 446.3h.3M407.4 428.4h.3M439.6 429.9h.3M453.9 430.4h.3M433.2 431.9h.3M458 437.4h.3M457.5 436h.3M434.7 431.1h.3M458.4 436.6h.3M447 428h.3M461.5 431h.3M405 429.1h.3M435.5 430.2h.3M435.2 424.8h.3M415.5 440.3h.3M431.8 419.4h.3M456.1 433.5h.3M407.9 437.1h.3M435.6 432.8h.3M426.7 436.9h.3M426.3 430.5h.3M405 433.1h.3M412.1 431.7h.3M427.8 424.8h.3M418.1 432.7h.3M436.9 429.1h.3M421.9 434.3h.3M435.2 430.3h.3M449.9 433.6h.3M457.6 417.4h.3M408.3 429.5h.3M441.7 432.4h.3M442.2 424h.3M416.7 436.2h.3M453.7 434.9h.3M449.7 439.2h.3M428.8 430.6h.3M427.7 436.8h.3M421.1 423.6h.3M424 441.9h.3M421.5 434.4h.3M458 439.4h.3M432 428.8h.3M428.3 434.2h.3M439.5 427.1h.3M441.5 437.4h.3M431.8 430.2h.3M456.1 434.3h.3M441.5 435.3h.3M403.8 428.8h.3M461.3 426h.3M421.1 431.8h.3M431.1 428.5h.3M444.8 435.4h.3M421.9 428.9h.3M420.5 431h.3M435.4 436.3h.3M454.7 442.2h.3M419.2 437.2h.3M459.8 431.1h.3M408 426.7h.3M443.2 428.3h.3M417.9 424.9h.3M437.4 436.7h.3M414.7 432.2h.3M420.5 426.9h.3M435.4 433.5h.3M417.9 425.9h.3M440.3 428.3h.3M449.3 434.5h.3M403 426.6h.3M421.1 442.6h.3M449.4 438h.3M415.4 433.7h.3M419.1 437h.3M419.2 436.4h.3M442.6 433h.3M457.8 423.3h.3M422.1 434.8h.3M411.5 430.6h.3M404.3 424.2h.3M442.6 432.2h.3M408.8 435.5h.3M445.1 441.4h.3M431.9 433.6h.3M413 424.6h.3M455 430.3h.3M445.4 440.5h.3M406.8 433.1h.3M409.7 431.1h.3M442.3 426.6h.3M415.5 428.7h.3M431.8 433.3h.3M452.8 417.7h.3M433.4 431.9h.3M413.1 446.7h.3M452.9 431.4h.3M449.4 425.1h.3M461.2 439.3h.3M422.1 424.5h.3M410.9 433h.3M422.4 440.5h.3M443.4 434.1h.3M450.8 427.1h.3M410.9 430.6h.3M403.6 446.4h.3M419.6 430.3h.3M414.8 433.6h.3M459.7 436.7h.3M448 441h.3M456.5 434h.3M454.6 437.7h.3M404.7 433.3h.3M457.7 432.7h.3M458.1 429h.3M422.1 433.8h.3M419.9 443.2h.3M422.3 432.1h.3M422.1 433.2h.3M408.7 432.4h.3M461.1 438.7h.3M418.5 440.5h.3M411.9 430.3h.3M406.8 433.8h.3M425.2 428.3h.3M430.9 438.9h.3M409 433.1h.3M415.3 424.6h.3M412.1 430.6h.3M443.4 440.4h.3M409.8 438.1h.3M410.4 436.7h.3M457.6 433.7h.3M408.1 420.9h.3M431.8 422.8h.3M443.3 429.5h.3M421.7 442.6h.3M449.8 434h.3M403.8 433.6h.3M408.5 435.5h.3M449.9 427.4h.3M458.6 428.5h.3M435.2 433.4h.3M417.6 442.4h.3M425.2 436.3h.3M412.3 427h.3M457.8 432h.3M433.4 430.6h.3M404.8 443.8h.3M419.1 439.1h.3M452.3 429.8h.3M415 408.4h.3M409.3 432.9h.3M436.8 434.3h.3M448.2 433.7h.3M428.9 429.9h.3M456.4 439.8h.3M428.5 439h.3M435.2 430.4h.3M455.4 434.8h.3M458.3 434.2h.3M461 445h.3M418.8 441.7h.3M459.6 430.9h.3M448.3 431.8h.3M458.5 430.9h.3M407.4 429.4h.3M435.3 436h.3M421.1 430.2h.3M415.5 442.2h.3M403.2 430.5h.3M410.2 433.8h.3M457.9 431.4h.3M419.1 432.4h.3M455.6 429.7h.3M425.3 435.7h.3M423.4 427.8h.3M416 424.7h.3M411.6 441.4h.3M431.8 433.2h.3M451 442.3h.3M407.9 440.5h.3M407.5 439.8h.3M410.1 426.7h.3M459 436.9h.3M408.9 433.1h.3M424.9 428.9h.3M421.8 437.9h.3M414.1 428.5h.3M439.3 431.9h.3M412.3 437.7h.3M452.7 431h.3M407.9 433.2h.3M423.4 428.6h.3M456.3 428.3h.3M446.9 427.5h.3M425.6 425.7h.3M436.3 431.4h.3M423.1 431.7h.3M454.2 431.6h.3M428.2 433.1h.3M434.3 431.3h.3M458.4 437h.3M439.7 434h.3M427.9 430.9h.3M431.6 432.4h.3M449.7 434.6h.3M431.2 424.8h.3M405.6 444.2h.3M419.6 432.4h.3M424 428.2h.3M433.6 431.8h.3M442.2 442.2h.3M429.9 432.6h.3M420.9 438.8h.3M449.1 433h.3M420.5 431.8h.3M422 438.4h.3M461.2 434.2h.3M443.9 421.6h.3M458.7 434.3h.3M408.7 425.2h.3M453.6 419.6h.3M461.4 437h.3M416.5 426.4h.3M421.8 450.2h.3M419.4 437.5h.3M441.9 422.4h.3M421.9 429.7h.3M427.8 423.3h.3M423.3 431h.3M414.1 438.2h.3M447.7 422.9h.3M455 433h.3M417.9 429.9h.3M424.3 428.7h.3M457.9 430.8h.3M453.8 431.6h.3M435.3 435.7h.3M431.8 424.9h.3M403.2 434.9h.3M458 436.1h.3M422.3 437.1h.3M420.3 441h.3M456.2 428.7h.3M429.8 423.7h.3M452.9 432.8h.3M409 431.4h.3M424 429.7h.3M421.6 433.8h.3M443.1 433.5h.3M428.2 425.9h.3M412.9 429.4h.3M458.2 430.8h.3M430.6 434.9h.3M415.7 424.9h.3M454 426.5h.3M420.6 440.4h.3M431.3 437.5h.3M448.2 435.3h.3M445.5 438.3h.3M413.6 437h.3M419.2 431.2h.3M410.5 438.5h.3M404.7 432.2h.3M451.9 431.4h.3M429.9 444.9h.3M433.7 432.8h.3M412.4 431.9h.3M454.4 431.1h.3M451.9 437.3h.3M405 436.1h.3M454.5 430.7h.3M419 433.1h.3M409.5 429.1h.3M432.9 432.4h.3M424 438.9h.3M415 426.6h.3M414 434.9h.3M436.3 426.8h.3M451.2 447h.3M421.1 428.6h.3M452.4 437.6h.3M456.2 421.6h.3M415.6 433.1h.3M435.1 438.8h.3M432.7 430h.3M414.3 432.2h.3M456.6 434.2h.3M421.8 423.6h.3M454.6 415.1h.3M434.5 443.3h.3M440 440.6h.3M403.2 432.4h.3M432.2 429.5h.3M412 425.8h.3M412.2 441.8h.3M425.2 428.7h.3M435.2 437.8h.3M425.6 432.7h.3M433.4 425.4h.3M426.2 429.8h.3M435.7 434.9h.3M403.6 422.6h.3M454 430.4h.3M456.2 420.5h.3M445 434.5h.3M435.1 421.9h.3M404.7 427.8h.3M422.1 438.8h.3M437.3 434.1h.3M423.8 431.6h.3M443.8 432h.3M455.8 426.7h.3M430.9 440.5h.3M459.9 429.8h.3M457.9 426.9h.3M456.6 439.2h.3M445.6 426.3h.3M419.2 429.3h.3M428.4 436.9h.3M419.4 436.5h.3M421.8 433.6h.3M441.8 426h.3M408.6 431.1h.3M461.5 425h.3M454.7 431.5h.3M406.4 429.7h.3M433.2 442.1h.3M435.3 433.5h.3M442.6 437.3h.3M456.4 444h.3M436.2 429.1h.3M402.9 430.6h.3M413.7 435.9h.3M413.4 438.2h.3M408.7 433.8h.3M457.6 434.1h.3M420 434.1h.3M460.2 435.1h.3M411.2 430.9h.3M416.2 438.4h.3M439.6 430.1h.3M415.2 433.8h.3M436.3 435.3h.3M425.9 428.4h.3M415.3 439h.3M413.1 433.5h.3M439.5 423.3h.3M446.6 430.5h.3M412.8 427h.3M414.4 434.7h.3M451.6 432.9h.3M449.3 426.9h.3M449.5 427.2h.3M431.1 433.4h.3M412.6 433.4h.3M403.7 432.6h.3M416.3 434h.3M435.5 430.9h.3M437.1 447.9h.3M423.5 427.5h.3M440.2 431.8h.3M408.2 428.4h.3M456.3 434.8h.3M431.5 435.9h.3M431.9 440.6h.3M414.3 436.2h.3M449.7 431.1h.3M453.4 421.5h.3M435.1 433.8h.3M419.7 427.6h.3M403.3 434.3h.3M418.9 445.1h.3M458.5 441.6h.3M419 439h.3M430.4 432.4h.3M428.1 423.2h.3M457.7 431.1h.3M435.4 431.6h.3M450.6 431.7h.3M448.6 436.9h.3M403.2 436.9h.3M418.8 446.7h.3M430.2 438.3h.3M418.8 437.6h.3M446.3 431h.3M456.2 440h.3M450.7 429.5h.3M428.4 423.1h.3M445.4 442h.3M452 433.5h.3M409.3 430.4h.3M445.8 424.9h.3M458.2 433.2h.3M407.8 437.7h.3M437 432.1h.3M441.4 439.5h.3M437.7 426.6h.3M412.1 436.9h.3M422.4 431.6h.3M446.6 422h.3M407 433.9h.3M420.5 435h.3M440.5 441.4h.3M415.5 438.5h.3M439.3 445.3h.3M429.1 431.6h.3M403.3 432.2h.3M433.5 437.8h.3M435.5 429h.3M412.3 434.1h.3M403.9 425.3h.3M425.3 432.7h.3M408.6 436.2h.3M402.8 434.9h.3M403.3 430.6h.3M428 432.4h.3M448.1 434.9h.3M408 423.4h.3M430 432.4h.3M445.5 430.6h.3M451.1 432.7h.3M443.9 432.1h.3M439.7 428.7h.3M445.1 440.2h.3M454.1 420.6h.3M430.6 432.8h.3M420.7 422.8h.3M459.6 439.5h.3M407.7 436.6h.3M461.1 435.6h.3M420.5 433.5h.3M405.2 441.7h.3M425.1 433h.3M427.9 445.3h.3M407.7 438.7h.3M417.8 429.9h.3M435.6 448.3h.3M454.1 421.8h.3M461 441h.3M457.8 431h.3M422.6 430.9h.3M427.6 444h.3M437.1 427.5h.3M449.6 441.6h.3M406.8 444.4h.3M454.3 424.6h.3M449 434.9h.3M426 430.9h.3M405.1 433.6h.3M453.8 420.9h.3M456.5 431.2h.3M408.7 431.6h.3M415.6 436.1h.3M433.7 438.7h.3M456.8 438h.3M412.5 428.7h.3M404.7 420.7h.3M419.8 438.2h.3M418.7 421.9h.3M419.9 439.2h.3M414.6 425.7h.3M431.8 437.9h.3M422.1 426.9h.3M407.5 433.8h.3M437.9 420.5h.3M427.8 424.2h.3M425.8 433h.3M420.4 441.9h.3M461.4 439h.3M436.4 427.2h.3M419 433.1h.3M424.1 417.7h.3M424 429.9h.3M443.7 436.3h.3M405 424.1h.3M403.2 435.2h.3M433.4 430.9h.3M419.5 426.3h.3M408.1 435h.3M432.2 432.8h.3M439.6 434.4h.3M433.6 432.9h.3M461.2 434.6h.3M452 429.9h.3M405.1 430.4h.3M420.5 437.5h.3M433.1 439.2h.3M437.7 430.8h.3M413.5 432.6h.3M408.8 436.2h.3M431.6 431.5h.3M419.2 437h.3M456.6 431.3h.3M418.8 428.2h.3M427.9 421.7h.3M403.3 436.5h.3M412.5 433.3h.3M449.5 422.1h.3M430.1 429.8h.3M422.4 437.2h.3M454 434.2h.3M421 434.3h.3M426.3 429.4h.3M449.5 431.3h.3M425 441.1h.3M444.9 429.1h.3M435 446.9h.3M445.1 420.7h.3M407.9 433.9h.3M418.6 441.4h.3M443.4 428.3h.3M408.5 437.2h.3M450.9 430.5h.3M436.1 429.8h.3M402.8 430h.3M413.2 434.2h.3M435.9 433.7h.3M441.6 420.7h.3M444.2 437.8h.3M422.2 427.9h.3M457.7 410.3h.3M408.8 429.5h.3M431.9 434.1h.3M418.2 439.8h.3M438.5 433.4h.3M443.1 434.8h.3M427.4 431h.3M449.6 438.6h.3M429.9 434.9h.3M405.2 430.4h.3M427.3 434.3h.3M428.9 436.9h.3M454.4 439.3h.3M435.8 428.8h.3M453.8 441h.3M450.7 426.1h.3M416.8 443.7h.3M422.4 435.4h.3M426.7 436.9h.3M454.8 429.2h.3M422 439h.3M413.8 434.8h.3M421.7 432.3h.3M456.3 435.8h.3M404.8 433.1h.3M419.2 438.5h.3M439.9 432.4h.3M440.6 421.7h.3M439.1 443.7h.3M421.9 428.3h.3M435.8 434.1h.3M415.5 426.7h.3M420.4 437.4h.3M416 438.6h.3M445 440.6h.3M432.2 431.1h.3M449.5 428.6h.3M403.6 443.6h.3M428.9 431.1h.3M426.6 431.7h.3M421.7 424.8h.3M410 442.2h.3M447.5 423h.3M420.2 436.2h.3M422.4 433.2h.3M420.1 429.7h.3M441.9 433.4h.3M434.7 436.9h.3M443.2 440.2h.3M407.8 434.6h.3M408.8 433.3h.3M453.9 426.9h.3M425 428.1h.3M433.3 432.6h.3M436.6 433.9h.3M435.4 440.5h.3M435.5 435.2h.3M443.7 436.4h.3M449.7 434.2h.3M435.5 439h.3M431.9 433.8h.3M461.6 427.7h.3M451.8 428h.3M421.7 414.2h.3M412 433.8h.3M406.6 434.2h.3M408 432.9h.3M442.7 431.3h.3M427.9 436.7h.3M454.4 435.5h.3M405.1 437.5h.3M458 431.5h.3M439.2 430.6h.3M418.9 430h.3M414 432.9h.3M407.1 412.6h.3M427.6 426.9h.3M410 426.7h.3M413 434.4h.3M404.9 440.6h.3M420.7 429.3h.3M449.1 429.5h.3M452.1 428.5h.3M442.6 430.2h.3M436 432.5h.3M420.3 435.3h.3M405.1 435.6h.3M460.5 438h.3M404.1 437.7h.3M447 433.1h.3M455.2 431.2h.3M447.8 433.1h.3M435.1 430.7h.3M431.4 444.3h.3M403.6 426.6h.3M458.1 435.6h.3M403.9 425.9h.3M421.6 425.5h.3M419.7 426.7h.3M405.2 432.5h.3M420.5 421.7h.3M460.4 435h.3M425.9 424.2h.3M419.9 434.6h.3M422.6 429.2h.3M415.2 428.2h.3M458.4 432.2h.3M446.4 436.8h.3M422.3 434.6h.3M443.4 422.2h.3M454.8 433.6h.3M411.5 437.7h.3M416.2 435.4h.3M430.1 434.9h.3M448 433.4h.3M448.3 428.6h.3M460.8 433.7h.3M416.3 427.9h.3M433.7 427h.3M456.4 428.5h.3M418.9 444.8h.3M448 434h.3M456.2 435.7h.3M455.7 440.1h.3M420.9 431.9h.3M425.7 423.5h.3M422.4 432.4h.3M458.2 436.7h.3M454.5 431.6h.3M454.1 436.6h.3M431.7 426.5h.3M411.9 443h.3M407.7 434.8h.3M429.1 434.7h.3M456.2 432.6h.3M448.9 424.9h.3M423.7 437.8h.3M412.2 431.3h.3M435.8 436h.3M403.9 432.5h.3M450.8 435h.3M433.7 428.8h.3M406.4 432.5h.3M412.5 428.9h.3M445.4 437.8h.3M403.9 438.1h.3M448.7 428.8h.3M437.1 436.1h.3M460.5 429.7h.3M457.6 434.1h.3M440.7 431.4h.3M411.8 424.3h.3M429.7 435.3h.3M452.1 437.5h.3M457.7 430.2h.3M428.4 428.4h.3M458.1 436h.3M428 427h.3M446.6 430.1h.3M407.9 426.3h.3M408.1 434.9h.3M422.1 435h.3M456.5 434.4h.3M432.8 428.5h.3M442.3 440.1h.3M454.1 432.6h.3M443.8 438.8h.3M426.9 438h.3M433.7 433.8h.3M420 433.5h.3M412.4 429.2h.3M445.7 432.7h.3M412.5 421.5h.3M424.2 440h.3M408.4 432.8h.3M455.5 437.9h.3M412 435.3h.3M454.8 429.3h.3M405.2 425.6h.3M440.8 429h.3M431.9 434.9h.3M411.7 440.3h.3M423.2 433.6h.3M412.9 419.3h.3M433.4 438.8h.3M432.3 431.5h.3M425.6 429.5h.3M445.7 435.7h.3M411.4 438.5h.3M408.5 432h.3M432.8 439.5h.3M425.2 428.3h.3M443.8 436.5h.3M449.3 427.7h.3M435.6 436.9h.3M419.2 436.1h.3M456.4 432.3h.3M446.8 437.4h.3M454 426.6h.3M421.2 440.2h.3M436.9 436.6h.3M409.8 414.5h.3M445.2 439h.3M452.3 420.2h.3M427.6 432.6h.3M454.6 429.2h.3M403.4 435.6h.3M412.3 445h.3M450.9 432.7h.3M452.4 428.6h.3M404.1 429h.3M450.7 437.3h.3M459.6 432.5h.3M435.7 438.7h.3M435.8 434.3h.3M421 436.9h.3M418.8 432.1h.3M442.4 431.1h.3M458.5 429.8h.3M446.5 428.8h.3M450.9 431.6h.3M419.7 430.9h.3M440.1 440.1h.3M412.3 434.3h.3M427.8 432h.3M413.1 436.3h.3M433.6 426.1h.3M424.4 441h.3M413.5 433.3h.3M461.3 435.6h.3M454.7 438h.3M449.1 425.4h.3M445.1 431.6h.3M433 438.1h.3M403.4 430.7h.3M406.4 428.8h.3M428.1 435.8h.3M433.2 438.3h.3M431.6 436.4h.3M449.6 436.2h.3M457.9 435.6h.3M410.5 437.6h.3M428.1 441.6h.3M461.4 430.2h.3M432.4 437.7h.3M446.4 437h.3M407.4 429.4h.3M410.2 417h.3M454.2 437.1h.3M415.6 431.9h.3M412.8 436.5h.3M455 423.6h.3M443.9 441.5h.3M440.3 435.4h.3M412.7 423.1h.3M403.7 438.6h.3M419.4 441.4h.3M419.8 434.7h.3M430.7 431.7h.3M439.5 431.9h.3M408.2 437.2h.3M445.2 437.3h.3M414.3 428.1h.3M444.7 444.9h.3M457.8 426.8h.3M455.1 435.6h.3M440.6 430.6h.3M435.1 430.3h.3M420.5 437.2h.3M403.5 427.4h.3M432.1 431.5h.3M451.6 437.9h.3M438.7 431.6h.3M436.2 432.3h.3M432 426.3h.3M442.4 439.9h.3M449 432.9h.3M435.7 430h.3M443.3 436.1h.3M448.6 434.5h.3M431.7 426.5h.3M413.2 426.9h.3M447.8 426.6h.3M441.7 435.1h.3M449.7 415.2h.3M411.9 429.9h.3M416.5 437.6h.3M457.8 434.1h.3M404.6 427.9h.3M454.7 435.9h.3M449.9 433.7h.3M426.7 430.4h.3M444.4 435.8h.3M442.3 442.6h.3M431 430.6h.3M434.8 439.4h.3M409.8 437.2h.3M412.6 430.5h.3M453.7 424.6h.3M404.1 428.9h.3M449.9 438.5h.3M412.3 426.7h.3M434.6 424.8h.3M456.2 430.5h.3M458.1 436.5h.3M437.3 433.6h.3M403.1 431.5h.3M456.3 429.7h.3M440 436.4h.3M410.8 432.7h.3M435.8 435.8h.3M428.1 430.1h.3M421.8 427.9h.3M454 424.9h.3M412.9 441.3h.3M446.7 435h.3M414.2 430.3h.3M426.5 444.9h.3M454.9 434.5h.3M454.7 441.5h.3M449.5 438.5h.3M409.8 422.7h.3M457.9 436.9h.3M412.7 435.3h.3M430.7 436.4h.3M409.1 430.5h.3M404.3 433.2h.3M458.9 442.4h.3M425.9 431.3h.3M415.7 432.6h.3M406.5 429.5h.3M457.4 431.1h.3M450.2 434.7h.3M441.6 431.1h.3M432.9 437.6h.3M430.7 437.2h.3M453.7 429.5h.3M433.2 433.3h.3M448.5 434.8h.3M435.7 429.6h.3M460.4 435.1h.3M457.8 434.9h.3M433.5 427.5h.3M414.1 434.5h.3M425.6 433.3h.3M450.5 430.7h.3M444.1 432.3h.3M441.7 437.2h.3M444.1 429.2h.3M428.7 433.2h.3M427.3 421.4h.3M415.3 428.9h.3M446.6 440.8h.3M455.6 426.6h.3M415.3 428.9h.3M442.1 435.9h.3M426.9 437.6h.3M433.2 439.5h.3M435.1 438.8h.3M454.5 430.6h.3M435.6 432.2h.3M442.2 441.1h.3M450.4 431.1h.3M431.7 436.7h.3M452.3 440.1h.3M458.1 441.9h.3M407.3 426.1h.3M405.7 434.8h.3M449.7 440.3h.3M419.1 433.5h.3M432.7 426.8h.3M435.6 437.8h.3M415.1 426.1h.3M433.2 428.8h.3M454.7 428.2h.3M441.9 431.2h.3M453 425.8h.3M435.3 424.4h.3M456.6 429.7h.3M461 430.3h.3M406.4 424.8h.3M410.2 429.2h.3M450.9 437h.3M442.3 427h.3M416.8 438.3h.3M435.6 438.8h.3M429.8 435.8h.3M458.4 440.3h.3M444 436.3h.3M455.9 430.7h.3M411.1 408.6h.3M457.2 434.3h.3M447.9 436.2h.3M445.3 434.9h.3M403.5 433.6h.3M412.8 431h.3M405 435.7h.3M441.5 442.1h.3M412.7 436.4h.3M453.7 436h.3M449.7 443.1h.3M435.6 432.3h.3M416.4 428.1h.3M449.9 431.2h.3M437.4 438.3h.3M455.6 430.2h.3M412.6 435h.3M407.8 441.6h.3M456.5 432.1h.3M403.7 422.1h.3M408.7 433h.3M434.6 433.4h.3M402.8 439.8h.3M445.1 427.5h.3M426.5 430.2h.3M411.8 423.9h.3M457.5 439h.3M404 440h.3M421.8 437.3h.3M461.4 426.6h.3M409 430.8h.3M417.8 429.8h.3M437 426.1h.3M421 440.9h.3M426.5 430.1h.3M435.2 436.4h.3M458.6 427.1h.3M439.8 431.2h.3M418.8 432.7h.3M457.4 433.3h.3M442.2 428.2h.3M456.3 407.9h.3M405 430.9h.3M407.7 439.9h.3M454.2 442.3h.3M460.9 426.4h.3M438.7 435.6h.3M416.4 438.5h.3M451 430.9h.3M435.3 436.4h.3M422.2 437.9h.3M419.5 434.1h.3M403.3 432h.3M403.3 432.1h.3M408.8 445.7h.3M415.3 438h.3M431.5 435.4h.3M426.7 436.8h.3M402.5 444.5h.3M413.4 432.7h.3M435.8 434.3h.3M414 442.4h.3M448.3 436.2h.3M441.4 435.3h.3M416.4 430.7h.3M433.6 433.1h.3M442.3 436.6h.3M454.2 432.2h.3M442.9 428.9h.3M445.9 441.6h.3M405.4 436.3h.3M449 429.3h.3M409.7 439h.3M440.5 442.3h.3M409.8 429.2h.3M415.2 431.2h.3M420.7 427.6h.3M449.3 429.8h.3M440 428.6h.3M431.8 433.4h.3M456.3 433.8h.3M419.5 432.4h.3M407.9 431.8h.3M417.5 439.7h.3M418.1 413.2h.3M443.9 437.1h.3M413.1 417h.3M427.5 436.4h.3M407.9 415.1h.3M408.8 430.3h.3M428.2 438.2h.3M416.1 422.8h.3M439.8 436h.3M422 434.3h.3M454.9 435.3h.3M427.4 434.5h.3M457.5 432.2h.3M457.7 424.5h.3M457.7 431h.3M406.7 431.5h.3M425.2 424.8h.3M440.1 424.7h.3M450.9 432.4h.3M429.1 432.5h.3M446.7 421.9h.3M439.3 431.9h.3M412.9 427.8h.3M424.6 429.5h.3M415.6 429.1h.3M441.4 434.3h.3M450 441.3h.3M422.7 424.8h.3M418.7 440.5h.3M449.9 435h.3M459.3 443h.3M436.4 440.7h.3M433.8 428.4h.3M459.8 431.5h.3M424 436h.3M403.3 433.2h.3M423.9 438.1h.3M419.5 437.1h.3M427.6 435.2h.3M427.7 438.5h.3M410.5 436.1h.3M408.5 423.8h.3M433.1 435.5h.3M451.7 432.7h.3M456 426.5h.3M412.5 431.5h.3M443.7 430.7h.3M405.1 444.8h.3M419.5 432.9h.3M437.1 428.3h.3M426 441.1h.3M449.1 434.8h.3M437.9 434h.3M420.6 423h.3M424 433.5h.3M422.1 432h.3M434.6 433.4h.3M434.5 430.2h.3M451.9 436.6h.3M428.7 428.8h.3M405.2 431.8h.3M408.5 439.3h.3M448.4 437h.3M420 437.1h.3M419.1 435.8h.3M445.7 432.3h.3M413.3 436.6h.3M427 428.1h.3M437 443.9h.3M460.8 442.7h.3M456.3 436.4h.3M458.1 423.3h.3M412.6 426.2h.3M452.4 427.7h.3M453.8 430.8h.3M416.1 434.6h.3M428 432.9h.3M445.3 438.9h.3M435.3 434.1h.3M426 436.7h.3M439.6 435.1h.3M424.1 440.5h.3M429.4 429.3h.3M420.4 431.9h.3M459.3 434.4h.3M432 431.3h.3M454.5 431.2h.3M421 435.6h.3M440.6 430.4h.3M442 435.6h.3M431.4 430.3h.3M418.2 430.8h.3M427.7 448.7h.3M412.2 431.7h.3M417.8 434.8h.3M456.3 419.6h.3M431.9 439.6h.3M429.2 437.5h.3M449.5 419.2h.3M423.9 426.5h.3M438.2 437.2h.3M431.8 436.6h.3M404.9 447.7h.3M409.7 442.4h.3M457.8 426.4h.3M415.5 434.8h.3M413.1 426.1h.3M448.4 434.3h.3M448.2 434.5h.3M453.8 431.2h.3M456.3 428.7h.3M443.4 432.3h.3M460.4 427.8h.3M431.6 435.2h.3M442.7 432.5h.3M436.9 429.8h.3M427.7 432h.3M435.1 433.2h.3M428.9 439.8h.3M415 430.7h.3M420.2 434h.3M427.6 429.1h.3M405.5 427.3h.3M449.8 433.4h.3M418.6 433.4h.3M440.2 429.8h.3M403.6 434.2h.3M443.6 431.4h.3M413 429.7h.3M456.4 424.8h.3M408.9 436.7h.3M405 432.2h.3M457.6 434h.3M458.2 434.6h.3M461.6 436.8h.3M403.3 432.9h.3M434.7 437h.3M443.6 437.4h.3M408.4 437.8h.3M461 433.2h.3M451.6 435.5h.3M424.5 434.2h.3M415.9 423.5h.3M416.1 427.7h.3M418.6 433.5h.3M409.3 430.9h.3M422.3 428.7h.3M426.6 429.9h.3M424.7 430.8h.3M459 431.6h.3M428.3 430.3h.3M448.5 439.6h.3M453.7 421.6h.3M450.6 433.3h.3M461 435.3h.3M440.4 436.8h.3M422.1 427.8h.3M408 424h.3M431.9 434.7h.3M412.8 440h.3M427.4 428.9h.3M427.3 432.6h.3M456.7 437h.3M434.9 439.3h.3M461.2 430.5h.3M452.2 437.7h.3M453.5 434h.3M403.5 427.1h.3M440.3 434.5h.3M408.4 443.2h.3M419.3 434.5h.3M417.7 433h.3M432.3 428.2h.3M454.3 434.1h.3M449.6 429.7h.3M422.9 440.5h.3M403.6 436.8h.3M437.4 429.3h.3M456.4 440.1h.3M435.8 433.5h.3M411.5 420.4h.3M446 431.4h.3M405.2 431.1h.3M404.7 432.4h.3M431.8 434.7h.3M446.2 433.3h.3M421.5 439.5h.3M423 433h.3M459.9 436.2h.3M457.7 436.8h.3M415.2 432.1h.3M414.4 432.8h.3M412.5 436.1h.3M435.7 437.6h.3M435.7 432.1h.3M413.7 439.7h.3M454.4 438.9h.3M460.1 440.9h.3M428.2 439.7h.3M408.5 442.3h.3M436.4 429.2h.3M446.8 427.6h.3M456.1 431.2h.3M450.7 435.2h.3M417.5 428.7h.3M410.2 438.1h.3M417.6 429.2h.3M415.3 431.9h.3M445.4 436.1h.3M454.7 437h.3M444.2 427.6h.3M404 424.8h.3M446.6 427.2h.3M410.3 439.4h.3M418.7 442.1h.3M423 429.2h.3M412.2 433.5h.3M420.4 431.4h.3M440 437.8h.3M430.7 435.6h.3M406.5 434.6h.3M413.4 431.6h.3M416.8 435.2h.3M450.2 427.9h.3M449.9 433.9h.3M421.1 442.6h.3M412.1 444.9h.3M431.3 438.8h.3M454.3 432.5h.3M424.5 428.6h.3M431.3 422.7h.3M424 435h.3M429.8 433.5h.3M447.3 423.5h.3M449.9 447.5h.3M449.7 434.4h.3M402.6 435.7h.3M450.8 422.8h.3M442.8 426.6h.3M424 440.7h.3M425.6 438.7h.3M419.3 438.4h.3M409.7 432.8h.3M426.1 430.6h.3M458.1 424.8h.3M458.8 437.7h.3M443.8 440.5h.3M433.3 436.3h.3M422.1 434.7h.3M461 424.1h.3M450.7 437.4h.3M429.3 433.9h.3M438.4 446.4h.3M443 429.8h.3M439.2 423.6h.3M434.5 438.1h.3M456 428.6h.3M445.7 440.6h.3M405.3 430.6h.3M440.4 441.2h.3M421.8 436.8h.3M436.1 435.4h.3M403.7 428.5h.3M446.1 437.5h.3M435.2 428.7h.3M412.9 433.1h.3M427.8 432.3h.3M403.7 439.1h.3M433.3 429.7h.3M435.4 432.6h.3M454.6 434.6h.3M435.3 426.7h.3M420.8 446.7h.3M416.9 430.3h.3M419.4 430.6h.3M437.5 419.8h.3M403.6 425.7h.3M444.1 436.7h.3M421.8 437.3h.3M431 430.7h.3M408.5 428h.3M403 434.2h.3M455.2 437.6h.3M438 432.3h.3M407.1 442.9h.3M411.9 426.8h.3M456.5 425.2h.3M408.7 440.4h.3M408 442.3h.3M425.7 435.7h.3M451.1 439.3h.3M454 440h.3M406 429.1h.3M404.7 430.8h.3M460.1 437.9h.3M424.5 443.4h.3M417.8 432h.3M424.1 426.9h.3M427.1 430.5h.3M443.6 431.7h.3M408.7 421.8h.3M421.9 436.2h.3M418.9 437.4h.3M431.7 439.4h.3M453.6 434.6h.3M431.3 436.8h.3M456.1 432.2h.3M407.7 427.7h.3M455 429h.3M441.7 427.1h.3M424.6 434.2h.3M427 431.3h.3M461.5 440.8h.3M412.5 432.3h.3M407.6 441.6h.3M421.8 435.9h.3M460.3 430.5h.3M413.3 432.7h.3M437.3 434.3h.3M417.6 440.6h.3M422.1 433h.3M453.7 426.2h.3M408.4 437.6h.3M454.4 444.3h.3M435.9 425.5h.3M404.1 436.3h.3M413.1 437h.3M453.9 404.8h.3M416.4 434.3h.3M461 434.9h.3M431.5 429.8h.3M430.6 440.1h.3M440.3 429.5h.3M454.9 435.2h.3M436.7 444.9h.3M456.3 430.4h.3M449.8 429.7h.3M454.5 426.8h.3M427.9 432.2h.3M406.4 428.5h.3M454.7 425h.3M460.5 426.7h.3M420.5 430.5h.3M450.9 426.4h.3M456.8 431.1h.3M423.3 435.2h.3M440.4 431.5h.3M435.3 424.3h.3M422.7 441.5h.3M432.2 430.9h.3M438.5 431.3h.3M413.2 441.5h.3M410.8 441.8h.3M420.7 434.5h.3M431.8 424.9h.3M459.7 439.5h.3M409.1 427.9h.3M416.1 441.3h.3M435.4 437.9h.3M449.8 433.4h.3M433.3 426.5h.3M446.3 419.3h.3M453.3 426.3h.3M409.6 434.3h.3M433.7 440.8h.3M424.1 422.6h.3M461.1 426.9h.3M456.3 438.7h.3M408 431.5h.3M419.3 438.4h.3M424 427.9h.3M430.8 434.7h.3M406.9 426.1h.3M449.3 430.3h.3M437.1 428.9h.3M433.2 423.1h.3M430.9 433.5h.3M415.4 434.3h.3M435.8 428.8h.3M461.1 420.9h.3M450.8 427.6h.3M431.9 443h.3M405 442.4h.3M405.1 436.8h.3M413.4 437.5h.3M415.5 426.3h.3M453.8 430.8h.3M430.1 432.3h.3M453.8 414.2h.3M408.9 432.8h.3M445.2 428.1h.3M435.3 436.9h.3M428.4 429.2h.3M424.5 436.7h.3M403.8 438h.3M440.7 437h.3M421.8 434.4h.3M403 435h.3M460.3 433.5h.3M453.8 432.4h.3M424.4 405.2h.3M440.8 445.9h.3M403.7 437.6h.3M406.8 429.7h.3M405.9 434h.3M413.6 437.8h.3M445.2 438.9h.3M457.8 426.2h.3M445.7 435.2h.3M453.9 434.9h.3M433.8 428.9h.3M456.6 435h.3M416.5 426.9h.3M443.4 428.8h.3M432.1 430.7h.3M456.5 440h.3M435.4 434h.3M452 441.3h.3M436 433h.3M420.1 430.4h.3M422.2 431.7h.3M406.6 440.2h.3M422 427.5h.3M417.2 436h.3M407.9 438.3h.3M454.1 431.5h.3M409.5 446.6h.3M452.3 433.6h.3M449.6 427.7h.3M434 430.4h.3M421.9 441.1h.3M461.1 428.6h.3M440.6 426.8h.3M415.9 431.1h.3M427.8 424.6h.3M457.7 420.6h.3M458.5 433.6h.3M488.6 441.5h.3M471.5 453.7h.3M497.4 452.2h.3M474.6 449.1h.3M491.2 446.7h.3M490 444.9h.3M462.4 439.6h.3M493.2 449.4h.3M481.5 445.7h.3M496.4 449.2h.3M469.3 452h.3M465.4 447.1h.3M491.2 444.7h.3M478.4 446.2h.3M498.9 436.1h.3M492.8 451.1h.3M488.2 442.5h.3M499.8 447.3h.3M482.9 447.7h.3M476.8 456.9h.3M484.6 448.7h.3M482.7 452.3h.3M462.4 445.5h.3M482.1 438.1h.3M504.8 445.6h.3M501.2 449.7h.3M491.2 448.7h.3M490.4 449.5h.3M480 450.5h.3M499.5 450.2h.3M491.2 447.7h.3M468.9 441.2h.3M477.3 450.7h.3M461.9 435.8h.3M461.6 444h.3M479.7 451.9h.3M505.2 445h.3M480.1 448.5h.3M484.2 446.4h.3M498.9 449.7h.3M480.9 447.3h.3M497.7 447.3h.3M478.2 420.2h.3M484 447.7h.3M490.4 446.9h.3M493.9 446.9h.3M500.4 447.8h.3M500.4 445.9h.3M471.8 452.2h.3M500.3 447.1h.3M495.7 450.1h.3M471 443.5h.3M501.6 453.2h.3M492.9 446.4h.3M500.4 443h.3M474.2 454h.3M471.9 449.9h.3M474.8 448.2h.3M478.3 443.6h.3M501.4 451h.3M484.1 450.6h.3M480.4 439.8h.3M492.7 449.2h.3M479.4 446.7h.3M482.2 443.6h.3M484.1 449.9h.3M479.9 447.8h.3M496.1 452.5h.3M479.9 453.4h.3M476.8 452.9h.3M495.1 444.4h.3M494.3 451h.3M474.7 439.6h.3M471.3 443h.3M500 449.8h.3M499.5 450.7h.3M484.3 435.5h.3M478.2 446h.3M490 445.8h.3M496.1 455.8h.3M492.1 452.3h.3M499.9 448.7h.3M483.8 457.1h.3M475.7 440.4h.3M474.9 453.6h.3M471.8 444.8h.3M485.5 456.1h.3M473.3 444.1h.3M502.8 446h.3M483 452.7h.3M490.5 447.1h.3M491 447h.3M473 457.6h.3M477 444.2h.3M498.7 447.3h.3M475.5 441.6h.3M479 447.9h.3M462.1 448.3h.3M497.6 444.7h.3M479.2 446.9h.3M474.9 444.5h.3M478.2 443.8h.3M468.1 442.1h.3M489.6 446.7h.3M478.9 448.4h.3M487.6 441.9h.3M476.9 439.9h.3M496.1 448.6h.3M474.7 454.5h.3M493.9 447.4h.3M468.5 447.6h.3M471.6 459.9h.3M497.2 448h.3M478.8 451h.3M476.3 449.6h.3M467 449.5h.3M463.8 453.2h.3M478.2 440.9h.3M495.8 451.6h.3M492.7 445.1h.3M491.1 451.5h.3M480.2 452.5h.3M500 448.1h.3M485.4 446.8h.3M474.1 444.5h.3M461.8 442h.3M484.8 443.4h.3M480.1 450.1h.3M475.2 440.9h.3M467 453.3h.3M491.1 437.7h.3M468 446.6h.3M499.8 452h.3M493.4 447.3h.3M462.3 451.9h.3M493.6 452.2h.3M473.1 442.7h.3M473 450.5h.3M469.4 441h.3M501.5 448.3h.3M489.7 451.1h.3M500.7 443.9h.3M467.7 444.3h.3M500 447h.3M468.1 446.9h.3M477 447.4h.3M479.9 445.9h.3M471.9 448h.3M492.5 446.2h.3M479.1 455.9h.3M501.1 423.1h.3M502.6 447.3h.3M492.6 447.6h.3M474.6 451.7h.3M488.7 447h.3M499.6 456.3h.3M468.3 459.9h.3M464.2 449.5h.3M503.8 452h.3M485.6 441h.3M470.4 451.5h.3M500.2 456.4h.3M496.3 452.5h.3M474.6 454.1h.3M498 448.3h.3M481.7 444.8h.3M497.7 447.2h.3M462.5 453h.3M484.5 453.6h.3M475.4 445.8h.3M501.2 451.1h.3M492.3 447.1h.3M498.5 444.2h.3M484.5 445.9h.3M495.9 443.9h.3M490.2 447.2h.3M490.4 442.7h.3M480.1 444.1h.3M492.8 450.9h.3M500.4 446.3h.3M501.5 443.1h.3M485.7 445.6h.3M490 447.9h.3M478.4 450.3h.3M501 441.7h.3M485.7 452.6h.3M471.1 450.5h.3M496.4 446.5h.3M478.4 456.8h.3M495 448.6h.3M462.5 458.5h.3M496.9 455h.3M501.4 446.9h.3M463.4 436.7h.3M503.6 447.9h.3M478.2 446.4h.3M483.1 449h.3M463.4 446.8h.3M502.3 446.2h.3M488.3 454.1h.3M479.9 446.6h.3M488.5 445.8h.3M478.3 452.2h.3M490.3 443.7h.3M474.5 450.5h.3M495.9 450.9h.3M471.2 456.4h.3M496.1 439.7h.3M499.6 449.4h.3M463.3 445.2h.3M485.4 455.6h.3M485.5 454.9h.3M473.6 448.2h.3M489.1 453.3h.3M472 442.1h.3M472.3 440.4h.3M471.9 453.7h.3M462.1 451.7h.3M496 450.5h.3M478 430.4h.3M473.1 450.3h.3M490 444.8h.3M499.1 434.3h.3M505.6 444.8h.3M481 438.9h.3M503.6 444.3h.3M465.5 448.9h.3M501.5 452.6h.3M485.1 445.3h.3M476.8 447.8h.3M476.9 447.1h.3M491.4 450.1h.3M480.3 445.1h.3M473.7 451.8h.3M488.6 443h.3M503.3 448.6h.3M496.3 450.4h.3M490.5 445.8h.3M490.2 443.1h.3M484 457.9h.3M476.8 441h.3M500.6 449.1h.3M461.9 441.4h.3M496.7 449h.3M484.4 457.9h.3M493.8 446.2h.3M481.4 444.6h.3M493.3 443.4h.3M504 439.9h.3M483.9 436.1h.3M478.5 450.4h.3M505 439.2h.3M499.7 451.8h.3M484.2 451.2h.3M496.5 453.8h.3M465.7 449.9h.3M489 437.3h.3M491 450h.3M495.3 450.6h.3M471.8 452.2h.3M505.1 447.7h.3M472.8 450.3h.3M496.5 447.7h.3M505.1 441.3h.3M461.9 442.2h.3M480.2 436.9h.3M495.9 443.7h.3M482.3 447.4h.3M503.9 449.8h.3M478.2 440.6h.3M500.9 443.1h.3M500.3 445.2h.3M488.9 445.6h.3M490.6 449.2h.3M482.2 452.4h.3M477.3 445.4h.3M500.6 447.3h.3M498.1 445.1h.3M503.6 442.8h.3M462.8 441.6h.3M501.3 443.8h.3M490.6 449.5h.3M491.6 451.8h.3M490.1 448h.3M499.7 450.2h.3M499.4 453.1h.3M505.4 445.7h.3M493.4 449.6h.3M468 450.1h.3M481.5 452.7h.3M490.8 447.6h.3M463.2 447.9h.3M501.5 453.4h.3M481 452.3h.3M473.2 442.7h.3M501 444.2h.3M493 441.2h.3M497.1 455.3h.3M468.9 443.9h.3M505 450.2h.3M479 427.3h.3M482.5 445.3h.3M471.8 423.1h.3M469.4 454.6h.3M479.8 450.3h.3M477.6 447.9h.3M499.8 445.7h.3M487.3 446.6h.3M478.2 445.8h.3M500.2 446.1h.3M481 454h.3M481.3 444.5h.3M490.2 443.3h.3M471.6 445.2h.3M476.5 448h.3M478.2 452.4h.3M481.6 446.7h.3M478.3 454.2h.3M478.5 449.3h.3M497.7 447.9h.3M476.3 451.5h.3M503.8 451h.3M480 447.1h.3M488.3 447h.3M481.4 447.8h.3M492.2 450h.3M499.6 449.7h.3M474.8 448.7h.3M480.5 442.6h.3M492.1 440.7h.3M493.9 448.9h.3M484.4 453.6h.3M499.3 451.4h.3M461.8 449.2h.3M482.7 445.2h.3M479.7 450.5h.3M471.9 448h.3M484.4 454.9h.3M499 452.8h.3M500 442.3h.3M505.2 449h.3M490.2 449.2h.3M493 447.1h.3M480.8 446h.3M467.6 440.5h.3M492.6 448.3h.3M485 452.1h.3M479.9 452.9h.3M488.5 446.6h.3M491 451.4h.3M468.7 431.7h.3M499.5 449.6h.3M478.2 441.2h.3M479.9 445.2h.3M474.8 451.7h.3M463.1 450.5h.3M474.6 450.4h.3M473 442.4h.3M487.6 446.3h.3M475.1 445.9h.3M488.3 447.2h.3M484.2 447h.3M500.4 451.7h.3M478.2 451.5h.3M463.1 452.8h.3M488.4 447.5h.3M484.2 449.7h.3M496 456.6h.3M478.7 448.8h.3M464.1 452.3h.3M464.9 442.3h.3M474.5 450.2h.3M469.1 441.1h.3M462.7 437.5h.3M485.7 449.3h.3M476.9 441.7h.3M491.2 445.2h.3M495.9 445h.3M500.4 454.3h.3M480.7 450.2h.3M468 447.9h.3M482.9 434.4h.3M484.7 448.8h.3M497.7 447.5h.3M504.3 451.1h.3M485.2 450.8h.3M489.5 450h.3M478.5 446.4h.3M474.4 446.2h.3M478.8 447.6h.3M469 449.3h.3M498.3 450.1h.3M476.9 450h.3M488.3 439.9h.3M478.6 444.6h.3M479.6 445.5h.3M487.7 449.9h.3M503.1 454.7h.3M485.7 450.6h.3M500 444.1h.3M477.8 448.7h.3M483.1 449.6h.3M501.2 445h.3M472.3 443.6h.3M478.3 459.9h.3M505.5 448.5h.3M468.2 455h.3M462.1 453.9h.3M499.2 445.3h.3M462.9 444.4h.3M492 449.2h.3M480.1 457h.3M484.3 446h.3M494.8 449.3h.3M471.9 455.9h.3M485.7 448.1h.3M486.7 449.5h.3M477 440.4h.3M470.7 449.6h.3M478.8 443.9h.3M500.7 450.4h.3M472.6 452.3h.3M496.3 442h.3M496.3 439.3h.3M478.8 447.2h.3M466.6 459.8h.3M466.9 447.1h.3M500.5 444.7h.3M501.3 443.6h.3M490 447.4h.3M493.6 450.7h.3M468.1 449.5h.3M488.5 442.7h.3M483.9 451h.3M480.1 455.3h.3M480.2 448.1h.3M494.8 455.8h.3M496.3 450.3h.3M489 444.5h.3M490.2 448.1h.3M480.2 451.9h.3M505.2 445.1h.3M476.8 445.2h.3M465.5 446.3h.3M494.9 452.5h.3M477.2 449.5h.3M495.6 453.3h.3M488.1 452.8h.3M494.8 450.2h.3M485.2 448.7h.3M479.8 451.2h.3M480.6 455.7h.3M473.1 444.4h.3M479.3 449.7h.3M462.2 445.4h.3M471.7 452.5h.3M467.3 445h.3M466.8 452.8h.3M485.6 438.6h.3M471.9 450.9h.3M500.5 447.3h.3M478.1 454.8h.3M497.6 445.4h.3M501 446h.3M472.7 451.4h.3M471.2 446.6h.3M481.3 448h.3M465.6 452.6h.3M501.2 439.8h.3M470.5 441.3h.3M478.3 444.8h.3M495.9 451.1h.3M475 442.7h.3M493.6 450.1h.3M474.2 451.2h.3M503.7 448.5h.3M469.4 445.6h.3M466.3 447.4h.3M499.7 457.7h.3M467.9 446.7h.3M477.2 446.9h.3M488.7 437.8h.3M474 455.6h.3M465.7 450.2h.3M473.1 444.7h.3M471.7 443.3h.3M489.2 447.9h.3M482.6 449.1h.3M461.8 451.3h.3M500.9 450h.3M501 444.7h.3M499.2 455.3h.3M487.1 448.5h.3M495 445.2h.3M503.7 444.3h.3M497.8 453.9h.3M482.9 449.7h.3M488.6 444.3h.3M502.6 456h.3M496.6 438.8h.3M499.7 454.8h.3M498.7 449.5h.3M470.7 447.3h.3M463.7 449.2h.3M468.5 449.9h.3M496.1 456.4h.3M503.9 452.1h.3M501.3 452.5h.3M500.4 437.9h.3M484.5 447.5h.3M478.8 443.8h.3M471.9 454.7h.3M473.1 453.2h.3M486.9 443.2h.3M481.3 444.8h.3M470.6 453h.3M501.2 459.4h.3M500 454.3h.3M499.5 445.9h.3M495.8 451.9h.3M467.4 444.3h.3M501.1 444.8h.3M479.7 439.4h.3M497.3 451.1h.3M489.3 438.9h.3M500.4 448.3h.3M495.1 455.8h.3M490.4 446.7h.3M487.1 446.5h.3M476.9 450.7h.3M489.5 443.2h.3M505.2 442.3h.3M484.4 417.6h.3M474.1 438.6h.3M479.8 447.1h.3M476.9 445.4h.3M497.9 448.8h.3M476.2 451.8h.3M462.7 447.5h.3M490.2 447h.3M498.8 453.1h.3M502.4 450.4h.3M499 454.9h.3M492.7 438h.3M504.2 453.5h.3M495.1 448.2h.3M478.6 450.5h.3M489 445.6h.3M489.5 447.7h.3M474.7 437.9h.3M499.7 435.2h.3M477.1 448.1h.3M494.2 454.6h.3M505.1 451h.3M499.4 455.8h.3M482.3 448.4h.3M489.1 448.8h.3M478.1 444.2h.3M488.3 447.8h.3M490.2 447h.3M502.5 421h.3M503.8 447.1h.3M474.9 447.9h.3M462.6 453.4h.3M478 449.5h.3M494.2 439h.3M464.7 453h.3M479.1 461.1h.3M493 450.8h.3M484.2 443.1h.3M499.7 445.5h.3M502.3 453.9h.3M488.7 453.6h.3M490.4 450.7h.3M491.4 450.2h.3M480.1 444.7h.3M472.6 448.4h.3M477.1 446.8h.3M494.1 443.1h.3M477.7 443.7h.3M469.4 458.5h.3M496.2 441h.3M474.5 457.8h.3M501 451.4h.3M477.1 446.6h.3M481.4 452.8h.3M496 447.2h.3M476.5 456.7h.3M499.9 445.1h.3M466.8 449.3h.3M462.4 457.6h.3M476.8 444.5h.3M484.1 440.7h.3M496.2 438.7h.3M499.4 440.3h.3M499.3 450.8h.3M498.1 450.1h.3M476.7 456.4h.3M471.6 442.8h.3M484.9 448.3h.3M478.6 453.5h.3M474.9 452.1h.3M491.3 440.3h.3M497.5 450.7h.3M495.2 450.2h.3M499 440.9h.3M489.1 446.1h.3M473 447.4h.3M478.5 457.5h.3M500.1 444.6h.3M481.3 443.3h.3M495.1 447h.3M463 448.9h.3M471.7 443.2h.3M479.9 449.1h.3M487.9 444.1h.3M474.6 452.3h.3M499.5 453.3h.3M480.4 448.8h.3M471.6 445h.3M488.4 447.8h.3M478.4 451.9h.3M501.5 454.4h.3M490.9 458.7h.3M501.6 451.5h.3M462.9 449.8h.3M478.9 451.6h.3M505.7 447.3h.3M486 439.3h.3M488.4 456.2h.3M490.9 449.1h.3M481.3 448.6h.3M501.1 448.5h.3M491.5 451.9h.3M502.6 439.7h.3M503.9 448.2h.3M474.9 448.8h.3M481.8 448.2h.3M482.9 446.9h.3M476.7 447.2h.3M469.4 448.4h.3M491.4 447.9h.3M477.1 459.3h.3M505.4 451.5h.3M469 448.9h.3M472 445.8h.3M499.1 449.3h.3M505.1 447.9h.3M503.9 452.1h.3M478.6 447.5h.3M461.8 451.9h.3M500.2 446.2h.3M463 446.8h.3M464.2 452.2h.3M484.4 456.7h.3M500.5 438.2h.3M471 444.9h.3M463.7 438.4h.3M468 453.6h.3M490.6 435.1h.3M465.4 452.3h.3M480.9 453.4h.3M474.9 453.8h.3M463.9 447.6h.3M493.5 446.2h.3M471.8 459.8h.3M478.4 452.6h.3M480.2 447.4h.3M471.3 448.5h.3M502.5 446.8h.3M505 445h.3M485.6 448.4h.3M479 440h.3M504.9 452.8h.3M488.6 454.9h.3M466.7 442.8h.3M464 453.4h.3M471.8 455.7h.3M486 453.3h.3M477.2 447.8h.3M488.3 447.5h.3M496.1 441.4h.3M475.2 446.4h.3M490.2 445.3h.3M498.9 452h.3M464.1 450.4h.3M505.4 452.6h.3M485.2 435.7h.3M501.4 450.4h.3M464 437.8h.3M462.2 444.2h.3M496.2 454.4h.3M495.3 453.9h.3M496.3 445.2h.3M475.8 453.1h.3M498.8 443.5h.3M502.4 449h.3M505.2 450.2h.3M494.2 455.1h.3M474 453.1h.3M478.1 450.8h.3M484.2 450.1h.3M481.5 440.8h.3M471.3 447.7h.3M495.9 449h.3M485.6 446.8h.3M474.3 440.7h.3M494.7 448h.3M462.1 442.5h.3M503.3 453.1h.3M486 447.3h.3M476.9 454.3h.3M471.5 447.3h.3M505.2 447.9h.3M467.9 443.4h.3M479.4 441.8h.3M504.2 451.4h.3M483.1 448.4h.3M480.1 452.2h.3M501.3 445.2h.3M472.9 442.7h.3M482.4 448.9h.3M500.8 448.1h.3M495.9 453.1h.3M499.7 445.1h.3M467.8 452.7h.3M471.6 456.3h.3M497.4 446.4h.3M490.2 448.2h.3M471.1 448.9h.3M472 444.3h.3M495.2 442.5h.3M482.5 449h.3M470.8 446.9h.3M467.7 449.5h.3M502.5 447.7h.3M487.6 445.7h.3M465.9 441.6h.3M502.1 444.4h.3M496.1 450h.3M496 446.3h.3M484.5 452.1h.3M462.2 452.7h.3M484.3 448.5h.3M479.9 457.6h.3M480 443.2h.3M505.3 444.5h.3M477 450.1h.3M488.5 445.6h.3M501 442h.3M477.1 445.1h.3M496.1 444.3h.3M476.7 449.3h.3M494.1 446.9h.3M500 450.2h.3M501 447.2h.3M499.3 451.7h.3M487.5 449.7h.3M483.1 451.7h.3M488.8 450.7h.3M477.5 450.8h.3M467.8 446.3h.3M488.8 446.2h.3M500.7 443.1h.3M488.9 447.5h.3M465.5 446.7h.3M471.8 455h.3M471.5 445.1h.3M499.5 443.3h.3M486.2 442.8h.3M495.6 450.3h.3M481.4 448.3h.3M497.8 448h.3M478.9 453.7h.3M491.5 446.8h.3M494 447h.3M488.7 449.9h.3M495.3 457.6h.3M496.1 446.2h.3M495.6 448h.3M485.5 446.9h.3M501.2 441.2h.3M493.2 450h.3M465.9 448.3h.3M462.6 448.8h.3M500.7 439.2h.3M492.5 443.5h.3M481.1 458h.3M477.2 453.4h.3M501.3 450.6h.3M504.1 440.3h.3M474.8 448.7h.3M485.3 446.9h.3M481.7 442.3h.3M478.4 448h.3M468.1 447.5h.3M467.9 449h.3M463.6 446.9h.3M474.6 446.9h.3M476.5 439h.3M472.6 423.3h.3M492.1 443.3h.3M488.1 450.9h.3M483 449.3h.3M486.8 445.1h.3M480.2 443.9h.3M467.3 443.1h.3M484.3 449.5h.3M485 448.5h.3M481.3 448.3h.3M504.1 444.2h.3M501 447.9h.3M484.2 454h.3M474.2 446.4h.3M496.5 448h.3M473.6 449.4h.3M474.4 450.4h.3M488.6 444.5h.3M472.8 442.5h.3M474.7 449h.3M474.9 441.9h.3M470.9 454.6h.3M489.3 447.5h.3M462.3 447.6h.3M479 452.5h.3M488.8 444.8h.3M505 454.2h.3M480.7 447.7h.3M496.2 441.1h.3M496.2 439.5h.3M485.1 445.7h.3M490.3 449.2h.3M473 446.4h.3M474.6 445.7h.3M476.9 451.9h.3M482.6 454.2h.3M483.2 443.1h.3M467.2 450.6h.3M469.6 453.6h.3M471.9 448.8h.3M468.1 448.9h.3M501.1 453.4h.3M484.1 440.8h.3M495.9 427.6h.3M476.2 450h.3M488.5 451.2h.3M462.5 446.9h.3M489 457h.3M500.1 448.8h.3M475.1 443.5h.3M499.5 449.8h.3M470.8 451.7h.3M478.7 446.2h.3M477.9 449.3h.3M480.4 455.8h.3M472.9 452h.3M473.4 449.4h.3M468 446.8h.3M492.7 445.5h.3M478.9 446.2h.3M488.9 437.2h.3M480.1 452.5h.3M466.6 451.1h.3M462.6 458.5h.3M484.9 448.1h.3M490 448.7h.3M467.9 445.2h.3M484.3 445.1h.3M484.2 456.7h.3M501.6 451.5h.3M503.9 442.4h.3M465 453h.3M491.5 443h.3M489.6 451.6h.3M486 445.9h.3M496.2 443h.3M466.4 448.2h.3M492.6 449.8h.3M500.3 442.1h.3M492.4 446.9h.3M502.3 444.1h.3M478.8 441.2h.3M478.9 437.4h.3M476.8 447.7h.3M481.3 444h.3M480.3 450h.3M501.2 452.9h.3M482.9 448.5h.3M477 440.9h.3M479.9 443.7h.3M475 444.7h.3M490.2 450.7h.3M490.2 436.2h.3M462.3 449.5h.3M498.9 455.6h.3M482.4 450.7h.3M502.7 444.9h.3M478.2 447.3h.3M492.9 451.1h.3M490 444.4h.3M486.1 443.9h.3M484.5 444.1h.3M484.6 446.7h.3M488.4 449.6h.3M476.7 451.1h.3M462.7 446.6h.3M492.6 445.9h.3M501 450.2h.3M499.2 448.5h.3M475.4 446.3h.3M462.2 443.4h.3M467.2 456.8h.3M472.5 449.9h.3M462.8 456h.3M488.9 449.3h.3M490.4 448.7h.3M478.1 448.4h.3M484.2 448.5h.3M490.3 454.8h.3M504.9 452.9h.3M500.9 452.8h.3M484.2 444.4h.3M481.2 447.6h.3M462.8 443.4h.3M505 451.4h.3M492.9 445.2h.3M495.1 442.9h.3M473.8 444.4h.3M462.1 452.7h.3M488.7 450.4h.3M473.5 450h.3M476.2 453.6h.3M493.8 452.8h.3M472.9 448.5h.3M463.7 446.2h.3M471.5 435.9h.3M477.2 442.6h.3M505 439.3h.3M494.9 448h.3M491.5 452.5h.3M469.1 447.9h.3M499.8 442h.3M476.6 443.9h.3M500.2 455.1h.3M492.5 451.7h.3M501.3 454.9h.3M499 447.6h.3M484.3 448.7h.3M484.4 443.3h.3M464.9 448.7h.3M479 450.4h.3M478.2 449h.3M485.4 450.8h.3M500.5 452.5h.3M498.8 449.9h.3M473 441.4h.3M485.7 450.1h.3M499 453.6h.3M477.9 449.3h.3M462.9 444.9h.3M471.8 437.5h.3M481.3 446.3h.3M467.5 441.5h.3M477.5 447.7h.3M473 444.3h.3M494.8 446.9h.3M462.4 460.3h.3M478.7 448.4h.3M475.8 448h.3M486 449.7h.3M470.6 454.3h.3M495.5 444h.3M462.7 444.6h.3M466.5 442.8h.3M502.5 444h.3M475.3 449.6h.3M476.1 445.8h.3M477 452.3h.3M499.3 451.2h.3M502.2 448.8h.3M505 453.6h.3M485.9 439.5h.3M501.3 456.5h.3M476.8 457.6h.3M484.2 452.2h.3M480.1 448.1h.3M479.9 450.3h.3M488.1 442.6h.3M467.7 449.6h.3M462.5 443h.3M504.3 453.4h.3M500.8 439.8h.3M484.1 445.4h.3M478.8 443.3h.3M471.5 448.9h.3M466.4 451.2h.3M482.7 448.5h.3M500.1 445.7h.3M490.4 454.2h.3M505.2 449.2h.3M486.2 446.6h.3M486.8 444.3h.3M475.4 455.3h.3M462.1 454.1h.3M496.2 462.5h.3M484.2 452.3h.3M501.4 444.9h.3M485.2 449.6h.3M473.7 452.1h.3M483.4 445.5h.3M478.5 450.4h.3M484.5 445h.3M501.4 456h.3M500 447h.3M487.3 447h.3M484.8 446.8h.3M497.4 449.5h.3M496.5 451.8h.3M484.2 449.6h.3M462.2 451.6h.3M501.3 443.6h.3M486.6 453.6h.3M495 439.9h.3M492.8 453.1h.3M491.5 456.2h.3M472.9 451.9h.3M479.9 443.7h.3M486.9 449.7h.3M466.9 445.6h.3M490.1 444.9h.3M468.7 453.2h.3M499.2 451.8h.3M468 446.9h.3M499.6 458.1h.3M476.9 450h.3M489.4 448.4h.3M479.9 454.4h.3M489.7 449.4h.3M500.5 444.6h.3M498.7 444h.3M471.6 450.1h.3M486.3 442.5h.3M502.7 453.2h.3M488.7 442.7h.3M492.5 450.1h.3M468.1 453.9h.3M484.3 446.5h.3M499.4 448.5h.3M488.6 451.2h.3M470.6 454.7h.3M468.8 450h.3M489.2 449h.3M469.3 448h.3M505.3 449.9h.3M496.7 446.4h.3M462.7 453.4h.3M490.9 444h.3M502.2 445.9h.3M488.1 456.8h.3M468.4 440.9h.3M502.6 459h.3M502.1 452.1h.3M488.9 441.6h.3M488.8 446.9h.3M499.6 449.2h.3M494.2 449.3h.3M501.4 447.6h.3M480 443.2h.3M485.2 450.3h.3M474.3 451.5h.3M502.6 453.2h.3M485.2 443.6h.3M476 454.8h.3M498.1 448.1h.3M467.7 436.6h.3M486.2 445.4h.3M504.4 440.2h.3M484.1 436.6h.3M466.1 454.6h.3M491.8 455h.3M495.4 450.7h.3M466.7 443.5h.3M496.5 445.1h.3M464.1 452.6h.3M505.4 458.8h.3M464.6 448.2h.3M495.6 443.8h.3M489.1 456.8h.3M495.9 441h.3M488.5 420.5h.3M478.1 449.1h.3M476.2 448.2h.3M488.6 455.4h.3M478.1 452.4h.3M499.9 450.7h.3M500.1 452h.3M489 447.2h.3M475.1 449.6h.3M496.2 452.2h.3M487.8 450.2h.3M496 445.1h.3M499.5 453.8h.3M487 444.7h.3M502.8 448.5h.3M492.9 450.9h.3M475.4 456.4h.3M464.1 449.1h.3M490.9 444.1h.3M472.9 447.7h.3M475.8 448.5h.3M481.6 449h.3M496.3 445h.3M475.4 460.5h.3M464 445.7h.3M484.9 451h.3M468.2 451h.3M470.5 447.8h.3M480.2 448.1h.3M498.5 443.2h.3M501.7 444.5h.3M462.6 445.9h.3M500.4 453.4h.3M477.1 451.6h.3M469.4 453.5h.3M504.3 450.5h.3M492.6 453h.3M467.5 449.9h.3M501.7 445.7h.3M471.6 443.4h.3M500.7 448.7h.3M502.2 450.4h.3M465.5 456.1h.3M499 447.4h.3M495.4 453.4h.3M468.1 450.8h.3M476.8 451.9h.3M476 448.3h.3M474.9 452.5h.3M494.4 450.8h.3M467.6 443.9h.3M464.4 444.7h.3M480.3 451.7h.3M465.7 446.7h.3M476.8 450.2h.3M478.9 447.8h.3M463 451.3h.3M481.3 444.1h.3M494.9 454h.3M471 448.3h.3M494.3 444.4h.3M474.4 448.9h.3M479.9 448.9h.3M488.5 454.5h.3M471.6 450h.3M492.8 449.8h.3M485.4 442.2h.3M488.8 449.8h.3M475.6 448.4h.3M474.7 450.2h.3M498.7 446.7h.3M475.1 443.3h.3M496 443.7h.3M463 450.8h.3M486 446.5h.3M489.5 446.5h.3M470.8 445.4h.3M484.1 442.2h.3M500.4 450.5h.3M481.6 445.5h.3M467.3 449.6h.3M503.1 448.2h.3M500.5 438.3h.3M482.4 446.1h.3M488.7 450.5h.3M501.8 453.2h.3M466 445.5h.3M485.5 461.8h.3M478.1 455h.3M481.5 450.8h.3M488.7 444.1h.3M462 446.4h.3M480.3 438.7h.3M496 450.2h.3M499.1 452.9h.3M487.4 455.2h.3M489.8 444.7h.3M491.6 451.9h.3M504.8 448.2h.3M467.7 446.9h.3M499.8 442.3h.3M464.6 449.5h.3M468.5 448.7h.3M476.9 444.7h.3M504.2 450.5h.3M486.4 443.4h.3M484.9 451.3h.3M475.8 449.8h.3M482.1 445.4h.3M471.4 453.7h.3M485.5 445.3h.3M472.4 443.5h.3M475.1 447.8h.3M501.5 452.7h.3M482.6 451.5h.3M478.1 444.9h.3M477.4 443.7h.3M466.8 450.8h.3M478.5 445.1h.3M481.5 449.2h.3M493.8 444.7h.3M496.1 449.9h.3M462.2 455.1h.3M501 437.9h.3M482.6 451.3h.3M477.2 448.9h.3M462.2 444.8h.3M501.2 448.7h.3M479.7 449.6h.3M491.4 440.7h.3M477.2 445.6h.3M501.1 437.2h.3M492.8 448.1h.3M468.1 450.3h.3M476 440.7h.3M473.7 442.3h.3M488.9 451.1h.3M501.1 449.4h.3M501.1 447.3h.3M468.5 453.5h.3M490.8 448h.3M491.3 450.5h.3M494 447.4h.3M505.1 441.4h.3M469.4 456.9h.3M493.6 446.9h.3M478.8 450.4h.3M477.2 455.3h.3M504.2 444.5h.3M498 442.8h.3M499.7 445.8h.3M479.9 450.3h.3M464.2 442.7h.3M462.7 446.4h.3M501.5 448.9h.3M486.8 437.3h.3M488.5 448.2h.3M489.8 441.8h.3M484.7 448.7h.3M484.3 457.6h.3M488.3 448.1h.3M462.4 438.8h.3M484.9 445.5h.3M478.5 446.5h.3M500.3 454.1h.3M467.3 446.7h.3M491.1 454.3h.3M473.4 445h.3M490.5 447.3h.3M490.9 451.2h.3M492.5 456.3h.3M491.1 444.3h.3M468.7 446h.3M500.3 452.6h.3M501.4 453.1h.3M494.3 447.2h.3M466.8 450.1h.3M481.3 446.1h.3M479.7 443.3h.3M462.8 454.1h.3M466.4 447.7h.3M488.7 444.2h.3M501.3 446.2h.3M480.1 451.8h.3M464.1 441h.3M504.9 443.7h.3M485.6 448.9h.3M492.3 453.2h.3M491 447.9h.3M464 452.5h.3M461.7 452.2h.3M475.4 444.4h.3M463.8 445.6h.3M488.7 442.8h.3M499.8 454.2h.3M471.6 452.2h.3M475.1 455.9h.3M490.1 448.9h.3M487.2 454.9h.3M473.2 446.2h.3M484.5 443.4h.3M484.3 446.5h.3M500.5 447h.3M505 444.4h.3M505.2 444.5h.3M491.1 444.7h.3M499.1 446.6h.3M479.1 443.4h.3M500.5 450.4h.3M492.7 446.6h.3M495.3 448.3h.3M491.4 446.1h.3M474.4 451.3h.3M499.2 446.1h.3M488.9 448.1h.3M483.9 447.7h.3M479 440.2h.3M472.9 449.4h.3M492 445.9h.3M491.6 455.8h.3M481.7 446.8h.3M501.4 454.9h.3M499.7 446.9h.3M502.4 450.8h.3M476.8 455.1h.3M480.1 446.6h.3M478.8 445.2h.3M487.3 451.2h.3M461.8 448.1h.3M488.1 446.6h.3M488.2 430.8h.3M492.9 449.2h.3M498.6 433.9h.3M476 451.7h.3M485.3 449.6h.3M472.1 450.9h.3M499.7 445.7h.3M471 443.5h.3M499.5 448.7h.3M490.2 441.2h.3M481.2 442h.3M474 442.5h.3M465.7 452.3h.3M488.4 450.3h.3M476.8 453.4h.3M485.1 441.6h.3M499.6 452.7h.3M491.2 456.8h.3M478 453.3h.3M481.4 451.8h.3M499.1 451.3h.3M485.8 446h.3M477.1 445.9h.3M488.1 444.8h.3M478.4 439h.3M484.1 445.7h.3M478.5 448.3h.3M495.8 449.4h.3M467 448.8h.3M489.4 452.4h.3M499.2 449.3h.3M499.5 447.4h.3M481.6 451h.3M463.3 451.3h.3M502.9 450h.3M483.6 441.8h.3M475.1 448.7h.3M487.4 444.5h.3M495.8 452.6h.3M490.6 449.3h.3M479.8 445.8h.3M468 447.3h.3M470.2 448.4h.3M500.3 443.1h.3M463.5 442.4h.3M462.1 444.6h.3M463.3 451.8h.3M480.5 450.5h.3M466.7 453.6h.3M490.4 452.9h.3M489.8 449.7h.3M498 446.2h.3M498.9 457.1h.3M474 450.1h.3M477 441.6h.3M496.1 446.4h.3M478 451.3h.3M501 444.2h.3M478.5 449.6h.3M491.1 440.9h.3M505.3 443.3h.3M488.1 448.4h.3M479.3 432h.3M478.8 447.7h.3M502.3 452.9h.3M495.3 449.2h.3M492.8 449.7h.3M472.1 445.6h.3M471.5 448.9h.3M477.1 445.3h.3M491.7 450.9h.3M489.3 443.9h.3M501.1 451.5h.3M499.7 456.3h.3M479.8 446.8h.3M490.1 448.1h.3M478.5 447h.3M462.6 449.7h.3M481.4 446.2h.3M497.9 448.8h.3M485.9 440.7h.3M468.2 440.8h.3M472.4 448.2h.3M469.3 449.5h.3M465.6 447.6h.3M482.6 453.1h.3M481.5 444h.3M498.9 448.8h.3M505 446.4h.3M484.2 442.6h.3M504.1 448.5h.3M463.4 436.5h.3M498.3 452.4h.3M463.3 445.6h.3M490.1 446h.3M496.4 448.7h.3M473.3 453.4h.3M468.2 443.1h.3M480.9 458h.3M484.7 448h.3M492.3 447.7h.3M489.2 446.9h.3M504.8 447.2h.3M481.3 448.3h.3M479 449.1h.3M484.3 462.8h.3M466.6 435.9h.3M480.8 449.6h.3M497.4 446.3h.3M484 443.2h.3M500.2 445.1h.3M504.9 442.4h.3M488.3 457.1h.3M489.6 448.5h.3M472.4 445h.3M492.5 447.6h.3M498 451.7h.3M483 450.4h.3M480.3 452.6h.3M482.7 438.5h.3M502.5 438.9h.3M503.5 448h.3M478.6 449.7h.3M468.8 453.3h.3M487.9 447.8h.3M487.5 445.4h.3M466.6 452.1h.3M501.2 453.9h.3M502.7 448.3h.3M496.5 443.8h.3M488.2 451.4h.3M490.1 453.6h.3M485.4 416.4h.3M476.8 447.2h.3M485.2 447.3h.3M499.7 441.4h.3M484.4 448.9h.3M488.1 443.5h.3M471.9 444.1h.3M468.2 451.3h.3M494.3 445.5h.3M485.4 450.8h.3M465 450.2h.3M477 437.9h.3M486.3 449.5h.3M466.9 447h.3M487.3 444.1h.3M476.7 443.1h.3M477.2 445.6h.3M483.8 458.3h.3M492.4 444.2h.3M505 445.7h.3M475.6 414.6h.3M495.9 452.7h.3M470.8 449.2h.3M500.9 442.7h.3M495.5 441.7h.3M484.3 436.5h.3M505.6 441.5h.3M486.6 449h.3M463.4 446.7h.3M481.7 454.3h.3M504.8 447.1h.3M503.7 448.7h.3M499.8 448h.3M484.3 447h.3M496.4 458.3h.3M474.6 445.7h.3M488.8 450.3h.3M489.7 447.3h.3M496 449.8h.3M484.3 441.9h.3M469.5 446.2h.3M464.2 447.7h.3M482.5 444h.3M504.6 450h.3M488.5 442.9h.3M492.4 445.2h.3M475 452.2h.3M481 446h.3M464 443.9h.3M504.2 446.3h.3M486.7 450.8h.3M490.7 447.7h.3M484.4 446.6h.3M473.5 452.4h.3M479.2 446.6h.3M497.5 453.6h.3M488.6 446.1h.3M497.2 451.8h.3M498.5 437.3h.3M478.6 443.6h.3M464.4 446.9h.3M476.5 442.5h.3M499.7 448.2h.3M479.4 453h.3M488.2 455.1h.3M478.8 449h.3M499 449h.3M470.5 450.3h.3M474.7 445.2h.3M471.5 444.5h.3M471.2 448.3h.3M485.8 443.3h.3M484.6 438.1h.3M499.5 447.7h.3M505 441.9h.3M482.8 444.6h.3M464.9 452.5h.3M474.9 444.5h.3M478.8 440.4h.3M499.9 453.4h.3M477.1 439.1h.3M478.7 451.2h.3M490.2 443.6h.3M479.8 448.3h.3M471.7 440.6h.3M486.2 450.1h.3M484.9 449.8h.3M488.7 445.1h.3M490.1 446.8h.3M474.9 453.2h.3M504.8 450.8h.3M499.6 451.7h.3M471.4 447.8h.3M496.2 448.5h.3M482.7 452.7h.3M462.8 444.8h.3M467 444.4h.3M499.3 457.2h.3M473.5 451.3h.3M502.4 441.8h.3M481.2 445.3h.3M470.7 442.8h.3M496.2 440.2h.3M495.9 449.6h.3M500.9 440.7h.3M501.1 454.7h.3M488.1 447.9h.3M488.2 440.3h.3M472 447.8h.3M478.1 453.6h.3M502.5 456.6h.3M498.3 443.9h.3M469.5 435.2h.3M499.5 450.6h.3M485 447.7h.3M499.6 447.5h.3M478.1 447.4h.3M485.8 444.8h.3M494.3 449.1h.3M502.9 433.9h.3M475.4 445.8h.3M488.6 446.1h.3M471.1 451h.3M478.5 440.3h.3M500 457.6h.3M496.5 448h.3M496 439.6h.3M490.8 451h.3M466.6 447h.3M466.6 447.8h.3M468.3 446.7h.3M501.6 456h.3M502.5 448.3h.3M484.1 449.3h.3M478.2 448.7h.3M489.7 449.7h.3M504.2 451.9h.3M490.2 451h.3M462.5 448.3h.3M495 450.9h.3M504.1 456.8h.3M478.1 442h.3M483.2 448.6h.3M474.8 446.8h.3M483.2 448.8h.3M488.1 454.7h.3M476.3 452.1h.3M487.2 449.8h.3M479.7 443.4h.3M492.3 447.8h.3M486.4 448.8h.3M481.2 454.6h.3M470.8 441.9h.3M471.9 441h.3M490.9 452.3h.3M475.9 443.3h.3M490.7 447.9h.3M492.6 446.8h.3M481.2 456.8h.3M480.1 453.5h.3M499.3 452.3h.3M474.3 454.3h.3M485.4 448.1h.3M499.6 419.4h.3M493.7 449.9h.3M488.3 444.7h.3M484.2 443h.3M488.5 449.5h.3M485.6 448.2h.3M495.5 442.6h.3M498.7 441.4h.3M482.4 435.7h.3M488.3 446.5h.3M474.7 440.8h.3M486.6 443.2h.3M468.6 457.3h.3M484 445.5h.3M496.1 445.3h.3M473.6 451.2h.3M483.9 450.7h.3M496.2 455.6h.3M505.4 449.8h.3M501 449h.3M473.5 452.7h.3M488.5 446.8h.3M465.4 453.1h.3M484.3 446.9h.3M488 455h.3M482.7 441.7h.3M493.9 455.5h.3M471.6 441h.3M476.2 441.1h.3M501.2 443h.3M495.9 448.6h.3M475.3 447.6h.3M486.2 421.3h.3M472.3 449.5h.3M462.5 450.6h.3M475.5 441.3h.3M480 453.5h.3M479.8 443.1h.3M477.2 453.3h.3M505.1 450.2h.3M501.4 450.5h.3M495.6 454.9h.3M470.9 442.4h.3M482.8 449.7h.3M502.5 441.5h.3M487.2 442h.3M480.1 453.7h.3M498.9 442.5h.3M499.2 443.7h.3M485.7 438.3h.3M480 452.1h.3M493.7 448.4h.3M493.8 447h.3M485.3 447.8h.3M468.6 455.9h.3M469.6 448.5h.3M477.6 442.1h.3M476.9 448.3h.3M504 440.2h.3M499.7 451.8h.3M484.6 453.3h.3M486.5 455.2h.3M499.4 450.2h.3M479 442.3h.3M485.4 446.4h.3M499.9 448.1h.3M477.7 454h.3M488.3 447.1h.3M485.7 444.2h.3M478.7 450.1h.3M499.3 447.9h.3M475 449.4h.3M464.3 444.7h.3M478.5 449.4h.3M495 457.2h.3M476.7 440.9h.3M462.3 444.3h.3M496.2 446.1h.3M500.8 454.2h.3M478.8 445.4h.3M489.4 441.8h.3M487.1 445.4h.3M496.4 447.8h.3M464.1 443.9h.3M469.1 442h.3M496.1 438.5h.3M485.6 447.4h.3M498.2 442.3h.3M500.3 438.9h.3M464.4 442h.3M493.7 442h.3M491.6 445.6h.3M504.2 443.5h.3M468.1 446.1h.3M479.9 447.6h.3M469.4 449.9h.3M498.1 453.2h.3M493.9 442.2h.3M499.2 452.9h.3M491.5 446h.3M488.1 445h.3M471 455.9h.3M484.3 448.1h.3M493.9 443.5h.3M485.6 444.6h.3M497.1 422h.3M479 447.7h.3M485.1 441.1h.3M492.3 447.7h.3M488.1 447.2h.3M484.6 451.8h.3M498 452.5h.3M480 445.3h.3M489.3 451.6h.3M498.2 451.9h.3M496.9 442.7h.3M503 448.1h.3M484.4 442.7h.3M474.8 441.8h.3M500.3 448h.3M499.8 451.7h.3M481.4 453.6h.3M501.1 447.2h.3M489.2 450.4h.3M481.8 440h.3M490.2 443.3h.3M480.5 444.5h.3M462.4 452.9h.3M496.1 423.8h.3M490.1 443.2h.3M496.1 447.5h.3M499.9 450.6h.3M480.4 442h.3M469.9 453.8h.3M475.8 450.2h.3M478 444.6h.3M462.2 445.1h.3M474.4 454h.3M479 451.6h.3M497 453.2h.3M473 444.4h.3M464.1 436.6h.3M481.1 455.5h.3M474.6 439.9h.3M462.4 460.9h.3M477.5 448.2h.3M500.3 446.5h.3M477.5 450.5h.3M466.7 444.9h.3M464.2 449.5h.3M477.1 449.9h.3M468.2 453.2h.3M499.5 445.4h.3M488.3 453.3h.3M484.5 441.8h.3M462.2 411.8h.3M480.1 450.5h.3M463.3 444.7h.3M471.4 436.5h.3M487.5 449.4h.3M488.6 447.6h.3M500.7 450.3h.3M484.9 454h.3M488.3 438.9h.3M477.1 448.9h.3M479.9 447.3h.3M492.4 443.3h.3M477.1 444.8h.3M466.6 451.1h.3M491.2 448.1h.3M487.7 453.3h.3M498 457.9h.3M478.7 453.4h.3M490.8 446.9h.3M477.7 448.8h.3M500.9 453.2h.3M480.3 448.3h.3M481.1 440.6h.3M475 450.3h.3M499.9 442.7h.3M499.4 449.3h.3M499.6 455.8h.3M484 441.4h.3M478.7 451.9h.3M469.7 447h.3M486.5 448.4h.3" stroke="#111" stroke-width="0.95" stroke-linecap="square" fill="none"/>
<line x1="376.8" y1="401" x2="376.8" y2="467.5" stroke="#5d7d5d" stroke-width="0.7"/>
<line x1="461.7" y1="401" x2="461.7" y2="467.5" stroke="#a8d0a0" stroke-width="0.5"/>
<line x1="470.6" y1="401" x2="470.6" y2="467.5" stroke="#777" stroke-width="0.6"/>
<rect x="305" y="469.3" width="37.5" height="4.9" fill="#777"/>
<rect x="342.5" y="469.3" width="49.8" height="4.9" fill="#fff"/>
<rect x="392.3" y="469.3" width="16.5" height="4.9" fill="#222"/>
<rect x="408.8" y="469.3" width="34.3" height="4.9" fill="#fff"/>
<rect x="443.1" y="469.3" width="19.9" height="4.9" fill="#222"/>
<rect x="463" y="469.3" width="25.5" height="4.9" fill="#fff"/>
<rect x="488.5" y="469.3" width="13.7" height="4.9" fill="#222"/>
<rect x="502.2" y="469.3" width="3.1" height="4.9" fill="#fff"/>
<rect x="305" y="469.3" width="200.3" height="4.9" fill="none" stroke="#333" stroke-width="0.5"/>
<line x1="305.3" y1="475.8" x2="505.3" y2="475.8" stroke="#222" stroke-width="0.7"/>
<line x1="305.3" y1="475.8" x2="305.3" y2="478.3" stroke="#222" stroke-width="0.7"/>
<text x="305.3" y="488.4" font-size="7.8" text-anchor="middle" fill="#222">140</text>
<line x1="355.3" y1="475.8" x2="355.3" y2="478.3" stroke="#222" stroke-width="0.7"/>
<text x="355.3" y="488.4" font-size="7.8" text-anchor="middle" fill="#222">145</text>
<line x1="405.3" y1="475.8" x2="405.3" y2="478.3" stroke="#222" stroke-width="0.7"/>
<text x="405.3" y="488.4" font-size="7.8" text-anchor="middle" fill="#222">150</text>
<line x1="455.3" y1="475.8" x2="455.3" y2="478.3" stroke="#222" stroke-width="0.7"/>
<text x="455.3" y="488.4" font-size="7.8" text-anchor="middle" fill="#222">155</text>
<line x1="505.3" y1="475.8" x2="505.3" y2="478.3" stroke="#222" stroke-width="0.7"/>
<text x="505.3" y="488.4" font-size="7.8" text-anchor="middle" fill="#222">160</text>
<text x="377.7" y="501.8" font-size="8.6" fill="#222" stroke="#222" stroke-width="0.15" textLength="55.3" lengthAdjust="spacingAndGlyphs">chr1 position (Mb)</text>
<path d="M305 513Q305 511 307 511H375Q376.5 511 376.5 509.5Q376.5 511 378 511H395.3Q397.3 511 397.3 513" fill="none" stroke="#444" stroke-width="0.7"/>
<path d="M411.2 513Q411.2 511 413.2 511H469.5Q471 511 471 509.5Q471 511 472.5 511H503.8Q505.8 511 505.8 513" fill="none" stroke="#444" stroke-width="0.7"/>
<text x="345.4" y="518.3" font-size="5.2" font-style="italic" fill="#333">BCL9</text>
<text x="453.8" y="518.3" font-size="5.2" font-style="italic" fill="#333">MEF2D</text>
<text x="301.5" y="519" font-size="3.6" fill="#5868a0">1:147,013,182</text>
<text x="374" y="519" font-size="3.6" fill="#5868a0">1:147,098,217</text>
<text x="412.3" y="519" font-size="3.6" fill="#5868a0">1:156,433,519</text>
<text x="487.3" y="519" font-size="3.6" fill="#5868a0">1:156,470,620</text>
<line x1="304" y1="527" x2="397.3" y2="527" stroke="#6a78a8" stroke-width="0.7"/>
<path d="M305.5 527L308.5 523.5L308.5 530.5L305.5 527Z" fill="url(#gBlue)" stroke="#5868a0" stroke-width="0.4"/>
<path d="M309 527L312 523.5L312 530.5L309 527Z" fill="url(#gBlue)" stroke="#5868a0" stroke-width="0.4"/>
<path d="M312.5 527L315.5 523.5L315.5 530.5L312.5 527Z" fill="url(#gBlue)" stroke="#5868a0" stroke-width="0.4"/>
<path d="M316 527L319 523.5L319 530.5L316 527Z" fill="url(#gBlue)" stroke="#5868a0" stroke-width="0.4"/>
<rect x="320" y="522" width="2.4" height="10.3" fill="url(#gBlue)" stroke="#5868a0" stroke-width="0.4"/>
<path d="M325.6 524.5L323.6 527L325.6 529.5" fill="none" stroke="#5868a0" stroke-width="0.6"/>
<rect x="324" y="522" width="2.4" height="10.3" fill="url(#gBlue)" stroke="#5868a0" stroke-width="0.4"/>
<path d="M329.6 524.5L327.6 527L329.6 529.5" fill="none" stroke="#5868a0" stroke-width="0.6"/>
<rect x="328" y="522" width="2.4" height="10.3" fill="url(#gBlue)" stroke="#5868a0" stroke-width="0.4"/>
<path d="M333.6 524.5L331.6 527L333.6 529.5" fill="none" stroke="#5868a0" stroke-width="0.6"/>
<rect x="332.5" y="522" width="2.4" height="10.3" fill="url(#gBlue)" stroke="#5868a0" stroke-width="0.4"/>
<path d="M338.1 524.5L336.1 527L338.1 529.5" fill="none" stroke="#5868a0" stroke-width="0.6"/>
<rect x="337.3" y="522" width="25.4" height="10.3" fill="url(#gBlue)" stroke="#5868a0" stroke-width="0.4"/>
<rect x="365" y="522" width="2.5" height="10.3" fill="url(#gBlue)" stroke="#5868a0" stroke-width="0.4"/>
<rect x="369.6" y="522" width="12.7" height="10.3" fill="url(#gBlue)" stroke="#5868a0" stroke-width="0.4"/>
<rect x="382.3" y="524" width="15" height="6" fill="url(#gBlueL)" stroke="#5868a0" stroke-width="0.4"/>
<text x="350" y="528.3" font-size="3.5" text-anchor="middle" fill="#fff">4</text>
<text x="389" y="528.3" font-size="3.5" text-anchor="middle" fill="#fff">10</text>
<line x1="412" y1="527" x2="505" y2="527" stroke="#c84848" stroke-width="0.7"/>
<rect x="412.3" y="524.2" width="45" height="5.8" fill="url(#gRedL)" stroke="#c84848" stroke-width="0.4"/>
<text x="434" y="528.4" font-size="3.5" text-anchor="middle" fill="#a33">11</text>
<rect x="457.6" y="521.2" width="2.6" height="11.6" fill="url(#gRed)" stroke="#c84848" stroke-width="0.4"/>
<path d="M463.3 524.7L461.3 527L463.3 529.3" fill="none" stroke="#c84848" stroke-width="0.6"/>
<rect x="462.4" y="521.2" width="2.6" height="11.6" fill="url(#gRed)" stroke="#c84848" stroke-width="0.4"/>
<path d="M468.1 524.7L466.1 527L468.1 529.3" fill="none" stroke="#c84848" stroke-width="0.6"/>
<rect x="467.1" y="521.2" width="2.6" height="11.6" fill="url(#gRed)" stroke="#c84848" stroke-width="0.4"/>
<path d="M472.8 524.7L470.8 527L472.8 529.3" fill="none" stroke="#c84848" stroke-width="0.6"/>
<rect x="471.9" y="521.2" width="2.6" height="11.6" fill="url(#gRed)" stroke="#c84848" stroke-width="0.4"/>
<path d="M477.6 524.7L475.6 527L477.6 529.3" fill="none" stroke="#c84848" stroke-width="0.6"/>
<rect x="476.6" y="521.2" width="2.6" height="11.6" fill="url(#gRed)" stroke="#c84848" stroke-width="0.4"/>
<path d="M482.3 524.7L480.3 527L482.3 529.3" fill="none" stroke="#c84848" stroke-width="0.6"/>
<rect x="481.4" y="521.2" width="2.6" height="11.6" fill="url(#gRed)" stroke="#c84848" stroke-width="0.4"/>
<path d="M487.1 524.7L485.1 527L487.1 529.3" fill="none" stroke="#c84848" stroke-width="0.6"/>
<rect x="486.1" y="521.2" width="2.6" height="11.6" fill="url(#gRed)" stroke="#c84848" stroke-width="0.4"/>
<path d="M491.8 524.7L489.8 527L491.8 529.3" fill="none" stroke="#c84848" stroke-width="0.6"/>
<rect x="490.9" y="521.2" width="2.6" height="11.6" fill="url(#gRed)" stroke="#c84848" stroke-width="0.4"/>
<path d="M496.6 524.7L494.6 527L496.6 529.3" fill="none" stroke="#c84848" stroke-width="0.6"/>
<rect x="495.6" y="521.2" width="2.6" height="11.6" fill="url(#gRed)" stroke="#c84848" stroke-width="0.4"/>
<path d="M501.3 524.7L499.3 527L501.3 529.3" fill="none" stroke="#c84848" stroke-width="0.6"/>
<path d="M500 524.5L505 527L500 529.5Z" fill="url(#gRed)" stroke="#c84848" stroke-width="0.4"/>
<text x="324.6" y="541.3" font-size="4.8" fill="#5cae4a" textLength="26.6" lengthAdjust="spacingAndGlyphs">INVERSION</text>
<text x="314" y="545.6" font-size="3.6" fill="#5868a0" textLength="47.5" lengthAdjust="spacingAndGlyphs">(1:147,092,880-147,210,813)</text>
<text x="418" y="541.3" font-size="4.8" fill="#d04848" textLength="24.3" lengthAdjust="spacingAndGlyphs">DELETION</text>
<text x="406.5" y="545.6" font-size="3.6" fill="#5868a0" textLength="47.3" lengthAdjust="spacingAndGlyphs">(1:147,211,200-156,458,487)</text>
<path d="M364 534.7V544.3L405.4 556.8L410 557.5" fill="none" stroke="#8a9a8a" stroke-width="0.6"/>
<path d="M397.7 534.7V544.3L322.7 556.8" fill="none" stroke="#7cc06a" stroke-width="0.6"/>
<path d="M480.7 532.4V544.6L400 555.8" fill="none" stroke="#c8a0a4" stroke-width="0.6"/>
<path d="M505 532.4V544.6L467.4 556.7" fill="none" stroke="#777" stroke-width="0.6"/>
<line x1="323" y1="570.4" x2="470" y2="570.4" stroke="#7a7a9a" stroke-width="0.7"/>
<rect x="323.1" y="565.7" width="33.9" height="9.9" fill="url(#gBlueL)" stroke="#5868a0" stroke-width="0.4"/>
<rect x="357" y="561.4" width="28.7" height="18" fill="url(#gBlue)" stroke="#5868a0" stroke-width="0.4"/>
<text x="371" y="571.6" font-size="4" text-anchor="middle" fill="#fff">10</text>
<path d="M390.3 567.4L388.3 570.4L390.3 573.4" fill="none" stroke="#5868a0" stroke-width="0.6"/>
<rect x="391.4" y="561.4" width="6.4" height="18" fill="url(#gBlue)" stroke="#5868a0" stroke-width="0.4"/>
<text x="394.6" y="571.6" font-size="4" text-anchor="middle" fill="#fff">9</text>
<path d="M403.5 567.4L401.5 570.4L403.5 573.4" fill="none" stroke="#5868a0" stroke-width="0.6"/>
<path d="M407.5 567.4L405.5 570.4L407.5 573.4" fill="none" stroke="#c84848" stroke-width="0.6"/>
<rect x="409.2" y="560.4" width="3.5" height="19.6" fill="url(#gRed)" stroke="#c84848" stroke-width="0.4"/>
<rect x="417.3" y="560.4" width="8.1" height="19.6" fill="url(#gRed)" stroke="#c84848" stroke-width="0.4"/>
<text x="421.4" y="571.6" font-size="4" text-anchor="middle" fill="#fff">5</text>
<rect x="427.7" y="560.4" width="6.9" height="19.6" fill="url(#gRed)" stroke="#c84848" stroke-width="0.4"/>
<text x="431.1" y="571.6" font-size="4" text-anchor="middle" fill="#fff">4</text>
<rect x="436.9" y="560.4" width="8.1" height="19.6" fill="url(#gRed)" stroke="#c84848" stroke-width="0.4"/>
<text x="440.9" y="571.6" font-size="4" text-anchor="middle" fill="#fff">3</text>
<rect x="447.3" y="560.4" width="4.6" height="19.6" fill="url(#gRed)" stroke="#c84848" stroke-width="0.4"/>
<text x="449.6" y="571.6" font-size="4" text-anchor="middle" fill="#fff">2</text>
<path d="M417.8 567.9L415.8 570.4L417.8 572.9" fill="none" stroke="#c84848" stroke-width="0.6"/>
<path d="M429.3 567.9L427.3 570.4L429.3 572.9" fill="none" stroke="#c84848" stroke-width="0.6"/>
<path d="M438.8 567.9L436.8 570.4L438.8 572.9" fill="none" stroke="#c84848" stroke-width="0.6"/>
<path d="M449.2 567.9L447.2 570.4L449.2 572.9" fill="none" stroke="#c84848" stroke-width="0.6"/>
<path d="M456.5 567.9L454.5 570.4L456.5 572.9" fill="none" stroke="#c84848" stroke-width="0.6"/>
<rect x="455.4" y="562.5" width="7.6" height="15.5" fill="url(#gRed)" stroke="#c84848" stroke-width="0.4"/>
<rect x="463" y="565.5" width="5.1" height="9.5" fill="url(#gRed)" stroke="#c84848" stroke-width="0.4"/>
<text x="459.5" y="571.6" font-size="4" text-anchor="middle" fill="#a33">1</text>
</g>
<rect x="0.5" y="0.5" width="519" height="587" fill="none" stroke="#555" stroke-width="1.2"/>
</svg></body></html>
